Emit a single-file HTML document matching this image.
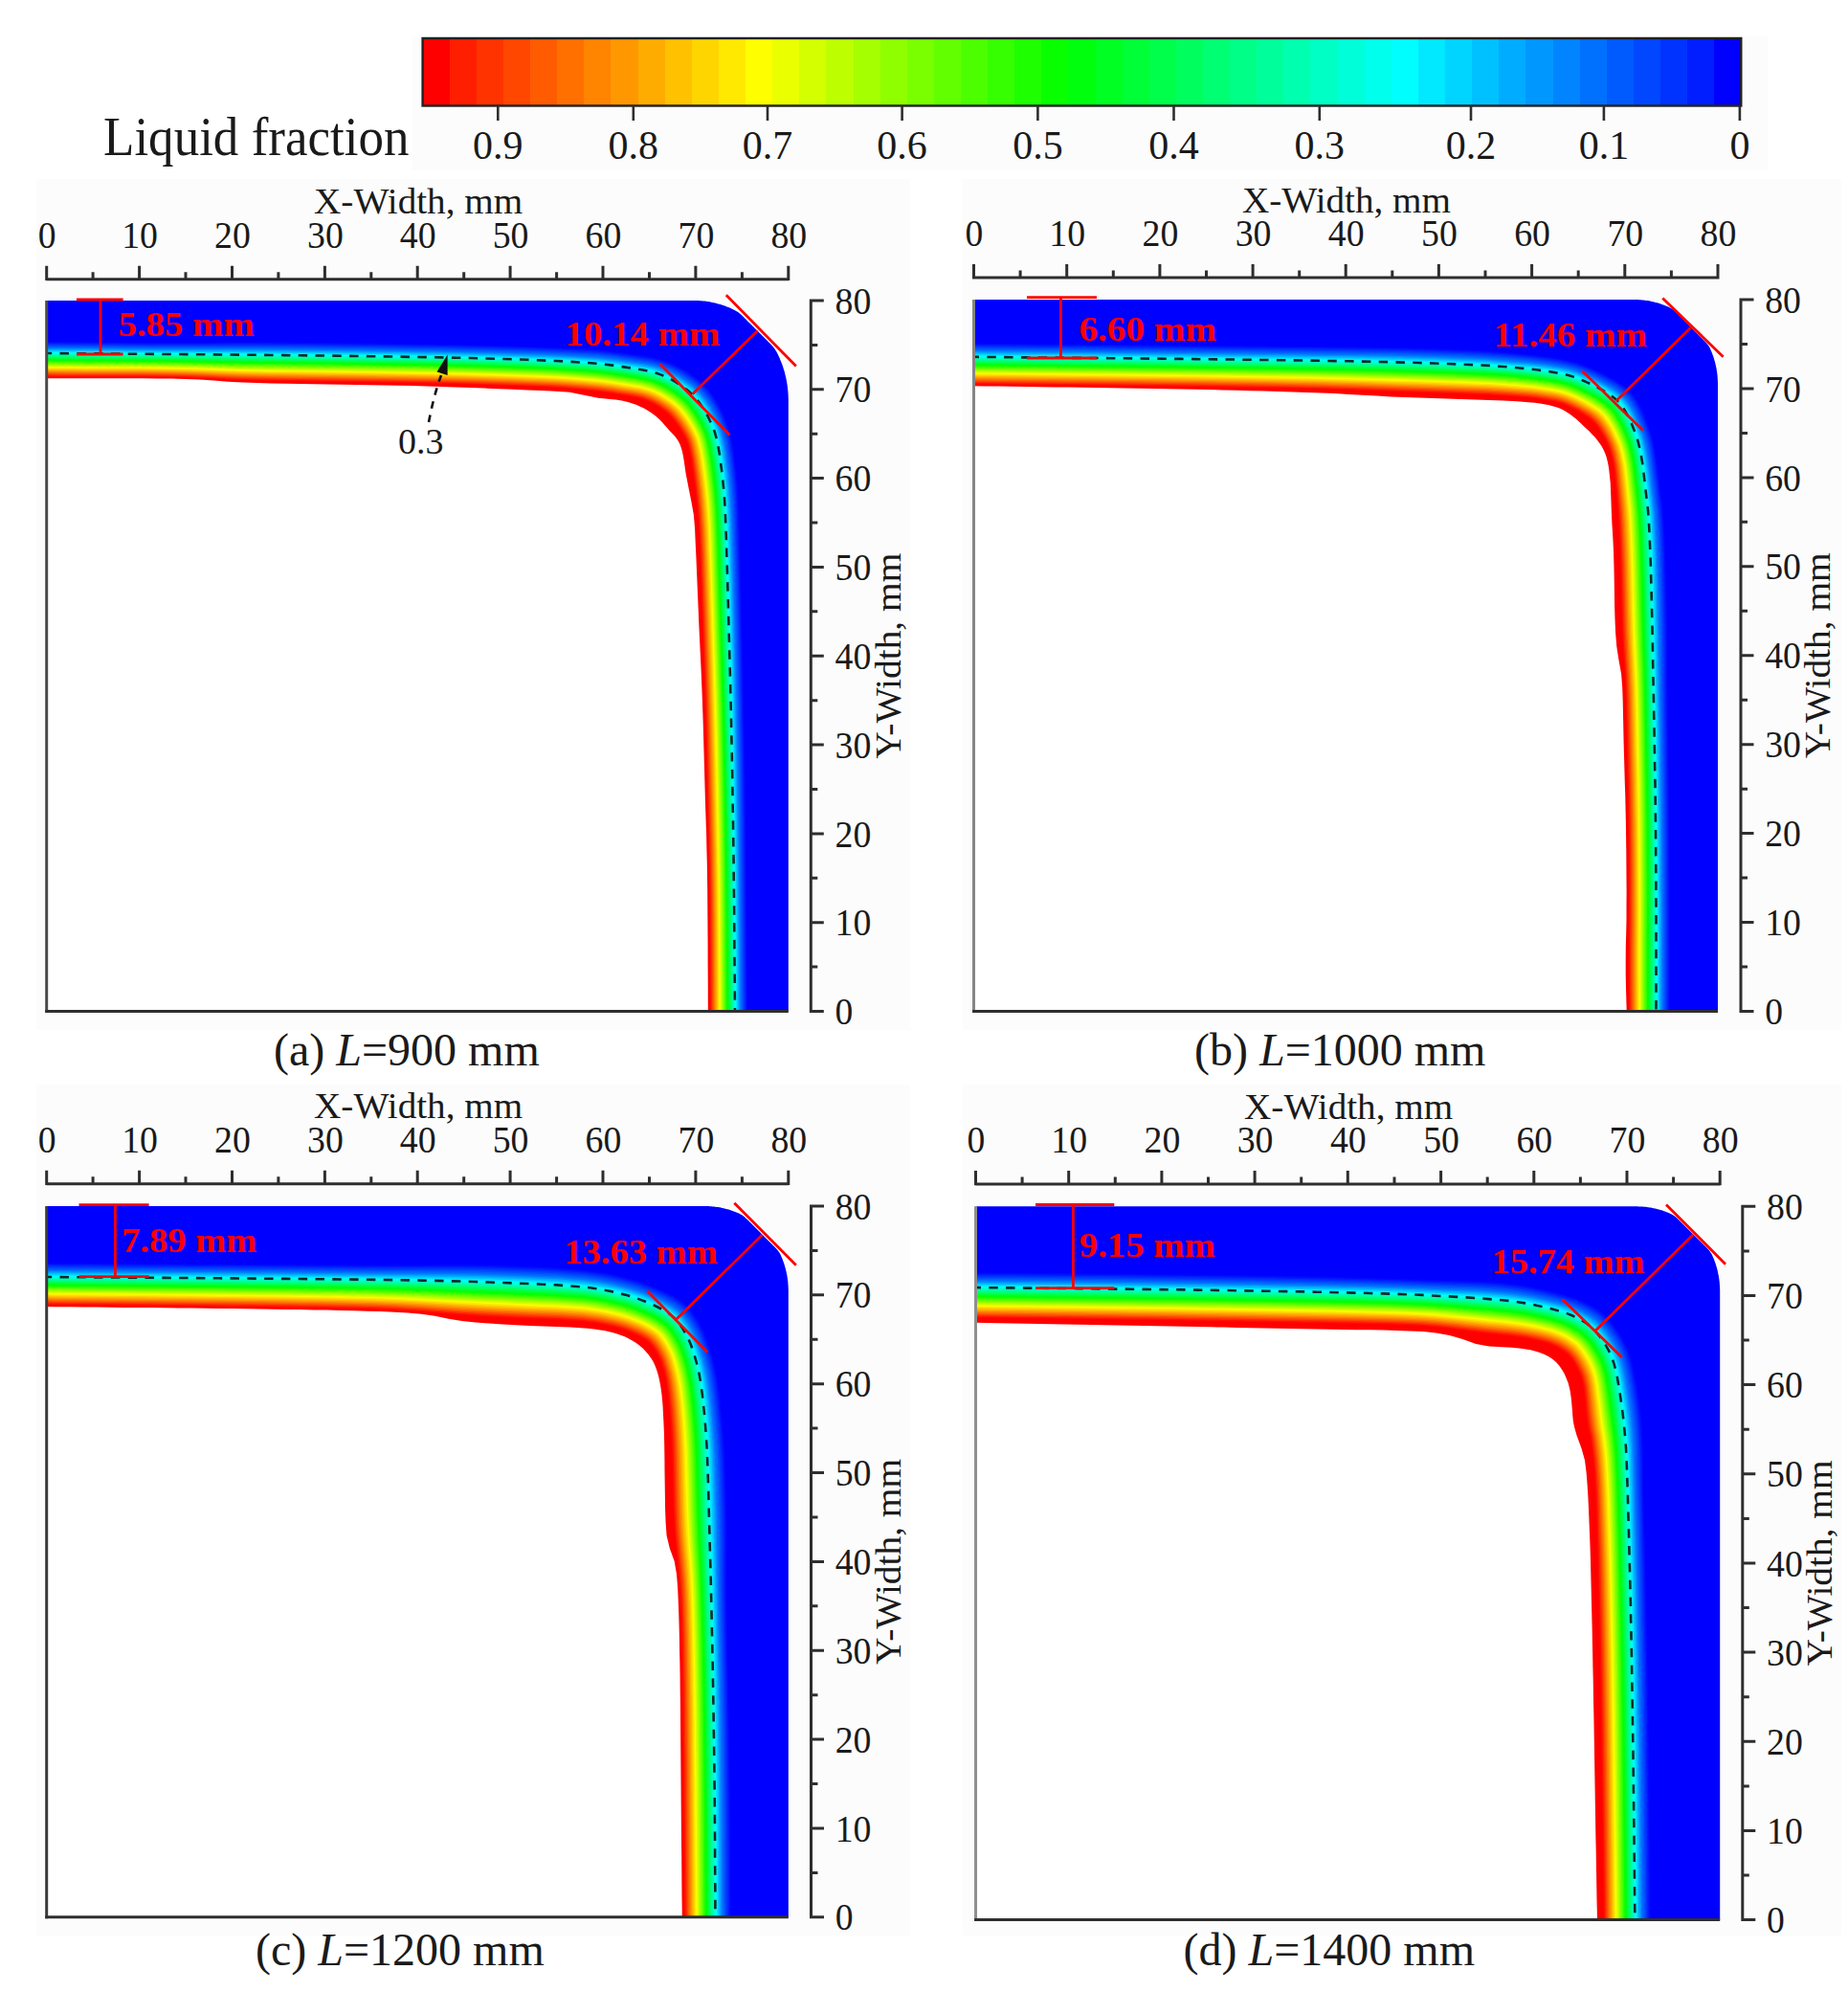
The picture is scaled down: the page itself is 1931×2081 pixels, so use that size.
<!DOCTYPE html>
<html lang="en"><head><meta charset="utf-8"><title>Liquid fraction contours</title>
<style>html,body{margin:0;padding:0;background:#fff}svg{display:block}text{font-family:"Liberation Serif", "Times New Roman", serif;fill:#1a1a1a}.t{font-size:38px}.tk{font-size:41px}.cb{font-size:42px}.cap{font-size:48px}.ttl{font-size:58px}.r{font-weight:bold;fill:#ff0000;font-size:36px}.rl{stroke:#ff0000;stroke-width:2.8;fill:none}.ax{stroke:#2e2e2e;stroke-width:3;fill:none}</style></head><body>
<svg width="1931" height="2081" viewBox="0 0 1931 2081">
<rect width="1931" height="2081" fill="#ffffff"/>
<g fill="#fcfcfc">
<rect x="430" y="38" width="1417" height="140"/>
<rect x="38" y="187" width="913" height="889"/>
<rect x="1006" y="187" width="918" height="889"/>
<rect x="38" y="1133" width="913" height="889"/>
<rect x="1006" y="1133" width="918" height="889"/>
</g>
<g shape-rendering="crispEdges">
<rect x="441.6" y="40" width="28.7" height="70.5" fill="#ff0000"/>
<rect x="469.7" y="40" width="28.7" height="70.5" fill="#ff1e00"/>
<rect x="497.8" y="40" width="28.7" height="70.5" fill="#ff3300"/>
<rect x="525.9" y="40" width="28.7" height="70.5" fill="#ff4700"/>
<rect x="554.1" y="40" width="28.7" height="70.5" fill="#ff5b00"/>
<rect x="582.2" y="40" width="28.7" height="70.5" fill="#ff7000"/>
<rect x="610.3" y="40" width="28.7" height="70.5" fill="#ff8400"/>
<rect x="638.4" y="40" width="28.7" height="70.5" fill="#ff9800"/>
<rect x="666.5" y="40" width="28.7" height="70.5" fill="#ffac00"/>
<rect x="694.6" y="40" width="28.7" height="70.5" fill="#ffc100"/>
<rect x="722.8" y="40" width="28.7" height="70.5" fill="#ffd500"/>
<rect x="750.9" y="40" width="28.7" height="70.5" fill="#ffe900"/>
<rect x="779" y="40" width="28.7" height="70.5" fill="#fffe00"/>
<rect x="807.1" y="40" width="28.7" height="70.5" fill="#eaff00"/>
<rect x="835.2" y="40" width="28.7" height="70.5" fill="#d3ff00"/>
<rect x="863.3" y="40" width="28.7" height="70.5" fill="#bdff00"/>
<rect x="891.5" y="40" width="28.7" height="70.5" fill="#a6ff00"/>
<rect x="919.6" y="40" width="28.7" height="70.5" fill="#8fff00"/>
<rect x="947.7" y="40" width="28.7" height="70.5" fill="#79ff00"/>
<rect x="975.8" y="40" width="28.7" height="70.5" fill="#62ff00"/>
<rect x="1003.9" y="40" width="28.7" height="70.5" fill="#4cff00"/>
<rect x="1032" y="40" width="28.7" height="70.5" fill="#35ff00"/>
<rect x="1060.2" y="40" width="28.7" height="70.5" fill="#1eff00"/>
<rect x="1088.3" y="40" width="28.7" height="70.5" fill="#08ff00"/>
<rect x="1116.4" y="40" width="28.7" height="70.5" fill="#00ff0d"/>
<rect x="1144.5" y="40" width="28.7" height="70.5" fill="#00ff22"/>
<rect x="1172.6" y="40" width="28.7" height="70.5" fill="#00ff36"/>
<rect x="1200.7" y="40" width="28.7" height="70.5" fill="#00ff4a"/>
<rect x="1228.9" y="40" width="28.7" height="70.5" fill="#00ff5e"/>
<rect x="1257" y="40" width="28.7" height="70.5" fill="#00ff73"/>
<rect x="1285.1" y="40" width="28.7" height="70.5" fill="#00ff87"/>
<rect x="1313.2" y="40" width="28.7" height="70.5" fill="#00ff9b"/>
<rect x="1341.3" y="40" width="28.7" height="70.5" fill="#00ffaf"/>
<rect x="1369.4" y="40" width="28.7" height="70.5" fill="#00ffc4"/>
<rect x="1397.6" y="40" width="28.7" height="70.5" fill="#00ffd8"/>
<rect x="1425.7" y="40" width="28.7" height="70.5" fill="#00ffec"/>
<rect x="1453.8" y="40" width="28.7" height="70.5" fill="#00feff"/>
<rect x="1481.9" y="40" width="28.7" height="70.5" fill="#00e9ff"/>
<rect x="1510" y="40" width="28.7" height="70.5" fill="#00d5ff"/>
<rect x="1538.1" y="40" width="28.7" height="70.5" fill="#00c1ff"/>
<rect x="1566.3" y="40" width="28.7" height="70.5" fill="#00acff"/>
<rect x="1594.4" y="40" width="28.7" height="70.5" fill="#0098ff"/>
<rect x="1622.5" y="40" width="28.7" height="70.5" fill="#0084ff"/>
<rect x="1650.6" y="40" width="28.7" height="70.5" fill="#0070ff"/>
<rect x="1678.7" y="40" width="28.7" height="70.5" fill="#005bff"/>
<rect x="1706.8" y="40" width="28.7" height="70.5" fill="#0047ff"/>
<rect x="1735" y="40" width="28.7" height="70.5" fill="#0033ff"/>
<rect x="1763.1" y="40" width="28.7" height="70.5" fill="#001eff"/>
<rect x="1791.2" y="40" width="28.7" height="70.5" fill="#0000ff"/>
</g>
<rect x="441.6" y="40" width="1377.7" height="70.5" fill="none" stroke="#222" stroke-width="2.4"/>
<path class="ax" style="stroke-width:2.6" d="M520.3 110.5V126M661.8 110.5V126M802 110.5V126M942.6 110.5V126M1084.4 110.5V126M1226.5 110.5V126M1378.8 110.5V126M1537 110.5V126M1675.9 110.5V126M1817.9 110.5V126"/>
<text class="cb" x="520.3" y="165.5" text-anchor="middle">0.9</text>
<text class="cb" x="661.8" y="165.5" text-anchor="middle">0.8</text>
<text class="cb" x="802" y="165.5" text-anchor="middle">0.7</text>
<text class="cb" x="942.6" y="165.5" text-anchor="middle">0.6</text>
<text class="cb" x="1084.4" y="165.5" text-anchor="middle">0.5</text>
<text class="cb" x="1226.5" y="165.5" text-anchor="middle">0.4</text>
<text class="cb" x="1378.8" y="165.5" text-anchor="middle">0.3</text>
<text class="cb" x="1537" y="165.5" text-anchor="middle">0.2</text>
<text class="cb" x="1675.9" y="165.5" text-anchor="middle">0.1</text>
<text class="cb" x="1817.9" y="165.5" text-anchor="middle">0</text>
<text class="ttl" x="108" y="161.5" textLength="319.5" lengthAdjust="spacingAndGlyphs">Liquid fraction</text>
<g id="panel-a">
<clipPath id="clip-a"><path d="M48.7 314L725.8 314 726.2 314 727 314 728.2 314.1 729.8 314.1 731.4 314.2 733 314.3 734.6 314.5 736.2 314.6 737.8 314.8 739.4 315.1 741 315.3 742.5 315.6 744.1 315.9 745.7 316.2 747.3 316.6 748.8 317 750.4 317.4 751.9 317.8 753.5 318.3 755 318.8 756.5 319.3 758 319.8 759.6 320.4 761.1 321 762.5 321.6 764 322.3 765.5 323 767 323.7 768.4 324.4 769.7 325.3 771.1 326.1 772.3 327.1 773.6 328 774.8 329.1 776 330.2 777.1 331.3 778.2 332.4 779.4 333.6 780.5 334.7 781.7 335.9 782.8 337 784 338.2 785.1 339.3 786.3 340.5 787.4 341.6 788.6 342.8 789.8 344 790.9 345.1 792.1 346.3 793.3 347.5 794.4 348.6 795.6 349.8 796.8 351 797.9 352.1 799.1 353.3 800.3 354.5 801.4 355.6 802.6 356.8 803.8 358 804.9 359.1 806 360.3 807.1 361.5 808.2 362.8 809.2 364.1 810.1 365.4 811 366.8 811.8 368.3 812.6 369.8 813.3 371.3 814 372.8 814.7 374.3 815.3 375.9 816 377.4 816.6 379 817.2 380.6 817.8 382.2 818.3 383.8 818.8 385.4 819.3 387 819.8 388.6 820.2 390.3 820.6 391.9 821 393.6 821.4 395.2 821.7 396.9 822 398.6 822.3 400.2 822.6 401.9 822.8 403.6 823 405.3 823.2 407 823.4 408.7 823.5 410.4 823.6 412.1 823.7 413.7 823.7 415.4 823.8 416.7 823.8 417.6 823.8 418 V1056.5H48.7Z"/></clipPath>
<path d="M48.7 314L725.8 314 726.2 314 727 314 728.2 314.1 729.8 314.1 731.4 314.2 733 314.3 734.6 314.5 736.2 314.6 737.8 314.8 739.4 315.1 741 315.3 742.5 315.6 744.1 315.9 745.7 316.2 747.3 316.6 748.8 317 750.4 317.4 751.9 317.8 753.5 318.3 755 318.8 756.5 319.3 758 319.8 759.6 320.4 761.1 321 762.5 321.6 764 322.3 765.5 323 767 323.7 768.4 324.4 769.7 325.3 771.1 326.1 772.3 327.1 773.6 328 774.8 329.1 776 330.2 777.1 331.3 778.2 332.4 779.4 333.6 780.5 334.7 781.7 335.9 782.8 337 784 338.2 785.1 339.3 786.3 340.5 787.4 341.6 788.6 342.8 789.8 344 790.9 345.1 792.1 346.3 793.3 347.5 794.4 348.6 795.6 349.8 796.8 351 797.9 352.1 799.1 353.3 800.3 354.5 801.4 355.6 802.6 356.8 803.8 358 804.9 359.1 806 360.3 807.1 361.5 808.2 362.8 809.2 364.1 810.1 365.4 811 366.8 811.8 368.3 812.6 369.8 813.3 371.3 814 372.8 814.7 374.3 815.3 375.9 816 377.4 816.6 379 817.2 380.6 817.8 382.2 818.3 383.8 818.8 385.4 819.3 387 819.8 388.6 820.2 390.3 820.6 391.9 821 393.6 821.4 395.2 821.7 396.9 822 398.6 822.3 400.2 822.6 401.9 822.8 403.6 823 405.3 823.2 407 823.4 408.7 823.5 410.4 823.6 412.1 823.7 413.7 823.7 415.4 823.8 416.7 823.8 417.6 823.8 418 V1056.5H48.7Z" fill="#0000ff"/>
<g clip-path="url(#clip-a)">
<polygon points="42.7,356.8 44.7,356.8 59.6,357 74.5,357.1 89.3,357.3 104.2,357.5 119.1,357.6 134,357.8 148.9,357.9 163.8,358 178.6,358 193.5,358 208.4,357.9 223.3,357.7 238.2,357.5 253.1,357.4 267.9,357.4 282.8,357.5 297.7,357.6 312.6,357.8 327.5,357.9 342.3,358.1 357.2,358.3 372.1,358.4 387,358.6 401.9,358.8 416.8,359 431.6,359.3 446.5,359.5 461.4,359.7 476.3,360 491.2,360.3 506.1,360.6 520.9,361 535.8,361.5 550.7,361.9 565.6,362.5 580.5,363.1 595.4,363.7 610.2,364.3 625.1,365.2 640,366.9 645.9,367.7 651.7,368.5 657.5,369.4 663.3,370.2 669.2,371.1 675.1,372 681,373.1 687,374.4 692.9,376.1 698.8,378.2 704.5,380.7 710.1,383.5 715.7,386.6 721,390 726.3,393.7 731.5,397.6 736.2,402.1 740.6,406.9 744.6,412.1 748.2,417.5 751.5,423.2 754.4,429 757.1,435 759.6,441.1 761.8,447.4 763.5,453.8 764.8,460.2 766,466.8 767,473.3 767.8,480 769.6,494.5 770.9,509 771.7,523.5 772.3,538 772.7,552.6 773,567.1 773.4,581.6 773.8,596.1 774.2,610.6 774.6,625.1 774.9,639.6 775.3,654.1 775.6,668.7 776,683.2 776.3,697.7 776.6,712.2 776.9,726.7 777.2,741.2 777.5,755.7 777.8,770.2 778.1,784.8 778.3,799.3 778.6,813.8 778.8,828.3 779,842.8 779.1,857.3 779.3,871.8 779.4,886.4 779.5,900.9 779.7,915.4 779.8,929.9 780,944.4 780.1,958.9 780.3,973.4 780.4,987.9 780.5,1002.5 780.7,1017 780.8,1031.5 780.9,1046 781.1,1060.5 781.1,1062.5 42.7,1062.5" fill="#0009ff"/>
<polygon points="42.7,357.8 44.7,357.8 59.6,358 74.5,358.2 89.3,358.3 104.2,358.5 119.1,358.6 134,358.8 148.9,358.9 163.8,359 178.6,359 193.5,359 208.4,358.9 223.3,358.8 238.2,358.6 253.1,358.5 267.9,358.6 282.8,358.6 297.7,358.8 312.6,358.9 327.5,359.1 342.3,359.2 357.2,359.4 372.1,359.6 387,359.8 401.9,360 416.8,360.2 431.6,360.4 446.5,360.6 461.4,360.9 476.3,361.1 491.2,361.4 506.1,361.8 520.9,362.2 535.8,362.6 550.7,363.1 565.6,363.6 580.5,364.2 595.4,364.9 610.2,365.5 625.1,366.5 640,368.2 645.8,368.9 651.6,369.8 657.3,370.6 663.1,371.4 668.9,372.3 674.7,373.2 680.6,374.3 686.5,375.5 692.4,377.3 698.1,379.3 703.8,381.7 709.4,384.5 714.8,387.6 720.2,391 725.4,394.6 730.5,398.5 735.2,402.9 739.5,407.7 743.5,412.8 747.1,418.2 750.3,423.8 753.2,429.6 755.9,435.5 758.4,441.5 760.5,447.7 762.2,454 763.6,460.4 764.7,466.9 765.7,473.4 766.6,480 768.3,494.5 769.7,509 770.5,523.5 771.1,538 771.5,552.6 771.9,567.1 772.3,581.6 772.7,596.1 773,610.6 773.4,625.1 773.8,639.6 774.1,654.1 774.5,668.7 774.8,683.2 775.2,697.7 775.5,712.2 775.8,726.7 776.1,741.2 776.4,755.7 776.7,770.2 777,784.8 777.2,799.3 777.5,813.8 777.7,828.3 777.9,842.8 778,857.3 778.2,871.8 778.3,886.4 778.4,900.9 778.6,915.4 778.7,929.9 778.9,944.4 779,958.9 779.2,973.4 779.3,987.9 779.4,1002.5 779.6,1017 779.7,1031.5 779.8,1046 780,1060.5 780,1062.5 42.7,1062.5" fill="#001bff"/>
<polygon points="42.7,358.9 44.7,358.9 59.6,359 74.5,359.2 89.3,359.3 104.2,359.5 119.1,359.6 134,359.7 148.9,359.9 163.8,360 178.6,360 193.5,360 208.4,360 223.3,359.8 238.2,359.7 253.1,359.6 267.9,359.7 282.8,359.8 297.7,359.9 312.6,360 327.5,360.2 342.3,360.4 357.2,360.5 372.1,360.7 387,360.9 401.9,361.1 416.8,361.3 431.6,361.5 446.5,361.8 461.4,362 476.3,362.3 491.2,362.6 506.1,362.9 520.9,363.3 535.8,363.8 550.7,364.3 565.6,364.8 580.5,365.4 595.4,366 610.2,366.7 625.1,367.7 640,369.4 645.8,370.2 651.5,371 657.1,371.8 662.8,372.6 668.5,373.5 674.3,374.4 680.1,375.4 686,376.7 691.8,378.4 697.5,380.4 703.1,382.8 708.6,385.6 714,388.6 719.3,392 724.4,395.6 729.5,399.4 734.1,403.8 738.4,408.5 742.4,413.5 745.9,418.9 749.1,424.4 752,430.1 754.7,436 757.1,441.9 759.3,448 761,454.3 762.3,460.6 763.4,467 764.4,473.5 765.3,480 767.1,494.5 768.4,509 769.3,523.5 769.9,538 770.3,552.6 770.7,567.1 771.1,581.6 771.5,596.1 771.9,610.6 772.3,625.1 772.6,639.6 773,654.1 773.3,668.7 773.7,683.2 774,697.7 774.4,712.2 774.7,726.7 775,741.2 775.3,755.7 775.6,770.2 775.9,784.8 776.1,799.3 776.4,813.8 776.6,828.3 776.8,842.8 777,857.3 777.1,871.8 777.2,886.4 777.4,900.9 777.5,915.4 777.7,929.9 777.8,944.4 778,958.9 778.1,973.4 778.2,987.9 778.4,1002.5 778.5,1017 778.6,1031.5 778.7,1046 778.9,1060.5 778.9,1062.5 42.7,1062.5" fill="#002dff"/>
<polygon points="42.7,359.9 44.7,359.9 59.6,360 74.5,360.2 89.3,360.3 104.2,360.5 119.1,360.6 134,360.7 148.9,360.9 163.8,360.9 178.6,361 193.5,361 208.4,361 223.3,360.9 238.2,360.8 253.1,360.7 267.9,360.8 282.8,360.9 297.7,361 312.6,361.2 327.5,361.3 342.3,361.5 357.2,361.7 372.1,361.8 387,362 401.9,362.2 416.8,362.4 431.6,362.7 446.5,362.9 461.4,363.1 476.3,363.4 491.2,363.7 506.1,364.1 520.9,364.5 535.8,364.9 550.7,365.4 565.6,365.9 580.5,366.5 595.4,367.2 610.2,367.9 625.1,368.9 640,370.6 645.7,371.4 651.3,372.2 656.9,373 662.6,373.8 668.2,374.7 673.9,375.6 679.7,376.6 685.5,377.9 691.2,379.5 696.8,381.6 702.4,383.9 707.8,386.6 713.2,389.7 718.4,393 723.5,396.5 728.5,400.3 733.1,404.6 737.3,409.3 741.2,414.3 744.7,419.5 747.9,425 750.8,430.7 753.5,436.4 755.9,442.3 758,448.4 759.7,454.6 761,460.8 762.2,467.2 763.2,473.5 764,480 765.8,494.5 767.2,509 768.1,523.5 768.7,538 769.1,552.6 769.5,567.1 769.9,581.6 770.3,596.1 770.7,610.6 771.1,625.1 771.5,639.6 771.8,654.1 772.2,668.7 772.6,683.2 772.9,697.7 773.2,712.2 773.5,726.7 773.9,741.2 774.2,755.7 774.5,770.2 774.7,784.8 775,799.3 775.3,813.8 775.5,828.3 775.7,842.8 775.9,857.3 776,871.8 776.1,886.4 776.3,900.9 776.4,915.4 776.6,929.9 776.7,944.4 776.9,958.9 777,973.4 777.2,987.9 777.3,1002.5 777.4,1017 777.5,1031.5 777.7,1046 777.8,1060.5 777.8,1062.5 42.7,1062.5" fill="#003eff"/>
<polygon points="42.7,360.9 44.7,360.9 59.6,361 74.5,361.2 89.3,361.3 104.2,361.5 119.1,361.6 134,361.7 148.9,361.8 163.8,361.9 178.6,362 193.5,362.1 208.4,362 223.3,361.9 238.2,361.9 253.1,361.8 267.9,361.9 282.8,362 297.7,362.1 312.6,362.3 327.5,362.4 342.3,362.6 357.2,362.8 372.1,363 387,363.1 401.9,363.4 416.8,363.6 431.6,363.8 446.5,364 461.4,364.3 476.3,364.6 491.2,364.9 506.1,365.2 520.9,365.7 535.8,366.1 550.7,366.6 565.6,367.1 580.5,367.7 595.4,368.4 610.2,369.1 625.1,370.1 640,371.8 645.6,372.6 651.2,373.4 656.8,374.2 662.3,375 667.9,375.9 673.5,376.8 679.2,377.8 685,379 690.6,380.7 696.2,382.7 701.7,385 707.1,387.7 712.3,390.7 717.5,393.9 722.5,397.5 727.5,401.2 732,405.5 736.2,410.1 740.1,415 743.6,420.2 746.7,425.6 749.6,431.2 752.2,436.9 754.7,442.7 756.8,448.7 758.5,454.8 759.8,461 760.9,467.3 761.9,473.6 762.8,480 764.6,494.5 766,509 766.9,523.5 767.5,538 768,552.6 768.4,567.1 768.8,581.6 769.2,596.1 769.6,610.6 769.9,625.1 770.3,639.6 770.7,654.1 771.1,668.7 771.4,683.2 771.8,697.7 772.1,712.2 772.4,726.7 772.7,741.2 773,755.7 773.4,770.2 773.6,784.8 773.9,799.3 774.2,813.8 774.4,828.3 774.6,842.8 774.8,857.3 774.9,871.8 775.1,886.4 775.2,900.9 775.4,915.4 775.5,929.9 775.7,944.4 775.8,958.9 775.9,973.4 776.1,987.9 776.2,1002.5 776.3,1017 776.4,1031.5 776.6,1046 776.7,1060.5 776.7,1062.5 42.7,1062.5" fill="#0050ff"/>
<polygon points="42.7,361.9 44.7,361.9 59.6,362 74.5,362.2 89.3,362.3 104.2,362.5 119.1,362.6 134,362.7 148.9,362.8 163.8,362.9 178.6,363 193.5,363.1 208.4,363.1 223.3,363 238.2,362.9 253.1,362.9 267.9,363 282.8,363.1 297.7,363.3 312.6,363.4 327.5,363.6 342.3,363.7 357.2,363.9 372.1,364.1 387,364.3 401.9,364.5 416.8,364.7 431.6,364.9 446.5,365.2 461.4,365.4 476.3,365.7 491.2,366 506.1,366.4 520.9,366.8 535.8,367.3 550.7,367.7 565.6,368.3 580.5,368.9 595.4,369.6 610.2,370.3 625.1,371.3 640,373 645.6,373.8 651.1,374.6 656.6,375.4 662.1,376.2 667.6,377.1 673.2,378 678.8,379 684.4,380.2 690,381.8 695.5,383.8 701,386.1 706.3,388.8 711.5,391.7 716.6,394.9 721.6,398.4 726.5,402.1 731,406.3 735.1,410.9 738.9,415.7 742.4,420.9 745.5,426.2 748.4,431.7 751,437.4 753.4,443.1 755.6,449 757.2,455.1 758.5,461.2 759.6,467.4 760.6,473.7 761.5,480 763.3,494.5 764.7,509 765.7,523.5 766.3,538 766.8,552.6 767.2,567.1 767.6,581.6 768,596.1 768.4,610.6 768.8,625.1 769.2,639.6 769.5,654.1 769.9,668.7 770.3,683.2 770.6,697.7 771,712.2 771.3,726.7 771.6,741.2 771.9,755.7 772.2,770.2 772.5,784.8 772.8,799.3 773,813.8 773.3,828.3 773.5,842.8 773.7,857.3 773.8,871.8 774,886.4 774.1,900.9 774.3,915.4 774.4,929.9 774.6,944.4 774.7,958.9 774.9,973.4 775,987.9 775.1,1002.5 775.2,1017 775.4,1031.5 775.5,1046 775.6,1060.5 775.6,1062.5 42.7,1062.5" fill="#0062ff"/>
<polygon points="42.7,362.9 44.7,362.9 59.6,363.1 74.5,363.2 89.3,363.3 104.2,363.5 119.1,363.6 134,363.7 148.9,363.8 163.8,363.9 178.6,364 193.5,364.1 208.4,364.1 223.3,364 238.2,364 253.1,364 267.9,364.1 282.8,364.2 297.7,364.4 312.6,364.5 327.5,364.7 342.3,364.9 357.2,365 372.1,365.2 387,365.4 401.9,365.6 416.8,365.8 431.6,366.1 446.5,366.3 461.4,366.6 476.3,366.9 491.2,367.2 506.1,367.5 520.9,368 535.8,368.4 550.7,368.9 565.6,369.4 580.5,370 595.4,370.7 610.2,371.5 625.1,372.5 640,374.3 645.5,375 650.9,375.8 656.4,376.6 661.8,377.4 667.3,378.3 672.8,379.1 678.3,380.1 683.9,381.3 689.4,383 694.9,384.9 700.3,387.2 705.5,389.8 710.7,392.7 715.7,395.9 720.6,399.4 725.5,403 729.9,407.2 734,411.7 737.8,416.5 741.2,421.6 744.3,426.8 747.2,432.3 749.8,437.9 752.2,443.5 754.3,449.4 756,455.4 757.3,461.4 758.4,467.6 759.4,473.7 760.2,480 762,494.5 763.5,509 764.4,523.5 765.1,538 765.6,552.6 766,567.1 766.4,581.6 766.8,596.1 767.2,610.6 767.6,625.1 768,639.6 768.4,654.1 768.8,668.7 769.1,683.2 769.5,697.7 769.8,712.2 770.2,726.7 770.5,741.2 770.8,755.7 771.1,770.2 771.4,784.8 771.7,799.3 771.9,813.8 772.2,828.3 772.4,842.8 772.6,857.3 772.7,871.8 772.9,886.4 773,900.9 773.2,915.4 773.4,929.9 773.5,944.4 773.7,958.9 773.8,973.4 773.9,987.9 774,1002.5 774.2,1017 774.3,1031.5 774.4,1046 774.5,1060.5 774.5,1062.5 42.7,1062.5" fill="#0074ff"/>
<polygon points="42.7,363.9 44.7,363.9 59.6,364.1 74.5,364.2 89.3,364.3 104.2,364.4 119.1,364.6 134,364.7 148.9,364.8 163.8,364.9 178.6,365 193.5,365.1 208.4,365.1 223.3,365.1 238.2,365.1 253.1,365.1 267.9,365.2 282.8,365.4 297.7,365.5 312.6,365.7 327.5,365.8 342.3,366 357.2,366.2 372.1,366.3 387,366.5 401.9,366.7 416.8,367 431.6,367.2 446.5,367.4 461.4,367.7 476.3,368 491.2,368.3 506.1,368.7 520.9,369.1 535.8,369.6 550.7,370 565.6,370.6 580.5,371.2 595.4,371.9 610.2,372.7 625.1,373.7 640,375.5 645.4,376.3 650.8,377 656.2,377.8 661.5,378.6 666.9,379.4 672.4,380.3 677.9,381.3 683.4,382.5 688.9,384.1 694.2,386 699.5,388.3 704.7,390.9 709.8,393.8 714.8,396.9 719.7,400.3 724.5,403.9 728.9,408 732.9,412.5 736.7,417.2 740.1,422.2 743.2,427.4 746,432.8 748.6,438.3 751,443.9 753.1,449.7 754.7,455.6 756,461.6 757.1,467.7 758.1,473.8 759,480 760.8,494.5 762.2,509 763.2,523.5 763.9,538 764.4,552.6 764.9,567.1 765.3,581.6 765.7,596.1 766.1,610.6 766.5,625.1 766.9,639.6 767.3,654.1 767.6,668.7 768,683.2 768.4,697.7 768.7,712.2 769.1,726.7 769.4,741.2 769.7,755.7 770,770.2 770.3,784.8 770.6,799.3 770.8,813.8 771,828.3 771.3,842.8 771.5,857.3 771.6,871.8 771.8,886.4 772,900.9 772.1,915.4 772.3,929.9 772.4,944.4 772.6,958.9 772.7,973.4 772.8,987.9 773,1002.5 773.1,1017 773.2,1031.5 773.3,1046 773.4,1060.5 773.4,1062.5 42.7,1062.5" fill="#008fff"/>
<polygon points="42.7,364.9 44.7,364.9 59.6,365.1 74.5,365.2 89.3,365.3 104.2,365.4 119.1,365.6 134,365.7 148.9,365.8 163.8,365.9 178.6,366 193.5,366.1 208.4,366.1 223.3,366.2 238.2,366.2 253.1,366.3 267.9,366.3 282.8,366.5 297.7,366.6 312.6,366.8 327.5,366.9 342.3,367.1 357.2,367.3 372.1,367.5 387,367.7 401.9,367.9 416.8,368.1 431.6,368.3 446.5,368.6 461.4,368.8 476.3,369.1 491.2,369.5 506.1,369.8 520.9,370.3 535.8,370.7 550.7,371.2 565.6,371.7 580.5,372.4 595.4,373.1 610.2,373.9 625.1,375 640,376.7 645.4,377.5 650.7,378.3 656,379 661.3,379.8 666.6,380.6 672,381.5 677.4,382.5 682.9,383.7 688.3,385.3 693.6,387.2 698.8,389.4 704,392 709,394.8 713.9,397.9 718.8,401.2 723.5,404.8 727.8,408.9 731.8,413.3 735.5,418 738.9,422.9 742,428 744.7,433.4 747.3,438.8 749.7,444.4 751.8,450 753.5,455.9 754.7,461.8 755.9,467.8 756.8,473.9 757.7,480 759.5,494.5 761,509 762,523.5 762.7,538 763.3,552.6 763.7,567.1 764.1,581.6 764.5,596.1 764.9,610.6 765.3,625.1 765.7,639.6 766.1,654.1 766.5,668.7 766.9,683.2 767.2,697.7 767.6,712.2 767.9,726.7 768.3,741.2 768.6,755.7 768.9,770.2 769.2,784.8 769.4,799.3 769.7,813.8 769.9,828.3 770.2,842.8 770.4,857.3 770.5,871.8 770.7,886.4 770.9,900.9 771.1,915.4 771.2,929.9 771.4,944.4 771.5,958.9 771.6,973.4 771.8,987.9 771.9,1002.5 772,1017 772.1,1031.5 772.2,1046 772.3,1060.5 772.3,1062.5 42.7,1062.5" fill="#00adff"/>
<polygon points="42.7,366 44.7,366 59.6,366.1 74.5,366.2 89.3,366.3 104.2,366.4 119.1,366.6 134,366.7 148.9,366.8 163.8,366.9 178.6,367 193.5,367.1 208.4,367.2 223.3,367.2 238.2,367.3 253.1,367.4 267.9,367.5 282.8,367.6 297.7,367.7 312.6,367.9 327.5,368.1 342.3,368.2 357.2,368.4 372.1,368.6 387,368.8 401.9,369 416.8,369.2 431.6,369.5 446.5,369.7 461.4,370 476.3,370.3 491.2,370.6 506.1,371 520.9,371.4 535.8,371.9 550.7,372.4 565.6,372.9 580.5,373.5 595.4,374.3 610.2,375.1 625.1,376.2 640,377.9 645.3,378.7 650.6,379.5 655.8,380.2 661,381 666.3,381.8 671.6,382.7 677,383.7 682.4,384.8 687.7,386.4 692.9,388.3 698.1,390.5 703.2,393 708.2,395.8 713,398.9 717.8,402.2 722.5,405.8 726.8,409.7 730.8,414.1 734.4,418.7 737.7,423.6 740.8,428.7 743.5,433.9 746.1,439.3 748.5,444.8 750.6,450.4 752.2,456.2 753.5,462 754.6,468 755.6,473.9 756.4,480 758.3,494.5 759.8,509 760.8,523.5 761.5,538 762.1,552.6 762.5,567.1 762.9,581.6 763.4,596.1 763.8,610.6 764.2,625.1 764.6,639.6 765,654.1 765.3,668.7 765.7,683.2 766.1,697.7 766.5,712.2 766.8,726.7 767.1,741.2 767.5,755.7 767.8,770.2 768.1,784.8 768.3,799.3 768.6,813.8 768.8,828.3 769.1,842.8 769.3,857.3 769.5,871.8 769.6,886.4 769.8,900.9 770,915.4 770.1,929.9 770.3,944.4 770.4,958.9 770.6,973.4 770.7,987.9 770.8,1002.5 770.9,1017 771,1031.5 771.1,1046 771.3,1060.5 771.3,1062.5 42.7,1062.5" fill="#00caff"/>
<polygon points="42.7,367 44.7,367 59.6,367.1 74.5,367.2 89.3,367.3 104.2,367.4 119.1,367.6 134,367.7 148.9,367.8 163.8,367.9 178.6,368 193.5,368.1 208.4,368.2 223.3,368.3 238.2,368.3 253.1,368.5 267.9,368.6 282.8,368.7 297.7,368.9 312.6,369 327.5,369.2 342.3,369.4 357.2,369.5 372.1,369.7 387,369.9 401.9,370.1 416.8,370.4 431.6,370.6 446.5,370.9 461.4,371.1 476.3,371.4 491.2,371.7 506.1,372.1 520.9,372.6 535.8,373 550.7,373.5 565.6,374.1 580.5,374.7 595.4,375.5 610.2,376.3 625.1,377.4 640,379.2 645.2,379.9 650.4,380.7 655.6,381.5 660.8,382.2 666,383 671.2,383.9 676.5,384.8 681.9,386 687.1,387.5 692.3,389.4 697.4,391.6 702.4,394.1 707.3,396.8 712.1,399.9 716.9,403.1 721.5,406.7 725.7,410.6 729.7,414.9 733.3,419.4 736.6,424.3 739.6,429.3 742.3,434.4 744.9,439.7 747.2,445.2 749.3,450.7 751,456.4 752.2,462.2 753.3,468.1 754.3,474 755.2,480 757,494.5 758.5,509 759.6,523.5 760.3,538 760.9,552.6 761.3,567.1 761.8,581.6 762.2,596.1 762.6,610.6 763,625.1 763.4,639.6 763.8,654.1 764.2,668.7 764.6,683.2 765,697.7 765.3,712.2 765.7,726.7 766,741.2 766.3,755.7 766.6,770.2 766.9,784.8 767.2,799.3 767.5,813.8 767.7,828.3 768,842.8 768.2,857.3 768.4,871.8 768.6,886.4 768.7,900.9 768.9,915.4 769.1,929.9 769.2,944.4 769.4,958.9 769.5,973.4 769.6,987.9 769.7,1002.5 769.8,1017 769.9,1031.5 770.1,1046 770.2,1060.5 770.2,1062.5 42.7,1062.5" fill="#00e8ff"/>
<polygon points="42.7,368 44.7,368 59.6,368.1 74.5,368.2 89.3,368.3 104.2,368.4 119.1,368.6 134,368.7 148.9,368.8 163.8,368.9 178.6,369 193.5,369.1 208.4,369.2 223.3,369.3 238.2,369.4 253.1,369.6 267.9,369.7 282.8,369.8 297.7,370 312.6,370.2 327.5,370.3 342.3,370.5 357.2,370.7 372.1,370.9 387,371.1 401.9,371.3 416.8,371.5 431.6,371.7 446.5,372 461.4,372.2 476.3,372.6 491.2,372.9 506.1,373.3 520.9,373.7 535.8,374.2 550.7,374.7 565.6,375.2 580.5,375.9 595.4,376.6 610.2,377.5 625.1,378.6 640,380.4 645.2,381.1 650.3,381.9 655.4,382.7 660.5,383.4 665.7,384.2 670.8,385.1 676.1,386 681.3,387.1 686.5,388.7 691.7,390.5 696.7,392.7 701.7,395.1 706.5,397.9 711.2,400.9 715.9,404.1 720.5,407.6 724.7,411.4 728.6,415.7 732.1,420.2 735.4,424.9 738.4,429.9 741.1,435 743.7,440.2 746,445.6 748.1,451 749.7,456.7 751,462.4 752.1,468.2 753,474.1 753.9,480 755.8,494.5 757.3,509 758.4,523.5 759.1,538 759.7,552.6 760.2,567.1 760.6,581.6 761,596.1 761.4,610.6 761.9,625.1 762.3,639.6 762.7,654.1 763.1,668.7 763.4,683.2 763.8,697.7 764.2,712.2 764.6,726.7 764.9,741.2 765.2,755.7 765.5,770.2 765.8,784.8 766.1,799.3 766.4,813.8 766.6,828.3 766.9,842.8 767.1,857.3 767.3,871.8 767.5,886.4 767.6,900.9 767.8,915.4 768,929.9 768.1,944.4 768.3,958.9 768.4,973.4 768.5,987.9 768.6,1002.5 768.7,1017 768.9,1031.5 769,1046 769.1,1060.5 769.1,1062.5 42.7,1062.5" fill="#00fff8"/>
<polygon points="42.7,369 44.7,369 59.6,369.1 74.5,369.2 89.3,369.3 104.2,369.4 119.1,369.5 134,369.7 148.9,369.8 163.8,369.9 178.6,370 193.5,370.1 208.4,370.2 223.3,370.4 238.2,370.5 253.1,370.7 267.9,370.8 282.8,371 297.7,371.1 312.6,371.3 327.5,371.4 342.3,371.6 357.2,371.8 372.1,372 387,372.2 401.9,372.4 416.8,372.6 431.6,372.9 446.5,373.1 461.4,373.4 476.3,373.7 491.2,374 506.1,374.4 520.9,374.9 535.8,375.3 550.7,375.8 565.6,376.4 580.5,377 595.4,377.8 610.2,378.7 625.1,379.8 640,381.6 645.1,382.4 650.2,383.1 655.2,383.9 660.3,384.6 665.3,385.4 670.5,386.3 675.6,387.2 680.8,388.3 685.9,389.8 691,391.6 696,393.8 700.9,396.2 705.7,398.9 710.4,401.9 715,405 719.5,408.5 723.6,412.3 727.5,416.5 731,420.9 734.2,425.6 737.2,430.5 739.9,435.5 742.4,440.7 744.8,446 746.8,451.4 748.4,456.9 749.7,462.6 750.8,468.4 751.8,474.1 752.6,480 754.5,494.5 756,509 757.2,523.5 757.9,538 758.5,552.6 759,567.1 759.4,581.6 759.9,596.1 760.3,610.6 760.7,625.1 761.1,639.6 761.5,654.1 761.9,668.7 762.3,683.2 762.7,697.7 763.1,712.2 763.4,726.7 763.8,741.2 764.1,755.7 764.4,770.2 764.7,784.8 765,799.3 765.3,813.8 765.5,828.3 765.7,842.8 766,857.3 766.2,871.8 766.4,886.4 766.6,900.9 766.7,915.4 766.9,929.9 767.1,944.4 767.2,958.9 767.3,973.4 767.4,987.9 767.5,1002.5 767.7,1017 767.8,1031.5 767.9,1046 768,1060.5 768,1062.5 42.7,1062.5" fill="#00ffd8"/>
<polygon points="42.7,370 44.7,370 59.6,370.1 74.5,370.2 89.3,370.3 104.2,370.4 119.1,370.5 134,370.6 148.9,370.8 163.8,370.9 178.6,371 193.5,371.1 208.4,371.3 223.3,371.4 238.2,371.6 253.1,371.8 267.9,371.9 282.8,372.1 297.7,372.2 312.6,372.4 327.5,372.6 342.3,372.7 357.2,372.9 372.1,373.1 387,373.3 401.9,373.5 416.8,373.7 431.6,374 446.5,374.3 461.4,374.5 476.3,374.9 491.2,375.2 506.1,375.6 520.9,376 535.8,376.5 550.7,377 565.6,377.5 580.5,378.2 595.4,379 610.2,379.9 625.1,381 640,382.8 645.1,383.6 650.1,384.3 655,385.1 660,385.8 665,386.6 670.1,387.4 675.2,388.3 680.3,389.5 685.4,391 690.4,392.8 695.3,394.9 700.1,397.3 704.8,399.9 709.5,402.8 714,406 718.5,409.4 722.6,413.1 726.4,417.3 729.8,421.7 733,426.3 736,431.1 738.7,436.1 741.2,441.2 743.5,446.4 745.6,451.7 747.2,457.2 748.5,462.8 749.5,468.5 750.5,474.2 751.4,480 753.3,494.5 754.8,509 755.9,523.5 756.7,538 757.4,552.6 757.8,567.1 758.3,581.6 758.7,596.1 759.1,610.6 759.5,625.1 760,639.6 760.4,654.1 760.8,668.7 761.2,683.2 761.6,697.7 761.9,712.2 762.3,726.7 762.7,741.2 763,755.7 763.3,770.2 763.6,784.8 763.9,799.3 764.2,813.8 764.4,828.3 764.6,842.8 764.9,857.3 765.1,871.8 765.3,886.4 765.5,900.9 765.7,915.4 765.8,929.9 766,944.4 766.1,958.9 766.2,973.4 766.4,987.9 766.5,1002.5 766.6,1017 766.7,1031.5 766.8,1046 766.9,1060.5 766.9,1062.5 42.7,1062.5" fill="#00ffb8"/>
<polygon points="42.7,371 44.7,371 59.6,371.1 74.5,371.2 89.3,371.3 104.2,371.4 119.1,371.5 134,371.6 148.9,371.7 163.8,371.9 178.6,372 193.5,372.1 208.4,372.3 223.3,372.5 238.2,372.7 253.1,372.9 267.9,373 282.8,373.2 297.7,373.4 312.6,373.5 327.5,373.7 342.3,373.9 357.2,374.1 372.1,374.2 387,374.4 401.9,374.7 416.8,374.9 431.6,375.1 446.5,375.4 461.4,375.7 476.3,376 491.2,376.3 506.1,376.7 520.9,377.2 535.8,377.6 550.7,378.1 565.6,378.7 580.5,379.4 595.4,380.2 610.2,381.1 625.1,382.3 640,384.1 645,384.8 649.9,385.6 654.8,386.3 659.8,387 664.7,387.8 669.7,388.6 674.7,389.5 679.8,390.6 684.8,392.1 689.7,393.9 694.6,396 699.3,398.3 704,401 708.6,403.8 713.1,406.9 717.5,410.3 721.5,414 725.3,418.1 728.7,422.4 731.9,427 734.8,431.7 737.5,436.6 740,441.6 742.3,446.8 744.4,452 745.9,457.5 747.2,463 748.3,468.6 749.2,474.3 750.1,480 752,494.5 753.6,509 754.7,523.5 755.6,538 756.2,552.6 756.7,567.1 757.1,581.6 757.5,596.1 758,610.6 758.4,625.1 758.8,639.6 759.2,654.1 759.6,668.7 760,683.2 760.4,697.7 760.8,712.2 761.2,726.7 761.5,741.2 761.9,755.7 762.2,770.2 762.5,784.8 762.8,799.3 763,813.8 763.3,828.3 763.5,842.8 763.8,857.3 764,871.8 764.2,886.4 764.4,900.9 764.6,915.4 764.8,929.9 764.9,944.4 765,958.9 765.2,973.4 765.3,987.9 765.4,1002.5 765.5,1017 765.6,1031.5 765.7,1046 765.8,1060.5 765.8,1062.5 42.7,1062.5" fill="#00ff97"/>
<polygon points="42.7,372.1 44.7,372.1 59.6,372.1 74.5,372.2 89.3,372.3 104.2,372.4 119.1,372.5 134,372.6 148.9,372.7 163.8,372.8 178.6,373 193.5,373.1 208.4,373.3 223.3,373.5 238.2,373.8 253.1,374 267.9,374.1 282.8,374.3 297.7,374.5 312.6,374.6 327.5,374.8 342.3,375 357.2,375.2 372.1,375.4 387,375.6 401.9,375.8 416.8,376 431.6,376.3 446.5,376.5 461.4,376.8 476.3,377.1 491.2,377.5 506.1,377.9 520.9,378.3 535.8,378.8 550.7,379.3 565.6,379.8 580.5,380.5 595.4,381.3 610.2,382.3 625.1,383.5 640,385.3 644.9,386 649.8,386.8 654.7,387.5 659.5,388.2 664.4,389 669.3,389.8 674.3,390.7 679.3,391.8 684.2,393.3 689.1,395 693.9,397.1 698.6,399.4 703.2,402 707.7,404.8 712.1,407.9 716.5,411.2 720.5,414.8 724.2,418.8 727.6,423.1 730.7,427.6 733.6,432.3 736.3,437.1 738.8,442.1 741.1,447.2 743.1,452.4 744.7,457.7 745.9,463.2 747,468.8 747.9,474.3 748.8,480 750.7,494.5 752.3,509 753.5,523.5 754.4,538 755,552.6 755.5,567.1 755.9,581.6 756.4,596.1 756.8,610.6 757.2,625.1 757.6,639.6 758.1,654.1 758.5,668.7 758.9,683.2 759.3,697.7 759.7,712.2 760.1,726.7 760.4,741.2 760.7,755.7 761.1,770.2 761.4,784.8 761.6,799.3 761.9,813.8 762.2,828.3 762.4,842.8 762.7,857.3 762.9,871.8 763.1,886.4 763.3,900.9 763.5,915.4 763.7,929.9 763.8,944.4 764,958.9 764.1,973.4 764.2,987.9 764.3,1002.5 764.4,1017 764.5,1031.5 764.6,1046 764.7,1060.5 764.7,1062.5 42.7,1062.5" fill="#00ff77"/>
<polygon points="42.7,373.1 44.7,373.1 59.6,373.2 74.5,373.3 89.3,373.3 104.2,373.4 119.1,373.5 134,373.6 148.9,373.7 163.8,373.8 178.6,374 193.5,374.1 208.4,374.3 223.3,374.6 238.2,374.8 253.1,375.1 267.9,375.3 282.8,375.4 297.7,375.6 312.6,375.8 327.5,375.9 342.3,376.1 357.2,376.3 372.1,376.5 387,376.7 401.9,376.9 416.8,377.1 431.6,377.4 446.5,377.7 461.4,377.9 476.3,378.3 491.2,378.6 506.1,379 520.9,379.5 535.8,380 550.7,380.5 565.6,381 580.5,381.7 595.4,382.5 610.2,383.5 625.1,384.7 640,386.5 644.9,387.3 649.7,388 654.5,388.7 659.3,389.4 664.1,390.2 668.9,391 673.8,391.9 678.8,393 683.6,394.4 688.4,396.1 693.2,398.1 697.8,400.5 702.3,403 706.8,405.8 711.2,408.8 715.5,412.1 719.4,415.7 723.1,419.6 726.4,423.9 729.5,428.3 732.4,432.9 735,437.7 737.5,442.6 739.8,447.6 741.9,452.7 743.4,458 744.7,463.4 745.7,468.9 746.7,474.4 747.6,480 749.5,494.5 751.1,509 752.3,523.5 753.2,538 753.8,552.6 754.3,567.1 754.8,581.6 755.2,596.1 755.6,610.6 756.1,625.1 756.5,639.6 756.9,654.1 757.3,668.7 757.8,683.2 758.2,697.7 758.6,712.2 758.9,726.7 759.3,741.2 759.6,755.7 759.9,770.2 760.2,784.8 760.5,799.3 760.8,813.8 761.1,828.3 761.3,842.8 761.6,857.3 761.8,871.8 762.1,886.4 762.2,900.9 762.4,915.4 762.6,929.9 762.7,944.4 762.9,958.9 763,973.4 763.1,987.9 763.2,1002.5 763.3,1017 763.4,1031.5 763.5,1046 763.6,1060.5 763.6,1062.5 42.7,1062.5" fill="#00ff57"/>
<polygon points="42.7,374.1 44.7,374.1 59.6,374.2 74.5,374.3 89.3,374.3 104.2,374.4 119.1,374.5 134,374.6 148.9,374.7 163.8,374.8 178.6,375 193.5,375.2 208.4,375.4 223.3,375.6 238.2,375.9 253.1,376.2 267.9,376.4 282.8,376.5 297.7,376.7 312.6,376.9 327.5,377.1 342.3,377.3 357.2,377.4 372.1,377.6 387,377.8 401.9,378.1 416.8,378.3 431.6,378.5 446.5,378.8 461.4,379.1 476.3,379.4 491.2,379.8 506.1,380.2 520.9,380.6 535.8,381.1 550.7,381.6 565.6,382.2 580.5,382.8 595.4,383.7 610.2,384.7 625.1,385.9 640,387.7 644.8,388.5 649.5,389.2 654.3,389.9 659,390.6 663.7,391.4 668.5,392.2 673.4,393 678.2,394.1 683,395.5 687.8,397.3 692.4,399.2 697,401.5 701.5,404 705.9,406.8 710.2,409.8 714.5,413 718.4,416.5 722,420.4 725.3,424.6 728.4,429 731.2,433.5 733.8,438.2 736.3,443 738.6,448 740.6,453 742.2,458.3 743.4,463.6 744.5,469 745.4,474.5 746.3,480 748.2,494.5 749.9,509 751.1,523.5 752,538 752.7,552.6 753.2,567.1 753.6,581.6 754.1,596.1 754.5,610.6 754.9,625.1 755.3,639.6 755.8,654.1 756.2,668.7 756.6,683.2 757,697.7 757.4,712.2 757.8,726.7 758.2,741.2 758.5,755.7 758.8,770.2 759.1,784.8 759.4,799.3 759.7,813.8 760,828.3 760.2,842.8 760.5,857.3 760.7,871.8 761,886.4 761.2,900.9 761.4,915.4 761.5,929.9 761.7,944.4 761.8,958.9 761.9,973.4 762,987.9 762.1,1002.5 762.2,1017 762.3,1031.5 762.4,1046 762.5,1060.5 762.5,1062.5 42.7,1062.5" fill="#00ff37"/>
<polygon points="42.7,375.1 44.7,375.1 59.6,375.2 74.5,375.3 89.3,375.3 104.2,375.4 119.1,375.5 134,375.6 148.9,375.7 163.8,375.8 178.6,376 193.5,376.2 208.4,376.4 223.3,376.7 238.2,377 253.1,377.3 267.9,377.5 282.8,377.7 297.7,377.8 312.6,378 327.5,378.2 342.3,378.4 357.2,378.6 372.1,378.8 387,379 401.9,379.2 416.8,379.4 431.6,379.7 446.5,379.9 461.4,380.2 476.3,380.6 491.2,380.9 506.1,381.3 520.9,381.8 535.8,382.3 550.7,382.8 565.6,383.3 580.5,384 595.4,384.9 610.2,385.9 625.1,387.1 640,388.9 644.7,389.7 649.4,390.4 654.1,391.1 658.7,391.8 663.4,392.6 668.2,393.4 672.9,394.2 677.7,395.3 682.5,396.7 687.1,398.4 691.7,400.3 696.2,402.6 700.7,405.1 705,407.8 709.3,410.7 713.5,413.9 717.3,417.4 720.9,421.2 724.2,425.3 727.2,429.7 730,434.1 732.6,438.8 735.1,443.5 737.4,448.4 739.4,453.4 740.9,458.5 742.2,463.8 743.2,469.2 744.1,474.5 745,480 747,494.5 748.6,509 749.9,523.5 750.8,538 751.5,552.6 752,567.1 752.4,581.6 752.9,596.1 753.3,610.6 753.8,625.1 754.2,639.6 754.6,654.1 755.1,668.7 755.5,683.2 755.9,697.7 756.3,712.2 756.7,726.7 757,741.2 757.4,755.7 757.7,770.2 758,784.8 758.3,799.3 758.6,813.8 758.9,828.3 759.1,842.8 759.4,857.3 759.6,871.8 759.9,886.4 760.1,900.9 760.3,915.4 760.5,929.9 760.6,944.4 760.7,958.9 760.9,973.4 761,987.9 761.1,1002.5 761.2,1017 761.3,1031.5 761.4,1046 761.5,1060.5 761.5,1062.5 42.7,1062.5" fill="#00ff17"/>
<polygon points="42.7,376.1 44.7,376.1 59.6,376.2 74.5,376.3 89.3,376.3 104.2,376.4 119.1,376.5 134,376.6 148.9,376.7 163.8,376.8 178.6,377 193.5,377.2 208.4,377.4 223.3,377.7 238.2,378.1 253.1,378.4 267.9,378.6 282.8,378.8 297.7,379 312.6,379.1 327.5,379.3 342.3,379.5 357.2,379.7 372.1,379.9 387,380.1 401.9,380.3 416.8,380.5 431.6,380.8 446.5,381.1 461.4,381.4 476.3,381.7 491.2,382.1 506.1,382.5 520.9,382.9 535.8,383.4 550.7,383.9 565.6,384.5 580.5,385.2 595.4,386.1 610.2,387.1 625.1,388.3 640,390.2 644.7,390.9 649.3,391.6 653.9,392.3 658.5,393 663.1,393.8 667.8,394.5 672.5,395.4 677.2,396.4 681.9,397.8 686.5,399.5 691,401.4 695.5,403.6 699.8,406.1 704.1,408.8 708.3,411.7 712.4,414.8 716.3,418.3 719.8,422 723,426.1 726,430.3 728.8,434.7 731.4,439.3 733.9,444 736.1,448.8 738.1,453.7 739.7,458.8 740.9,464 742,469.3 742.9,474.6 743.8,480 745.7,494.5 747.4,509 748.6,523.5 749.6,538 750.3,552.6 750.8,567.1 751.3,581.6 751.7,596.1 752.2,610.6 752.6,625.1 753,639.6 753.5,654.1 753.9,668.7 754.3,683.2 754.8,697.7 755.2,712.2 755.6,726.7 755.9,741.2 756.3,755.7 756.6,770.2 756.9,784.8 757.2,799.3 757.5,813.8 757.8,828.3 758,842.8 758.3,857.3 758.5,871.8 758.8,886.4 759,900.9 759.2,915.4 759.4,929.9 759.5,944.4 759.7,958.9 759.8,973.4 759.9,987.9 760,1002.5 760.1,1017 760.2,1031.5 760.3,1046 760.4,1060.5 760.4,1062.5 42.7,1062.5" fill="#0aff00"/>
<polygon points="42.7,377.1 44.7,377.1 59.6,377.2 74.5,377.3 89.3,377.4 104.2,377.4 119.1,377.5 134,377.6 148.9,377.7 163.8,377.8 178.6,378 193.5,378.2 208.4,378.5 223.3,378.8 238.2,379.2 253.1,379.5 267.9,379.7 282.8,379.9 297.7,380.1 312.6,380.3 327.5,380.4 342.3,380.6 357.2,380.8 372.1,381 387,381.2 401.9,381.4 416.8,381.7 431.6,381.9 446.5,382.2 461.4,382.5 476.3,382.8 491.2,383.2 506.1,383.6 520.9,384.1 535.8,384.6 550.7,385.1 565.6,385.6 580.5,386.3 595.4,387.2 610.2,388.3 625.1,389.5 640,391.4 644.6,392.1 649.2,392.8 653.7,393.5 658.2,394.2 662.8,394.9 667.4,395.7 672,396.6 676.7,397.6 681.3,399 685.8,400.6 690.3,402.5 694.7,404.7 699,407.1 703.2,409.8 707.4,412.6 711.4,415.7 715.2,419.1 718.7,422.8 721.9,426.8 724.9,431 727.6,435.4 730.2,439.8 732.6,444.4 734.9,449.2 736.9,454 738.4,459.1 739.6,464.2 740.7,469.4 741.6,474.7 742.5,480 744.5,494.5 746.1,509 747.4,523.5 748.4,538 749.1,552.6 749.6,567.1 750.1,581.6 750.6,596.1 751,610.6 751.5,625.1 751.9,639.6 752.3,654.1 752.8,668.7 753.2,683.2 753.6,697.7 754,712.2 754.4,726.7 754.8,741.2 755.1,755.7 755.5,770.2 755.8,784.8 756.1,799.3 756.4,813.8 756.6,828.3 756.9,842.8 757.2,857.3 757.5,871.8 757.7,886.4 757.9,900.9 758.1,915.4 758.3,929.9 758.4,944.4 758.6,958.9 758.7,973.4 758.8,987.9 758.9,1002.5 759,1017 759.1,1031.5 759.2,1046 759.3,1060.5 759.3,1062.5 42.7,1062.5" fill="#2dff00"/>
<polygon points="42.7,378.1 44.7,378.1 59.6,378.2 74.5,378.3 89.3,378.4 104.2,378.4 119.1,378.5 134,378.6 148.9,378.7 163.8,378.8 178.6,379 193.5,379.2 208.4,379.5 223.3,379.8 238.2,380.2 253.1,380.6 267.9,380.8 282.8,381 297.7,381.2 312.6,381.4 327.5,381.6 342.3,381.8 357.2,381.9 372.1,382.1 387,382.3 401.9,382.6 416.8,382.8 431.6,383.1 446.5,383.3 461.4,383.6 476.3,384 491.2,384.4 506.1,384.8 520.9,385.2 535.8,385.7 550.7,386.2 565.6,386.8 580.5,387.5 595.4,388.4 610.2,389.5 625.1,390.8 640,392.6 644.5,393.4 649,394.1 653.5,394.7 658,395.4 662.5,396.1 667,396.9 671.6,397.7 676.2,398.8 680.7,400.1 685.2,401.7 689.6,403.6 693.9,405.8 698.2,408.2 702.3,410.8 706.4,413.6 710.4,416.6 714.1,420 717.6,423.6 720.7,427.6 723.7,431.7 726.4,436 729,440.4 731.4,444.9 733.6,449.6 735.6,454.4 737.2,459.3 738.4,464.4 739.4,469.6 740.3,474.7 741.2,480 743.2,494.5 744.9,509 746.2,523.5 747.2,538 747.9,552.6 748.5,567.1 748.9,581.6 749.4,596.1 749.9,610.6 750.3,625.1 750.7,639.6 751.2,654.1 751.6,668.7 752.1,683.2 752.5,697.7 752.9,712.2 753.3,726.7 753.7,741.2 754,755.7 754.4,770.2 754.7,784.8 755,799.3 755.3,813.8 755.5,828.3 755.8,842.8 756.1,857.3 756.4,871.8 756.6,886.4 756.8,900.9 757,915.4 757.2,929.9 757.4,944.4 757.5,958.9 757.6,973.4 757.7,987.9 757.8,1002.5 757.9,1017 758,1031.5 758.1,1046 758.2,1060.5 758.2,1062.5 42.7,1062.5" fill="#4fff00"/>
<polygon points="42.7,379.2 44.7,379.2 59.6,379.2 74.5,379.3 89.3,379.4 104.2,379.4 119.1,379.5 134,379.6 148.9,379.7 163.8,379.8 178.6,380 193.5,380.2 208.4,380.5 223.3,380.9 238.2,381.3 253.1,381.7 267.9,381.9 282.8,382.1 297.7,382.3 312.6,382.5 327.5,382.7 342.3,382.9 357.2,383.1 372.1,383.3 387,383.5 401.9,383.7 416.8,383.9 431.6,384.2 446.5,384.5 461.4,384.8 476.3,385.1 491.2,385.5 506.1,385.9 520.9,386.4 535.8,386.9 550.7,387.4 565.6,388 580.5,388.7 595.4,389.6 610.2,390.7 625.1,392 640,393.8 644.5,394.6 648.9,395.3 653.3,395.9 657.7,396.6 662.2,397.3 666.6,398.1 671.1,398.9 675.7,399.9 680.1,401.2 684.5,402.9 688.9,404.7 693.2,406.8 697.4,409.2 701.5,411.7 705.5,414.5 709.4,417.5 713.1,420.8 716.5,424.4 719.6,428.3 722.5,432.4 725.2,436.6 727.8,440.9 730.2,445.4 732.4,450 734.4,454.7 735.9,459.6 737.1,464.6 738.2,469.7 739.1,474.8 740,480 741.9,494.5 743.7,509 745,523.5 746,538 746.8,552.6 747.3,567.1 747.8,581.6 748.2,596.1 748.7,610.6 749.1,625.1 749.6,639.6 750,654.1 750.5,668.7 750.9,683.2 751.4,697.7 751.8,712.2 752.2,726.7 752.6,741.2 752.9,755.7 753.2,770.2 753.6,784.8 753.9,799.3 754.2,813.8 754.4,828.3 754.7,842.8 755,857.3 755.3,871.8 755.5,886.4 755.8,900.9 756,915.4 756.1,929.9 756.3,944.4 756.4,958.9 756.5,973.4 756.6,987.9 756.7,1002.5 756.8,1017 756.9,1031.5 757,1046 757.1,1060.5 757.1,1062.5 42.7,1062.5" fill="#71ff00"/>
<polygon points="42.7,380.2 44.7,380.2 59.6,380.2 74.5,380.3 89.3,380.4 104.2,380.4 119.1,380.5 134,380.6 148.9,380.7 163.8,380.8 178.6,381 193.5,381.2 208.4,381.5 223.3,382 238.2,382.4 253.1,382.8 267.9,383 282.8,383.3 297.7,383.5 312.6,383.6 327.5,383.8 342.3,384 357.2,384.2 372.1,384.4 387,384.6 401.9,384.8 416.8,385.1 431.6,385.3 446.5,385.6 461.4,385.9 476.3,386.3 491.2,386.6 506.1,387.1 520.9,387.6 535.8,388 550.7,388.6 565.6,389.1 580.5,389.8 595.4,390.8 610.2,391.9 625.1,393.2 640,395.1 644.4,395.8 648.8,396.5 653.1,397.2 657.5,397.8 661.8,398.5 666.2,399.3 670.7,400.1 675.1,401.1 679.5,402.4 683.9,404 688.2,405.8 692.4,407.9 696.5,410.2 700.6,412.7 704.5,415.5 708.4,418.4 712,421.7 715.4,425.2 718.5,429 721.3,433 724,437.2 726.6,441.5 728.9,445.9 731.2,450.4 733.2,455 734.7,459.9 735.9,464.8 736.9,469.8 737.8,474.9 738.7,480 740.7,494.5 742.4,509 743.8,523.5 744.8,538 745.6,552.6 746.1,567.1 746.6,581.6 747.1,596.1 747.5,610.6 748,625.1 748.4,639.6 748.9,654.1 749.3,668.7 749.8,683.2 750.2,697.7 750.7,712.2 751.1,726.7 751.4,741.2 751.8,755.7 752.1,770.2 752.4,784.8 752.7,799.3 753,813.8 753.3,828.3 753.6,842.8 753.9,857.3 754.2,871.8 754.5,886.4 754.7,900.9 754.9,915.4 755.1,929.9 755.2,944.4 755.4,958.9 755.5,973.4 755.6,987.9 755.6,1002.5 755.7,1017 755.8,1031.5 755.9,1046 756,1060.5 756,1062.5 42.7,1062.5" fill="#93ff00"/>
<polygon points="42.7,381.2 44.7,381.2 59.6,381.2 74.5,381.3 89.3,381.4 104.2,381.4 119.1,381.5 134,381.6 148.9,381.6 163.8,381.8 178.6,381.9 193.5,382.2 208.4,382.6 223.3,383 238.2,383.5 253.1,383.9 267.9,384.2 282.8,384.4 297.7,384.6 312.6,384.8 327.5,384.9 342.3,385.1 357.2,385.3 372.1,385.5 387,385.7 401.9,386 416.8,386.2 431.6,386.5 446.5,386.7 461.4,387 476.3,387.4 491.2,387.8 506.1,388.2 520.9,388.7 535.8,389.2 550.7,389.7 565.6,390.3 580.5,391 595.4,391.9 610.2,393.1 625.1,394.4 640,396.3 644.3,397 648.7,397.7 652.9,398.4 657.2,399 661.5,399.7 665.8,400.5 670.2,401.3 674.6,402.2 679,403.5 683.2,405.1 687.5,406.9 691.6,409 695.7,411.2 699.7,413.7 703.6,416.4 707.4,419.3 711,422.5 714.3,426 717.3,429.8 720.2,433.7 722.8,437.8 725.3,442 727.7,446.3 729.9,450.8 731.9,455.4 733.4,460.1 734.6,465 735.6,469.9 736.5,474.9 737.4,480 739.4,494.5 741.2,509 742.6,523.5 743.6,538 744.4,552.6 745,567.1 745.4,581.6 745.9,596.1 746.4,610.6 746.8,625.1 747.3,639.6 747.7,654.1 748.2,668.7 748.7,683.2 749.1,697.7 749.5,712.2 749.9,726.7 750.3,741.2 750.7,755.7 751,770.2 751.3,784.8 751.6,799.3 751.9,813.8 752.2,828.3 752.5,842.8 752.8,857.3 753.1,871.8 753.4,886.4 753.6,900.9 753.8,915.4 754,929.9 754.1,944.4 754.3,958.9 754.4,973.4 754.5,987.9 754.6,1002.5 754.7,1017 754.7,1031.5 754.8,1046 754.9,1060.5 754.9,1062.5 42.7,1062.5" fill="#b6ff00"/>
<polygon points="42.7,382.2 44.7,382.2 59.6,382.3 74.5,382.3 89.3,382.4 104.2,382.4 119.1,382.5 134,382.5 148.9,382.6 163.8,382.8 178.6,382.9 193.5,383.2 208.4,383.6 223.3,384.1 238.2,384.6 253.1,385 267.9,385.3 282.8,385.5 297.7,385.7 312.6,385.9 327.5,386.1 342.3,386.3 357.2,386.5 372.1,386.7 387,386.9 401.9,387.1 416.8,387.3 431.6,387.6 446.5,387.9 461.4,388.2 476.3,388.6 491.2,388.9 506.1,389.4 520.9,389.9 535.8,390.4 550.7,390.9 565.6,391.4 580.5,392.2 595.4,393.1 610.2,394.3 625.1,395.6 640,397.5 644.3,398.2 648.5,398.9 652.7,399.6 657,400.2 661.2,400.9 665.5,401.6 669.8,402.4 674.1,403.4 678.4,404.7 682.6,406.2 686.8,408 690.8,410 694.9,412.3 698.8,414.7 702.7,417.3 706.4,420.2 709.9,423.4 713.2,426.8 716.2,430.5 719,434.4 721.7,438.4 724.1,442.5 726.5,446.8 728.7,451.2 730.7,455.7 732.2,460.4 733.3,465.2 734.4,470.1 735.3,475 736.2,480 738.2,494.5 739.9,509 741.4,523.5 742.4,538 743.2,552.6 743.8,567.1 744.3,581.6 744.8,596.1 745.2,610.6 745.7,625.1 746.1,639.6 746.6,654.1 747.1,668.7 747.5,683.2 748,697.7 748.4,712.2 748.8,726.7 749.2,741.2 749.5,755.7 749.9,770.2 750.2,784.8 750.5,799.3 750.8,813.8 751.1,828.3 751.4,842.8 751.7,857.3 752,871.8 752.3,886.4 752.5,900.9 752.7,915.4 752.9,929.9 753.1,944.4 753.2,958.9 753.3,973.4 753.4,987.9 753.5,1002.5 753.6,1017 753.7,1031.5 753.8,1046 753.8,1060.5 753.8,1062.5 42.7,1062.5" fill="#d8ff00"/>
<polygon points="42.7,383.2 44.7,383.2 59.6,383.3 74.5,383.3 89.3,383.4 104.2,383.4 119.1,383.5 134,383.5 148.9,383.6 163.8,383.8 178.6,383.9 193.5,384.2 208.4,384.6 223.3,385.1 238.2,385.6 253.1,386.1 267.9,386.4 282.8,386.6 297.7,386.8 312.6,387 327.5,387.2 342.3,387.4 357.2,387.6 372.1,387.8 387,388 401.9,388.2 416.8,388.5 431.6,388.7 446.5,389 461.4,389.3 476.3,389.7 491.2,390.1 506.1,390.5 520.9,391 535.8,391.5 550.7,392 565.6,392.6 580.5,393.3 595.4,394.3 610.2,395.5 625.1,396.8 640,398.7 644.2,399.5 648.4,400.1 652.5,400.8 656.7,401.4 660.9,402.1 665.1,402.8 669.3,403.6 673.6,404.6 677.8,405.8 682,407.3 686.1,409.1 690.1,411.1 694,413.3 697.9,415.7 701.7,418.3 705.4,421.1 708.9,424.2 712.1,427.6 715.1,431.3 717.8,435.1 720.5,439 722.9,443.1 725.3,447.3 727.5,451.6 729.4,456 730.9,460.7 732.1,465.4 733.1,470.2 734,475.1 734.9,480 736.9,494.5 738.7,509 740.1,523.5 741.2,538 742,552.6 742.6,567.1 743.1,581.6 743.6,596.1 744.1,610.6 744.5,625.1 745,639.6 745.4,654.1 745.9,668.7 746.4,683.2 746.8,697.7 747.3,712.2 747.7,726.7 748.1,741.2 748.4,755.7 748.8,770.2 749.1,784.8 749.4,799.3 749.7,813.8 750,828.3 750.3,842.8 750.6,857.3 750.9,871.8 751.2,886.4 751.5,900.9 751.7,915.4 751.8,929.9 752,944.4 752.1,958.9 752.2,973.4 752.3,987.9 752.4,1002.5 752.5,1017 752.6,1031.5 752.7,1046 752.7,1060.5 752.7,1062.5 42.7,1062.5" fill="#faff00"/>
<polygon points="42.7,384.2 44.7,384.2 59.6,384.3 74.5,384.3 89.3,384.4 104.2,384.4 119.1,384.5 134,384.5 148.9,384.6 163.8,384.7 178.6,384.9 193.5,385.2 208.4,385.6 223.3,386.2 238.2,386.7 253.1,387.2 267.9,387.5 282.8,387.7 297.7,387.9 312.6,388.1 327.5,388.3 342.3,388.5 357.2,388.7 372.1,388.9 387,389.1 401.9,389.4 416.8,389.6 431.6,389.9 446.5,390.2 461.4,390.5 476.3,390.8 491.2,391.2 506.1,391.7 520.9,392.2 535.8,392.7 550.7,393.2 565.6,393.8 580.5,394.5 595.4,395.5 610.2,396.7 625.1,398 640,400 644.2,400.7 648.3,401.3 652.4,402 656.4,402.6 660.6,403.3 664.7,404 668.9,404.8 673.1,405.7 677.2,407 681.3,408.5 685.3,410.2 689.3,412.1 693.2,414.3 697,416.7 700.8,419.2 704.4,422 707.8,425.1 711,428.4 713.9,432 716.7,435.7 719.3,439.6 721.7,443.6 724,447.7 726.2,452 728.2,456.4 729.7,460.9 730.8,465.6 731.8,470.3 732.7,475.1 733.6,480 735.7,494.5 737.5,509 738.9,523.5 740,538 740.9,552.6 741.4,567.1 742,581.6 742.4,596.1 742.9,610.6 743.4,625.1 743.8,639.6 744.3,654.1 744.8,668.7 745.2,683.2 745.7,697.7 746.1,712.2 746.6,726.7 746.9,741.2 747.3,755.7 747.7,770.2 748,784.8 748.3,799.3 748.6,813.8 748.9,828.3 749.2,842.8 749.5,857.3 749.8,871.8 750.1,886.4 750.4,900.9 750.6,915.4 750.8,929.9 750.9,944.4 751,958.9 751.1,973.4 751.2,987.9 751.3,1002.5 751.4,1017 751.5,1031.5 751.6,1046 751.7,1060.5 751.7,1062.5 42.7,1062.5" fill="#ffe800"/>
<polygon points="42.7,385.2 44.7,385.2 59.6,385.3 74.5,385.3 89.3,385.4 104.2,385.4 119.1,385.5 134,385.5 148.9,385.6 163.8,385.7 178.6,385.9 193.5,386.2 208.4,386.7 223.3,387.2 238.2,387.8 253.1,388.3 267.9,388.6 282.8,388.9 297.7,389.1 312.6,389.3 327.5,389.4 342.3,389.6 357.2,389.8 372.1,390 387,390.3 401.9,390.5 416.8,390.7 431.6,391 446.5,391.3 461.4,391.6 476.3,392 491.2,392.4 506.1,392.8 520.9,393.3 535.8,393.8 550.7,394.3 565.6,394.9 580.5,395.7 595.4,396.6 610.2,397.9 625.1,399.3 640,401.2 644.1,401.9 648.1,402.6 652.2,403.2 656.2,403.8 660.2,404.5 664.3,405.2 668.4,406 672.6,406.9 676.6,408.1 680.7,409.6 684.6,411.3 688.5,413.2 692.4,415.3 696.1,417.7 699.8,420.2 703.4,422.9 706.8,425.9 709.9,429.2 712.8,432.7 715.5,436.4 718.1,440.2 720.5,444.2 722.8,448.2 725,452.4 726.9,456.7 728.4,461.2 729.6,465.8 730.6,470.5 731.5,475.2 732.4,480 734.4,494.5 736.2,509 737.7,523.5 738.9,538 739.7,552.6 740.3,567.1 740.8,581.6 741.3,596.1 741.7,610.6 742.2,625.1 742.7,639.6 743.1,654.1 743.6,668.7 744.1,683.2 744.6,697.7 745,712.2 745.4,726.7 745.8,741.2 746.2,755.7 746.5,770.2 746.9,784.8 747.2,799.3 747.5,813.8 747.8,828.3 748.1,842.8 748.4,857.3 748.7,871.8 749,886.4 749.3,900.9 749.5,915.4 749.7,929.9 749.8,944.4 750,958.9 750.1,973.4 750.2,987.9 750.2,1002.5 750.3,1017 750.4,1031.5 750.5,1046 750.6,1060.5 750.6,1062.5 42.7,1062.5" fill="#ffce00"/>
<polygon points="42.7,386.3 44.7,386.3 59.6,386.3 74.5,386.3 89.3,386.4 104.2,386.4 119.1,386.5 134,386.5 148.9,386.6 163.8,386.7 178.6,386.9 193.5,387.2 208.4,387.7 223.3,388.3 238.2,388.9 253.1,389.4 267.9,389.7 282.8,390 297.7,390.2 312.6,390.4 327.5,390.6 342.3,390.8 357.2,391 372.1,391.2 387,391.4 401.9,391.6 416.8,391.9 431.6,392.1 446.5,392.4 461.4,392.7 476.3,393.1 491.2,393.5 506.1,394 520.9,394.5 535.8,395 550.7,395.5 565.6,396.1 580.5,396.8 595.4,397.8 610.2,399.1 625.1,400.5 640,402.4 644,403.1 648,403.8 652,404.4 655.9,405 659.9,405.7 663.9,406.4 668,407.1 672,408 676,409.2 680,410.7 683.9,412.4 687.8,414.3 691.5,416.4 695.2,418.7 698.9,421.1 702.4,423.8 705.7,426.8 708.8,430 711.7,433.5 714.3,437.1 716.9,440.8 719.3,444.7 721.6,448.7 723.8,452.8 725.7,457 727.2,461.5 728.3,466 729.3,470.6 730.2,475.3 731.1,480 733.1,494.5 735,509 736.5,523.5 737.7,538 738.5,552.6 739.1,567.1 739.6,581.6 740.1,596.1 740.6,610.6 741.1,625.1 741.5,639.6 742,654.1 742.5,668.7 743,683.2 743.4,697.7 743.9,712.2 744.3,726.7 744.7,741.2 745.1,755.7 745.4,770.2 745.8,784.8 746.1,799.3 746.4,813.8 746.7,828.3 747,842.8 747.3,857.3 747.6,871.8 748,886.4 748.2,900.9 748.4,915.4 748.6,929.9 748.8,944.4 748.9,958.9 749,973.4 749.1,987.9 749.2,1002.5 749.2,1017 749.3,1031.5 749.4,1046 749.5,1060.5 749.5,1062.5 42.7,1062.5" fill="#ffb300"/>
<polygon points="42.7,387.3 44.7,387.3 59.6,387.3 74.5,387.3 89.3,387.4 104.2,387.4 119.1,387.4 134,387.5 148.9,387.6 163.8,387.7 178.6,387.9 193.5,388.3 208.4,388.7 223.3,389.3 238.2,390 253.1,390.5 267.9,390.8 282.8,391.1 297.7,391.3 312.6,391.5 327.5,391.7 342.3,391.9 357.2,392.1 372.1,392.3 387,392.5 401.9,392.7 416.8,393 431.6,393.3 446.5,393.6 461.4,393.9 476.3,394.3 491.2,394.7 506.1,395.1 520.9,395.6 535.8,396.1 550.7,396.7 565.6,397.2 580.5,398 595.4,399 610.2,400.3 625.1,401.7 640,403.6 644,404.4 647.9,405 651.8,405.6 655.7,406.2 659.6,406.9 663.5,407.6 667.5,408.3 671.5,409.2 675.5,410.4 679.4,411.8 683.2,413.5 687,415.3 690.7,417.4 694.3,419.7 697.9,422.1 701.4,424.7 704.7,427.6 707.7,430.8 710.5,434.2 713.2,437.8 715.7,441.4 718.1,445.2 720.4,449.1 722.5,453.2 724.4,457.4 725.9,461.7 727.1,466.2 728,470.7 728.9,475.3 729.8,480 731.9,494.5 733.8,509 735.3,523.5 736.5,538 737.3,552.6 737.9,567.1 738.5,581.6 738.9,596.1 739.4,610.6 739.9,625.1 740.4,639.6 740.9,654.1 741.3,668.7 741.8,683.2 742.3,697.7 742.7,712.2 743.2,726.7 743.6,741.2 744,755.7 744.3,770.2 744.6,784.8 745,799.3 745.3,813.8 745.6,828.3 745.9,842.8 746.2,857.3 746.5,871.8 746.9,886.4 747.1,900.9 747.4,915.4 747.5,929.9 747.7,944.4 747.8,958.9 747.9,973.4 748,987.9 748.1,1002.5 748.2,1017 748.2,1031.5 748.3,1046 748.4,1060.5 748.4,1062.5 42.7,1062.5" fill="#ff9900"/>
<polygon points="42.7,388.3 44.7,388.3 59.6,388.3 74.5,388.3 89.3,388.4 104.2,388.4 119.1,388.4 134,388.5 148.9,388.6 163.8,388.7 178.6,388.9 193.5,389.3 208.4,389.8 223.3,390.4 238.2,391 253.1,391.6 267.9,391.9 282.8,392.2 297.7,392.4 312.6,392.6 327.5,392.8 342.3,393 357.2,393.2 372.1,393.4 387,393.6 401.9,393.9 416.8,394.1 431.6,394.4 446.5,394.7 461.4,395 476.3,395.4 491.2,395.8 506.1,396.3 520.9,396.8 535.8,397.3 550.7,397.8 565.6,398.4 580.5,399.1 595.4,400.2 610.2,401.5 625.1,402.9 640,404.8 643.9,405.6 647.8,406.2 651.6,406.8 655.4,407.4 659.3,408.1 663.2,408.8 667.1,409.5 671,410.4 674.9,411.5 678.7,412.9 682.5,414.6 686.2,416.4 689.9,418.4 693.4,420.6 697,423 700.4,425.6 703.6,428.5 706.6,431.6 709.4,434.9 712,438.4 714.5,442 716.9,445.8 719.1,449.6 721.3,453.6 723.2,457.7 724.7,462 725.8,466.4 726.8,470.9 727.7,475.4 728.6,480 730.6,494.5 732.5,509 734.1,523.5 735.3,538 736.2,552.6 736.8,567.1 737.3,581.6 737.8,596.1 738.3,610.6 738.7,625.1 739.2,639.6 739.7,654.1 740.2,668.7 740.7,683.2 741.2,697.7 741.6,712.2 742.1,726.7 742.5,741.2 742.8,755.7 743.2,770.2 743.5,784.8 743.8,799.3 744.2,813.8 744.5,828.3 744.8,842.8 745.1,857.3 745.5,871.8 745.8,886.4 746.1,900.9 746.3,915.4 746.5,929.9 746.6,944.4 746.7,958.9 746.8,973.4 746.9,987.9 747,1002.5 747.1,1017 747.2,1031.5 747.2,1046 747.3,1060.5 747.3,1062.5 42.7,1062.5" fill="#ff7e00"/>
<polygon points="42.7,389.3 44.7,389.3 59.6,389.3 74.5,389.4 89.3,389.4 104.2,389.4 119.1,389.4 134,389.5 148.9,389.6 163.8,389.7 178.6,389.9 193.5,390.3 208.4,390.8 223.3,391.4 238.2,392.1 253.1,392.7 267.9,393.1 282.8,393.3 297.7,393.6 312.6,393.8 327.5,393.9 342.3,394.1 357.2,394.4 372.1,394.6 387,394.8 401.9,395 416.8,395.2 431.6,395.5 446.5,395.8 461.4,396.2 476.3,396.6 491.2,397 506.1,397.4 520.9,397.9 535.8,398.4 550.7,399 565.6,399.5 580.5,400.3 595.4,401.4 610.2,402.6 625.1,404.1 640,406.1 643.8,406.8 647.6,407.4 651.4,408 655.2,408.6 659,409.3 662.8,409.9 666.6,410.7 670.5,411.5 674.3,412.7 678.1,414.1 681.8,415.6 685.4,417.5 689,419.5 692.5,421.6 696,424 699.4,426.5 702.6,429.3 705.5,432.4 708.2,435.7 710.8,439.1 713.3,442.7 715.6,446.3 717.9,450.1 720.1,454 722,458 723.4,462.3 724.5,466.6 725.5,471 726.4,475.5 727.3,480 729.4,494.5 731.3,509 732.9,523.5 734.1,538 735,552.6 735.6,567.1 736.1,581.6 736.6,596.1 737.1,610.6 737.6,625.1 738.1,639.6 738.6,654.1 739,668.7 739.5,683.2 740,697.7 740.5,712.2 740.9,726.7 741.3,741.2 741.7,755.7 742.1,770.2 742.4,784.8 742.7,799.3 743.1,813.8 743.4,828.3 743.7,842.8 744,857.3 744.4,871.8 744.7,886.4 745,900.9 745.2,915.4 745.4,929.9 745.5,944.4 745.7,958.9 745.8,973.4 745.8,987.9 745.9,1002.5 746,1017 746.1,1031.5 746.1,1046 746.2,1060.5 746.2,1062.5 42.7,1062.5" fill="#ff6200"/>
<polygon points="42.7,390.3 44.7,390.3 59.6,390.3 74.5,390.4 89.3,390.4 104.2,390.4 119.1,390.4 134,390.5 148.9,390.6 163.8,390.7 178.6,390.9 193.5,391.3 208.4,391.8 223.3,392.5 238.2,393.2 253.1,393.8 267.9,394.2 282.8,394.5 297.7,394.7 312.6,394.9 327.5,395.1 342.3,395.3 357.2,395.5 372.1,395.7 387,395.9 401.9,396.1 416.8,396.4 431.6,396.7 446.5,397 461.4,397.3 476.3,397.7 491.2,398.1 506.1,398.6 520.9,399.1 535.8,399.6 550.7,400.1 565.6,400.7 580.5,401.5 595.4,402.5 610.2,403.8 625.1,405.3 640,407.3 643.8,408 647.5,408.6 651.2,409.2 654.9,409.8 658.6,410.4 662.4,411.1 666.2,411.8 670,412.7 673.7,413.8 677.4,415.2 681.1,416.7 684.7,418.5 688.2,420.5 691.7,422.6 695.1,424.9 698.4,427.4 701.5,430.2 704.4,433.2 707.1,436.4 709.6,439.8 712.1,443.3 714.4,446.9 716.7,450.6 718.8,454.4 720.7,458.4 722.2,462.5 723.3,466.8 724.3,471.1 725.1,475.5 726,480 728.1,494.5 730,509 731.6,523.5 732.9,538 733.8,552.6 734.4,567.1 735,581.6 735.5,596.1 735.9,610.6 736.4,625.1 736.9,639.6 737.4,654.1 737.9,668.7 738.4,683.2 738.9,697.7 739.4,712.2 739.8,726.7 740.2,741.2 740.6,755.7 741,770.2 741.3,784.8 741.6,799.3 741.9,813.8 742.2,828.3 742.6,842.8 742.9,857.3 743.3,871.8 743.6,886.4 743.9,900.9 744.1,915.4 744.3,929.9 744.5,944.4 744.6,958.9 744.7,973.4 744.8,987.9 744.8,1002.5 744.9,1017 745,1031.5 745.1,1046 745.1,1060.5 745.1,1062.5 42.7,1062.5" fill="#ff4600"/>
<polygon points="42.7,391.3 44.7,391.3 59.6,391.4 74.5,391.4 89.3,391.4 104.2,391.4 119.1,391.4 134,391.5 148.9,391.5 163.8,391.7 178.6,391.9 193.5,392.3 208.4,392.8 223.3,393.5 238.2,394.3 253.1,394.9 267.9,395.3 282.8,395.6 297.7,395.8 312.6,396 327.5,396.2 342.3,396.4 357.2,396.6 372.1,396.8 387,397 401.9,397.3 416.8,397.5 431.6,397.8 446.5,398.1 461.4,398.4 476.3,398.8 491.2,399.3 506.1,399.7 520.9,400.2 535.8,400.7 550.7,401.3 565.6,401.9 580.5,402.6 595.4,403.7 610.2,405 625.1,406.6 640,408.5 643.7,409.2 647.4,409.9 651,410.4 654.7,411 658.3,411.6 662,412.3 665.7,413 669.5,413.8 673.1,415 676.8,416.3 680.4,417.8 683.9,419.6 687.4,421.5 690.8,423.6 694.1,425.9 697.4,428.3 700.5,431 703.3,434 706,437.2 708.5,440.5 710.9,443.9 713.2,447.4 715.5,451 717.6,454.8 719.5,458.7 720.9,462.8 722,467 723,471.3 723.9,475.6 724.8,480 726.9,494.5 728.8,509 730.4,523.5 731.7,538 732.6,552.6 733.3,567.1 733.8,581.6 734.3,596.1 734.8,610.6 735.3,625.1 735.8,639.6 736.3,654.1 736.8,668.7 737.3,683.2 737.8,697.7 738.2,712.2 738.7,726.7 739.1,741.2 739.5,755.7 739.8,770.2 740.2,784.8 740.5,799.3 740.8,813.8 741.1,828.3 741.5,842.8 741.8,857.3 742.2,871.8 742.5,886.4 742.8,900.9 743,915.4 743.2,929.9 743.4,944.4 743.5,958.9 743.6,973.4 743.7,987.9 743.8,1002.5 743.8,1017 743.9,1031.5 744,1046 744,1060.5 744,1062.5 42.7,1062.5" fill="#ff2a00"/>
<polygon points="42.7,392.4 44.7,392.4 59.6,392.4 74.5,392.4 89.3,392.4 104.2,392.4 119.1,392.4 134,392.5 148.9,392.5 163.8,392.7 178.6,392.9 193.5,393.3 208.4,393.9 223.3,394.6 238.2,395.4 253.1,396 267.9,396.4 282.8,396.7 297.7,396.9 312.6,397.1 327.5,397.3 342.3,397.5 357.2,397.7 372.1,397.9 387,398.2 401.9,398.4 416.8,398.6 431.6,398.9 446.5,399.2 461.4,399.6 476.3,400 491.2,400.4 506.1,400.9 520.9,401.4 535.8,401.9 550.7,402.4 565.6,403 580.5,403.8 595.4,404.9 610.2,406.2 625.1,407.8 640,409.7 643.6,410.5 647.2,411.1 650.8,411.6 654.4,412.2 658,412.8 661.6,413.5 665.3,414.2 668.9,415 672.6,416.1 676.1,417.4 679.7,418.9 683.1,420.6 686.5,422.5 689.9,424.6 693.2,426.8 696.4,429.2 699.4,431.9 702.2,434.8 704.8,437.9 707.3,441.1 709.7,444.5 712,447.9 714.2,451.5 716.3,455.2 718.2,459 719.6,463.1 720.8,467.2 721.7,471.4 722.6,475.7 723.5,480 725.6,494.5 727.6,509 729.2,523.5 730.5,538 731.4,552.6 732.1,567.1 732.6,581.6 733.1,596.1 733.6,610.6 734.1,625.1 734.6,639.6 735.1,654.1 735.6,668.7 736.1,683.2 736.6,697.7 737.1,712.2 737.6,726.7 738,741.2 738.4,755.7 738.7,770.2 739.1,784.8 739.4,799.3 739.7,813.8 740,828.3 740.4,842.8 740.7,857.3 741.1,871.8 741.4,886.4 741.7,900.9 742,915.4 742.2,929.9 742.3,944.4 742.4,958.9 742.5,973.4 742.6,987.9 742.7,1002.5 742.7,1017 742.8,1031.5 742.9,1046 743,1060.5 743,1062.5 42.7,1062.5" fill="#ff0e00"/>
<polygon points="42.7,393.4 44.7,393.4 59.6,393.4 74.5,393.4 89.3,393.4 104.2,393.4 119.1,393.4 134,393.5 148.9,393.5 163.8,393.7 178.6,393.9 193.5,394.3 208.4,394.9 223.3,395.6 238.2,396.4 253.1,397.1 267.9,397.5 282.8,397.8 297.7,398 312.6,398.3 327.5,398.4 342.3,398.7 357.2,398.9 372.1,399.1 387,399.3 401.9,399.5 416.8,399.8 431.6,400.1 446.5,400.4 461.4,400.7 476.3,401.1 491.2,401.5 506.1,402 520.9,402.5 535.8,403.1 550.7,403.6 565.6,404.2 580.5,405 595.4,406.1 610.2,407.4 625.1,409 640,411 643.6,411.7 647.1,412.3 650.6,412.9 654.2,413.4 657.7,414 661.2,414.7 664.8,415.3 668.4,416.2 672,417.2 675.5,418.5 679,420 682.4,421.7 685.7,423.6 689,425.6 692.2,427.8 695.4,430.1 698.4,432.7 701.1,435.6 703.7,438.6 706.1,441.8 708.5,445.1 710.8,448.5 713,452 715.1,455.6 717,459.4 718.4,463.3 719.5,467.4 720.5,471.5 721.3,475.7 722.2,480 724.3,494.5 726.3,509 728,523.5 729.3,538 730.3,552.6 730.9,567.1 731.5,581.6 732,596.1 732.5,610.6 733,625.1 733.5,639.6 734,654.1 734.5,668.7 735,683.2 735.5,697.7 736,712.2 736.4,726.7 736.9,741.2 737.2,755.7 737.6,770.2 737.9,784.8 738.3,799.3 738.6,813.8 738.9,828.3 739.3,842.8 739.6,857.3 740,871.8 740.4,886.4 740.7,900.9 740.9,915.4 741.1,929.9 741.2,944.4 741.4,958.9 741.4,973.4 741.5,987.9 741.6,1002.5 741.7,1017 741.7,1031.5 741.8,1046 741.9,1060.5 741.9,1062.5 42.7,1062.5" fill="#ff0000"/>
<polygon points="42.7,395.2 44.7,395.2 59.6,395.2 74.5,395.2 89.3,395.2 104.2,395.2 119.1,395.2 134,395.2 148.9,395.3 163.8,395.4 178.6,395.6 193.5,396 208.4,396.5 223.3,397.5 238.2,398.7 253.1,399.5 267.9,400.1 282.8,400.5 297.7,400.7 312.6,401 327.5,401.2 342.3,401.5 357.2,401.7 372.1,402 387,402.2 401.9,402.5 416.8,402.7 431.6,403.1 446.5,403.4 461.4,403.9 476.3,404.5 491.2,405.1 506.1,405.6 520.9,406.2 535.8,406.8 550.7,407.4 565.6,408.1 580.5,408.7 595.4,409.7 610.2,412.7 625.1,415.8 640,417.2 643.3,417.6 646.5,418.1 649.7,418.6 652.9,419.3 656.1,420.1 659.2,421 662.3,422 665.3,423.1 668.3,424.4 671.3,425.8 674.2,427.3 677,429 679.8,430.8 682.6,432.7 685.3,434.7 687.8,436.9 690.2,439.3 692.5,441.8 694.8,444.4 697.1,447 699.5,449.7 702.1,452.4 704.7,455.2 707.1,458.2 709.2,461.5 710.8,465 712,468.6 713,472.3 713.8,476.1 714.5,480 716.6,494.5 719.4,509 722.3,523.5 724.9,538 726.1,552.6 726.7,567.1 727.4,581.6 728,596.1 728.6,610.6 729.2,625.1 729.8,639.6 730.4,654.1 731.1,668.7 731.8,683.2 732.5,697.7 733.1,712.2 733.7,726.7 734.2,741.2 734.7,755.7 735.1,770.2 735.5,784.8 735.9,799.3 736.3,813.8 736.7,828.3 737.1,842.8 737.6,857.3 738.1,871.8 738.4,886.4 738.8,900.9 739,915.4 739.2,929.9 739.3,944.4 739.4,958.9 739.5,973.4 739.6,987.9 739.6,1002.5 739.7,1017 739.8,1031.5 739.8,1046 739.9,1060.5 739.9,1062.5 42.7,1062.5" fill="#ffffff"/>
</g>
<polyline points="44.7,369 59.6,369.1 74.5,369.2 89.3,369.3 104.2,369.4 119.1,369.5 134,369.7 148.9,369.8 163.8,369.9 178.6,370 193.5,370.1 208.4,370.2 223.3,370.4 238.2,370.5 253.1,370.7 267.9,370.8 282.8,371 297.7,371.1 312.6,371.3 327.5,371.4 342.3,371.6 357.2,371.8 372.1,372 387,372.2 401.9,372.4 416.8,372.6 431.6,372.9 446.5,373.1 461.4,373.4 476.3,373.7 491.2,374 506.1,374.4 520.9,374.9 535.8,375.3 550.7,375.8 565.6,376.4 580.5,377 595.4,377.8 610.2,378.7 625.1,379.8 640,381.6 645.1,382.4 650.2,383.1 655.2,383.9 660.3,384.6 665.3,385.4 670.5,386.3 675.6,387.2 680.8,388.3 685.9,389.8 691,391.6 696,393.8 700.9,396.2 705.7,398.9 710.4,401.9 715,405 719.5,408.5 723.6,412.3 727.5,416.5 731,420.9 734.2,425.6 737.2,430.5 739.9,435.5 742.4,440.7 744.8,446 746.8,451.4 748.4,456.9 749.7,462.6 750.8,468.4 751.8,474.1 752.6,480 754.5,494.5 756,509 757.2,523.5 757.9,538 758.5,552.6 759,567.1 759.4,581.6 759.9,596.1 760.3,610.6 760.7,625.1 761.1,639.6 761.5,654.1 761.9,668.7 762.3,683.2 762.7,697.7 763.1,712.2 763.4,726.7 763.8,741.2 764.1,755.7 764.4,770.2 764.7,784.8 765,799.3 765.3,813.8 765.5,828.3 765.7,842.8 766,857.3 766.2,871.8 766.4,886.4 766.6,900.9 766.7,915.4 766.9,929.9 767.1,944.4 767.2,958.9 767.3,973.4 767.4,987.9 767.5,1002.5 767.7,1017 767.8,1031.5 767.9,1046 768,1060.5" fill="none" stroke="#0c2a26" stroke-width="2.6" stroke-dasharray="9.5 8.3" clip-path="url(#clip-a)"/>
<path class="ax" d="M48.7 291.7H823.8M48.7 293.1V277.7M97.1 293.1V284.2M145.6 293.1V277.7M194 293.1V284.2M242.5 293.1V277.7M290.9 293.1V284.2M339.4 293.1V277.7M387.8 293.1V284.2M436.2 293.1V277.7M484.7 293.1V284.2M533.1 293.1V277.7M581.6 293.1V284.2M630 293.1V277.7M678.5 293.1V284.2M726.9 293.1V277.7M775.4 293.1V284.2M823.8 293.1V277.7"/>
<path class="ax" style="stroke:#4a4a4a" d="M48.7 314V1057.9"/>
<path class="ax" d="M47.3 1056.5H823.8M847.3 312.6V1057.9M845.9 1056.5H860.8M845.9 1010.1H854.3M845.9 963.7H860.8M845.9 917.3H854.3M845.9 870.9H860.8M845.9 824.5H854.3M845.9 778.1H860.8M845.9 731.7H854.3M845.9 685.2H860.8M845.9 638.8H854.3M845.9 592.4H860.8M845.9 546H854.3M845.9 499.6H860.8M845.9 453.2H854.3M845.9 406.8H860.8M845.9 360.4H854.3M845.9 314H860.8"/>
<text class="tk" x="39.8" y="258.9" textLength="18.8" lengthAdjust="spacingAndGlyphs">0</text>
<text class="tk" x="872.5" y="1070.1" textLength="18.8" lengthAdjust="spacingAndGlyphs">0</text>
<text class="tk" x="127.2" y="258.9" textLength="37.8" lengthAdjust="spacingAndGlyphs">10</text>
<text class="tk" x="872.5" y="977.3" textLength="37.8" lengthAdjust="spacingAndGlyphs">10</text>
<text class="tk" x="224.1" y="258.9" textLength="37.8" lengthAdjust="spacingAndGlyphs">20</text>
<text class="tk" x="872.5" y="884.5" textLength="37.8" lengthAdjust="spacingAndGlyphs">20</text>
<text class="tk" x="321" y="258.9" textLength="37.8" lengthAdjust="spacingAndGlyphs">30</text>
<text class="tk" x="872.5" y="791.7" textLength="37.8" lengthAdjust="spacingAndGlyphs">30</text>
<text class="tk" x="417.8" y="258.9" textLength="37.8" lengthAdjust="spacingAndGlyphs">40</text>
<text class="tk" x="872.5" y="698.9" textLength="37.8" lengthAdjust="spacingAndGlyphs">40</text>
<text class="tk" x="514.7" y="258.9" textLength="37.8" lengthAdjust="spacingAndGlyphs">50</text>
<text class="tk" x="872.5" y="606" textLength="37.8" lengthAdjust="spacingAndGlyphs">50</text>
<text class="tk" x="611.6" y="258.9" textLength="37.8" lengthAdjust="spacingAndGlyphs">60</text>
<text class="tk" x="872.5" y="513.2" textLength="37.8" lengthAdjust="spacingAndGlyphs">60</text>
<text class="tk" x="708.5" y="258.9" textLength="37.8" lengthAdjust="spacingAndGlyphs">70</text>
<text class="tk" x="872.5" y="420.4" textLength="37.8" lengthAdjust="spacingAndGlyphs">70</text>
<text class="tk" x="805.4" y="258.9" textLength="37.8" lengthAdjust="spacingAndGlyphs">80</text>
<text class="tk" x="872.5" y="327.6" textLength="37.8" lengthAdjust="spacingAndGlyphs">80</text>
<text class="t" x="437.1" y="223.4" text-anchor="middle" textLength="218" lengthAdjust="spacingAndGlyphs">X-Width, mm</text>
<text class="t" transform="translate(940.6 685.2) rotate(-90)" text-anchor="middle" textLength="215" lengthAdjust="spacingAndGlyphs">Y-Width, mm</text>
<text class="cap" x="286" y="1112.5">(a) <tspan font-style="italic">L</tspan>=900 mm</text>
<path class="rl" d="M80 313H128.6M80 370H128.6M105 313V370"/>
<path class="rl" d="M758.8 308.3L831.8 382.5M791.7 345.5L723.5 411.7M689.4 380L762.4 454.4"/>
<text class="r" x="123.5" y="351" textLength="142.2" lengthAdjust="spacingAndGlyphs">5.85 mm</text>
<text class="r" x="590.5" y="360.6" textLength="161.8" lengthAdjust="spacingAndGlyphs">10.14 mm</text>
<path d="M448 441C452 420 456.5 404 461 392" fill="none" stroke="#111" stroke-width="2.6" stroke-dasharray="7.5 7"/>
<path d="M467.6 370.5L467.6 392L456.5 388.5Z" fill="#111"/>
<text class="t" x="416" y="473.8">0.3</text>
</g>
<g id="panel-b">
<clipPath id="clip-b"><path d="M1017.5 313L1708 313 1708.4 313 1709.1 313 1710.1 313.1 1711.6 313.1 1713 313.2 1714.4 313.3 1715.8 313.4 1717.2 313.5 1718.6 313.7 1720.1 313.9 1721.5 314.1 1722.9 314.3 1724.3 314.6 1725.7 314.9 1727.1 315.2 1728.4 315.5 1729.8 315.9 1731.2 316.2 1732.6 316.6 1733.9 317 1735.3 317.5 1736.6 317.9 1738 318.4 1739.3 318.9 1740.6 319.5 1741.9 320 1743.2 320.6 1744.5 321.2 1745.8 321.9 1746.9 322.6 1748 323.4 1749.1 324.3 1750.1 325.2 1751.1 326.2 1752.1 327.1 1753.1 328.1 1754.1 329.1 1755.1 330.1 1756.1 331.1 1757.1 332.1 1758.1 333.1 1759.1 334.1 1760.1 335.1 1761.1 336.1 1762.1 337.1 1763.1 338.1 1764.1 339.1 1765.1 340.1 1766.1 341.1 1767.2 342.2 1768.2 343.2 1769.2 344.2 1770.2 345.2 1771.2 346.2 1772.2 347.2 1773.2 348.2 1774.2 349.2 1775.2 350.2 1776.2 351.2 1777.2 352.2 1778.2 353.2 1779.2 354.2 1780.2 355.2 1781.2 356.2 1782.1 357.2 1783.1 358.3 1783.9 359.3 1784.8 360.4 1785.5 361.6 1786.3 362.8 1786.9 364 1787.5 365.4 1788.1 366.7 1788.6 368 1789.1 369.3 1789.6 370.7 1790.1 372 1790.6 373.4 1791 374.8 1791.4 376.2 1791.8 377.5 1792.2 378.9 1792.5 380.3 1792.8 381.7 1793.1 383.1 1793.4 384.5 1793.7 386 1793.9 387.4 1794.1 388.8 1794.3 390.2 1794.5 391.7 1794.6 393.1 1794.7 394.5 1794.8 396 1794.9 397.4 1794.9 398.8 1795 399.9 1795 400.6 1795 401 V1056.5H1017.5Z"/></clipPath>
<path d="M1017.5 313L1708 313 1708.4 313 1709.1 313 1710.1 313.1 1711.6 313.1 1713 313.2 1714.4 313.3 1715.8 313.4 1717.2 313.5 1718.6 313.7 1720.1 313.9 1721.5 314.1 1722.9 314.3 1724.3 314.6 1725.7 314.9 1727.1 315.2 1728.4 315.5 1729.8 315.9 1731.2 316.2 1732.6 316.6 1733.9 317 1735.3 317.5 1736.6 317.9 1738 318.4 1739.3 318.9 1740.6 319.5 1741.9 320 1743.2 320.6 1744.5 321.2 1745.8 321.9 1746.9 322.6 1748 323.4 1749.1 324.3 1750.1 325.2 1751.1 326.2 1752.1 327.1 1753.1 328.1 1754.1 329.1 1755.1 330.1 1756.1 331.1 1757.1 332.1 1758.1 333.1 1759.1 334.1 1760.1 335.1 1761.1 336.1 1762.1 337.1 1763.1 338.1 1764.1 339.1 1765.1 340.1 1766.1 341.1 1767.2 342.2 1768.2 343.2 1769.2 344.2 1770.2 345.2 1771.2 346.2 1772.2 347.2 1773.2 348.2 1774.2 349.2 1775.2 350.2 1776.2 351.2 1777.2 352.2 1778.2 353.2 1779.2 354.2 1780.2 355.2 1781.2 356.2 1782.1 357.2 1783.1 358.3 1783.9 359.3 1784.8 360.4 1785.5 361.6 1786.3 362.8 1786.9 364 1787.5 365.4 1788.1 366.7 1788.6 368 1789.1 369.3 1789.6 370.7 1790.1 372 1790.6 373.4 1791 374.8 1791.4 376.2 1791.8 377.5 1792.2 378.9 1792.5 380.3 1792.8 381.7 1793.1 383.1 1793.4 384.5 1793.7 386 1793.9 387.4 1794.1 388.8 1794.3 390.2 1794.5 391.7 1794.6 393.1 1794.7 394.5 1794.8 396 1794.9 397.4 1794.9 398.8 1795 399.9 1795 400.6 1795 401 V1056.5H1017.5Z" fill="#0000ff"/>
<g clip-path="url(#clip-b)">
<polygon points="1011.5,358.7 1013.5,358.7 1028.2,358.8 1042.8,358.9 1057.5,359 1072.2,359.2 1086.8,359.3 1101.5,359.4 1116.1,359.5 1130.8,359.6 1145.5,359.8 1160.1,359.9 1174.8,360 1189.5,360.2 1204.1,360.3 1218.8,360.4 1233.4,360.6 1248.1,360.7 1262.8,360.8 1277.4,361 1292.1,361.1 1306.8,361.3 1321.4,361.4 1336.1,361.6 1350.7,361.7 1365.4,361.9 1380.1,362 1394.7,362.2 1409.4,362.3 1424,362.5 1438.7,362.7 1453.4,362.9 1468,363.2 1482.7,363.6 1497.4,364.1 1512,364.6 1526.7,365.2 1541.3,365.8 1556,366.6 1570.7,367.8 1585.3,369.1 1600,370.5 1606.2,371.3 1612.4,372 1618.5,372.9 1624.7,373.9 1630.8,374.9 1637,376.1 1643.2,377.5 1649.3,379.3 1655.3,381.4 1661.3,383.8 1667.3,386.4 1673.2,389.2 1679.2,392.2 1685.2,395.4 1691.1,398.9 1696.9,402.8 1702.2,407.2 1706.9,412.3 1710.8,418 1714.2,424 1717.2,430.3 1719.8,436.7 1722.2,443.1 1724.4,449.6 1726.3,456.2 1727.9,462.8 1729.3,469.5 1730.4,476.3 1731.4,483.1 1732.3,490 1734.1,504.3 1735.9,518.5 1737.7,532.8 1738.8,547 1739.6,561.3 1740.1,575.6 1740.6,589.8 1741.1,604.1 1741.5,618.4 1741.8,632.6 1742.1,646.9 1742.3,661.1 1742.4,675.4 1742.3,689.7 1742.3,703.9 1742.4,718.2 1742.5,732.5 1742.7,746.7 1743,761 1743.2,775.2 1743.4,789.5 1743.6,803.8 1743.8,818 1744,832.3 1744.1,846.6 1744.3,860.8 1744.4,875.1 1744.5,889.4 1744.6,903.6 1744.6,917.9 1744.7,932.1 1744.7,946.4 1744.8,960.7 1744.8,974.9 1744.9,989.2 1744.9,1003.5 1744.9,1017.7 1744.8,1032 1744.8,1046.2 1744.7,1060.5 1744.7,1062.5 1011.5,1062.5" fill="#0009ff"/>
<polygon points="1011.5,359.9 1013.5,359.9 1028.2,360 1042.8,360.1 1057.5,360.2 1072.2,360.3 1086.8,360.5 1101.5,360.6 1116.1,360.7 1130.8,360.8 1145.5,361 1160.1,361.1 1174.8,361.2 1189.5,361.3 1204.1,361.5 1218.8,361.6 1233.4,361.8 1248.1,361.9 1262.8,362 1277.4,362.2 1292.1,362.3 1306.8,362.5 1321.4,362.6 1336.1,362.8 1350.7,362.9 1365.4,363.1 1380.1,363.2 1394.7,363.4 1409.4,363.6 1424,363.7 1438.7,364 1453.4,364.2 1468,364.5 1482.7,364.9 1497.4,365.4 1512,365.9 1526.7,366.5 1541.3,367.1 1556,367.9 1570.7,369 1585.3,370.3 1600,371.8 1606.2,372.5 1612.3,373.3 1618.4,374.1 1624.4,375.1 1630.5,376.1 1636.6,377.3 1642.7,378.7 1648.8,380.4 1654.7,382.6 1660.7,384.9 1666.5,387.5 1672.5,390.3 1678.4,393.2 1684.3,396.4 1690.1,399.9 1695.9,403.7 1701.1,408.1 1705.8,413.1 1709.7,418.8 1713,424.7 1715.9,430.9 1718.5,437.2 1720.9,443.6 1723.1,450 1725.1,456.5 1726.7,463.1 1728,469.7 1729.2,476.4 1730.1,483.2 1731,490 1732.8,504.3 1734.6,518.5 1736.3,532.8 1737.5,547 1738.2,561.3 1738.8,575.6 1739.3,589.8 1739.7,604.1 1740.1,618.4 1740.5,632.6 1740.8,646.9 1741,661.1 1741.1,675.4 1741.1,689.7 1741.1,703.9 1741.1,718.2 1741.3,732.5 1741.5,746.7 1741.8,761 1742,775.2 1742.2,789.5 1742.4,803.8 1742.6,818 1742.8,832.3 1742.9,846.6 1743.1,860.8 1743.2,875.1 1743.3,889.4 1743.4,903.6 1743.4,917.9 1743.5,932.1 1743.6,946.4 1743.6,960.7 1743.6,974.9 1743.7,989.2 1743.7,1003.5 1743.7,1017.7 1743.7,1032 1743.6,1046.2 1743.5,1060.5 1743.5,1062.5 1011.5,1062.5" fill="#001bff"/>
<polygon points="1011.5,361 1013.5,361 1028.2,361.2 1042.8,361.3 1057.5,361.4 1072.2,361.5 1086.8,361.7 1101.5,361.8 1116.1,361.9 1130.8,362 1145.5,362.1 1160.1,362.3 1174.8,362.4 1189.5,362.5 1204.1,362.7 1218.8,362.8 1233.4,363 1248.1,363.1 1262.8,363.2 1277.4,363.4 1292.1,363.5 1306.8,363.7 1321.4,363.8 1336.1,364 1350.7,364.2 1365.4,364.3 1380.1,364.5 1394.7,364.7 1409.4,364.8 1424,365 1438.7,365.2 1453.4,365.5 1468,365.8 1482.7,366.2 1497.4,366.6 1512,367.2 1526.7,367.8 1541.3,368.4 1556,369.2 1570.7,370.3 1585.3,371.6 1600,373.1 1606.1,373.8 1612.1,374.5 1618.2,375.4 1624.2,376.3 1630.2,377.3 1636.2,378.5 1642.3,379.9 1648.3,381.6 1654.2,383.7 1660,386.1 1665.8,388.6 1671.7,391.3 1677.5,394.2 1683.4,397.4 1689.2,400.8 1694.8,404.6 1700,409 1704.7,414 1708.5,419.6 1711.8,425.4 1714.7,431.5 1717.3,437.8 1719.7,444.1 1721.9,450.4 1723.8,456.8 1725.4,463.3 1726.8,469.9 1727.9,476.6 1728.9,483.2 1729.7,490 1731.5,504.3 1733.3,518.5 1735,532.8 1736.2,547 1736.9,561.3 1737.5,575.6 1738,589.8 1738.4,604.1 1738.8,618.4 1739.2,632.6 1739.5,646.9 1739.7,661.1 1739.8,675.4 1739.8,689.7 1739.8,703.9 1739.9,718.2 1740.1,732.5 1740.3,746.7 1740.6,761 1740.8,775.2 1741,789.5 1741.2,803.8 1741.4,818 1741.6,832.3 1741.7,846.6 1741.9,860.8 1742,875.1 1742.1,889.4 1742.2,903.6 1742.3,917.9 1742.3,932.1 1742.4,946.4 1742.4,960.7 1742.4,974.9 1742.5,989.2 1742.5,1003.5 1742.5,1017.7 1742.5,1032 1742.4,1046.2 1742.3,1060.5 1742.3,1062.5 1011.5,1062.5" fill="#002dff"/>
<polygon points="1011.5,362.2 1013.5,362.2 1028.2,362.3 1042.8,362.5 1057.5,362.6 1072.2,362.7 1086.8,362.8 1101.5,363 1116.1,363.1 1130.8,363.2 1145.5,363.3 1160.1,363.5 1174.8,363.6 1189.5,363.7 1204.1,363.9 1218.8,364 1233.4,364.2 1248.1,364.3 1262.8,364.4 1277.4,364.6 1292.1,364.8 1306.8,364.9 1321.4,365.1 1336.1,365.2 1350.7,365.4 1365.4,365.5 1380.1,365.7 1394.7,365.9 1409.4,366.1 1424,366.3 1438.7,366.5 1453.4,366.7 1468,367.1 1482.7,367.5 1497.4,367.9 1512,368.5 1526.7,369 1541.3,369.7 1556,370.4 1570.7,371.6 1585.3,372.8 1600,374.3 1606,375 1612,375.8 1618,376.6 1623.9,377.5 1629.9,378.5 1635.8,379.7 1641.8,381.1 1647.7,382.8 1653.6,384.8 1659.4,387.2 1665.1,389.7 1670.9,392.4 1676.7,395.3 1682.5,398.4 1688.2,401.8 1693.8,405.6 1699,409.9 1703.5,414.8 1707.3,420.3 1710.6,426.1 1713.5,432.2 1716.1,438.3 1718.5,444.5 1720.6,450.8 1722.6,457.2 1724.2,463.6 1725.5,470.1 1726.6,476.7 1727.6,483.3 1728.5,490 1730.2,504.3 1732,518.5 1733.7,532.8 1734.8,547 1735.6,561.3 1736.2,575.6 1736.7,589.8 1737.1,604.1 1737.5,618.4 1737.8,632.6 1738.1,646.9 1738.4,661.1 1738.5,675.4 1738.5,689.7 1738.6,703.9 1738.7,718.2 1738.9,732.5 1739.1,746.7 1739.4,761 1739.6,775.2 1739.8,789.5 1740,803.8 1740.2,818 1740.4,832.3 1740.6,846.6 1740.7,860.8 1740.8,875.1 1740.9,889.4 1741,903.6 1741.1,917.9 1741.1,932.1 1741.2,946.4 1741.2,960.7 1741.2,974.9 1741.3,989.2 1741.3,1003.5 1741.3,1017.7 1741.3,1032 1741.2,1046.2 1741.2,1060.5 1741.2,1062.5 1011.5,1062.5" fill="#003eff"/>
<polygon points="1011.5,363.4 1013.5,363.4 1028.2,363.5 1042.8,363.6 1057.5,363.8 1072.2,363.9 1086.8,364 1101.5,364.1 1116.1,364.3 1130.8,364.4 1145.5,364.5 1160.1,364.6 1174.8,364.8 1189.5,364.9 1204.1,365.1 1218.8,365.2 1233.4,365.4 1248.1,365.5 1262.8,365.6 1277.4,365.8 1292.1,366 1306.8,366.1 1321.4,366.3 1336.1,366.4 1350.7,366.6 1365.4,366.8 1380.1,366.9 1394.7,367.1 1409.4,367.3 1424,367.5 1438.7,367.8 1453.4,368 1468,368.4 1482.7,368.7 1497.4,369.2 1512,369.8 1526.7,370.3 1541.3,371 1556,371.7 1570.7,372.9 1585.3,374.1 1600,375.6 1606,376.3 1611.9,377 1617.8,377.8 1623.6,378.8 1629.5,379.8 1635.4,380.9 1641.4,382.3 1647.2,383.9 1653,386 1658.7,388.3 1664.4,390.8 1670.1,393.5 1675.9,396.3 1681.6,399.4 1687.2,402.8 1692.8,406.5 1697.9,410.8 1702.4,415.6 1706.1,421.1 1709.4,426.8 1712.3,432.8 1714.9,438.9 1717.2,445 1719.4,451.2 1721.3,457.5 1722.9,463.9 1724.2,470.3 1725.4,476.8 1726.3,483.4 1727.2,490 1728.9,504.3 1730.7,518.5 1732.4,532.8 1733.5,547 1734.3,561.3 1734.9,575.6 1735.3,589.8 1735.8,604.1 1736.2,618.4 1736.5,632.6 1736.8,646.9 1737.1,661.1 1737.2,675.4 1737.3,689.7 1737.4,703.9 1737.5,718.2 1737.7,732.5 1737.9,746.7 1738.2,761 1738.4,775.2 1738.6,789.5 1738.8,803.8 1739,818 1739.2,832.3 1739.4,846.6 1739.5,860.8 1739.6,875.1 1739.7,889.4 1739.8,903.6 1739.9,917.9 1739.9,932.1 1740,946.4 1740,960.7 1740.1,974.9 1740.1,989.2 1740.1,1003.5 1740.1,1017.7 1740.1,1032 1740,1046.2 1740,1060.5 1740,1062.5 1011.5,1062.5" fill="#0050ff"/>
<polygon points="1011.5,364.6 1013.5,364.6 1028.2,364.7 1042.8,364.8 1057.5,364.9 1072.2,365.1 1086.8,365.2 1101.5,365.3 1116.1,365.5 1130.8,365.6 1145.5,365.7 1160.1,365.8 1174.8,366 1189.5,366.1 1204.1,366.3 1218.8,366.4 1233.4,366.5 1248.1,366.7 1262.8,366.9 1277.4,367 1292.1,367.2 1306.8,367.3 1321.4,367.5 1336.1,367.7 1350.7,367.8 1365.4,368 1380.1,368.2 1394.7,368.4 1409.4,368.6 1424,368.8 1438.7,369 1453.4,369.3 1468,369.6 1482.7,370 1497.4,370.5 1512,371 1526.7,371.6 1541.3,372.2 1556,373 1570.7,374.1 1585.3,375.4 1600,376.8 1605.9,377.5 1611.7,378.3 1617.6,379.1 1623.4,380 1629.2,381 1635.1,382.1 1640.9,383.5 1646.7,385.1 1652.4,387.1 1658.1,389.4 1663.7,391.9 1669.4,394.5 1675,397.4 1680.6,400.4 1686.2,403.8 1691.7,407.4 1696.8,411.6 1701.3,416.4 1705,421.8 1708.3,427.5 1711.1,433.4 1713.6,439.4 1716,445.5 1718.1,451.6 1720.1,457.8 1721.6,464.1 1723,470.5 1724.1,477 1725.1,483.4 1725.9,490 1727.7,504.3 1729.4,518.5 1731.1,532.8 1732.2,547 1733,561.3 1733.5,575.6 1734,589.8 1734.5,604.1 1734.8,618.4 1735.2,632.6 1735.5,646.9 1735.7,661.1 1735.9,675.4 1736,689.7 1736.1,703.9 1736.3,718.2 1736.5,732.5 1736.7,746.7 1736.9,761 1737.2,775.2 1737.4,789.5 1737.6,803.8 1737.8,818 1738,832.3 1738.2,846.6 1738.3,860.8 1738.4,875.1 1738.5,889.4 1738.6,903.6 1738.7,917.9 1738.7,932.1 1738.8,946.4 1738.8,960.7 1738.9,974.9 1738.9,989.2 1738.9,1003.5 1738.9,1017.7 1738.9,1032 1738.8,1046.2 1738.8,1060.5 1738.8,1062.5 1011.5,1062.5" fill="#0062ff"/>
<polygon points="1011.5,365.7 1013.5,365.7 1028.2,365.9 1042.8,366 1057.5,366.1 1072.2,366.3 1086.8,366.4 1101.5,366.5 1116.1,366.6 1130.8,366.8 1145.5,366.9 1160.1,367 1174.8,367.2 1189.5,367.3 1204.1,367.5 1218.8,367.6 1233.4,367.7 1248.1,367.9 1262.8,368.1 1277.4,368.2 1292.1,368.4 1306.8,368.5 1321.4,368.7 1336.1,368.9 1350.7,369.1 1365.4,369.2 1380.1,369.4 1394.7,369.6 1409.4,369.8 1424,370 1438.7,370.3 1453.4,370.6 1468,370.9 1482.7,371.3 1497.4,371.8 1512,372.3 1526.7,372.9 1541.3,373.5 1556,374.3 1570.7,375.4 1585.3,376.6 1600,378.1 1605.8,378.8 1611.6,379.5 1617.4,380.3 1623.1,381.2 1628.9,382.2 1634.7,383.3 1640.4,384.6 1646.2,386.3 1651.8,388.3 1657.4,390.6 1663,393 1668.6,395.6 1674.2,398.4 1679.7,401.4 1685.3,404.7 1690.7,408.4 1695.7,412.5 1700.1,417.3 1703.8,422.6 1707.1,428.2 1709.9,434 1712.4,440 1714.7,446 1716.9,452 1718.8,458.2 1720.4,464.4 1721.7,470.7 1722.8,477.1 1723.8,483.5 1724.6,490 1726.4,504.3 1728.1,518.5 1729.8,532.8 1730.9,547 1731.6,561.3 1732.2,575.6 1732.7,589.8 1733.1,604.1 1733.5,618.4 1733.9,632.6 1734.2,646.9 1734.4,661.1 1734.6,675.4 1734.7,689.7 1734.9,703.9 1735,718.2 1735.2,732.5 1735.5,746.7 1735.7,761 1736,775.2 1736.2,789.5 1736.4,803.8 1736.6,818 1736.8,832.3 1737,846.6 1737.1,860.8 1737.2,875.1 1737.3,889.4 1737.4,903.6 1737.5,917.9 1737.6,932.1 1737.6,946.4 1737.6,960.7 1737.7,974.9 1737.7,989.2 1737.7,1003.5 1737.7,1017.7 1737.7,1032 1737.6,1046.2 1737.6,1060.5 1737.6,1062.5 1011.5,1062.5" fill="#0074ff"/>
<polygon points="1011.5,366.9 1013.5,366.9 1028.2,367 1042.8,367.2 1057.5,367.3 1072.2,367.4 1086.8,367.6 1101.5,367.7 1116.1,367.8 1130.8,368 1145.5,368.1 1160.1,368.2 1174.8,368.4 1189.5,368.5 1204.1,368.6 1218.8,368.8 1233.4,368.9 1248.1,369.1 1262.8,369.3 1277.4,369.4 1292.1,369.6 1306.8,369.8 1321.4,369.9 1336.1,370.1 1350.7,370.3 1365.4,370.5 1380.1,370.7 1394.7,370.9 1409.4,371.1 1424,371.3 1438.7,371.6 1453.4,371.8 1468,372.2 1482.7,372.6 1497.4,373.1 1512,373.6 1526.7,374.2 1541.3,374.8 1556,375.5 1570.7,376.7 1585.3,377.9 1600,379.3 1605.8,380 1611.5,380.8 1617.2,381.5 1622.9,382.4 1628.6,383.4 1634.3,384.5 1640,385.8 1645.7,387.4 1651.2,389.4 1656.8,391.7 1662.3,394.1 1667.8,396.7 1673.3,399.5 1678.8,402.5 1684.3,405.7 1689.6,409.3 1694.6,413.4 1699,418.1 1702.6,423.4 1705.9,428.9 1708.7,434.6 1711.2,440.5 1713.5,446.4 1715.7,452.4 1717.6,458.5 1719.1,464.7 1720.5,470.9 1721.6,477.2 1722.5,483.6 1723.4,490 1725.1,504.3 1726.8,518.5 1728.5,532.8 1729.6,547 1730.3,561.3 1730.9,575.6 1731.4,589.8 1731.8,604.1 1732.2,618.4 1732.5,632.6 1732.9,646.9 1733.1,661.1 1733.3,675.4 1733.5,689.7 1733.6,703.9 1733.8,718.2 1734,732.5 1734.3,746.7 1734.5,761 1734.8,775.2 1735,789.5 1735.2,803.8 1735.4,818 1735.6,832.3 1735.8,846.6 1735.9,860.8 1736.1,875.1 1736.2,889.4 1736.3,903.6 1736.3,917.9 1736.4,932.1 1736.4,946.4 1736.5,960.7 1736.5,974.9 1736.5,989.2 1736.5,1003.5 1736.5,1017.7 1736.5,1032 1736.5,1046.2 1736.4,1060.5 1736.4,1062.5 1011.5,1062.5" fill="#008fff"/>
<polygon points="1011.5,368.1 1013.5,368.1 1028.2,368.2 1042.8,368.4 1057.5,368.5 1072.2,368.6 1086.8,368.8 1101.5,368.9 1116.1,369 1130.8,369.1 1145.5,369.3 1160.1,369.4 1174.8,369.6 1189.5,369.7 1204.1,369.8 1218.8,370 1233.4,370.1 1248.1,370.3 1262.8,370.5 1277.4,370.6 1292.1,370.8 1306.8,371 1321.4,371.1 1336.1,371.3 1350.7,371.5 1365.4,371.7 1380.1,371.9 1394.7,372.1 1409.4,372.3 1424,372.6 1438.7,372.8 1453.4,373.1 1468,373.5 1482.7,373.9 1497.4,374.4 1512,374.9 1526.7,375.5 1541.3,376.1 1556,376.8 1570.7,377.9 1585.3,379.2 1600,380.6 1605.7,381.3 1611.4,382 1617,382.8 1622.6,383.7 1628.2,384.6 1633.9,385.7 1639.5,387 1645.2,388.6 1650.7,390.6 1656.1,392.8 1661.6,395.2 1667,397.8 1672.5,400.5 1677.9,403.5 1683.3,406.7 1688.6,410.2 1693.5,414.3 1697.9,418.9 1701.5,424.1 1704.7,429.6 1707.4,435.3 1710,441 1712.3,446.9 1714.4,452.8 1716.3,458.8 1717.9,464.9 1719.2,471.1 1720.3,477.4 1721.2,483.6 1722.1,490 1723.8,504.3 1725.5,518.5 1727.2,532.8 1728.3,547 1729,561.3 1729.6,575.6 1730.1,589.8 1730.5,604.1 1730.9,618.4 1731.2,632.6 1731.5,646.9 1731.8,661.1 1732,675.4 1732.2,689.7 1732.4,703.9 1732.6,718.2 1732.8,732.5 1733.1,746.7 1733.3,761 1733.6,775.2 1733.8,789.5 1734,803.8 1734.2,818 1734.4,832.3 1734.6,846.6 1734.8,860.8 1734.9,875.1 1735,889.4 1735.1,903.6 1735.1,917.9 1735.2,932.1 1735.2,946.4 1735.3,960.7 1735.3,974.9 1735.3,989.2 1735.3,1003.5 1735.3,1017.7 1735.3,1032 1735.3,1046.2 1735.2,1060.5 1735.2,1062.5 1011.5,1062.5" fill="#00adff"/>
<polygon points="1011.5,369.3 1013.5,369.3 1028.2,369.4 1042.8,369.5 1057.5,369.7 1072.2,369.8 1086.8,369.9 1101.5,370.1 1116.1,370.2 1130.8,370.3 1145.5,370.5 1160.1,370.6 1174.8,370.7 1189.5,370.9 1204.1,371 1218.8,371.2 1233.4,371.3 1248.1,371.5 1262.8,371.7 1277.4,371.8 1292.1,372 1306.8,372.2 1321.4,372.4 1336.1,372.5 1350.7,372.7 1365.4,372.9 1380.1,373.1 1394.7,373.4 1409.4,373.6 1424,373.8 1438.7,374.1 1453.4,374.4 1468,374.8 1482.7,375.2 1497.4,375.6 1512,376.2 1526.7,376.7 1541.3,377.4 1556,378.1 1570.7,379.2 1585.3,380.4 1600,381.8 1605.6,382.5 1611.2,383.2 1616.8,384 1622.3,384.9 1627.9,385.8 1633.5,386.9 1639.1,388.2 1644.6,389.8 1650.1,391.7 1655.5,393.9 1660.9,396.3 1666.2,398.8 1671.6,401.5 1677,404.5 1682.3,407.7 1687.6,411.2 1692.4,415.2 1696.7,419.7 1700.3,424.9 1703.5,430.3 1706.2,435.9 1708.7,441.6 1711,447.4 1713.2,453.2 1715,459.2 1716.6,465.2 1717.9,471.3 1719,477.5 1720,483.7 1720.8,490 1722.5,504.3 1724.2,518.5 1725.9,532.8 1726.9,547 1727.7,561.3 1728.3,575.6 1728.7,589.8 1729.2,604.1 1729.6,618.4 1729.9,632.6 1730.2,646.9 1730.5,661.1 1730.7,675.4 1730.9,689.7 1731.1,703.9 1731.4,718.2 1731.6,732.5 1731.9,746.7 1732.1,761 1732.4,775.2 1732.6,789.5 1732.8,803.8 1733,818 1733.2,832.3 1733.4,846.6 1733.6,860.8 1733.7,875.1 1733.8,889.4 1733.9,903.6 1733.9,917.9 1734,932.1 1734.1,946.4 1734.1,960.7 1734.1,974.9 1734.1,989.2 1734.1,1003.5 1734.1,1017.7 1734.1,1032 1734.1,1046.2 1734.1,1060.5 1734.1,1062.5 1011.5,1062.5" fill="#00caff"/>
<polygon points="1011.5,370.5 1013.5,370.5 1028.2,370.6 1042.8,370.7 1057.5,370.9 1072.2,371 1086.8,371.1 1101.5,371.3 1116.1,371.4 1130.8,371.5 1145.5,371.7 1160.1,371.8 1174.8,371.9 1189.5,372.1 1204.1,372.2 1218.8,372.4 1233.4,372.5 1248.1,372.7 1262.8,372.9 1277.4,373 1292.1,373.2 1306.8,373.4 1321.4,373.6 1336.1,373.8 1350.7,374 1365.4,374.2 1380.1,374.4 1394.7,374.6 1409.4,374.8 1424,375.1 1438.7,375.4 1453.4,375.7 1468,376.1 1482.7,376.4 1497.4,376.9 1512,377.5 1526.7,378 1541.3,378.6 1556,379.4 1570.7,380.5 1585.3,381.7 1600,383.1 1605.6,383.8 1611.1,384.5 1616.6,385.3 1622.1,386.1 1627.6,387 1633.1,388.1 1638.6,389.4 1644.1,390.9 1649.5,392.8 1654.8,395 1660.1,397.4 1665.5,399.9 1670.8,402.6 1676.1,405.5 1681.4,408.6 1686.5,412.1 1691.3,416.1 1695.6,420.6 1699.1,425.6 1702.3,431 1705,436.5 1707.5,442.1 1709.8,447.9 1711.9,453.6 1713.8,459.5 1715.4,465.5 1716.7,471.5 1717.8,477.6 1718.7,483.8 1719.5,490 1721.2,504.3 1722.9,518.5 1724.6,532.8 1725.6,547 1726.4,561.3 1727,575.6 1727.4,589.8 1727.9,604.1 1728.2,618.4 1728.6,632.6 1728.9,646.9 1729.2,661.1 1729.4,675.4 1729.7,689.7 1729.9,703.9 1730.1,718.2 1730.4,732.5 1730.6,746.7 1730.9,761 1731.1,775.2 1731.4,789.5 1731.6,803.8 1731.8,818 1732,832.3 1732.2,846.6 1732.4,860.8 1732.5,875.1 1732.6,889.4 1732.7,903.6 1732.8,917.9 1732.8,932.1 1732.9,946.4 1732.9,960.7 1732.9,974.9 1732.9,989.2 1732.9,1003.5 1732.9,1017.7 1732.9,1032 1732.9,1046.2 1732.9,1060.5 1732.9,1062.5 1011.5,1062.5" fill="#00e8ff"/>
<polygon points="1011.5,371.6 1013.5,371.6 1028.2,371.8 1042.8,371.9 1057.5,372 1072.2,372.2 1086.8,372.3 1101.5,372.4 1116.1,372.6 1130.8,372.7 1145.5,372.8 1160.1,373 1174.8,373.1 1189.5,373.3 1204.1,373.4 1218.8,373.6 1233.4,373.7 1248.1,373.9 1262.8,374.1 1277.4,374.2 1292.1,374.4 1306.8,374.6 1321.4,374.8 1336.1,375 1350.7,375.2 1365.4,375.4 1380.1,375.6 1394.7,375.8 1409.4,376.1 1424,376.3 1438.7,376.7 1453.4,377 1468,377.3 1482.7,377.7 1497.4,378.2 1512,378.7 1526.7,379.3 1541.3,379.9 1556,380.6 1570.7,381.7 1585.3,382.9 1600,384.4 1605.5,385 1611,385.7 1616.4,386.5 1621.8,387.3 1627.3,388.3 1632.7,389.3 1638.2,390.6 1643.6,392.1 1648.9,394 1654.2,396.2 1659.4,398.5 1664.7,401 1669.9,403.6 1675.2,406.5 1680.4,409.6 1685.5,413 1690.2,416.9 1694.4,421.4 1697.9,426.4 1701.1,431.6 1703.8,437.1 1706.3,442.7 1708.6,448.3 1710.7,454 1712.5,459.8 1714.1,465.7 1715.4,471.7 1716.5,477.8 1717.4,483.8 1718.3,490 1720,504.3 1721.6,518.5 1723.3,532.8 1724.3,547 1725.1,561.3 1725.6,575.6 1726.1,589.8 1726.5,604.1 1726.9,618.4 1727.3,632.6 1727.6,646.9 1727.9,661.1 1728.2,675.4 1728.4,689.7 1728.7,703.9 1728.9,718.2 1729.2,732.5 1729.4,746.7 1729.7,761 1729.9,775.2 1730.2,789.5 1730.4,803.8 1730.6,818 1730.8,832.3 1731,846.6 1731.2,860.8 1731.3,875.1 1731.4,889.4 1731.5,903.6 1731.6,917.9 1731.6,932.1 1731.7,946.4 1731.7,960.7 1731.7,974.9 1731.7,989.2 1731.7,1003.5 1731.7,1017.7 1731.7,1032 1731.7,1046.2 1731.7,1060.5 1731.7,1062.5 1011.5,1062.5" fill="#00fff8"/>
<polygon points="1011.5,372.8 1013.5,372.8 1028.2,372.9 1042.8,373.1 1057.5,373.2 1072.2,373.4 1086.8,373.5 1101.5,373.6 1116.1,373.8 1130.8,373.9 1145.5,374 1160.1,374.2 1174.8,374.3 1189.5,374.5 1204.1,374.6 1218.8,374.8 1233.4,374.9 1248.1,375.1 1262.8,375.3 1277.4,375.4 1292.1,375.6 1306.8,375.8 1321.4,376 1336.1,376.2 1350.7,376.4 1365.4,376.6 1380.1,376.8 1394.7,377.1 1409.4,377.3 1424,377.6 1438.7,377.9 1453.4,378.2 1468,378.6 1482.7,379 1497.4,379.5 1512,380 1526.7,380.6 1541.3,381.2 1556,381.9 1570.7,383 1585.3,384.2 1600,385.6 1605.4,386.3 1610.8,387 1616.2,387.7 1621.6,388.6 1626.9,389.5 1632.3,390.5 1637.7,391.8 1643.1,393.2 1648.3,395.1 1653.5,397.3 1658.7,399.6 1663.9,402 1669.1,404.7 1674.3,407.5 1679.4,410.6 1684.5,414 1689.1,417.8 1693.3,422.2 1696.8,427.2 1699.9,432.3 1702.6,437.7 1705.1,443.2 1707.3,448.8 1709.4,454.4 1711.3,460.2 1712.8,466 1714.1,471.9 1715.2,477.9 1716.2,483.9 1717,490 1718.7,504.3 1720.3,518.5 1722,532.8 1723,547 1723.7,561.3 1724.3,575.6 1724.8,589.8 1725.2,604.1 1725.6,618.4 1725.9,632.6 1726.3,646.9 1726.6,661.1 1726.9,675.4 1727.1,689.7 1727.4,703.9 1727.7,718.2 1728,732.5 1728.2,746.7 1728.5,761 1728.7,775.2 1729,789.5 1729.2,803.8 1729.5,818 1729.7,832.3 1729.8,846.6 1730,860.8 1730.1,875.1 1730.2,889.4 1730.3,903.6 1730.4,917.9 1730.4,932.1 1730.5,946.4 1730.5,960.7 1730.5,974.9 1730.5,989.2 1730.5,1003.5 1730.5,1017.7 1730.5,1032 1730.5,1046.2 1730.5,1060.5 1730.5,1062.5 1011.5,1062.5" fill="#00ffd8"/>
<polygon points="1011.5,374 1013.5,374 1028.2,374.1 1042.8,374.3 1057.5,374.4 1072.2,374.5 1086.8,374.7 1101.5,374.8 1116.1,374.9 1130.8,375.1 1145.5,375.2 1160.1,375.4 1174.8,375.5 1189.5,375.7 1204.1,375.8 1218.8,376 1233.4,376.1 1248.1,376.3 1262.8,376.5 1277.4,376.7 1292.1,376.8 1306.8,377 1321.4,377.2 1336.1,377.4 1350.7,377.6 1365.4,377.8 1380.1,378.1 1394.7,378.3 1409.4,378.6 1424,378.9 1438.7,379.2 1453.4,379.5 1468,379.9 1482.7,380.3 1497.4,380.8 1512,381.3 1526.7,381.9 1541.3,382.5 1556,383.2 1570.7,384.3 1585.3,385.5 1600,386.9 1605.4,387.5 1610.7,388.2 1616,389 1621.3,389.8 1626.6,390.7 1631.9,391.7 1637.3,392.9 1642.6,394.4 1647.8,396.3 1652.9,398.4 1658,400.7 1663.1,403.1 1668.3,405.7 1673.4,408.5 1678.4,411.6 1683.4,414.9 1688,418.7 1692.2,423 1695.6,427.9 1698.7,433 1701.4,438.3 1703.8,443.8 1706.1,449.3 1708.2,454.8 1710,460.5 1711.6,466.3 1712.9,472.1 1714,478 1714.9,484 1715.7,490 1717.4,504.3 1719,518.5 1720.7,532.8 1721.7,547 1722.4,561.3 1723,575.6 1723.5,589.8 1723.9,604.1 1724.3,618.4 1724.6,632.6 1724.9,646.9 1725.3,661.1 1725.6,675.4 1725.9,689.7 1726.2,703.9 1726.5,718.2 1726.7,732.5 1727,746.7 1727.3,761 1727.5,775.2 1727.8,789.5 1728,803.8 1728.3,818 1728.5,832.3 1728.6,846.6 1728.8,860.8 1728.9,875.1 1729,889.4 1729.1,903.6 1729.2,917.9 1729.3,932.1 1729.3,946.4 1729.3,960.7 1729.3,974.9 1729.3,989.2 1729.3,1003.5 1729.3,1017.7 1729.3,1032 1729.3,1046.2 1729.3,1060.5 1729.3,1062.5 1011.5,1062.5" fill="#00ffb8"/>
<polygon points="1011.5,375.2 1013.5,375.2 1028.2,375.3 1042.8,375.4 1057.5,375.6 1072.2,375.7 1086.8,375.9 1101.5,376 1116.1,376.1 1130.8,376.3 1145.5,376.4 1160.1,376.5 1174.8,376.7 1189.5,376.9 1204.1,377 1218.8,377.2 1233.4,377.3 1248.1,377.5 1262.8,377.7 1277.4,377.9 1292.1,378.1 1306.8,378.2 1321.4,378.4 1336.1,378.6 1350.7,378.9 1365.4,379.1 1380.1,379.3 1394.7,379.6 1409.4,379.8 1424,380.1 1438.7,380.5 1453.4,380.8 1468,381.2 1482.7,381.6 1497.4,382.1 1512,382.6 1526.7,383.2 1541.3,383.8 1556,384.5 1570.7,385.5 1585.3,386.7 1600,388.1 1605.3,388.8 1610.6,389.5 1615.8,390.2 1621,391 1626.3,391.9 1631.5,392.9 1636.8,394.1 1642,395.6 1647.2,397.4 1652.2,399.5 1657.3,401.8 1662.4,404.2 1667.4,406.7 1672.5,409.5 1677.5,412.5 1682.4,415.8 1687,419.6 1691,423.9 1694.4,428.7 1697.5,433.7 1700.2,439 1702.6,444.3 1704.9,449.7 1706.9,455.3 1708.8,460.9 1710.3,466.5 1711.6,472.3 1712.7,478.2 1713.6,484 1714.4,490 1716.1,504.3 1717.7,518.5 1719.4,532.8 1720.4,547 1721.1,561.3 1721.7,575.6 1722.2,589.8 1722.6,604.1 1722.9,618.4 1723.3,632.6 1723.6,646.9 1723.9,661.1 1724.3,675.4 1724.6,689.7 1724.9,703.9 1725.3,718.2 1725.5,732.5 1725.8,746.7 1726.1,761 1726.3,775.2 1726.6,789.5 1726.8,803.8 1727.1,818 1727.3,832.3 1727.4,846.6 1727.6,860.8 1727.7,875.1 1727.8,889.4 1728,903.6 1728,917.9 1728.1,932.1 1728.1,946.4 1728.1,960.7 1728.1,974.9 1728.1,989.2 1728.1,1003.5 1728.1,1017.7 1728.1,1032 1728.1,1046.2 1728.1,1060.5 1728.1,1062.5 1011.5,1062.5" fill="#00ff97"/>
<polygon points="1011.5,376.3 1013.5,376.3 1028.2,376.5 1042.8,376.6 1057.5,376.8 1072.2,376.9 1086.8,377 1101.5,377.2 1116.1,377.3 1130.8,377.5 1145.5,377.6 1160.1,377.7 1174.8,377.9 1189.5,378 1204.1,378.2 1218.8,378.4 1233.4,378.5 1248.1,378.7 1262.8,378.9 1277.4,379.1 1292.1,379.3 1306.8,379.5 1321.4,379.7 1336.1,379.9 1350.7,380.1 1365.4,380.3 1380.1,380.5 1394.7,380.8 1409.4,381.1 1424,381.4 1438.7,381.7 1453.4,382.1 1468,382.5 1482.7,382.9 1497.4,383.4 1512,383.9 1526.7,384.4 1541.3,385 1556,385.7 1570.7,386.8 1585.3,388 1600,389.4 1605.2,390 1610.4,390.7 1615.6,391.4 1620.8,392.2 1626,393.1 1631.2,394.1 1636.4,395.3 1641.5,396.7 1646.6,398.6 1651.6,400.6 1656.6,402.9 1661.6,405.2 1666.6,407.8 1671.5,410.5 1676.5,413.5 1681.4,416.8 1685.9,420.5 1689.9,424.7 1693.3,429.4 1696.3,434.4 1699,439.6 1701.4,444.9 1703.6,450.2 1705.7,455.7 1707.5,461.2 1709.1,466.8 1710.4,472.5 1711.4,478.3 1712.3,484.1 1713.2,490 1714.8,504.3 1716.5,518.5 1718,532.8 1719.1,547 1719.8,561.3 1720.4,575.6 1720.8,589.8 1721.3,604.1 1721.6,618.4 1722,632.6 1722.3,646.9 1722.6,661.1 1723,675.4 1723.3,689.7 1723.7,703.9 1724,718.2 1724.3,732.5 1724.6,746.7 1724.9,761 1725.1,775.2 1725.4,789.5 1725.6,803.8 1725.9,818 1726.1,832.3 1726.2,846.6 1726.4,860.8 1726.5,875.1 1726.7,889.4 1726.8,903.6 1726.8,917.9 1726.9,932.1 1726.9,946.4 1726.9,960.7 1726.9,974.9 1726.9,989.2 1726.9,1003.5 1726.9,1017.7 1726.9,1032 1726.9,1046.2 1726.9,1060.5 1726.9,1062.5 1011.5,1062.5" fill="#00ff77"/>
<polygon points="1011.5,377.5 1013.5,377.5 1028.2,377.7 1042.8,377.8 1057.5,377.9 1072.2,378.1 1086.8,378.2 1101.5,378.4 1116.1,378.5 1130.8,378.6 1145.5,378.8 1160.1,378.9 1174.8,379.1 1189.5,379.2 1204.1,379.4 1218.8,379.6 1233.4,379.7 1248.1,379.9 1262.8,380.1 1277.4,380.3 1292.1,380.5 1306.8,380.7 1321.4,380.9 1336.1,381.1 1350.7,381.3 1365.4,381.5 1380.1,381.8 1394.7,382.1 1409.4,382.3 1424,382.7 1438.7,383 1453.4,383.3 1468,383.7 1482.7,384.1 1497.4,384.6 1512,385.2 1526.7,385.7 1541.3,386.3 1556,387 1570.7,388.1 1585.3,389.3 1600,390.6 1605.2,391.3 1610.3,392 1615.4,392.7 1620.5,393.5 1625.6,394.3 1630.8,395.3 1635.9,396.5 1641,397.9 1646,399.7 1650.9,401.8 1655.9,404 1660.8,406.3 1665.7,408.8 1670.6,411.6 1675.5,414.5 1680.3,417.7 1684.8,421.4 1688.8,425.5 1692.1,430.2 1695.1,435.1 1697.7,440.2 1700.1,445.4 1702.4,450.7 1704.4,456.1 1706.3,461.5 1707.8,467.1 1709.1,472.7 1710.2,478.4 1711.1,484.2 1711.9,490 1713.6,504.3 1715.2,518.5 1716.7,532.8 1717.7,547 1718.5,561.3 1719.1,575.6 1719.5,589.8 1719.9,604.1 1720.3,618.4 1720.6,632.6 1721,646.9 1721.3,661.1 1721.7,675.4 1722.1,689.7 1722.5,703.9 1722.8,718.2 1723.1,732.5 1723.4,746.7 1723.6,761 1723.9,775.2 1724.2,789.5 1724.4,803.8 1724.7,818 1724.9,832.3 1725.1,846.6 1725.2,860.8 1725.4,875.1 1725.5,889.4 1725.6,903.6 1725.6,917.9 1725.7,932.1 1725.7,946.4 1725.7,960.7 1725.7,974.9 1725.7,989.2 1725.7,1003.5 1725.7,1017.7 1725.7,1032 1725.7,1046.2 1725.8,1060.5 1725.8,1062.5 1011.5,1062.5" fill="#00ff57"/>
<polygon points="1011.5,378.7 1013.5,378.7 1028.2,378.8 1042.8,379 1057.5,379.1 1072.2,379.3 1086.8,379.4 1101.5,379.5 1116.1,379.7 1130.8,379.8 1145.5,380 1160.1,380.1 1174.8,380.3 1189.5,380.4 1204.1,380.6 1218.8,380.8 1233.4,380.9 1248.1,381.1 1262.8,381.3 1277.4,381.5 1292.1,381.7 1306.8,381.9 1321.4,382.1 1336.1,382.3 1350.7,382.5 1365.4,382.8 1380.1,383 1394.7,383.3 1409.4,383.6 1424,383.9 1438.7,384.3 1453.4,384.6 1468,385 1482.7,385.4 1497.4,385.9 1512,386.5 1526.7,387 1541.3,387.6 1556,388.3 1570.7,389.3 1585.3,390.5 1600,391.9 1605.1,392.5 1610.2,393.2 1615.2,393.9 1620.3,394.7 1625.3,395.5 1630.4,396.5 1635.4,397.7 1640.5,399.1 1645.4,400.9 1650.3,402.9 1655.2,405.1 1660,407.4 1664.9,409.9 1669.7,412.6 1674.5,415.5 1679.3,418.6 1683.7,422.2 1687.6,426.3 1690.9,431 1693.9,435.8 1696.5,440.8 1698.9,446 1701.1,451.2 1703.2,456.5 1705,461.9 1706.6,467.4 1707.8,472.9 1708.9,478.6 1709.8,484.2 1710.6,490 1712.3,504.3 1713.9,518.5 1715.4,532.8 1716.4,547 1717.2,561.3 1717.7,575.6 1718.2,589.8 1718.6,604.1 1719,618.4 1719.3,632.6 1719.7,646.9 1720,661.1 1720.4,675.4 1720.8,689.7 1721.2,703.9 1721.6,718.2 1721.9,732.5 1722.2,746.7 1722.4,761 1722.7,775.2 1723,789.5 1723.2,803.8 1723.5,818 1723.7,832.3 1723.9,846.6 1724,860.8 1724.2,875.1 1724.3,889.4 1724.4,903.6 1724.5,917.9 1724.5,932.1 1724.6,946.4 1724.5,960.7 1724.5,974.9 1724.5,989.2 1724.5,1003.5 1724.5,1017.7 1724.5,1032 1724.5,1046.2 1724.6,1060.5 1724.6,1062.5 1011.5,1062.5" fill="#00ff37"/>
<polygon points="1011.5,379.9 1013.5,379.9 1028.2,380 1042.8,380.2 1057.5,380.3 1072.2,380.4 1086.8,380.6 1101.5,380.7 1116.1,380.9 1130.8,381 1145.5,381.2 1160.1,381.3 1174.8,381.5 1189.5,381.6 1204.1,381.8 1218.8,382 1233.4,382.1 1248.1,382.3 1262.8,382.5 1277.4,382.7 1292.1,382.9 1306.8,383.1 1321.4,383.3 1336.1,383.5 1350.7,383.8 1365.4,384 1380.1,384.3 1394.7,384.5 1409.4,384.8 1424,385.2 1438.7,385.5 1453.4,385.9 1468,386.3 1482.7,386.7 1497.4,387.2 1512,387.7 1526.7,388.3 1541.3,388.9 1556,389.6 1570.7,390.6 1585.3,391.8 1600,393.2 1605,393.8 1610,394.4 1615,395.1 1620,395.9 1625,396.8 1630,397.7 1635,398.9 1640,400.2 1644.8,402 1649.7,404 1654.4,406.2 1659.2,408.5 1664,410.9 1668.8,413.6 1673.6,416.4 1678.2,419.6 1682.6,423.1 1686.5,427.2 1689.8,431.7 1692.7,436.5 1695.3,441.4 1697.7,446.5 1699.9,451.6 1702,456.9 1703.8,462.2 1705.3,467.6 1706.6,473.1 1707.6,478.7 1708.5,484.3 1709.3,490 1711,504.3 1712.6,518.5 1714.1,532.8 1715.1,547 1715.8,561.3 1716.4,575.6 1716.9,589.8 1717.3,604.1 1717.7,618.4 1718,632.6 1718.3,646.9 1718.7,661.1 1719.1,675.4 1719.5,689.7 1720,703.9 1720.4,718.2 1720.7,732.5 1721,746.7 1721.2,761 1721.5,775.2 1721.7,789.5 1722,803.8 1722.3,818 1722.5,832.3 1722.7,846.6 1722.8,860.8 1723,875.1 1723.1,889.4 1723.2,903.6 1723.3,917.9 1723.3,932.1 1723.4,946.4 1723.4,960.7 1723.3,974.9 1723.3,989.2 1723.3,1003.5 1723.3,1017.7 1723.3,1032 1723.4,1046.2 1723.4,1060.5 1723.4,1062.5 1011.5,1062.5" fill="#00ff17"/>
<polygon points="1011.5,381.1 1013.5,381.1 1028.2,381.2 1042.8,381.3 1057.5,381.5 1072.2,381.6 1086.8,381.8 1101.5,381.9 1116.1,382.1 1130.8,382.2 1145.5,382.4 1160.1,382.5 1174.8,382.7 1189.5,382.8 1204.1,383 1218.8,383.1 1233.4,383.3 1248.1,383.5 1262.8,383.7 1277.4,383.9 1292.1,384.1 1306.8,384.3 1321.4,384.5 1336.1,384.7 1350.7,385 1365.4,385.2 1380.1,385.5 1394.7,385.8 1409.4,386.1 1424,386.4 1438.7,386.8 1453.4,387.2 1468,387.6 1482.7,388 1497.4,388.5 1512,389 1526.7,389.6 1541.3,390.2 1556,390.8 1570.7,391.9 1585.3,393 1600,394.4 1605,395 1609.9,395.7 1614.8,396.4 1619.7,397.1 1624.7,398 1629.6,398.9 1634.5,400 1639.4,401.4 1644.3,403.1 1649,405.1 1653.7,407.3 1658.5,409.5 1663.2,412 1667.9,414.6 1672.6,417.4 1677.2,420.5 1681.5,424 1685.4,428 1688.6,432.5 1691.5,437.2 1694.1,442.1 1696.5,447 1698.7,452.1 1700.7,457.3 1702.5,462.5 1704,467.9 1705.3,473.3 1706.4,478.8 1707.3,484.4 1708.1,490 1709.7,504.3 1711.3,518.5 1712.8,532.8 1713.8,547 1714.5,561.3 1715.1,575.6 1715.6,589.8 1716,604.1 1716.3,618.4 1716.7,632.6 1717,646.9 1717.4,661.1 1717.8,675.4 1718.3,689.7 1718.7,703.9 1719.1,718.2 1719.5,732.5 1719.8,746.7 1720,761 1720.3,775.2 1720.5,789.5 1720.8,803.8 1721.1,818 1721.3,832.3 1721.5,846.6 1721.7,860.8 1721.8,875.1 1721.9,889.4 1722,903.6 1722.1,917.9 1722.1,932.1 1722.2,946.4 1722.2,960.7 1722.1,974.9 1722.1,989.2 1722.1,1003.5 1722.1,1017.7 1722.1,1032 1722.2,1046.2 1722.2,1060.5 1722.2,1062.5 1011.5,1062.5" fill="#0aff00"/>
<polygon points="1011.5,382.2 1013.5,382.2 1028.2,382.4 1042.8,382.5 1057.5,382.7 1072.2,382.8 1086.8,383 1101.5,383.1 1116.1,383.2 1130.8,383.4 1145.5,383.5 1160.1,383.7 1174.8,383.8 1189.5,384 1204.1,384.2 1218.8,384.3 1233.4,384.5 1248.1,384.7 1262.8,384.9 1277.4,385.1 1292.1,385.3 1306.8,385.5 1321.4,385.7 1336.1,386 1350.7,386.2 1365.4,386.5 1380.1,386.7 1394.7,387 1409.4,387.3 1424,387.7 1438.7,388.1 1453.4,388.4 1468,388.9 1482.7,389.3 1497.4,389.8 1512,390.3 1526.7,390.9 1541.3,391.4 1556,392.1 1570.7,393.1 1585.3,394.3 1600,395.7 1604.9,396.3 1609.8,396.9 1614.6,397.6 1619.5,398.4 1624.3,399.2 1629.2,400.1 1634.1,401.2 1638.9,402.6 1643.7,404.3 1648.4,406.2 1653,408.4 1657.7,410.6 1662.4,413 1667,415.6 1671.6,418.4 1676.2,421.4 1680.4,424.9 1684.2,428.8 1687.4,433.2 1690.3,437.9 1692.9,442.7 1695.2,447.6 1697.4,452.6 1699.5,457.7 1701.3,462.9 1702.8,468.2 1704,473.5 1705.1,479 1706,484.4 1706.8,490 1708.4,504.3 1710,518.5 1711.5,532.8 1712.5,547 1713.2,561.3 1713.8,575.6 1714.2,589.8 1714.7,604.1 1715,618.4 1715.3,632.6 1715.7,646.9 1716.1,661.1 1716.5,675.4 1717,689.7 1717.5,703.9 1717.9,718.2 1718.3,732.5 1718.5,746.7 1718.8,761 1719.1,775.2 1719.3,789.5 1719.6,803.8 1719.9,818 1720.1,832.3 1720.3,846.6 1720.5,860.8 1720.6,875.1 1720.7,889.4 1720.8,903.6 1720.9,917.9 1720.9,932.1 1721,946.4 1721,960.7 1720.9,974.9 1720.9,989.2 1720.9,1003.5 1720.9,1017.7 1720.9,1032 1721,1046.2 1721,1060.5 1721,1062.5 1011.5,1062.5" fill="#2dff00"/>
<polygon points="1011.5,383.4 1013.5,383.4 1028.2,383.6 1042.8,383.7 1057.5,383.8 1072.2,384 1086.8,384.1 1101.5,384.3 1116.1,384.4 1130.8,384.6 1145.5,384.7 1160.1,384.9 1174.8,385 1189.5,385.2 1204.1,385.4 1218.8,385.5 1233.4,385.7 1248.1,385.9 1262.8,386.1 1277.4,386.3 1292.1,386.5 1306.8,386.7 1321.4,386.9 1336.1,387.2 1350.7,387.4 1365.4,387.7 1380.1,388 1394.7,388.3 1409.4,388.6 1424,389 1438.7,389.3 1453.4,389.7 1468,390.1 1482.7,390.6 1497.4,391.1 1512,391.6 1526.7,392.1 1541.3,392.7 1556,393.4 1570.7,394.4 1585.3,395.6 1600,396.9 1604.8,397.5 1609.7,398.2 1614.4,398.9 1619.2,399.6 1624,400.4 1628.8,401.3 1633.6,402.4 1638.4,403.7 1643.1,405.4 1647.7,407.4 1652.3,409.4 1656.9,411.7 1661.5,414 1666.1,416.6 1670.6,419.4 1675.1,422.4 1679.3,425.8 1683.1,429.6 1686.2,434 1689.1,438.5 1691.7,443.3 1694,448.1 1696.2,453.1 1698.2,458.1 1700,463.2 1701.5,468.4 1702.8,473.7 1703.8,479.1 1704.7,484.5 1705.5,490 1707.1,504.3 1708.7,518.5 1710.2,532.8 1711.2,547 1711.9,561.3 1712.5,575.6 1712.9,589.8 1713.3,604.1 1713.7,618.4 1714,632.6 1714.4,646.9 1714.8,661.1 1715.2,675.4 1715.7,689.7 1716.3,703.9 1716.7,718.2 1717,732.5 1717.3,746.7 1717.6,761 1717.9,775.2 1718.1,789.5 1718.4,803.8 1718.7,818 1718.9,832.3 1719.1,846.6 1719.3,860.8 1719.4,875.1 1719.5,889.4 1719.6,903.6 1719.7,917.9 1719.8,932.1 1719.8,946.4 1719.8,960.7 1719.8,974.9 1719.7,989.2 1719.7,1003.5 1719.7,1017.7 1719.7,1032 1719.8,1046.2 1719.8,1060.5 1719.8,1062.5 1011.5,1062.5" fill="#4fff00"/>
<polygon points="1011.5,384.6 1013.5,384.6 1028.2,384.7 1042.8,384.9 1057.5,385 1072.2,385.2 1086.8,385.3 1101.5,385.5 1116.1,385.6 1130.8,385.8 1145.5,385.9 1160.1,386.1 1174.8,386.2 1189.5,386.4 1204.1,386.6 1218.8,386.7 1233.4,386.9 1248.1,387.1 1262.8,387.3 1277.4,387.5 1292.1,387.7 1306.8,387.9 1321.4,388.2 1336.1,388.4 1350.7,388.7 1365.4,388.9 1380.1,389.2 1394.7,389.5 1409.4,389.9 1424,390.2 1438.7,390.6 1453.4,391 1468,391.4 1482.7,391.9 1497.4,392.4 1512,392.9 1526.7,393.4 1541.3,394 1556,394.7 1570.7,395.7 1585.3,396.8 1600,398.2 1604.8,398.8 1609.5,399.4 1614.2,400.1 1619,400.8 1623.7,401.6 1628.4,402.5 1633.2,403.6 1637.9,404.9 1642.5,406.6 1647.1,408.5 1651.6,410.5 1656.1,412.7 1660.7,415.1 1665.2,417.6 1669.7,420.3 1674.1,423.3 1678.2,426.7 1681.9,430.5 1685.1,434.8 1687.9,439.2 1690.5,443.9 1692.8,448.7 1695,453.5 1697,458.5 1698.8,463.5 1700.3,468.7 1701.5,473.9 1702.6,479.2 1703.4,484.6 1704.2,490 1705.9,504.3 1707.4,518.5 1708.9,532.8 1709.8,547 1710.6,561.3 1711.1,575.6 1711.6,589.8 1712,604.1 1712.4,618.4 1712.7,632.6 1713.1,646.9 1713.5,661.1 1713.9,675.4 1714.5,689.7 1715,703.9 1715.5,718.2 1715.8,732.5 1716.1,746.7 1716.4,761 1716.7,775.2 1716.9,789.5 1717.2,803.8 1717.5,818 1717.7,832.3 1717.9,846.6 1718.1,860.8 1718.2,875.1 1718.3,889.4 1718.5,903.6 1718.5,917.9 1718.6,932.1 1718.6,946.4 1718.6,960.7 1718.6,974.9 1718.5,989.2 1718.5,1003.5 1718.5,1017.7 1718.5,1032 1718.6,1046.2 1718.7,1060.5 1718.7,1062.5 1011.5,1062.5" fill="#71ff00"/>
<polygon points="1011.5,385.8 1013.5,385.8 1028.2,385.9 1042.8,386.1 1057.5,386.2 1072.2,386.4 1086.8,386.5 1101.5,386.7 1116.1,386.8 1130.8,387 1145.5,387.1 1160.1,387.3 1174.8,387.4 1189.5,387.6 1204.1,387.8 1218.8,387.9 1233.4,388.1 1248.1,388.3 1262.8,388.5 1277.4,388.7 1292.1,388.9 1306.8,389.2 1321.4,389.4 1336.1,389.6 1350.7,389.9 1365.4,390.1 1380.1,390.4 1394.7,390.8 1409.4,391.1 1424,391.5 1438.7,391.9 1453.4,392.3 1468,392.7 1482.7,393.1 1497.4,393.6 1512,394.2 1526.7,394.7 1541.3,395.3 1556,395.9 1570.7,397 1585.3,398.1 1600,399.4 1604.7,400 1609.4,400.7 1614,401.3 1618.7,402 1623.4,402.8 1628,403.7 1632.7,404.8 1637.4,406.1 1641.9,407.7 1646.4,409.6 1650.9,411.6 1655.4,413.8 1659.8,416.1 1664.3,418.6 1668.7,421.3 1673.1,424.2 1677.1,427.5 1680.8,431.3 1683.9,435.5 1686.7,439.9 1689.2,444.5 1691.6,449.2 1693.7,454 1695.7,458.9 1697.5,463.9 1699,469 1700.3,474.1 1701.3,479.4 1702.2,484.6 1703,490 1704.6,504.3 1706.1,518.5 1707.6,532.8 1708.5,547 1709.2,561.3 1709.8,575.6 1710.3,589.8 1710.7,604.1 1711.1,618.4 1711.4,632.6 1711.7,646.9 1712.1,661.1 1712.6,675.4 1713.2,689.7 1713.8,703.9 1714.3,718.2 1714.6,732.5 1714.9,746.7 1715.2,761 1715.4,775.2 1715.7,789.5 1716,803.8 1716.3,818 1716.5,832.3 1716.7,846.6 1716.9,860.8 1717,875.1 1717.2,889.4 1717.3,903.6 1717.3,917.9 1717.4,932.1 1717.4,946.4 1717.4,960.7 1717.4,974.9 1717.3,989.2 1717.3,1003.5 1717.3,1017.7 1717.3,1032 1717.4,1046.2 1717.5,1060.5 1717.5,1062.5 1011.5,1062.5" fill="#93ff00"/>
<polygon points="1011.5,386.9 1013.5,386.9 1028.2,387.1 1042.8,387.2 1057.5,387.4 1072.2,387.5 1086.8,387.7 1101.5,387.8 1116.1,388 1130.8,388.1 1145.5,388.3 1160.1,388.4 1174.8,388.6 1189.5,388.8 1204.1,389 1218.8,389.1 1233.4,389.3 1248.1,389.5 1262.8,389.7 1277.4,389.9 1292.1,390.1 1306.8,390.4 1321.4,390.6 1336.1,390.8 1350.7,391.1 1365.4,391.4 1380.1,391.7 1394.7,392 1409.4,392.4 1424,392.7 1438.7,393.2 1453.4,393.5 1468,394 1482.7,394.4 1497.4,394.9 1512,395.5 1526.7,396 1541.3,396.6 1556,397.2 1570.7,398.2 1585.3,399.3 1600,400.7 1604.6,401.3 1609.3,401.9 1613.8,402.6 1618.4,403.3 1623,404 1627.6,404.9 1632.3,406 1636.8,407.2 1641.3,408.9 1645.8,410.7 1650.2,412.7 1654.6,414.9 1659,417.2 1663.4,419.6 1667.7,422.3 1672,425.2 1676,428.4 1679.7,432.1 1682.7,436.3 1685.5,440.6 1688,445.1 1690.3,449.8 1692.5,454.5 1694.5,459.3 1696.3,464.2 1697.7,469.2 1699,474.3 1700,479.5 1700.9,484.7 1701.7,490 1703.3,504.3 1704.8,518.5 1706.3,532.8 1707.2,547 1707.9,561.3 1708.5,575.6 1709,589.8 1709.4,604.1 1709.7,618.4 1710.1,632.6 1710.4,646.9 1710.8,661.1 1711.3,675.4 1711.9,689.7 1712.5,703.9 1713,718.2 1713.4,732.5 1713.7,746.7 1714,761 1714.2,775.2 1714.5,789.5 1714.8,803.8 1715.1,818 1715.3,832.3 1715.5,846.6 1715.7,860.8 1715.9,875.1 1716,889.4 1716.1,903.6 1716.2,917.9 1716.2,932.1 1716.2,946.4 1716.2,960.7 1716.2,974.9 1716.1,989.2 1716.1,1003.5 1716.1,1017.7 1716.2,1032 1716.2,1046.2 1716.3,1060.5 1716.3,1062.5 1011.5,1062.5" fill="#b6ff00"/>
<polygon points="1011.5,388.1 1013.5,388.1 1028.2,388.3 1042.8,388.4 1057.5,388.6 1072.2,388.7 1086.8,388.9 1101.5,389 1116.1,389.2 1130.8,389.3 1145.5,389.5 1160.1,389.6 1174.8,389.8 1189.5,390 1204.1,390.2 1218.8,390.3 1233.4,390.5 1248.1,390.7 1262.8,390.9 1277.4,391.1 1292.1,391.4 1306.8,391.6 1321.4,391.8 1336.1,392.1 1350.7,392.3 1365.4,392.6 1380.1,392.9 1394.7,393.2 1409.4,393.6 1424,394 1438.7,394.4 1453.4,394.8 1468,395.3 1482.7,395.7 1497.4,396.2 1512,396.7 1526.7,397.3 1541.3,397.8 1556,398.5 1570.7,399.5 1585.3,400.6 1600,401.9 1604.6,402.5 1609.1,403.2 1613.7,403.8 1618.2,404.5 1622.7,405.3 1627.3,406.1 1631.8,407.1 1636.3,408.4 1640.8,410 1645.1,411.8 1649.5,413.8 1653.8,415.9 1658.1,418.2 1662.4,420.6 1666.7,423.3 1671,426.1 1675,429.3 1678.5,432.9 1681.6,437 1684.3,441.3 1686.8,445.8 1689.1,450.3 1691.3,455 1693.2,459.7 1695,464.5 1696.5,469.5 1697.7,474.5 1698.8,479.6 1699.6,484.8 1700.4,490 1702,504.3 1703.5,518.5 1705,532.8 1705.9,547 1706.6,561.3 1707.2,575.6 1707.7,589.8 1708.1,604.1 1708.4,618.4 1708.7,632.6 1709.1,646.9 1709.5,661.1 1710.1,675.4 1710.7,689.7 1711.3,703.9 1711.8,718.2 1712.2,732.5 1712.5,746.7 1712.8,761 1713,775.2 1713.3,789.5 1713.6,803.8 1713.9,818 1714.1,832.3 1714.3,846.6 1714.5,860.8 1714.7,875.1 1714.8,889.4 1714.9,903.6 1715,917.9 1715,932.1 1715,946.4 1715,960.7 1715,974.9 1714.9,989.2 1714.9,1003.5 1714.9,1017.7 1715,1032 1715,1046.2 1715.1,1060.5 1715.1,1062.5 1011.5,1062.5" fill="#d8ff00"/>
<polygon points="1011.5,389.3 1013.5,389.3 1028.2,389.5 1042.8,389.6 1057.5,389.8 1072.2,389.9 1086.8,390.1 1101.5,390.2 1116.1,390.4 1130.8,390.5 1145.5,390.7 1160.1,390.8 1174.8,391 1189.5,391.2 1204.1,391.3 1218.8,391.5 1233.4,391.7 1248.1,391.9 1262.8,392.1 1277.4,392.3 1292.1,392.6 1306.8,392.8 1321.4,393 1336.1,393.3 1350.7,393.6 1365.4,393.8 1380.1,394.1 1394.7,394.5 1409.4,394.9 1424,395.3 1438.7,395.7 1453.4,396.1 1468,396.6 1482.7,397 1497.4,397.5 1512,398 1526.7,398.6 1541.3,399.1 1556,399.8 1570.7,400.8 1585.3,401.9 1600,403.2 1604.5,403.8 1609,404.4 1613.5,405 1617.9,405.7 1622.4,406.5 1626.9,407.3 1631.3,408.3 1635.8,409.6 1640.2,411.2 1644.5,413 1648.8,414.9 1653,417 1657.3,419.3 1661.5,421.7 1665.8,424.2 1670,427 1673.9,430.2 1677.4,433.8 1680.4,437.8 1683.1,442 1685.6,446.4 1687.9,450.9 1690,455.4 1692,460.1 1693.8,464.9 1695.2,469.8 1696.5,474.7 1697.5,479.8 1698.4,484.8 1699.1,490 1700.7,504.3 1702.2,518.5 1703.7,532.8 1704.6,547 1705.3,561.3 1705.9,575.6 1706.3,589.8 1706.7,604.1 1707.1,618.4 1707.4,632.6 1707.8,646.9 1708.2,661.1 1708.8,675.4 1709.4,689.7 1710.1,703.9 1710.6,718.2 1711,732.5 1711.3,746.7 1711.6,761 1711.8,775.2 1712.1,789.5 1712.4,803.8 1712.7,818 1712.9,832.3 1713.1,846.6 1713.3,860.8 1713.5,875.1 1713.6,889.4 1713.7,903.6 1713.8,917.9 1713.8,932.1 1713.9,946.4 1713.8,960.7 1713.8,974.9 1713.7,989.2 1713.7,1003.5 1713.7,1017.7 1713.8,1032 1713.8,1046.2 1713.9,1060.5 1713.9,1062.5 1011.5,1062.5" fill="#faff00"/>
<polygon points="1011.5,390.5 1013.5,390.5 1028.2,390.6 1042.8,390.8 1057.5,390.9 1072.2,391.1 1086.8,391.2 1101.5,391.4 1116.1,391.6 1130.8,391.7 1145.5,391.9 1160.1,392 1174.8,392.2 1189.5,392.4 1204.1,392.5 1218.8,392.7 1233.4,392.9 1248.1,393.1 1262.8,393.3 1277.4,393.5 1292.1,393.8 1306.8,394 1321.4,394.2 1336.1,394.5 1350.7,394.8 1365.4,395.1 1380.1,395.4 1394.7,395.7 1409.4,396.1 1424,396.5 1438.7,397 1453.4,397.4 1468,397.8 1482.7,398.3 1497.4,398.8 1512,399.3 1526.7,399.8 1541.3,400.4 1556,401 1570.7,402 1585.3,403.1 1600,404.5 1604.5,405 1608.9,405.6 1613.3,406.3 1617.7,407 1622.1,407.7 1626.5,408.5 1630.9,409.5 1635.3,410.7 1639.6,412.3 1643.8,414.1 1648,416 1652.2,418.1 1656.4,420.3 1660.6,422.7 1664.8,425.2 1668.9,427.9 1672.8,431.1 1676.3,434.6 1679.2,438.6 1682,442.7 1684.4,447 1686.7,451.4 1688.8,455.9 1690.8,460.5 1692.5,465.2 1694,470 1695.2,474.9 1696.2,479.9 1697.1,484.9 1697.9,490 1699.4,504.3 1700.9,518.5 1702.4,532.8 1703.3,547 1704,561.3 1704.6,575.6 1705,589.8 1705.4,604.1 1705.8,618.4 1706.1,632.6 1706.5,646.9 1706.9,661.1 1707.5,675.4 1708.1,689.7 1708.8,703.9 1709.4,718.2 1709.8,732.5 1710.1,746.7 1710.3,761 1710.6,775.2 1710.9,789.5 1711.2,803.8 1711.5,818 1711.7,832.3 1711.9,846.6 1712.1,860.8 1712.3,875.1 1712.4,889.4 1712.5,903.6 1712.6,917.9 1712.6,932.1 1712.7,946.4 1712.6,960.7 1712.6,974.9 1712.5,989.2 1712.5,1003.5 1712.5,1017.7 1712.6,1032 1712.6,1046.2 1712.7,1060.5 1712.7,1062.5 1011.5,1062.5" fill="#ffe800"/>
<polygon points="1011.5,391.7 1013.5,391.7 1028.2,391.8 1042.8,392 1057.5,392.1 1072.2,392.3 1086.8,392.4 1101.5,392.6 1116.1,392.7 1130.8,392.9 1145.5,393 1160.1,393.2 1174.8,393.4 1189.5,393.6 1204.1,393.7 1218.8,393.9 1233.4,394.1 1248.1,394.3 1262.8,394.5 1277.4,394.7 1292.1,395 1306.8,395.2 1321.4,395.5 1336.1,395.7 1350.7,396 1365.4,396.3 1380.1,396.6 1394.7,397 1409.4,397.4 1424,397.8 1438.7,398.2 1453.4,398.7 1468,399.1 1482.7,399.6 1497.4,400.1 1512,400.6 1526.7,401.1 1541.3,401.7 1556,402.3 1570.7,403.3 1585.3,404.4 1600,405.7 1604.4,406.3 1608.7,406.9 1613.1,407.5 1617.4,408.2 1621.7,408.9 1626.1,409.7 1630.4,410.7 1634.8,411.9 1639,413.4 1643.2,415.2 1647.3,417.1 1651.5,419.2 1655.6,421.3 1659.7,423.7 1663.8,426.2 1667.9,428.9 1671.7,432 1675.1,435.4 1678,439.3 1680.8,443.4 1683.2,447.6 1685.4,452 1687.5,456.4 1689.5,460.9 1691.3,465.5 1692.7,470.3 1693.9,475.1 1695,480 1695.8,485 1696.6,490 1698.2,504.3 1699.6,518.5 1701.1,532.8 1702,547 1702.7,561.3 1703.2,575.6 1703.7,589.8 1704.1,604.1 1704.4,618.4 1704.8,632.6 1705.1,646.9 1705.6,661.1 1706.2,675.4 1706.9,689.7 1707.6,703.9 1708.1,718.2 1708.5,732.5 1708.9,746.7 1709.1,761 1709.4,775.2 1709.7,789.5 1710,803.8 1710.3,818 1710.5,832.3 1710.7,846.6 1710.9,860.8 1711.1,875.1 1711.2,889.4 1711.3,903.6 1711.4,917.9 1711.5,932.1 1711.5,946.4 1711.5,960.7 1711.4,974.9 1711.3,989.2 1711.3,1003.5 1711.3,1017.7 1711.4,1032 1711.5,1046.2 1711.6,1060.5 1711.6,1062.5 1011.5,1062.5" fill="#ffce00"/>
<polygon points="1011.5,392.8 1013.5,392.8 1028.2,393 1042.8,393.1 1057.5,393.3 1072.2,393.5 1086.8,393.6 1101.5,393.8 1116.1,393.9 1130.8,394.1 1145.5,394.2 1160.1,394.4 1174.8,394.6 1189.5,394.7 1204.1,394.9 1218.8,395.1 1233.4,395.3 1248.1,395.5 1262.8,395.7 1277.4,396 1292.1,396.2 1306.8,396.4 1321.4,396.7 1336.1,396.9 1350.7,397.2 1365.4,397.5 1380.1,397.8 1394.7,398.2 1409.4,398.6 1424,399 1438.7,399.5 1453.4,399.9 1468,400.4 1482.7,400.8 1497.4,401.4 1512,401.9 1526.7,402.4 1541.3,403 1556,403.6 1570.7,404.6 1585.3,405.7 1600,407 1604.3,407.5 1608.6,408.1 1612.9,408.7 1617.1,409.4 1621.4,410.1 1625.7,410.9 1630,411.9 1634.3,413.1 1638.4,414.6 1642.5,416.3 1646.6,418.2 1650.7,420.2 1654.8,422.4 1658.8,424.7 1662.8,427.2 1666.8,429.8 1670.6,432.8 1674,436.2 1676.9,440.1 1679.6,444.1 1682,448.2 1684.2,452.5 1686.3,456.9 1688.3,461.3 1690,465.9 1691.5,470.6 1692.7,475.3 1693.7,480.2 1694.6,485 1695.3,490 1696.9,504.3 1698.3,518.5 1699.7,532.8 1700.6,547 1701.3,561.3 1701.9,575.6 1702.4,589.8 1702.8,604.1 1703.1,618.4 1703.4,632.6 1703.8,646.9 1704.3,661.1 1704.9,675.4 1705.6,689.7 1706.3,703.9 1706.9,718.2 1707.3,732.5 1707.7,746.7 1707.9,761 1708.2,775.2 1708.5,789.5 1708.8,803.8 1709.1,818 1709.3,832.3 1709.5,846.6 1709.8,860.8 1709.9,875.1 1710,889.4 1710.2,903.6 1710.2,917.9 1710.3,932.1 1710.3,946.4 1710.3,960.7 1710.2,974.9 1710.1,989.2 1710.1,1003.5 1710.1,1017.7 1710.2,1032 1710.3,1046.2 1710.4,1060.5 1710.4,1062.5 1011.5,1062.5" fill="#ffb300"/>
<polygon points="1011.5,394 1013.5,394 1028.2,394.2 1042.8,394.3 1057.5,394.5 1072.2,394.6 1086.8,394.8 1101.5,395 1116.1,395.1 1130.8,395.3 1145.5,395.4 1160.1,395.6 1174.8,395.8 1189.5,395.9 1204.1,396.1 1218.8,396.3 1233.4,396.5 1248.1,396.7 1262.8,396.9 1277.4,397.2 1292.1,397.4 1306.8,397.6 1321.4,397.9 1336.1,398.2 1350.7,398.5 1365.4,398.8 1380.1,399.1 1394.7,399.5 1409.4,399.9 1424,400.3 1438.7,400.8 1453.4,401.2 1468,401.7 1482.7,402.1 1497.4,402.6 1512,403.2 1526.7,403.7 1541.3,404.3 1556,404.9 1570.7,405.8 1585.3,406.9 1600,408.2 1604.3,408.8 1608.5,409.4 1612.7,410 1616.9,410.6 1621.1,411.3 1625.3,412.1 1629.5,413.1 1633.7,414.2 1637.8,415.7 1641.9,417.5 1645.9,419.3 1649.9,421.3 1653.9,423.4 1657.9,425.7 1661.9,428.1 1665.8,430.7 1669.5,433.7 1672.9,437.1 1675.7,440.8 1678.4,444.8 1680.8,448.9 1683,453.1 1685.1,457.3 1687,461.7 1688.8,466.2 1690.2,470.8 1691.4,475.5 1692.4,480.3 1693.3,485.1 1694,490 1695.6,504.3 1697,518.5 1698.4,532.8 1699.3,547 1700,561.3 1700.6,575.6 1701.1,589.8 1701.5,604.1 1701.8,618.4 1702.1,632.6 1702.5,646.9 1703,661.1 1703.6,675.4 1704.3,689.7 1705.1,703.9 1705.7,718.2 1706.1,732.5 1706.4,746.7 1706.7,761 1707,775.2 1707.3,789.5 1707.6,803.8 1707.9,818 1708.1,832.3 1708.4,846.6 1708.6,860.8 1708.7,875.1 1708.8,889.4 1709,903.6 1709,917.9 1709.1,932.1 1709.1,946.4 1709.1,960.7 1709,974.9 1708.9,989.2 1708.9,1003.5 1708.9,1017.7 1709,1032 1709.1,1046.2 1709.2,1060.5 1709.2,1062.5 1011.5,1062.5" fill="#ff9900"/>
<polygon points="1011.5,395.2 1013.5,395.2 1028.2,395.3 1042.8,395.5 1057.5,395.7 1072.2,395.8 1086.8,396 1101.5,396.1 1116.1,396.3 1130.8,396.5 1145.5,396.6 1160.1,396.8 1174.8,397 1189.5,397.1 1204.1,397.3 1218.8,397.5 1233.4,397.7 1248.1,397.9 1262.8,398.1 1277.4,398.4 1292.1,398.6 1306.8,398.9 1321.4,399.1 1336.1,399.4 1350.7,399.7 1365.4,400 1380.1,400.3 1394.7,400.7 1409.4,401.1 1424,401.6 1438.7,402 1453.4,402.5 1468,403 1482.7,403.4 1497.4,403.9 1512,404.4 1526.7,405 1541.3,405.5 1556,406.1 1570.7,407.1 1585.3,408.2 1600,409.5 1604.2,410 1608.3,410.6 1612.5,411.2 1616.6,411.9 1620.8,412.5 1624.9,413.3 1629.1,414.3 1633.2,415.4 1637.3,416.9 1641.2,418.6 1645.2,420.4 1649.1,422.4 1653.1,424.5 1657,426.7 1660.9,429.1 1664.8,431.7 1668.4,434.6 1671.7,437.9 1674.5,441.6 1677.2,445.4 1679.5,449.5 1681.8,453.6 1683.8,457.8 1685.8,462.1 1687.5,466.6 1688.9,471.1 1690.2,475.7 1691.2,480.4 1692,485.2 1692.8,490 1694.3,504.3 1695.7,518.5 1697.1,532.8 1698,547 1698.7,561.3 1699.3,575.6 1699.7,589.8 1700.1,604.1 1700.5,618.4 1700.8,632.6 1701.2,646.9 1701.7,661.1 1702.3,675.4 1703.1,689.7 1703.8,703.9 1704.5,718.2 1704.9,732.5 1705.2,746.7 1705.5,761 1705.8,775.2 1706.1,789.5 1706.4,803.8 1706.7,818 1706.9,832.3 1707.2,846.6 1707.4,860.8 1707.5,875.1 1707.7,889.4 1707.8,903.6 1707.8,917.9 1707.9,932.1 1707.9,946.4 1707.9,960.7 1707.8,974.9 1707.7,989.2 1707.7,1003.5 1707.7,1017.7 1707.8,1032 1707.9,1046.2 1708,1060.5 1708,1062.5 1011.5,1062.5" fill="#ff7e00"/>
<polygon points="1011.5,396.4 1013.5,396.4 1028.2,396.5 1042.8,396.7 1057.5,396.8 1072.2,397 1086.8,397.2 1101.5,397.3 1116.1,397.5 1130.8,397.6 1145.5,397.8 1160.1,398 1174.8,398.1 1189.5,398.3 1204.1,398.5 1218.8,398.7 1233.4,398.9 1248.1,399.1 1262.8,399.3 1277.4,399.6 1292.1,399.8 1306.8,400.1 1321.4,400.3 1336.1,400.6 1350.7,400.9 1365.4,401.2 1380.1,401.6 1394.7,401.9 1409.4,402.4 1424,402.8 1438.7,403.3 1453.4,403.8 1468,404.2 1482.7,404.7 1497.4,405.2 1512,405.7 1526.7,406.3 1541.3,406.8 1556,407.4 1570.7,408.4 1585.3,409.4 1600,410.7 1604.1,411.3 1608.2,411.9 1612.3,412.4 1616.3,413.1 1620.4,413.8 1624.5,414.5 1628.6,415.4 1632.7,416.6 1636.7,418 1640.6,419.7 1644.5,421.5 1648.4,423.4 1652.2,425.5 1656.1,427.7 1659.9,430.1 1663.7,432.6 1667.3,435.5 1670.6,438.7 1673.4,442.4 1676,446.1 1678.3,450.1 1680.5,454.1 1682.6,458.3 1684.5,462.5 1686.3,466.9 1687.7,471.4 1688.9,475.9 1689.9,480.6 1690.7,485.2 1691.5,490 1693,504.3 1694.4,518.5 1695.8,532.8 1696.7,547 1697.4,561.3 1698,575.6 1698.4,589.8 1698.8,604.1 1699.2,618.4 1699.5,632.6 1699.9,646.9 1700.3,661.1 1701,675.4 1701.8,689.7 1702.6,703.9 1703.2,718.2 1703.7,732.5 1704,746.7 1704.3,761 1704.6,775.2 1704.9,789.5 1705.2,803.8 1705.5,818 1705.7,832.3 1706,846.6 1706.2,860.8 1706.3,875.1 1706.5,889.4 1706.6,903.6 1706.7,917.9 1706.7,932.1 1706.7,946.4 1706.7,960.7 1706.6,974.9 1706.5,989.2 1706.5,1003.5 1706.5,1017.7 1706.6,1032 1706.7,1046.2 1706.8,1060.5 1706.8,1062.5 1011.5,1062.5" fill="#ff6200"/>
<polygon points="1011.5,397.5 1013.5,397.5 1028.2,397.7 1042.8,397.9 1057.5,398 1072.2,398.2 1086.8,398.3 1101.5,398.5 1116.1,398.7 1130.8,398.8 1145.5,399 1160.1,399.2 1174.8,399.3 1189.5,399.5 1204.1,399.7 1218.8,399.9 1233.4,400.1 1248.1,400.3 1262.8,400.5 1277.4,400.8 1292.1,401 1306.8,401.3 1321.4,401.5 1336.1,401.8 1350.7,402.1 1365.4,402.4 1380.1,402.8 1394.7,403.2 1409.4,403.6 1424,404.1 1438.7,404.6 1453.4,405 1468,405.5 1482.7,406 1497.4,406.5 1512,407 1526.7,407.6 1541.3,408.1 1556,408.7 1570.7,409.6 1585.3,410.7 1600,412 1604.1,412.5 1608.1,413.1 1612.1,413.7 1616.1,414.3 1620.1,415 1624.1,415.7 1628.2,416.6 1632.2,417.7 1636.1,419.2 1639.9,420.8 1643.8,422.6 1647.6,424.5 1651.4,426.5 1655.2,428.7 1658.9,431.1 1662.7,433.5 1666.2,436.4 1669.5,439.5 1672.2,443.1 1674.8,446.8 1677.1,450.7 1679.3,454.7 1681.4,458.8 1683.3,462.9 1685,467.2 1686.4,471.6 1687.6,476.1 1688.6,480.7 1689.5,485.3 1690.2,490 1691.7,504.3 1693.1,518.5 1694.5,532.8 1695.4,547 1696.1,561.3 1696.6,575.6 1697.1,589.8 1697.5,604.1 1697.8,618.4 1698.2,632.6 1698.5,646.9 1699,661.1 1699.7,675.4 1700.5,689.7 1701.4,703.9 1702,718.2 1702.5,732.5 1702.8,746.7 1703.1,761 1703.4,775.2 1703.7,789.5 1704,803.8 1704.3,818 1704.5,832.3 1704.8,846.6 1705,860.8 1705.2,875.1 1705.3,889.4 1705.4,903.6 1705.5,917.9 1705.5,932.1 1705.5,946.4 1705.5,960.7 1705.4,974.9 1705.3,989.2 1705.3,1003.5 1705.3,1017.7 1705.4,1032 1705.5,1046.2 1705.6,1060.5 1705.6,1062.5 1011.5,1062.5" fill="#ff4600"/>
<polygon points="1011.5,398.7 1013.5,398.7 1028.2,398.9 1042.8,399 1057.5,399.2 1072.2,399.4 1086.8,399.5 1101.5,399.7 1116.1,399.9 1130.8,400 1145.5,400.2 1160.1,400.3 1174.8,400.5 1189.5,400.7 1204.1,400.9 1218.8,401.1 1233.4,401.3 1248.1,401.5 1262.8,401.7 1277.4,402 1292.1,402.2 1306.8,402.5 1321.4,402.8 1336.1,403.1 1350.7,403.4 1365.4,403.7 1380.1,404 1394.7,404.4 1409.4,404.9 1424,405.3 1438.7,405.8 1453.4,406.3 1468,406.8 1482.7,407.3 1497.4,407.8 1512,408.3 1526.7,408.8 1541.3,409.4 1556,410 1570.7,410.9 1585.3,412 1600,413.3 1604,413.8 1608,414.3 1611.9,414.9 1615.8,415.5 1619.8,416.2 1623.7,416.9 1627.7,417.8 1631.7,418.9 1635.5,420.3 1639.3,421.9 1643.1,423.7 1646.8,425.6 1650.5,427.6 1654.3,429.7 1658,432 1661.7,434.5 1665.1,437.3 1668.3,440.4 1671,443.9 1673.6,447.5 1675.9,451.3 1678.1,455.2 1680.1,459.2 1682,463.3 1683.7,467.6 1685.2,471.9 1686.4,476.3 1687.4,480.8 1688.2,485.4 1688.9,490 1690.5,504.3 1691.9,518.5 1693.2,532.8 1694.1,547 1694.7,561.3 1695.3,575.6 1695.8,589.8 1696.2,604.1 1696.5,618.4 1696.8,632.6 1697.2,646.9 1697.7,661.1 1698.4,675.4 1699.3,689.7 1700.1,703.9 1700.8,718.2 1701.3,732.5 1701.6,746.7 1701.9,761 1702.2,775.2 1702.5,789.5 1702.8,803.8 1703.1,818 1703.4,832.3 1703.6,846.6 1703.8,860.8 1704,875.1 1704.1,889.4 1704.2,903.6 1704.3,917.9 1704.3,932.1 1704.4,946.4 1704.3,960.7 1704.2,974.9 1704.1,989.2 1704.1,1003.5 1704.1,1017.7 1704.2,1032 1704.3,1046.2 1704.5,1060.5 1704.5,1062.5 1011.5,1062.5" fill="#ff2a00"/>
<polygon points="1011.5,399.9 1013.5,399.9 1028.2,400.1 1042.8,400.2 1057.5,400.4 1072.2,400.6 1086.8,400.7 1101.5,400.9 1116.1,401 1130.8,401.2 1145.5,401.4 1160.1,401.5 1174.8,401.7 1189.5,401.9 1204.1,402.1 1218.8,402.3 1233.4,402.5 1248.1,402.7 1262.8,403 1277.4,403.2 1292.1,403.4 1306.8,403.7 1321.4,404 1336.1,404.3 1350.7,404.6 1365.4,404.9 1380.1,405.3 1394.7,405.7 1409.4,406.1 1424,406.6 1438.7,407.1 1453.4,407.6 1468,408.1 1482.7,408.5 1497.4,409.1 1512,409.6 1526.7,410.1 1541.3,410.7 1556,411.2 1570.7,412.2 1585.3,413.2 1600,414.5 1603.9,415 1607.8,415.6 1611.7,416.2 1615.6,416.8 1619.5,417.4 1623.4,418.1 1627.3,419 1631.1,420.1 1634.9,421.5 1638.7,423.1 1642.3,424.8 1646,426.7 1649.7,428.6 1653.3,430.8 1657,433 1660.6,435.4 1664,438.1 1667.2,441.2 1669.9,444.6 1672.4,448.2 1674.7,451.9 1676.8,455.8 1678.9,459.7 1680.8,463.7 1682.5,467.9 1683.9,472.2 1685.1,476.5 1686.1,481 1686.9,485.4 1687.7,490 1689.2,504.3 1690.6,518.5 1691.9,532.8 1692.8,547 1693.4,561.3 1694,575.6 1694.5,589.8 1694.9,604.1 1695.2,618.4 1695.5,632.6 1695.9,646.9 1696.4,661.1 1697.1,675.4 1698,689.7 1698.9,703.9 1699.6,718.2 1700.1,732.5 1700.4,746.7 1700.7,761 1701,775.2 1701.3,789.5 1701.6,803.8 1701.9,818 1702.2,832.3 1702.4,846.6 1702.6,860.8 1702.8,875.1 1702.9,889.4 1703,903.6 1703.1,917.9 1703.1,932.1 1703.2,946.4 1703.1,960.7 1703,974.9 1703,989.2 1702.9,1003.5 1702.9,1017.7 1703,1032 1703.1,1046.2 1703.3,1060.5 1703.3,1062.5 1011.5,1062.5" fill="#ff0e00"/>
<polygon points="1011.5,401.1 1013.5,401.1 1028.2,401.2 1042.8,401.4 1057.5,401.6 1072.2,401.7 1086.8,401.9 1101.5,402.1 1116.1,402.2 1130.8,402.4 1145.5,402.6 1160.1,402.7 1174.8,402.9 1189.5,403.1 1204.1,403.3 1218.8,403.5 1233.4,403.7 1248.1,403.9 1262.8,404.2 1277.4,404.4 1292.1,404.7 1306.8,404.9 1321.4,405.2 1336.1,405.5 1350.7,405.8 1365.4,406.1 1380.1,406.5 1394.7,406.9 1409.4,407.4 1424,407.9 1438.7,408.4 1453.4,408.9 1468,409.4 1482.7,409.8 1497.4,410.4 1512,410.9 1526.7,411.4 1541.3,411.9 1556,412.5 1570.7,413.4 1585.3,414.5 1600,415.8 1603.9,416.3 1607.7,416.8 1611.5,417.4 1615.3,418 1619.1,418.6 1623,419.3 1626.8,420.2 1630.6,421.2 1634.3,422.6 1638,424.2 1641.6,425.9 1645.2,427.7 1648.9,429.7 1652.4,431.8 1656,434 1659.6,436.3 1662.9,439 1666,442 1668.7,445.4 1671.2,448.9 1673.5,452.6 1675.6,456.3 1677.7,460.2 1679.5,464.2 1681.2,468.2 1682.7,472.4 1683.8,476.7 1684.8,481.1 1685.7,485.5 1686.4,490 1687.9,504.3 1689.3,518.5 1690.6,532.8 1691.4,547 1692.1,561.3 1692.7,575.6 1693.2,589.8 1693.5,604.1 1693.9,618.4 1694.2,632.6 1694.6,646.9 1695.1,661.1 1695.8,675.4 1696.7,689.7 1697.6,703.9 1698.4,718.2 1698.8,732.5 1699.2,746.7 1699.5,761 1699.8,775.2 1700.1,789.5 1700.4,803.8 1700.7,818 1701,832.3 1701.2,846.6 1701.4,860.8 1701.6,875.1 1701.7,889.4 1701.8,903.6 1701.9,917.9 1702,932.1 1702,946.4 1701.9,960.7 1701.8,974.9 1701.8,989.2 1701.7,1003.5 1701.7,1017.7 1701.8,1032 1701.9,1046.2 1702.1,1060.5 1702.1,1062.5 1011.5,1062.5" fill="#ff0000"/>
<polygon points="1011.5,403.2 1013.5,403.2 1028.2,403.4 1042.8,403.6 1057.5,403.8 1072.2,404 1086.8,404.2 1101.5,404.4 1116.1,404.6 1130.8,404.8 1145.5,405 1160.1,405.3 1174.8,405.5 1189.5,405.7 1204.1,406 1218.8,406.2 1233.4,406.5 1248.1,406.8 1262.8,407.1 1277.4,407.5 1292.1,407.8 1306.8,408.2 1321.4,408.6 1336.1,409 1350.7,409.5 1365.4,410 1380.1,410.5 1394.7,411.1 1409.4,411.9 1424,412.8 1438.7,413.6 1453.4,414.4 1468,415 1482.7,415.6 1497.4,416.1 1512,416.6 1526.7,417.1 1541.3,417.6 1556,418 1570.7,418.5 1585.3,419.3 1600,420.4 1603.6,420.8 1607.2,421.3 1610.8,421.8 1614.4,422.4 1617.9,423.1 1621.5,424 1625,424.9 1628.4,426.1 1631.8,427.6 1635.1,429.2 1638.2,431.2 1641.2,433.2 1644.1,435.5 1647,437.8 1649.7,440.3 1652.4,442.8 1655.1,445.4 1657.9,448 1660.6,450.6 1663.4,453.4 1666.2,456.3 1668.8,459.4 1671.2,462.7 1673.5,466.1 1675.5,469.8 1677.2,473.6 1678.6,477.6 1679.6,481.6 1680.5,485.8 1681.2,490 1682.7,504.3 1683.3,518.5 1683.8,532.8 1684.4,547 1685.3,561.3 1686,575.6 1686.4,589.8 1686.7,604.1 1686.9,618.4 1687.1,632.6 1687.5,646.9 1688.1,661.1 1689.3,675.4 1691.5,689.7 1694.1,703.9 1695.2,718.2 1695.7,732.5 1696,746.7 1696.3,761 1696.6,775.2 1697,789.5 1697.4,803.8 1697.8,818 1698.3,832.3 1698.6,846.6 1698.9,860.8 1699.1,875.1 1699.3,889.4 1699.4,903.6 1699.5,917.9 1699.6,932.1 1699.5,946.4 1699.5,960.7 1699.2,974.9 1698.8,989.2 1698.7,1003.5 1698.7,1017.7 1699,1032 1699.4,1046.2 1699.8,1060.5 1699.8,1062.5 1011.5,1062.5" fill="#ffffff"/>
</g>
<polyline points="1013.5,372.8 1028.2,372.9 1042.8,373.1 1057.5,373.2 1072.2,373.4 1086.8,373.5 1101.5,373.6 1116.1,373.8 1130.8,373.9 1145.5,374 1160.1,374.2 1174.8,374.3 1189.5,374.5 1204.1,374.6 1218.8,374.8 1233.4,374.9 1248.1,375.1 1262.8,375.3 1277.4,375.4 1292.1,375.6 1306.8,375.8 1321.4,376 1336.1,376.2 1350.7,376.4 1365.4,376.6 1380.1,376.8 1394.7,377.1 1409.4,377.3 1424,377.6 1438.7,377.9 1453.4,378.2 1468,378.6 1482.7,379 1497.4,379.5 1512,380 1526.7,380.6 1541.3,381.2 1556,381.9 1570.7,383 1585.3,384.2 1600,385.6 1605.4,386.3 1610.8,387 1616.2,387.7 1621.6,388.6 1626.9,389.5 1632.3,390.5 1637.7,391.8 1643.1,393.2 1648.3,395.1 1653.5,397.3 1658.7,399.6 1663.9,402 1669.1,404.7 1674.3,407.5 1679.4,410.6 1684.5,414 1689.1,417.8 1693.3,422.2 1696.8,427.2 1699.9,432.3 1702.6,437.7 1705.1,443.2 1707.3,448.8 1709.4,454.4 1711.3,460.2 1712.8,466 1714.1,471.9 1715.2,477.9 1716.2,483.9 1717,490 1718.7,504.3 1720.3,518.5 1722,532.8 1723,547 1723.7,561.3 1724.3,575.6 1724.8,589.8 1725.2,604.1 1725.6,618.4 1725.9,632.6 1726.3,646.9 1726.6,661.1 1726.9,675.4 1727.1,689.7 1727.4,703.9 1727.7,718.2 1728,732.5 1728.2,746.7 1728.5,761 1728.7,775.2 1729,789.5 1729.2,803.8 1729.5,818 1729.7,832.3 1729.8,846.6 1730,860.8 1730.1,875.1 1730.2,889.4 1730.3,903.6 1730.4,917.9 1730.4,932.1 1730.5,946.4 1730.5,960.7 1730.5,974.9 1730.5,989.2 1730.5,1003.5 1730.5,1017.7 1730.5,1032 1730.5,1046.2 1730.5,1060.5" fill="none" stroke="#0c2a26" stroke-width="2.6" stroke-dasharray="9.5 8.3" clip-path="url(#clip-b)"/>
<path class="ax" d="M1017.5 290H1795M1017.5 291.4V276M1066.1 291.4V282.5M1114.7 291.4V276M1163.3 291.4V282.5M1211.9 291.4V276M1260.5 291.4V282.5M1309.1 291.4V276M1357.7 291.4V282.5M1406.2 291.4V276M1454.8 291.4V282.5M1503.4 291.4V276M1552 291.4V282.5M1600.6 291.4V276M1649.2 291.4V282.5M1697.8 291.4V276M1746.4 291.4V282.5M1795 291.4V276"/>
<path class="ax" style="stroke:#858585" d="M1017.5 313V1057.9"/>
<path class="ax" d="M1016.1 1056.5H1795M1819 311.6V1057.9M1817.6 1056.5H1832.5M1817.6 1010H1826M1817.6 963.6H1832.5M1817.6 917.1H1826M1817.6 870.6H1832.5M1817.6 824.2H1826M1817.6 777.7H1832.5M1817.6 731.2H1826M1817.6 684.8H1832.5M1817.6 638.3H1826M1817.6 591.8H1832.5M1817.6 545.3H1826M1817.6 498.9H1832.5M1817.6 452.4H1826M1817.6 405.9H1832.5M1817.6 359.5H1826M1817.6 313H1832.5"/>
<text class="tk" x="1008.6" y="257.2" textLength="18.8" lengthAdjust="spacingAndGlyphs">0</text>
<text class="tk" x="1844.2" y="1070.1" textLength="18.8" lengthAdjust="spacingAndGlyphs">0</text>
<text class="tk" x="1096.3" y="257.2" textLength="37.8" lengthAdjust="spacingAndGlyphs">10</text>
<text class="tk" x="1844.2" y="977.2" textLength="37.8" lengthAdjust="spacingAndGlyphs">10</text>
<text class="tk" x="1193.5" y="257.2" textLength="37.8" lengthAdjust="spacingAndGlyphs">20</text>
<text class="tk" x="1844.2" y="884.2" textLength="37.8" lengthAdjust="spacingAndGlyphs">20</text>
<text class="tk" x="1290.7" y="257.2" textLength="37.8" lengthAdjust="spacingAndGlyphs">30</text>
<text class="tk" x="1844.2" y="791.3" textLength="37.8" lengthAdjust="spacingAndGlyphs">30</text>
<text class="tk" x="1387.8" y="257.2" textLength="37.8" lengthAdjust="spacingAndGlyphs">40</text>
<text class="tk" x="1844.2" y="698.4" textLength="37.8" lengthAdjust="spacingAndGlyphs">40</text>
<text class="tk" x="1485" y="257.2" textLength="37.8" lengthAdjust="spacingAndGlyphs">50</text>
<text class="tk" x="1844.2" y="605.4" textLength="37.8" lengthAdjust="spacingAndGlyphs">50</text>
<text class="tk" x="1582.2" y="257.2" textLength="37.8" lengthAdjust="spacingAndGlyphs">60</text>
<text class="tk" x="1844.2" y="512.5" textLength="37.8" lengthAdjust="spacingAndGlyphs">60</text>
<text class="tk" x="1679.4" y="257.2" textLength="37.8" lengthAdjust="spacingAndGlyphs">70</text>
<text class="tk" x="1844.2" y="419.5" textLength="37.8" lengthAdjust="spacingAndGlyphs">70</text>
<text class="tk" x="1776.6" y="257.2" textLength="37.8" lengthAdjust="spacingAndGlyphs">80</text>
<text class="tk" x="1844.2" y="326.6" textLength="37.8" lengthAdjust="spacingAndGlyphs">80</text>
<text class="t" x="1407" y="221.7" text-anchor="middle" textLength="218" lengthAdjust="spacingAndGlyphs">X-Width, mm</text>
<text class="t" transform="translate(1912.3 684.8) rotate(-90)" text-anchor="middle" textLength="215" lengthAdjust="spacingAndGlyphs">Y-Width, mm</text>
<text class="cap" x="1248" y="1112.5">(b) <tspan font-style="italic">L</tspan>=1000 mm</text>
<path class="rl" d="M1073 310.7H1146M1073 374H1146M1108.4 310.7V374"/>
<path class="rl" d="M1737.3 311.4L1800.6 372.8M1766.5 342.4L1688.6 419M1653.3 387.4L1716.6 449.5"/>
<text class="r" x="1127.5" y="355.7" textLength="143.5" lengthAdjust="spacingAndGlyphs">6.60 mm</text>
<text class="r" x="1560.5" y="361.8" textLength="160.5" lengthAdjust="spacingAndGlyphs">11.46 mm</text>
</g>
<g id="panel-c">
<clipPath id="clip-c"><path d="M48.7 1260L736.8 1260 737.2 1260 737.9 1260 738.9 1260.1 740.4 1260.1 741.8 1260.2 743.2 1260.3 744.6 1260.4 746 1260.5 747.4 1260.7 748.9 1260.9 750.3 1261.1 751.7 1261.3 753.1 1261.6 754.5 1261.9 755.9 1262.2 757.2 1262.5 758.6 1262.9 760 1263.2 761.4 1263.6 762.7 1264 764.1 1264.5 765.4 1264.9 766.8 1265.4 768.1 1265.9 769.4 1266.5 770.7 1267 772 1267.6 773.3 1268.2 774.6 1268.9 775.7 1269.6 776.8 1270.4 777.9 1271.3 778.9 1272.2 779.9 1273.2 780.9 1274.1 781.9 1275.1 782.9 1276.1 783.9 1277.1 784.9 1278.1 785.9 1279.1 786.9 1280.1 787.9 1281.1 788.9 1282.1 789.9 1283.1 790.9 1284.1 791.9 1285.1 792.9 1286.1 793.9 1287.1 794.9 1288.1 796 1289.2 797 1290.2 798 1291.2 799 1292.2 800 1293.2 801 1294.2 802 1295.2 803 1296.2 804 1297.2 805 1298.2 806 1299.2 807 1300.2 808 1301.2 809 1302.2 810 1303.2 810.9 1304.2 811.9 1305.3 812.7 1306.3 813.6 1307.4 814.3 1308.6 815.1 1309.8 815.7 1311 816.3 1312.4 816.9 1313.7 817.4 1315 817.9 1316.3 818.4 1317.7 818.9 1319 819.4 1320.4 819.8 1321.8 820.2 1323.2 820.6 1324.5 821 1325.9 821.3 1327.3 821.6 1328.7 821.9 1330.1 822.2 1331.5 822.5 1333 822.7 1334.4 822.9 1335.8 823.1 1337.2 823.3 1338.7 823.4 1340.1 823.5 1341.5 823.6 1343 823.7 1344.4 823.7 1345.8 823.8 1346.9 823.8 1347.6 823.8 1348 V2002.8H48.7Z"/></clipPath>
<path d="M48.7 1260L736.8 1260 737.2 1260 737.9 1260 738.9 1260.1 740.4 1260.1 741.8 1260.2 743.2 1260.3 744.6 1260.4 746 1260.5 747.4 1260.7 748.9 1260.9 750.3 1261.1 751.7 1261.3 753.1 1261.6 754.5 1261.9 755.9 1262.2 757.2 1262.5 758.6 1262.9 760 1263.2 761.4 1263.6 762.7 1264 764.1 1264.5 765.4 1264.9 766.8 1265.4 768.1 1265.9 769.4 1266.5 770.7 1267 772 1267.6 773.3 1268.2 774.6 1268.9 775.7 1269.6 776.8 1270.4 777.9 1271.3 778.9 1272.2 779.9 1273.2 780.9 1274.1 781.9 1275.1 782.9 1276.1 783.9 1277.1 784.9 1278.1 785.9 1279.1 786.9 1280.1 787.9 1281.1 788.9 1282.1 789.9 1283.1 790.9 1284.1 791.9 1285.1 792.9 1286.1 793.9 1287.1 794.9 1288.1 796 1289.2 797 1290.2 798 1291.2 799 1292.2 800 1293.2 801 1294.2 802 1295.2 803 1296.2 804 1297.2 805 1298.2 806 1299.2 807 1300.2 808 1301.2 809 1302.2 810 1303.2 810.9 1304.2 811.9 1305.3 812.7 1306.3 813.6 1307.4 814.3 1308.6 815.1 1309.8 815.7 1311 816.3 1312.4 816.9 1313.7 817.4 1315 817.9 1316.3 818.4 1317.7 818.9 1319 819.4 1320.4 819.8 1321.8 820.2 1323.2 820.6 1324.5 821 1325.9 821.3 1327.3 821.6 1328.7 821.9 1330.1 822.2 1331.5 822.5 1333 822.7 1334.4 822.9 1335.8 823.1 1337.2 823.3 1338.7 823.4 1340.1 823.5 1341.5 823.6 1343 823.7 1344.4 823.7 1345.8 823.8 1346.9 823.8 1347.6 823.8 1348 V2002.8H48.7Z" fill="#0000ff"/>
<g clip-path="url(#clip-c)">
<polygon points="42.7,1319.6 44.7,1319.6 58.8,1319.7 73,1319.7 87.1,1319.8 101.2,1319.9 115.4,1320 129.5,1320.1 143.6,1320.1 157.8,1320.2 171.9,1320.3 186,1320.4 200.2,1320.4 214.3,1320.5 228.4,1320.6 242.6,1320.7 256.7,1320.8 270.8,1320.8 285,1320.9 299.1,1321 313.2,1321.1 327.3,1321.2 341.5,1321.3 355.6,1321.4 369.7,1321.4 383.9,1321.5 398,1321.5 412.1,1321.5 426.3,1321.4 440.4,1321.3 454.5,1321.2 468.7,1321.1 482.8,1321 496.9,1321.2 511.1,1321.5 525.2,1321.9 539.3,1322.4 553.5,1323 567.6,1323.6 581.7,1324.3 595.9,1325.4 610,1326.6 617.5,1327.4 624.9,1328.5 632.2,1329.7 639.5,1331.1 646.8,1332.8 654,1334.6 661.2,1336.5 668.5,1338.7 675.6,1341.2 682.8,1344 689.9,1347 697,1350.2 704,1353.9 710.8,1358.1 717,1363 722.4,1368.8 727,1375.3 731,1382.1 734.6,1389.1 737.7,1396.2 740.3,1403.6 742.7,1410.9 744.8,1418.2 746.7,1425.6 748.2,1433 749.5,1440.3 750.7,1447.7 751.6,1455.1 752.5,1462.5 753.3,1470 754.7,1483.4 755.8,1496.8 756.8,1510.3 757.5,1523.7 758,1537.1 758.5,1550.5 758.9,1563.9 759.3,1577.4 759.6,1590.8 759.6,1604.2 759.5,1617.6 759.3,1631 759.2,1644.5 759.2,1657.9 759.3,1671.3 759.5,1684.7 759.8,1698.1 760.1,1711.6 760.4,1725 760.6,1738.4 760.9,1751.8 761.2,1765.2 761.5,1778.7 761.7,1792.1 762,1805.5 762.2,1818.9 762.4,1832.3 762.6,1845.8 762.8,1859.2 763,1872.6 763.1,1886 763.2,1899.4 763.3,1912.9 763.4,1926.3 763.4,1939.7 763.5,1953.1 763.5,1966.5 763.5,1980 763.6,1993.4 763.6,2006.8 763.6,2008.8 42.7,2008.8" fill="#0009ff"/>
<polygon points="42.7,1320.8 44.7,1320.8 58.8,1320.9 73,1320.9 87.1,1321 101.2,1321.1 115.4,1321.2 129.5,1321.3 143.6,1321.3 157.8,1321.4 171.9,1321.5 186,1321.6 200.2,1321.7 214.3,1321.7 228.4,1321.8 242.6,1321.9 256.7,1322 270.8,1322.1 285,1322.2 299.1,1322.3 313.2,1322.4 327.3,1322.5 341.5,1322.5 355.6,1322.6 369.7,1322.7 383.9,1322.8 398,1322.8 412.1,1322.8 426.3,1322.8 440.4,1322.7 454.5,1322.6 468.7,1322.5 482.8,1322.5 496.9,1322.7 511.1,1323 525.2,1323.4 539.3,1323.9 553.5,1324.5 567.6,1325.1 581.7,1325.8 595.9,1326.9 610,1328.1 617.4,1328.9 624.7,1329.9 632,1331.1 639.2,1332.6 646.4,1334.2 653.5,1336 660.7,1337.9 667.9,1340.1 675,1342.5 682,1345.3 689.1,1348.2 696.1,1351.5 703,1355.1 709.7,1359.2 716,1364 721.3,1369.8 725.8,1376.2 729.8,1383 733.3,1389.9 736.4,1397 739,1404.3 741.3,1411.5 743.5,1418.8 745.3,1426 746.8,1433.3 748.1,1440.6 749.2,1448 750.2,1455.3 751,1462.6 751.8,1470 753.2,1483.4 754.3,1496.8 755.3,1510.3 756,1523.7 756.5,1537.1 756.9,1550.5 757.4,1563.9 757.7,1577.4 758,1590.8 758.1,1604.2 758,1617.6 757.9,1631 757.8,1644.5 757.8,1657.9 758,1671.3 758.2,1684.7 758.5,1698.1 758.7,1711.6 759,1725 759.3,1738.4 759.6,1751.8 759.9,1765.2 760.1,1778.7 760.4,1792.1 760.6,1805.5 760.9,1818.9 761.1,1832.3 761.3,1845.8 761.4,1859.2 761.6,1872.6 761.7,1886 761.8,1899.4 761.9,1912.9 762,1926.3 762.1,1939.7 762.1,1953.1 762.1,1966.5 762.2,1980 762.2,1993.4 762.3,2006.8 762.3,2008.8 42.7,2008.8" fill="#001bff"/>
<polygon points="42.7,1322 44.7,1322 58.8,1322.1 73,1322.2 87.1,1322.2 101.2,1322.3 115.4,1322.4 129.5,1322.5 143.6,1322.6 157.8,1322.6 171.9,1322.7 186,1322.8 200.2,1322.9 214.3,1323 228.4,1323 242.6,1323.1 256.7,1323.2 270.8,1323.3 285,1323.4 299.1,1323.5 313.2,1323.6 327.3,1323.7 341.5,1323.8 355.6,1323.9 369.7,1324 383.9,1324 398,1324.1 412.1,1324.1 426.3,1324.1 440.4,1324 454.5,1324 468.7,1323.9 482.8,1324 496.9,1324.2 511.1,1324.5 525.2,1324.9 539.3,1325.5 553.5,1326 567.6,1326.6 581.7,1327.3 595.9,1328.4 610,1329.6 617.3,1330.4 624.6,1331.4 631.8,1332.6 638.9,1334 646,1335.6 653.1,1337.4 660.2,1339.3 667.3,1341.4 674.3,1343.8 681.3,1346.6 688.2,1349.5 695.2,1352.7 702.1,1356.3 708.7,1360.4 714.9,1365.1 720.1,1370.8 724.6,1377.2 728.5,1383.9 732.1,1390.7 735.1,1397.8 737.7,1405 740,1412.1 742.1,1419.3 743.9,1426.5 745.4,1433.7 746.6,1441 747.7,1448.2 748.7,1455.4 749.5,1462.7 750.3,1470 751.7,1483.4 752.8,1496.8 753.7,1510.3 754.4,1523.7 754.9,1537.1 755.4,1550.5 755.8,1563.9 756.2,1577.4 756.5,1590.8 756.6,1604.2 756.6,1617.6 756.4,1631 756.4,1644.5 756.4,1657.9 756.6,1671.3 756.9,1684.7 757.1,1698.1 757.4,1711.6 757.7,1725 758,1738.4 758.3,1751.8 758.5,1765.2 758.8,1778.7 759.1,1792.1 759.3,1805.5 759.5,1818.9 759.7,1832.3 759.9,1845.8 760.1,1859.2 760.3,1872.6 760.4,1886 760.5,1899.4 760.6,1912.9 760.6,1926.3 760.7,1939.7 760.7,1953.1 760.8,1966.5 760.8,1980 760.9,1993.4 760.9,2006.8 760.9,2008.8 42.7,2008.8" fill="#002dff"/>
<polygon points="42.7,1323.2 44.7,1323.2 58.8,1323.3 73,1323.4 87.1,1323.4 101.2,1323.5 115.4,1323.6 129.5,1323.7 143.6,1323.8 157.8,1323.9 171.9,1323.9 186,1324 200.2,1324.1 214.3,1324.2 228.4,1324.3 242.6,1324.4 256.7,1324.4 270.8,1324.5 285,1324.6 299.1,1324.7 313.2,1324.8 327.3,1325 341.5,1325.1 355.6,1325.1 369.7,1325.2 383.9,1325.3 398,1325.4 412.1,1325.4 426.3,1325.4 440.4,1325.4 454.5,1325.4 468.7,1325.4 482.8,1325.4 496.9,1325.7 511.1,1326 525.2,1326.4 539.3,1327 553.5,1327.5 567.6,1328.1 581.7,1328.8 595.9,1329.9 610,1331.1 617.2,1331.9 624.4,1332.9 631.5,1334.1 638.6,1335.5 645.6,1337.1 652.6,1338.8 659.6,1340.7 666.6,1342.8 673.6,1345.2 680.5,1347.9 687.4,1350.8 694.3,1353.9 701.1,1357.5 707.7,1361.5 713.8,1366.2 719,1371.9 723.4,1378.2 727.3,1384.8 730.8,1391.6 733.8,1398.5 736.3,1405.6 738.6,1412.7 740.7,1419.8 742.5,1427 743.9,1434.1 745.2,1441.3 746.2,1448.4 747.2,1455.6 748.1,1462.8 748.8,1470 750.1,1483.4 751.3,1496.8 752.2,1510.3 752.9,1523.7 753.4,1537.1 753.8,1550.5 754.3,1563.9 754.6,1577.4 754.9,1590.8 755.1,1604.2 755.1,1617.6 755,1631 755,1644.5 755.1,1657.9 755.3,1671.3 755.5,1684.7 755.8,1698.1 756.1,1711.6 756.4,1725 756.6,1738.4 756.9,1751.8 757.2,1765.2 757.5,1778.7 757.7,1792.1 758,1805.5 758.2,1818.9 758.4,1832.3 758.6,1845.8 758.7,1859.2 758.9,1872.6 759,1886 759.1,1899.4 759.2,1912.9 759.3,1926.3 759.3,1939.7 759.4,1953.1 759.4,1966.5 759.5,1980 759.5,1993.4 759.6,2006.8 759.6,2008.8 42.7,2008.8" fill="#003eff"/>
<polygon points="42.7,1324.4 44.7,1324.4 58.8,1324.5 73,1324.6 87.1,1324.6 101.2,1324.7 115.4,1324.8 129.5,1324.9 143.6,1325 157.8,1325.1 171.9,1325.2 186,1325.2 200.2,1325.3 214.3,1325.4 228.4,1325.5 242.6,1325.6 256.7,1325.7 270.8,1325.8 285,1325.9 299.1,1326 313.2,1326.1 327.3,1326.2 341.5,1326.3 355.6,1326.4 369.7,1326.5 383.9,1326.6 398,1326.7 412.1,1326.7 426.3,1326.8 440.4,1326.8 454.5,1326.8 468.7,1326.8 482.8,1326.9 496.9,1327.1 511.1,1327.5 525.2,1328 539.3,1328.5 553.5,1329 567.6,1329.6 581.7,1330.3 595.9,1331.4 610,1332.6 617.2,1333.4 624.3,1334.4 631.3,1335.5 638.3,1336.9 645.2,1338.5 652.2,1340.2 659.1,1342.1 666,1344.1 672.9,1346.5 679.8,1349.2 686.6,1352 693.4,1355.1 700.1,1358.7 706.6,1362.7 712.7,1367.3 717.8,1372.9 722.2,1379.1 726.1,1385.7 729.5,1392.4 732.5,1399.3 735,1406.3 737.2,1413.3 739.3,1420.4 741,1427.4 742.5,1434.5 743.7,1441.6 744.8,1448.7 745.7,1455.7 746.6,1462.8 747.3,1470 748.6,1483.4 749.8,1496.8 750.7,1510.3 751.4,1523.7 751.9,1537.1 752.3,1550.5 752.7,1563.9 753.1,1577.4 753.4,1590.8 753.6,1604.2 753.6,1617.6 753.6,1631 753.6,1644.5 753.7,1657.9 753.9,1671.3 754.2,1684.7 754.5,1698.1 754.8,1711.6 755,1725 755.3,1738.4 755.6,1751.8 755.9,1765.2 756.1,1778.7 756.4,1792.1 756.6,1805.5 756.8,1818.9 757,1832.3 757.2,1845.8 757.4,1859.2 757.5,1872.6 757.7,1886 757.8,1899.4 757.9,1912.9 757.9,1926.3 758,1939.7 758,1953.1 758.1,1966.5 758.1,1980 758.2,1993.4 758.3,2006.8 758.3,2008.8 42.7,2008.8" fill="#0050ff"/>
<polygon points="42.7,1325.6 44.7,1325.6 58.8,1325.7 73,1325.8 87.1,1325.9 101.2,1325.9 115.4,1326 129.5,1326.1 143.6,1326.2 157.8,1326.3 171.9,1326.4 186,1326.5 200.2,1326.5 214.3,1326.6 228.4,1326.7 242.6,1326.8 256.7,1326.9 270.8,1327 285,1327.1 299.1,1327.2 313.2,1327.3 327.3,1327.4 341.5,1327.6 355.6,1327.7 369.7,1327.8 383.9,1327.9 398,1328 412.1,1328 426.3,1328.1 440.4,1328.1 454.5,1328.2 468.7,1328.2 482.8,1328.4 496.9,1328.6 511.1,1329 525.2,1329.5 539.3,1330 553.5,1330.5 567.6,1331.1 581.7,1331.8 595.9,1332.9 610,1334.1 617.1,1334.9 624.1,1335.9 631.1,1337 638,1338.4 644.9,1339.9 651.7,1341.6 658.6,1343.4 665.4,1345.5 672.3,1347.8 679,1350.5 685.8,1353.3 692.6,1356.4 699.2,1359.9 705.6,1363.8 711.6,1368.4 716.7,1373.9 721,1380.1 724.8,1386.6 728.3,1393.2 731.2,1400 733.7,1407 735.9,1414 737.9,1420.9 739.6,1427.9 741.1,1434.9 742.3,1441.9 743.3,1448.9 744.2,1455.9 745.1,1462.9 745.8,1470 747.1,1483.4 748.3,1496.8 749.2,1510.3 749.8,1523.7 750.3,1537.1 750.8,1550.5 751.2,1563.9 751.6,1577.4 751.9,1590.8 752.1,1604.2 752.2,1617.6 752.2,1631 752.2,1644.5 752.4,1657.9 752.6,1671.3 752.9,1684.7 753.1,1698.1 753.4,1711.6 753.7,1725 754,1738.4 754.3,1751.8 754.5,1765.2 754.8,1778.7 755,1792.1 755.3,1805.5 755.5,1818.9 755.7,1832.3 755.9,1845.8 756,1859.2 756.2,1872.6 756.3,1886 756.4,1899.4 756.5,1912.9 756.6,1926.3 756.6,1939.7 756.7,1953.1 756.7,1966.5 756.8,1980 756.9,1993.4 756.9,2006.8 756.9,2008.8 42.7,2008.8" fill="#0062ff"/>
<polygon points="42.7,1326.8 44.7,1326.8 58.8,1326.9 73,1327 87.1,1327.1 101.2,1327.1 115.4,1327.2 129.5,1327.3 143.6,1327.4 157.8,1327.5 171.9,1327.6 186,1327.7 200.2,1327.8 214.3,1327.9 228.4,1328 242.6,1328 256.7,1328.1 270.8,1328.3 285,1328.4 299.1,1328.5 313.2,1328.6 327.3,1328.7 341.5,1328.8 355.6,1328.9 369.7,1329 383.9,1329.2 398,1329.2 412.1,1329.3 426.3,1329.4 440.4,1329.5 454.5,1329.6 468.7,1329.7 482.8,1329.8 496.9,1330.1 511.1,1330.5 525.2,1331 539.3,1331.5 553.5,1332.1 567.6,1332.7 581.7,1333.3 595.9,1334.4 610,1335.6 617,1336.4 623.9,1337.3 630.8,1338.5 637.7,1339.8 644.5,1341.4 651.3,1343 658.1,1344.8 664.8,1346.8 671.6,1349.1 678.3,1351.8 685,1354.6 691.7,1357.6 698.2,1361.1 704.6,1365 710.5,1369.5 715.5,1375 719.8,1381.1 723.6,1387.5 727,1394 729.9,1400.8 732.3,1407.7 734.5,1414.6 736.5,1421.4 738.2,1428.3 739.6,1435.3 740.8,1442.2 741.8,1449.1 742.8,1456 743.6,1463 744.3,1470 745.6,1483.4 746.7,1496.8 747.6,1510.3 748.3,1523.7 748.8,1537.1 749.2,1550.5 749.6,1563.9 750,1577.4 750.3,1590.8 750.6,1604.2 750.7,1617.6 750.8,1631 750.9,1644.5 751,1657.9 751.3,1671.3 751.5,1684.7 751.8,1698.1 752.1,1711.6 752.4,1725 752.7,1738.4 752.9,1751.8 753.2,1765.2 753.4,1778.7 753.7,1792.1 753.9,1805.5 754.1,1818.9 754.3,1832.3 754.5,1845.8 754.7,1859.2 754.8,1872.6 754.9,1886 755,1899.4 755.2,1912.9 755.2,1926.3 755.3,1939.7 755.3,1953.1 755.4,1966.5 755.4,1980 755.5,1993.4 755.6,2006.8 755.6,2008.8 42.7,2008.8" fill="#0074ff"/>
<polygon points="42.7,1328 44.7,1328 58.8,1328.1 73,1328.2 87.1,1328.3 101.2,1328.4 115.4,1328.4 129.5,1328.5 143.6,1328.6 157.8,1328.7 171.9,1328.8 186,1328.9 200.2,1329 214.3,1329.1 228.4,1329.2 242.6,1329.3 256.7,1329.4 270.8,1329.5 285,1329.6 299.1,1329.7 313.2,1329.8 327.3,1329.9 341.5,1330.1 355.6,1330.2 369.7,1330.3 383.9,1330.4 398,1330.5 412.1,1330.7 426.3,1330.8 440.4,1330.8 454.5,1331 468.7,1331.1 482.8,1331.3 496.9,1331.6 511.1,1332 525.2,1332.5 539.3,1333 553.5,1333.6 567.6,1334.2 581.7,1334.8 595.9,1335.9 610,1337.1 616.9,1337.9 623.8,1338.8 630.6,1340 637.4,1341.3 644.1,1342.8 650.8,1344.4 657.5,1346.2 664.2,1348.2 670.9,1350.5 677.5,1353.1 684.2,1355.8 690.8,1358.8 697.2,1362.3 703.5,1366.1 709.4,1370.6 714.4,1376 718.6,1382 722.4,1388.4 725.7,1394.9 728.6,1401.5 731,1408.4 733.1,1415.2 735.1,1422 736.8,1428.8 738.2,1435.7 739.4,1442.5 740.4,1449.4 741.3,1456.2 742.1,1463.1 742.8,1470 744.1,1483.4 745.2,1496.8 746.1,1510.3 746.8,1523.7 747.3,1537.1 747.7,1550.5 748.1,1563.9 748.5,1577.4 748.8,1590.8 749,1604.2 749.2,1617.6 749.3,1631 749.5,1644.5 749.7,1657.9 749.9,1671.3 750.2,1684.7 750.5,1698.1 750.8,1711.6 751.1,1725 751.3,1738.4 751.6,1751.8 751.9,1765.2 752.1,1778.7 752.3,1792.1 752.6,1805.5 752.8,1818.9 753,1832.3 753.1,1845.8 753.3,1859.2 753.5,1872.6 753.6,1886 753.7,1899.4 753.8,1912.9 753.9,1926.3 753.9,1939.7 754,1953.1 754,1966.5 754.1,1980 754.2,1993.4 754.2,2006.8 754.2,2008.8 42.7,2008.8" fill="#008fff"/>
<polygon points="42.7,1329.2 44.7,1329.2 58.8,1329.3 73,1329.4 87.1,1329.5 101.2,1329.6 115.4,1329.7 129.5,1329.7 143.6,1329.8 157.8,1329.9 171.9,1330 186,1330.1 200.2,1330.2 214.3,1330.3 228.4,1330.4 242.6,1330.5 256.7,1330.6 270.8,1330.7 285,1330.8 299.1,1330.9 313.2,1331.1 327.3,1331.2 341.5,1331.3 355.6,1331.4 369.7,1331.6 383.9,1331.7 398,1331.8 412.1,1332 426.3,1332.1 440.4,1332.2 454.5,1332.4 468.7,1332.5 482.8,1332.8 496.9,1333.1 511.1,1333.5 525.2,1334 539.3,1334.5 553.5,1335.1 567.6,1335.7 581.7,1336.3 595.9,1337.4 610,1338.6 616.8,1339.4 623.6,1340.3 630.4,1341.4 637.1,1342.7 643.7,1344.2 650.3,1345.8 657,1347.6 663.6,1349.5 670.2,1351.8 676.8,1354.3 683.3,1357.1 689.9,1360.1 696.3,1363.4 702.5,1367.2 708.3,1371.7 713.2,1377 717.4,1383 721.1,1389.3 724.4,1395.7 727.3,1402.3 729.6,1409 731.8,1415.8 733.7,1422.5 735.4,1429.3 736.7,1436 737.9,1442.8 738.9,1449.6 739.8,1456.4 740.6,1463.2 741.3,1470 742.6,1483.4 743.7,1496.8 744.6,1510.3 745.2,1523.7 745.7,1537.1 746.1,1550.5 746.5,1563.9 746.9,1577.4 747.3,1590.8 747.5,1604.2 747.7,1617.6 747.9,1631 748.1,1644.5 748.3,1657.9 748.6,1671.3 748.9,1684.7 749.1,1698.1 749.4,1711.6 749.7,1725 750,1738.4 750.3,1751.8 750.5,1765.2 750.8,1778.7 751,1792.1 751.2,1805.5 751.4,1818.9 751.6,1832.3 751.8,1845.8 751.9,1859.2 752.1,1872.6 752.2,1886 752.3,1899.4 752.4,1912.9 752.5,1926.3 752.6,1939.7 752.6,1953.1 752.7,1966.5 752.7,1980 752.8,1993.4 752.9,2006.8 752.9,2008.8 42.7,2008.8" fill="#00adff"/>
<polygon points="42.7,1330.4 44.7,1330.4 58.8,1330.5 73,1330.6 87.1,1330.7 101.2,1330.8 115.4,1330.9 129.5,1331 143.6,1331.1 157.8,1331.1 171.9,1331.2 186,1331.3 200.2,1331.4 214.3,1331.5 228.4,1331.6 242.6,1331.7 256.7,1331.8 270.8,1332 285,1332.1 299.1,1332.2 313.2,1332.3 327.3,1332.4 341.5,1332.6 355.6,1332.7 369.7,1332.8 383.9,1333 398,1333.1 412.1,1333.3 426.3,1333.4 440.4,1333.6 454.5,1333.8 468.7,1334 482.8,1334.2 496.9,1334.6 511.1,1335 525.2,1335.5 539.3,1336 553.5,1336.6 567.6,1337.2 581.7,1337.9 595.9,1338.9 610,1340.1 616.8,1340.9 623.5,1341.8 630.1,1342.9 636.7,1344.2 643.3,1345.6 649.9,1347.2 656.5,1349 663,1350.9 669.5,1353.1 676,1355.6 682.5,1358.3 689,1361.3 695.3,1364.6 701.5,1368.4 707.2,1372.8 712.1,1378.1 716.2,1384 719.9,1390.2 723.2,1396.5 726,1403 728.3,1409.7 730.4,1416.4 732.3,1423 733.9,1429.7 735.3,1436.4 736.4,1443.1 737.4,1449.8 738.3,1456.5 739.1,1463.2 739.8,1470 741.1,1483.4 742.2,1496.8 743.1,1510.3 743.7,1523.7 744.2,1537.1 744.6,1550.5 745,1563.9 745.4,1577.4 745.7,1590.8 746,1604.2 746.3,1617.6 746.5,1631 746.7,1644.5 747,1657.9 747.2,1671.3 747.5,1684.7 747.8,1698.1 748.1,1711.6 748.4,1725 748.7,1738.4 748.9,1751.8 749.2,1765.2 749.4,1778.7 749.7,1792.1 749.9,1805.5 750.1,1818.9 750.3,1832.3 750.4,1845.8 750.6,1859.2 750.7,1872.6 750.9,1886 751,1899.4 751.1,1912.9 751.1,1926.3 751.2,1939.7 751.3,1953.1 751.3,1966.5 751.4,1980 751.5,1993.4 751.5,2006.8 751.5,2008.8 42.7,2008.8" fill="#00caff"/>
<polygon points="42.7,1331.6 44.7,1331.6 58.8,1331.7 73,1331.8 87.1,1331.9 101.2,1332 115.4,1332.1 129.5,1332.2 143.6,1332.3 157.8,1332.4 171.9,1332.5 186,1332.5 200.2,1332.6 214.3,1332.7 228.4,1332.9 242.6,1333 256.7,1333.1 270.8,1333.2 285,1333.3 299.1,1333.4 313.2,1333.6 327.3,1333.7 341.5,1333.8 355.6,1334 369.7,1334.1 383.9,1334.3 398,1334.4 412.1,1334.6 426.3,1334.8 440.4,1334.9 454.5,1335.2 468.7,1335.4 482.8,1335.7 496.9,1336.1 511.1,1336.5 525.2,1337 539.3,1337.6 553.5,1338.1 567.6,1338.7 581.7,1339.4 595.9,1340.4 610,1341.6 616.7,1342.4 623.3,1343.3 629.9,1344.4 636.4,1345.6 642.9,1347.1 649.4,1348.6 655.9,1350.4 662.4,1352.3 668.9,1354.5 675.3,1356.9 681.7,1359.6 688.1,1362.5 694.4,1365.8 700.5,1369.5 706.1,1373.9 711,1379.1 715.1,1384.9 718.7,1391 721.9,1397.3 724.7,1403.8 727,1410.4 729,1417 730.9,1423.6 732.5,1430.2 733.9,1436.8 735,1443.4 736,1450 736.8,1456.7 737.6,1463.3 738.3,1470 739.6,1483.4 740.7,1496.8 741.6,1510.3 742.2,1523.7 742.6,1537.1 743.1,1550.5 743.5,1563.9 743.8,1577.4 744.2,1590.8 744.5,1604.2 744.8,1617.6 745.1,1631 745.3,1644.5 745.6,1657.9 745.9,1671.3 746.2,1684.7 746.5,1698.1 746.8,1711.6 747.1,1725 747.3,1738.4 747.6,1751.8 747.9,1765.2 748.1,1778.7 748.3,1792.1 748.5,1805.5 748.7,1818.9 748.9,1832.3 749.1,1845.8 749.2,1859.2 749.4,1872.6 749.5,1886 749.6,1899.4 749.7,1912.9 749.8,1926.3 749.9,1939.7 749.9,1953.1 750,1966.5 750.1,1980 750.1,1993.4 750.2,2006.8 750.2,2008.8 42.7,2008.8" fill="#00e8ff"/>
<polygon points="42.7,1332.8 44.7,1332.8 58.8,1332.9 73,1333 87.1,1333.1 101.2,1333.2 115.4,1333.3 129.5,1333.4 143.6,1333.5 157.8,1333.6 171.9,1333.7 186,1333.8 200.2,1333.9 214.3,1334 228.4,1334.1 242.6,1334.2 256.7,1334.3 270.8,1334.4 285,1334.5 299.1,1334.7 313.2,1334.8 327.3,1334.9 341.5,1335.1 355.6,1335.2 369.7,1335.4 383.9,1335.5 398,1335.7 412.1,1335.9 426.3,1336.1 440.4,1336.3 454.5,1336.6 468.7,1336.8 482.8,1337.1 496.9,1337.5 511.1,1338 525.2,1338.5 539.3,1339.1 553.5,1339.6 567.6,1340.2 581.7,1340.9 595.9,1341.9 610,1343.1 616.6,1343.9 623.2,1344.8 629.7,1345.8 636.1,1347.1 642.6,1348.5 649,1350.1 655.4,1351.7 661.8,1353.6 668.2,1355.8 674.5,1358.2 680.9,1360.9 687.2,1363.7 693.4,1367 699.4,1370.7 705,1375 709.8,1380.1 713.9,1385.9 717.4,1391.9 720.6,1398.2 723.4,1404.5 725.6,1411.1 727.7,1417.6 729.5,1424.1 731.1,1430.6 732.4,1437.2 733.5,1443.7 734.5,1450.3 735.3,1456.8 736.1,1463.4 736.8,1470 738.1,1483.4 739.2,1496.8 740,1510.3 740.6,1523.7 741.1,1537.1 741.5,1550.5 741.9,1563.9 742.3,1577.4 742.7,1590.8 743,1604.2 743.3,1617.6 743.6,1631 743.9,1644.5 744.2,1657.9 744.6,1671.3 744.9,1684.7 745.2,1698.1 745.5,1711.6 745.7,1725 746,1738.4 746.3,1751.8 746.5,1765.2 746.7,1778.7 747,1792.1 747.2,1805.5 747.4,1818.9 747.6,1832.3 747.7,1845.8 747.9,1859.2 748,1872.6 748.1,1886 748.2,1899.4 748.4,1912.9 748.4,1926.3 748.5,1939.7 748.6,1953.1 748.6,1966.5 748.7,1980 748.8,1993.4 748.8,2006.8 748.8,2008.8 42.7,2008.8" fill="#00fff8"/>
<polygon points="42.7,1334 44.7,1334 58.8,1334.1 73,1334.2 87.1,1334.3 101.2,1334.4 115.4,1334.5 129.5,1334.6 143.6,1334.7 157.8,1334.8 171.9,1334.9 186,1335 200.2,1335.1 214.3,1335.2 228.4,1335.3 242.6,1335.4 256.7,1335.5 270.8,1335.7 285,1335.8 299.1,1335.9 313.2,1336 327.3,1336.2 341.5,1336.3 355.6,1336.5 369.7,1336.6 383.9,1336.8 398,1337 412.1,1337.2 426.3,1337.4 440.4,1337.6 454.5,1337.9 468.7,1338.3 482.8,1338.6 496.9,1339 511.1,1339.5 525.2,1340 539.3,1340.6 553.5,1341.1 567.6,1341.7 581.7,1342.4 595.9,1343.4 610,1344.6 616.5,1345.3 623,1346.2 629.4,1347.3 635.8,1348.5 642.2,1349.9 648.5,1351.5 654.9,1353.1 661.2,1355 667.5,1357.1 673.8,1359.5 680.1,1362.1 686.3,1365 692.4,1368.2 698.4,1371.8 703.9,1376.1 708.7,1381.2 712.7,1386.9 716.2,1392.8 719.4,1399 722.1,1405.3 724.3,1411.8 726.3,1418.2 728.1,1424.7 729.7,1431.1 731,1437.6 732.1,1444.1 733,1450.5 733.9,1457 734.6,1463.5 735.3,1470 736.6,1483.4 737.6,1496.8 738.5,1510.3 739.1,1523.7 739.6,1537.1 740,1550.5 740.4,1563.9 740.7,1577.4 741.1,1590.8 741.5,1604.2 741.8,1617.6 742.2,1631 742.6,1644.5 742.9,1657.9 743.2,1671.3 743.5,1684.7 743.8,1698.1 744.1,1711.6 744.4,1725 744.7,1738.4 744.9,1751.8 745.2,1765.2 745.4,1778.7 745.6,1792.1 745.8,1805.5 746,1818.9 746.2,1832.3 746.4,1845.8 746.5,1859.2 746.7,1872.6 746.8,1886 746.9,1899.4 747,1912.9 747.1,1926.3 747.1,1939.7 747.2,1953.1 747.3,1966.5 747.4,1980 747.4,1993.4 747.5,2006.8 747.5,2008.8 42.7,2008.8" fill="#00ffd8"/>
<polygon points="42.7,1335.2 44.7,1335.2 58.8,1335.3 73,1335.4 87.1,1335.5 101.2,1335.6 115.4,1335.7 129.5,1335.8 143.6,1335.9 157.8,1336 171.9,1336.1 186,1336.2 200.2,1336.3 214.3,1336.4 228.4,1336.5 242.6,1336.6 256.7,1336.8 270.8,1336.9 285,1337 299.1,1337.1 313.2,1337.3 327.3,1337.4 341.5,1337.6 355.6,1337.7 369.7,1337.9 383.9,1338.1 398,1338.3 412.1,1338.5 426.3,1338.7 440.4,1339 454.5,1339.3 468.7,1339.7 482.8,1340.1 496.9,1340.5 511.1,1341 525.2,1341.5 539.3,1342.1 553.5,1342.7 567.6,1343.2 581.7,1343.9 595.9,1344.9 610,1346.1 616.5,1346.8 622.9,1347.7 629.2,1348.8 635.5,1350 641.8,1351.4 648.1,1352.9 654.3,1354.5 660.6,1356.3 666.8,1358.4 673,1360.8 679.2,1363.4 685.4,1366.2 691.5,1369.4 697.4,1373 702.8,1377.2 707.5,1382.2 711.5,1387.8 715,1393.7 718.1,1399.8 720.8,1406 723,1412.4 724.9,1418.8 726.7,1425.2 728.3,1431.6 729.6,1438 730.6,1444.4 731.6,1450.7 732.4,1457.1 733.1,1463.5 733.8,1470 735.1,1483.4 736.1,1496.8 737,1510.3 737.6,1523.7 738,1537.1 738.4,1550.5 738.8,1563.9 739.2,1577.4 739.6,1590.8 740,1604.2 740.4,1617.6 740.8,1631 741.2,1644.5 741.5,1657.9 741.9,1671.3 742.2,1684.7 742.5,1698.1 742.8,1711.6 743.1,1725 743.3,1738.4 743.6,1751.8 743.9,1765.2 744.1,1778.7 744.3,1792.1 744.5,1805.5 744.7,1818.9 744.9,1832.3 745,1845.8 745.2,1859.2 745.3,1872.6 745.4,1886 745.5,1899.4 745.6,1912.9 745.7,1926.3 745.8,1939.7 745.9,1953.1 745.9,1966.5 746,1980 746.1,1993.4 746.1,2006.8 746.1,2008.8 42.7,2008.8" fill="#00ffb8"/>
<polygon points="42.7,1336.4 44.7,1336.4 58.8,1336.5 73,1336.6 87.1,1336.7 101.2,1336.8 115.4,1336.9 129.5,1337 143.6,1337.1 157.8,1337.2 171.9,1337.3 186,1337.4 200.2,1337.5 214.3,1337.6 228.4,1337.8 242.6,1337.9 256.7,1338 270.8,1338.1 285,1338.3 299.1,1338.4 313.2,1338.5 327.3,1338.7 341.5,1338.8 355.6,1339 369.7,1339.2 383.9,1339.4 398,1339.5 412.1,1339.8 426.3,1340.1 440.4,1340.4 454.5,1340.7 468.7,1341.1 482.8,1341.5 496.9,1342 511.1,1342.5 525.2,1343 539.3,1343.6 553.5,1344.2 567.6,1344.8 581.7,1345.4 595.9,1346.4 610,1347.6 616.4,1348.3 622.7,1349.2 629,1350.2 635.2,1351.4 641.4,1352.8 647.6,1354.3 653.8,1355.9 660,1357.7 666.2,1359.8 672.3,1362.1 678.4,1364.6 684.5,1367.4 690.5,1370.6 696.3,1374.1 701.8,1378.2 706.4,1383.2 710.3,1388.8 713.7,1394.6 716.8,1400.6 719.5,1406.8 721.6,1413.1 723.6,1419.4 725.3,1425.7 726.9,1432 728.1,1438.4 729.2,1444.7 730.1,1451 730.9,1457.3 731.6,1463.6 732.3,1470 733.6,1483.4 734.6,1496.8 735.5,1510.3 736,1523.7 736.5,1537.1 736.9,1550.5 737.3,1563.9 737.7,1577.4 738,1590.8 738.5,1604.2 738.9,1617.6 739.4,1631 739.8,1644.5 740.2,1657.9 740.5,1671.3 740.9,1684.7 741.2,1698.1 741.5,1711.6 741.8,1725 742,1738.4 742.3,1751.8 742.5,1765.2 742.7,1778.7 742.9,1792.1 743.1,1805.5 743.3,1818.9 743.5,1832.3 743.7,1845.8 743.8,1859.2 743.9,1872.6 744.1,1886 744.2,1899.4 744.3,1912.9 744.4,1926.3 744.4,1939.7 744.5,1953.1 744.6,1966.5 744.7,1980 744.7,1993.4 744.8,2006.8 744.8,2008.8 42.7,2008.8" fill="#00ff97"/>
<polygon points="42.7,1337.6 44.7,1337.6 58.8,1337.7 73,1337.8 87.1,1337.9 101.2,1338 115.4,1338.1 129.5,1338.2 143.6,1338.3 157.8,1338.4 171.9,1338.5 186,1338.6 200.2,1338.7 214.3,1338.9 228.4,1339 242.6,1339.1 256.7,1339.2 270.8,1339.4 285,1339.5 299.1,1339.6 313.2,1339.8 327.3,1339.9 341.5,1340.1 355.6,1340.2 369.7,1340.4 383.9,1340.6 398,1340.8 412.1,1341.1 426.3,1341.4 440.4,1341.7 454.5,1342.1 468.7,1342.6 482.8,1343 496.9,1343.5 511.1,1344 525.2,1344.5 539.3,1345.1 553.5,1345.7 567.6,1346.3 581.7,1346.9 595.9,1347.9 610,1349.1 616.3,1349.8 622.5,1350.7 628.7,1351.7 634.9,1352.9 641,1354.2 647.1,1355.7 653.3,1357.3 659.4,1359 665.5,1361.1 671.5,1363.4 677.6,1365.9 683.6,1368.6 689.6,1371.8 695.3,1375.3 700.7,1379.3 705.2,1384.3 709.1,1389.8 712.5,1395.5 715.5,1401.5 718.2,1407.6 720.3,1413.8 722.2,1420 724,1426.3 725.4,1432.5 726.7,1438.7 727.7,1445 728.6,1451.2 729.4,1457.4 730.2,1463.7 730.8,1470 732.1,1483.4 733.1,1496.8 733.9,1510.3 734.5,1523.7 735,1537.1 735.3,1550.5 735.7,1563.9 736.1,1577.4 736.5,1590.8 736.9,1604.2 737.4,1617.6 737.9,1631 738.4,1644.5 738.8,1657.9 739.2,1671.3 739.5,1684.7 739.8,1698.1 740.1,1711.6 740.4,1725 740.7,1738.4 740.9,1751.8 741.2,1765.2 741.4,1778.7 741.6,1792.1 741.8,1805.5 742,1818.9 742.2,1832.3 742.3,1845.8 742.4,1859.2 742.6,1872.6 742.7,1886 742.8,1899.4 742.9,1912.9 743,1926.3 743.1,1939.7 743.2,1953.1 743.2,1966.5 743.3,1980 743.4,1993.4 743.5,2006.8 743.5,2008.8 42.7,2008.8" fill="#00ff77"/>
<polygon points="42.7,1338.8 44.7,1338.8 58.8,1338.9 73,1339 87.1,1339.1 101.2,1339.2 115.4,1339.3 129.5,1339.4 143.6,1339.5 157.8,1339.6 171.9,1339.8 186,1339.9 200.2,1340 214.3,1340.1 228.4,1340.2 242.6,1340.3 256.7,1340.5 270.8,1340.6 285,1340.7 299.1,1340.9 313.2,1341 327.3,1341.2 341.5,1341.3 355.6,1341.5 369.7,1341.7 383.9,1341.9 398,1342.1 412.1,1342.4 426.3,1342.7 440.4,1343.1 454.5,1343.5 468.7,1344 482.8,1344.5 496.9,1345 511.1,1345.5 525.2,1346.1 539.3,1346.6 553.5,1347.2 567.6,1347.8 581.7,1348.4 595.9,1349.4 610,1350.6 616.2,1351.3 622.4,1352.2 628.5,1353.2 634.6,1354.3 640.6,1355.7 646.7,1357.1 652.7,1358.6 658.8,1360.4 664.8,1362.4 670.8,1364.7 676.8,1367.2 682.8,1369.9 688.6,1372.9 694.3,1376.4 699.6,1380.4 704.1,1385.3 707.9,1390.7 711.3,1396.4 714.3,1402.3 716.9,1408.3 718.9,1414.5 720.8,1420.6 722.6,1426.8 724,1432.9 725.2,1439.1 726.3,1445.3 727.1,1451.4 727.9,1457.6 728.7,1463.8 729.3,1470 730.6,1483.4 731.6,1496.8 732.4,1510.3 733,1523.7 733.4,1537.1 733.8,1550.5 734.2,1563.9 734.6,1577.4 735,1590.8 735.4,1604.2 736,1617.6 736.5,1631 737,1644.5 737.5,1657.9 737.8,1671.3 738.2,1684.7 738.5,1698.1 738.8,1711.6 739.1,1725 739.4,1738.4 739.6,1751.8 739.8,1765.2 740.1,1778.7 740.3,1792.1 740.5,1805.5 740.6,1818.9 740.8,1832.3 740.9,1845.8 741.1,1859.2 741.2,1872.6 741.3,1886 741.5,1899.4 741.6,1912.9 741.6,1926.3 741.7,1939.7 741.8,1953.1 741.9,1966.5 742,1980 742,1993.4 742.1,2006.8 742.1,2008.8 42.7,2008.8" fill="#00ff57"/>
<polygon points="42.7,1340 44.7,1340 58.8,1340.1 73,1340.2 87.1,1340.3 101.2,1340.4 115.4,1340.5 129.5,1340.6 143.6,1340.8 157.8,1340.9 171.9,1341 186,1341.1 200.2,1341.2 214.3,1341.3 228.4,1341.4 242.6,1341.6 256.7,1341.7 270.8,1341.8 285,1342 299.1,1342.1 313.2,1342.3 327.3,1342.4 341.5,1342.6 355.6,1342.8 369.7,1343 383.9,1343.2 398,1343.4 412.1,1343.7 426.3,1344.1 440.4,1344.5 454.5,1344.9 468.7,1345.4 482.8,1345.9 496.9,1346.5 511.1,1347 525.2,1347.6 539.3,1348.1 553.5,1348.7 567.6,1349.3 581.7,1349.9 595.9,1350.9 610,1352.1 616.1,1352.8 622.2,1353.7 628.3,1354.6 634.3,1355.8 640.3,1357.1 646.2,1358.5 652.2,1360 658.2,1361.7 664.1,1363.7 670,1366 676,1368.4 681.9,1371.1 687.6,1374.1 693.3,1377.5 698.5,1381.5 702.9,1386.3 706.7,1391.7 710,1397.3 713,1403.1 715.5,1409.1 717.6,1415.2 719.5,1421.3 721.2,1427.3 722.6,1433.4 723.8,1439.5 724.8,1445.6 725.7,1451.7 726.5,1457.8 727.2,1463.9 727.8,1470 729,1483.4 730.1,1496.8 730.9,1510.3 731.4,1523.7 731.9,1537.1 732.3,1550.5 732.6,1563.9 733,1577.4 733.4,1590.8 733.9,1604.2 734.5,1617.6 735.1,1631 735.6,1644.5 736.1,1657.9 736.5,1671.3 736.9,1684.7 737.2,1698.1 737.5,1711.6 737.8,1725 738,1738.4 738.3,1751.8 738.5,1765.2 738.7,1778.7 738.9,1792.1 739.1,1805.5 739.3,1818.9 739.4,1832.3 739.6,1845.8 739.7,1859.2 739.9,1872.6 740,1886 740.1,1899.4 740.2,1912.9 740.3,1926.3 740.4,1939.7 740.4,1953.1 740.5,1966.5 740.6,1980 740.7,1993.4 740.8,2006.8 740.8,2008.8 42.7,2008.8" fill="#00ff37"/>
<polygon points="42.7,1341.2 44.7,1341.2 58.8,1341.3 73,1341.4 87.1,1341.5 101.2,1341.6 115.4,1341.8 129.5,1341.9 143.6,1342 157.8,1342.1 171.9,1342.2 186,1342.3 200.2,1342.4 214.3,1342.5 228.4,1342.7 242.6,1342.8 256.7,1342.9 270.8,1343.1 285,1343.2 299.1,1343.3 313.2,1343.5 327.3,1343.7 341.5,1343.8 355.6,1344 369.7,1344.2 383.9,1344.5 398,1344.7 412.1,1345 426.3,1345.4 440.4,1345.8 454.5,1346.3 468.7,1346.9 482.8,1347.4 496.9,1347.9 511.1,1348.5 525.2,1349.1 539.3,1349.7 553.5,1350.2 567.6,1350.8 581.7,1351.4 595.9,1352.4 610,1353.6 616.1,1354.3 622.1,1355.1 628,1356.1 634,1357.2 639.9,1358.5 645.8,1359.9 651.7,1361.4 657.6,1363.1 663.5,1365.1 669.3,1367.3 675.1,1369.7 681,1372.3 686.7,1375.3 692.2,1378.7 697.4,1382.6 701.8,1387.4 705.5,1392.7 708.8,1398.2 711.7,1403.9 714.2,1409.8 716.3,1415.9 718.1,1421.9 719.8,1427.9 721.2,1433.9 722.4,1439.9 723.4,1445.9 724.2,1451.9 725,1457.9 725.7,1463.9 726.3,1470 727.5,1483.4 728.5,1496.8 729.4,1510.3 729.9,1523.7 730.3,1537.1 730.7,1550.5 731.1,1563.9 731.5,1577.4 731.9,1590.8 732.4,1604.2 733,1617.6 733.7,1631 734.2,1644.5 734.7,1657.9 735.2,1671.3 735.5,1684.7 735.8,1698.1 736.2,1711.6 736.4,1725 736.7,1738.4 736.9,1751.8 737.2,1765.2 737.4,1778.7 737.6,1792.1 737.8,1805.5 737.9,1818.9 738.1,1832.3 738.2,1845.8 738.4,1859.2 738.5,1872.6 738.6,1886 738.7,1899.4 738.8,1912.9 738.9,1926.3 739,1939.7 739.1,1953.1 739.2,1966.5 739.3,1980 739.3,1993.4 739.4,2006.8 739.4,2008.8 42.7,2008.8" fill="#00ff17"/>
<polygon points="42.7,1342.4 44.7,1342.4 58.8,1342.5 73,1342.6 87.1,1342.7 101.2,1342.9 115.4,1343 129.5,1343.1 143.6,1343.2 157.8,1343.3 171.9,1343.4 186,1343.5 200.2,1343.6 214.3,1343.8 228.4,1343.9 242.6,1344 256.7,1344.1 270.8,1344.3 285,1344.4 299.1,1344.6 313.2,1344.7 327.3,1344.9 341.5,1345.1 355.6,1345.3 369.7,1345.5 383.9,1345.7 398,1346 412.1,1346.3 426.3,1346.7 440.4,1347.2 454.5,1347.7 468.7,1348.3 482.8,1348.9 496.9,1349.4 511.1,1350 525.2,1350.6 539.3,1351.2 553.5,1351.7 567.6,1352.3 581.7,1352.9 595.9,1354 610,1355.1 616,1355.8 621.9,1356.6 627.8,1357.6 633.7,1358.7 639.5,1359.9 645.3,1361.3 651.2,1362.8 657,1364.5 662.8,1366.4 668.5,1368.6 674.3,1371 680.1,1373.5 685.7,1376.5 691.2,1379.8 696.3,1383.7 700.6,1388.4 704.3,1393.6 707.6,1399.1 710.5,1404.8 712.9,1410.6 714.9,1416.5 716.7,1422.5 718.4,1428.4 719.8,1434.3 720.9,1440.3 721.9,1446.2 722.7,1452.1 723.5,1458.1 724.2,1464 724.8,1470 726,1483.4 727,1496.8 727.8,1510.3 728.4,1523.7 728.8,1537.1 729.2,1550.5 729.6,1563.9 729.9,1577.4 730.4,1590.8 730.9,1604.2 731.5,1617.6 732.2,1631 732.9,1644.5 733.4,1657.9 733.8,1671.3 734.2,1684.7 734.5,1698.1 734.8,1711.6 735.1,1725 735.4,1738.4 735.6,1751.8 735.8,1765.2 736,1778.7 736.2,1792.1 736.4,1805.5 736.6,1818.9 736.7,1832.3 736.9,1845.8 737,1859.2 737.2,1872.6 737.3,1886 737.4,1899.4 737.5,1912.9 737.6,1926.3 737.7,1939.7 737.7,1953.1 737.8,1966.5 737.9,1980 738,1993.4 738.1,2006.8 738.1,2008.8 42.7,2008.8" fill="#0aff00"/>
<polygon points="42.7,1343.6 44.7,1343.6 58.8,1343.7 73,1343.8 87.1,1344 101.2,1344.1 115.4,1344.2 129.5,1344.3 143.6,1344.4 157.8,1344.5 171.9,1344.6 186,1344.7 200.2,1344.9 214.3,1345 228.4,1345.1 242.6,1345.2 256.7,1345.4 270.8,1345.5 285,1345.7 299.1,1345.8 313.2,1346 327.3,1346.2 341.5,1346.4 355.6,1346.5 369.7,1346.8 383.9,1347 398,1347.3 412.1,1347.6 426.3,1348.1 440.4,1348.5 454.5,1349.1 468.7,1349.7 482.8,1350.3 496.9,1350.9 511.1,1351.5 525.2,1352.1 539.3,1352.7 553.5,1353.3 567.6,1353.8 581.7,1354.5 595.9,1355.5 610,1356.6 615.9,1357.3 621.8,1358.1 627.6,1359 633.4,1360.1 639.1,1361.4 644.9,1362.7 650.6,1364.2 656.4,1365.8 662.1,1367.7 667.8,1369.9 673.5,1372.2 679.2,1374.8 684.7,1377.7 690.2,1381 695.2,1384.8 699.5,1389.4 703.1,1394.6 706.3,1400 709.2,1405.6 711.6,1411.3 713.6,1417.2 715.4,1423.1 717,1428.9 718.4,1434.8 719.5,1440.7 720.4,1446.5 721.3,1452.4 722,1458.2 722.7,1464.1 723.3,1470 724.5,1483.4 725.5,1496.8 726.3,1510.3 726.9,1523.7 727.3,1537.1 727.6,1550.5 728,1563.9 728.4,1577.4 728.8,1590.8 729.4,1604.2 730.1,1617.6 730.8,1631 731.5,1644.5 732,1657.9 732.5,1671.3 732.9,1684.7 733.2,1698.1 733.5,1711.6 733.8,1725 734,1738.4 734.3,1751.8 734.5,1765.2 734.7,1778.7 734.9,1792.1 735.1,1805.5 735.2,1818.9 735.4,1832.3 735.5,1845.8 735.7,1859.2 735.8,1872.6 735.9,1886 736,1899.4 736.1,1912.9 736.2,1926.3 736.3,1939.7 736.4,1953.1 736.5,1966.5 736.6,1980 736.6,1993.4 736.7,2006.8 736.7,2008.8 42.7,2008.8" fill="#2dff00"/>
<polygon points="42.7,1344.8 44.7,1344.8 58.8,1344.9 73,1345 87.1,1345.2 101.2,1345.3 115.4,1345.4 129.5,1345.5 143.6,1345.6 157.8,1345.7 171.9,1345.8 186,1346 200.2,1346.1 214.3,1346.2 228.4,1346.3 242.6,1346.5 256.7,1346.6 270.8,1346.8 285,1346.9 299.1,1347.1 313.2,1347.2 327.3,1347.4 341.5,1347.6 355.6,1347.8 369.7,1348 383.9,1348.3 398,1348.6 412.1,1348.9 426.3,1349.4 440.4,1349.9 454.5,1350.5 468.7,1351.2 482.8,1351.8 496.9,1352.4 511.1,1353 525.2,1353.6 539.3,1354.2 553.5,1354.8 567.6,1355.4 581.7,1356 595.9,1357 610,1358.1 615.8,1358.8 621.6,1359.6 627.3,1360.5 633,1361.6 638.7,1362.8 644.4,1364.1 650.1,1365.6 655.8,1367.2 661.4,1369 667.1,1371.2 672.7,1373.5 678.3,1376 683.8,1378.9 689.1,1382.1 694.1,1385.9 698.3,1390.5 701.9,1395.6 705.1,1400.9 707.9,1406.4 710.3,1412.1 712.3,1417.9 714,1423.7 715.6,1429.5 716.9,1435.3 718.1,1441 719,1446.8 719.8,1452.6 720.5,1458.4 721.2,1464.2 721.8,1470 723,1483.4 724,1496.8 724.8,1510.3 725.3,1523.7 725.7,1537.1 726.1,1550.5 726.5,1563.9 726.8,1577.4 727.3,1590.8 727.9,1604.2 728.6,1617.6 729.4,1631 730.1,1644.5 730.7,1657.9 731.1,1671.3 731.5,1684.7 731.9,1698.1 732.2,1711.6 732.5,1725 732.7,1738.4 732.9,1751.8 733.2,1765.2 733.4,1778.7 733.6,1792.1 733.7,1805.5 733.9,1818.9 734,1832.3 734.2,1845.8 734.3,1859.2 734.4,1872.6 734.5,1886 734.7,1899.4 734.8,1912.9 734.9,1926.3 734.9,1939.7 735,1953.1 735.1,1966.5 735.2,1980 735.3,1993.4 735.4,2006.8 735.4,2008.8 42.7,2008.8" fill="#4fff00"/>
<polygon points="42.7,1346 44.7,1346 58.8,1346.1 73,1346.2 87.1,1346.4 101.2,1346.5 115.4,1346.6 129.5,1346.7 143.6,1346.8 157.8,1346.9 171.9,1347.1 186,1347.2 200.2,1347.3 214.3,1347.4 228.4,1347.6 242.6,1347.7 256.7,1347.8 270.8,1348 285,1348.1 299.1,1348.3 313.2,1348.5 327.3,1348.7 341.5,1348.9 355.6,1349.1 369.7,1349.3 383.9,1349.6 398,1349.9 412.1,1350.2 426.3,1350.7 440.4,1351.3 454.5,1351.9 468.7,1352.6 482.8,1353.3 496.9,1353.9 511.1,1354.5 525.2,1355.1 539.3,1355.7 553.5,1356.3 567.6,1356.9 581.7,1357.5 595.9,1358.5 610,1359.6 615.8,1360.3 621.5,1361.1 627.1,1362 632.7,1363 638.3,1364.2 643.9,1365.5 649.6,1366.9 655.2,1368.5 660.8,1370.4 666.3,1372.5 671.9,1374.7 677.4,1377.2 682.8,1380.1 688.1,1383.3 693,1387 697.2,1391.5 700.7,1396.5 703.8,1401.8 706.6,1407.2 709,1412.8 710.9,1418.6 712.6,1424.3 714.2,1430 715.5,1435.7 716.6,1441.4 717.5,1447.1 718.3,1452.8 719,1458.5 719.7,1464.3 720.3,1470 721.5,1483.4 722.5,1496.8 723.3,1510.3 723.8,1523.7 724.2,1537.1 724.5,1550.5 724.9,1563.9 725.3,1577.4 725.8,1590.8 726.4,1604.2 727.1,1617.6 728,1631 728.7,1644.5 729.3,1657.9 729.8,1671.3 730.2,1684.7 730.5,1698.1 730.8,1711.6 731.1,1725 731.4,1738.4 731.6,1751.8 731.8,1765.2 732,1778.7 732.2,1792.1 732.4,1805.5 732.5,1818.9 732.7,1832.3 732.8,1845.8 732.9,1859.2 733.1,1872.6 733.2,1886 733.3,1899.4 733.4,1912.9 733.5,1926.3 733.6,1939.7 733.7,1953.1 733.8,1966.5 733.9,1980 734,1993.4 734,2006.8 734,2008.8 42.7,2008.8" fill="#71ff00"/>
<polygon points="42.7,1347.2 44.7,1347.2 58.8,1347.3 73,1347.5 87.1,1347.6 101.2,1347.7 115.4,1347.8 129.5,1347.9 143.6,1348 157.8,1348.2 171.9,1348.3 186,1348.4 200.2,1348.5 214.3,1348.6 228.4,1348.8 242.6,1348.9 256.7,1349.1 270.8,1349.2 285,1349.4 299.1,1349.6 313.2,1349.7 327.3,1349.9 341.5,1350.1 355.6,1350.3 369.7,1350.6 383.9,1350.8 398,1351.1 412.1,1351.6 426.3,1352.1 440.4,1352.6 454.5,1353.3 468.7,1354 482.8,1354.7 496.9,1355.4 511.1,1356 525.2,1356.6 539.3,1357.2 553.5,1357.8 567.6,1358.4 581.7,1359 595.9,1360 610,1361.1 615.7,1361.8 621.3,1362.5 626.9,1363.4 632.4,1364.5 638,1365.7 643.5,1366.9 649,1368.3 654.6,1369.9 660.1,1371.7 665.6,1373.8 671,1376 676.5,1378.5 681.9,1381.3 687.1,1384.4 691.9,1388.1 696,1392.5 699.5,1397.5 702.6,1402.7 705.4,1408.1 707.7,1413.6 709.6,1419.3 711.3,1424.9 712.8,1430.5 714.1,1436.2 715.2,1441.8 716.1,1447.5 716.9,1453.1 717.6,1458.7 718.2,1464.3 718.8,1470 720,1483.4 721,1496.8 721.7,1510.3 722.3,1523.7 722.6,1537.1 723,1550.5 723.4,1563.9 723.8,1577.4 724.2,1590.8 724.8,1604.2 725.6,1617.6 726.5,1631 727.3,1644.5 728,1657.9 728.5,1671.3 728.9,1684.7 729.2,1698.1 729.5,1711.6 729.8,1725 730,1738.4 730.3,1751.8 730.5,1765.2 730.7,1778.7 730.9,1792.1 731,1805.5 731.2,1818.9 731.3,1832.3 731.5,1845.8 731.6,1859.2 731.7,1872.6 731.8,1886 731.9,1899.4 732.1,1912.9 732.1,1926.3 732.2,1939.7 732.3,1953.1 732.4,1966.5 732.5,1980 732.6,1993.4 732.7,2006.8 732.7,2008.8 42.7,2008.8" fill="#93ff00"/>
<polygon points="42.7,1348.4 44.7,1348.4 58.8,1348.5 73,1348.7 87.1,1348.8 101.2,1348.9 115.4,1349 129.5,1349.1 143.6,1349.2 157.8,1349.4 171.9,1349.5 186,1349.6 200.2,1349.7 214.3,1349.9 228.4,1350 242.6,1350.2 256.7,1350.3 270.8,1350.5 285,1350.6 299.1,1350.8 313.2,1351 327.3,1351.2 341.5,1351.4 355.6,1351.6 369.7,1351.8 383.9,1352.1 398,1352.4 412.1,1352.9 426.3,1353.4 440.4,1354 454.5,1354.7 468.7,1355.5 482.8,1356.2 496.9,1356.9 511.1,1357.5 525.2,1358.1 539.3,1358.7 553.5,1359.3 567.6,1359.9 581.7,1360.5 595.9,1361.5 610,1362.6 615.6,1363.3 621.1,1364 626.6,1364.9 632.1,1365.9 637.6,1367.1 643,1368.3 648.5,1369.7 654,1371.2 659.4,1373 664.8,1375.1 670.2,1377.3 675.6,1379.7 680.9,1382.4 686,1385.5 690.8,1389.2 694.9,1393.6 698.3,1398.5 701.4,1403.6 704.1,1408.9 706.4,1414.3 708.2,1419.9 709.9,1425.5 711.4,1431.1 712.7,1436.6 713.7,1442.2 714.6,1447.8 715.4,1453.3 716.1,1458.9 716.7,1464.4 717.3,1470 718.5,1483.4 719.5,1496.8 720.2,1510.3 720.7,1523.7 721.1,1537.1 721.5,1550.5 721.8,1563.9 722.2,1577.4 722.7,1590.8 723.3,1604.2 724.2,1617.6 725.1,1631 725.9,1644.5 726.6,1657.9 727.1,1671.3 727.5,1684.7 727.9,1698.1 728.2,1711.6 728.5,1725 728.7,1738.4 728.9,1751.8 729.2,1765.2 729.3,1778.7 729.5,1792.1 729.7,1805.5 729.8,1818.9 730,1832.3 730.1,1845.8 730.2,1859.2 730.4,1872.6 730.5,1886 730.6,1899.4 730.7,1912.9 730.8,1926.3 730.9,1939.7 731,1953.1 731.1,1966.5 731.2,1980 731.3,1993.4 731.4,2006.8 731.4,2008.8 42.7,2008.8" fill="#b6ff00"/>
<polygon points="42.7,1349.6 44.7,1349.6 58.8,1349.7 73,1349.9 87.1,1350 101.2,1350.1 115.4,1350.2 129.5,1350.3 143.6,1350.5 157.8,1350.6 171.9,1350.7 186,1350.8 200.2,1351 214.3,1351.1 228.4,1351.2 242.6,1351.4 256.7,1351.5 270.8,1351.7 285,1351.9 299.1,1352 313.2,1352.2 327.3,1352.4 341.5,1352.6 355.6,1352.8 369.7,1353.1 383.9,1353.4 398,1353.7 412.1,1354.2 426.3,1354.7 440.4,1355.4 454.5,1356.1 468.7,1356.9 482.8,1357.6 496.9,1358.3 511.1,1359 525.2,1359.6 539.3,1360.2 553.5,1360.8 567.6,1361.4 581.7,1362 595.9,1363 610,1364.1 615.5,1364.7 621,1365.5 626.4,1366.4 631.8,1367.4 637.2,1368.5 642.6,1369.7 648,1371.1 653.4,1372.6 658.7,1374.4 664.1,1376.4 669.4,1378.5 674.7,1380.9 679.9,1383.6 685,1386.7 689.7,1390.3 693.8,1394.6 697.1,1399.4 700.1,1404.5 702.8,1409.7 705.1,1415.1 706.9,1420.6 708.5,1426.1 710,1431.6 711.3,1437.1 712.3,1442.6 713.2,1448.1 713.9,1453.5 714.6,1459 715.2,1464.5 715.8,1470 717,1483.4 717.9,1496.8 718.7,1510.3 719.2,1523.7 719.6,1537.1 719.9,1550.5 720.3,1563.9 720.7,1577.4 721.2,1590.8 721.8,1604.2 722.7,1617.6 723.7,1631 724.6,1644.5 725.2,1657.9 725.8,1671.3 726.2,1684.7 726.5,1698.1 726.9,1711.6 727.1,1725 727.4,1738.4 727.6,1751.8 727.8,1765.2 728,1778.7 728.2,1792.1 728.3,1805.5 728.5,1818.9 728.6,1832.3 728.8,1845.8 728.9,1859.2 729,1872.6 729.1,1886 729.2,1899.4 729.3,1912.9 729.4,1926.3 729.5,1939.7 729.6,1953.1 729.7,1966.5 729.8,1980 729.9,1993.4 730,2006.8 730,2008.8 42.7,2008.8" fill="#d8ff00"/>
<polygon points="42.7,1350.8 44.7,1350.8 58.8,1350.9 73,1351.1 87.1,1351.2 101.2,1351.3 115.4,1351.4 129.5,1351.6 143.6,1351.7 157.8,1351.8 171.9,1351.9 186,1352 200.2,1352.2 214.3,1352.3 228.4,1352.5 242.6,1352.6 256.7,1352.8 270.8,1352.9 285,1353.1 299.1,1353.3 313.2,1353.5 327.3,1353.7 341.5,1353.9 355.6,1354.1 369.7,1354.4 383.9,1354.7 398,1355 412.1,1355.5 426.3,1356 440.4,1356.7 454.5,1357.5 468.7,1358.3 482.8,1359.1 496.9,1359.8 511.1,1360.5 525.2,1361.1 539.3,1361.7 553.5,1362.3 567.6,1362.9 581.7,1363.5 595.9,1364.5 610,1365.6 615.4,1366.2 620.8,1367 626.2,1367.8 631.5,1368.8 636.8,1369.9 642.1,1371.2 647.4,1372.5 652.8,1373.9 658.1,1375.7 663.3,1377.7 668.6,1379.8 673.8,1382.1 679,1384.8 684,1387.8 688.7,1391.3 692.6,1395.6 696,1400.4 698.9,1405.4 701.5,1410.5 703.8,1415.8 705.6,1421.3 707.2,1426.7 708.6,1432.1 709.9,1437.6 710.9,1443 711.7,1448.4 712.5,1453.8 713.1,1459.2 713.7,1464.6 714.3,1470 715.5,1483.4 716.4,1496.8 717.2,1510.3 717.7,1523.7 718,1537.1 718.4,1550.5 718.7,1563.9 719.1,1577.4 719.6,1590.8 720.3,1604.2 721.2,1617.6 722.3,1631 723.2,1644.5 723.9,1657.9 724.4,1671.3 724.9,1684.7 725.2,1698.1 725.5,1711.6 725.8,1725 726.1,1738.4 726.3,1751.8 726.5,1765.2 726.7,1778.7 726.8,1792.1 727,1805.5 727.1,1818.9 727.3,1832.3 727.4,1845.8 727.5,1859.2 727.6,1872.6 727.7,1886 727.9,1899.4 728,1912.9 728.1,1926.3 728.2,1939.7 728.3,1953.1 728.4,1966.5 728.5,1980 728.6,1993.4 728.7,2006.8 728.7,2008.8 42.7,2008.8" fill="#faff00"/>
<polygon points="42.7,1352 44.7,1352 58.8,1352.2 73,1352.3 87.1,1352.4 101.2,1352.5 115.4,1352.6 129.5,1352.8 143.6,1352.9 157.8,1353 171.9,1353.1 186,1353.3 200.2,1353.4 214.3,1353.5 228.4,1353.7 242.6,1353.8 256.7,1354 270.8,1354.2 285,1354.3 299.1,1354.5 313.2,1354.7 327.3,1354.9 341.5,1355.1 355.6,1355.4 369.7,1355.6 383.9,1355.9 398,1356.3 412.1,1356.8 426.3,1357.4 440.4,1358.1 454.5,1358.9 468.7,1359.8 482.8,1360.6 496.9,1361.3 511.1,1362 525.2,1362.6 539.3,1363.3 553.5,1363.9 567.6,1364.4 581.7,1365 595.9,1366 610,1367.1 615.4,1367.7 620.7,1368.5 625.9,1369.3 631.2,1370.3 636.4,1371.4 641.7,1372.6 646.9,1373.8 652.2,1375.3 657.4,1377 662.6,1379 667.8,1381.1 672.9,1383.4 678,1386 683,1389 687.6,1392.4 691.5,1396.7 694.8,1401.4 697.7,1406.3 700.3,1411.4 702.5,1416.6 704.2,1422 705.8,1427.3 707.2,1432.7 708.4,1438 709.4,1443.4 710.3,1448.7 711,1454 711.6,1459.3 712.3,1464.6 712.8,1470 714,1483.4 714.9,1496.8 715.6,1510.3 716.1,1523.7 716.5,1537.1 716.8,1550.5 717.2,1563.9 717.6,1577.4 718.1,1590.8 718.8,1604.2 719.8,1617.6 720.8,1631 721.8,1644.5 722.5,1657.9 723.1,1671.3 723.5,1684.7 723.9,1698.1 724.2,1711.6 724.5,1725 724.7,1738.4 724.9,1751.8 725.2,1765.2 725.3,1778.7 725.5,1792.1 725.7,1805.5 725.8,1818.9 725.9,1832.3 726,1845.8 726.2,1859.2 726.3,1872.6 726.4,1886 726.5,1899.4 726.6,1912.9 726.7,1926.3 726.8,1939.7 726.9,1953.1 727,1966.5 727.1,1980 727.2,1993.4 727.3,2006.8 727.3,2008.8 42.7,2008.8" fill="#ffe800"/>
<polygon points="42.7,1353.2 44.7,1353.2 58.8,1353.4 73,1353.5 87.1,1353.6 101.2,1353.7 115.4,1353.9 129.5,1354 143.6,1354.1 157.8,1354.2 171.9,1354.4 186,1354.5 200.2,1354.6 214.3,1354.8 228.4,1354.9 242.6,1355.1 256.7,1355.2 270.8,1355.4 285,1355.6 299.1,1355.8 313.2,1355.9 327.3,1356.2 341.5,1356.4 355.6,1356.6 369.7,1356.9 383.9,1357.2 398,1357.6 412.1,1358.1 426.3,1358.7 440.4,1359.4 454.5,1360.3 468.7,1361.2 482.8,1362 496.9,1362.8 511.1,1363.5 525.2,1364.1 539.3,1364.8 553.5,1365.4 567.6,1365.9 581.7,1366.5 595.9,1367.5 610,1368.6 615.3,1369.2 620.5,1370 625.7,1370.8 630.9,1371.7 636,1372.8 641.2,1374 646.4,1375.2 651.6,1376.7 656.7,1378.3 661.8,1380.2 666.9,1382.3 672.1,1384.6 677.1,1387.2 681.9,1390.1 686.5,1393.5 690.3,1397.7 693.6,1402.3 696.4,1407.2 699,1412.2 701.2,1417.4 702.9,1422.7 704.4,1427.9 705.8,1433.2 707,1438.5 708,1443.7 708.8,1449 709.5,1454.2 710.2,1459.5 710.8,1464.7 711.3,1470 712.5,1483.4 713.4,1496.8 714.1,1510.3 714.6,1523.7 715,1537.1 715.3,1550.5 715.7,1563.9 716,1577.4 716.5,1590.8 717.3,1604.2 718.3,1617.6 719.4,1631 720.4,1644.5 721.2,1657.9 721.7,1671.3 722.2,1684.7 722.6,1698.1 722.9,1711.6 723.2,1725 723.4,1738.4 723.6,1751.8 723.8,1765.2 724,1778.7 724.2,1792.1 724.3,1805.5 724.4,1818.9 724.6,1832.3 724.7,1845.8 724.8,1859.2 724.9,1872.6 725,1886 725.1,1899.4 725.3,1912.9 725.3,1926.3 725.4,1939.7 725.6,1953.1 725.7,1966.5 725.8,1980 725.9,1993.4 726,2006.8 726,2008.8 42.7,2008.8" fill="#ffce00"/>
<polygon points="42.7,1354.4 44.7,1354.4 58.8,1354.6 73,1354.7 87.1,1354.8 101.2,1354.9 115.4,1355.1 129.5,1355.2 143.6,1355.3 157.8,1355.4 171.9,1355.6 186,1355.7 200.2,1355.8 214.3,1356 228.4,1356.1 242.6,1356.3 256.7,1356.5 270.8,1356.6 285,1356.8 299.1,1357 313.2,1357.2 327.3,1357.4 341.5,1357.6 355.6,1357.9 369.7,1358.2 383.9,1358.5 398,1358.9 412.1,1359.4 426.3,1360 440.4,1360.8 454.5,1361.7 468.7,1362.6 482.8,1363.5 496.9,1364.3 511.1,1365 525.2,1365.7 539.3,1366.3 553.5,1366.9 567.6,1367.5 581.7,1368 595.9,1369 610,1370.1 615.2,1370.7 620.4,1371.4 625.5,1372.2 630.6,1373.2 635.7,1374.2 640.7,1375.4 645.8,1376.6 651,1378 656,1379.7 661.1,1381.5 666.1,1383.6 671.2,1385.8 676.1,1388.4 680.9,1391.3 685.4,1394.6 689.2,1398.7 692.4,1403.3 695.2,1408.1 697.7,1413 699.9,1418.1 701.6,1423.3 703.1,1428.6 704.4,1433.7 705.6,1438.9 706.6,1444.1 707.4,1449.3 708,1454.5 708.7,1459.6 709.3,1464.8 709.8,1470 711,1483.4 711.9,1496.8 712.6,1510.3 713.1,1523.7 713.4,1537.1 713.8,1550.5 714.1,1563.9 714.5,1577.4 715,1590.8 715.8,1604.2 716.8,1617.6 718,1631 719,1644.5 719.8,1657.9 720.4,1671.3 720.9,1684.7 721.2,1698.1 721.5,1711.6 721.8,1725 722.1,1738.4 722.3,1751.8 722.5,1765.2 722.7,1778.7 722.8,1792.1 723,1805.5 723.1,1818.9 723.2,1832.3 723.3,1845.8 723.4,1859.2 723.6,1872.6 723.7,1886 723.8,1899.4 723.9,1912.9 724,1926.3 724.1,1939.7 724.2,1953.1 724.3,1966.5 724.4,1980 724.5,1993.4 724.6,2006.8 724.6,2008.8 42.7,2008.8" fill="#ffb300"/>
<polygon points="42.7,1355.6 44.7,1355.6 58.8,1355.8 73,1355.9 87.1,1356 101.2,1356.1 115.4,1356.3 129.5,1356.4 143.6,1356.5 157.8,1356.7 171.9,1356.8 186,1356.9 200.2,1357.1 214.3,1357.2 228.4,1357.4 242.6,1357.5 256.7,1357.7 270.8,1357.9 285,1358 299.1,1358.2 313.2,1358.4 327.3,1358.6 341.5,1358.9 355.6,1359.1 369.7,1359.4 383.9,1359.8 398,1360.2 412.1,1360.7 426.3,1361.4 440.4,1362.2 454.5,1363.1 468.7,1364.1 482.8,1365 496.9,1365.8 511.1,1366.5 525.2,1367.2 539.3,1367.8 553.5,1368.4 567.6,1369 581.7,1369.6 595.9,1370.5 610,1371.6 615.1,1372.2 620.2,1372.9 625.3,1373.7 630.3,1374.6 635.3,1375.7 640.3,1376.8 645.3,1378 650.4,1379.4 655.4,1381 660.3,1382.8 665.3,1384.8 670.3,1387 675.1,1389.6 679.9,1392.4 684.3,1395.7 688,1399.7 691.2,1404.3 694,1409 696.5,1413.9 698.6,1418.9 700.2,1424 701.7,1429.2 703.1,1434.3 704.2,1439.4 705.1,1444.5 705.9,1449.6 706.6,1454.7 707.2,1459.8 707.8,1464.9 708.3,1470 709.4,1483.4 710.4,1496.8 711.1,1510.3 711.5,1523.7 711.9,1537.1 712.2,1550.5 712.6,1563.9 712.9,1577.4 713.5,1590.8 714.3,1604.2 715.3,1617.6 716.6,1631 717.6,1644.5 718.5,1657.9 719.1,1671.3 719.5,1684.7 719.9,1698.1 720.2,1711.6 720.5,1725 720.7,1738.4 720.9,1751.8 721.2,1765.2 721.3,1778.7 721.5,1792.1 721.6,1805.5 721.7,1818.9 721.9,1832.3 722,1845.8 722.1,1859.2 722.2,1872.6 722.3,1886 722.4,1899.4 722.5,1912.9 722.6,1926.3 722.7,1939.7 722.8,1953.1 723,1966.5 723.1,1980 723.2,1993.4 723.3,2006.8 723.3,2008.8 42.7,2008.8" fill="#ff9900"/>
<polygon points="42.7,1356.8 44.7,1356.8 58.8,1357 73,1357.1 87.1,1357.2 101.2,1357.4 115.4,1357.5 129.5,1357.6 143.6,1357.7 157.8,1357.9 171.9,1358 186,1358.1 200.2,1358.3 214.3,1358.4 228.4,1358.6 242.6,1358.8 256.7,1358.9 270.8,1359.1 285,1359.3 299.1,1359.5 313.2,1359.7 327.3,1359.9 341.5,1360.1 355.6,1360.4 369.7,1360.7 383.9,1361 398,1361.4 412.1,1362 426.3,1362.7 440.4,1363.5 454.5,1364.5 468.7,1365.5 482.8,1366.4 496.9,1367.3 511.1,1368 525.2,1368.7 539.3,1369.3 553.5,1369.9 567.6,1370.5 581.7,1371.1 595.9,1372 610,1373.1 615,1373.7 620,1374.4 625,1375.2 630,1376.1 634.9,1377.1 639.8,1378.2 644.8,1379.4 649.7,1380.7 654.7,1382.3 659.6,1384.1 664.5,1386.1 669.4,1388.3 674.2,1390.8 678.8,1393.5 683.2,1396.8 686.9,1400.8 690,1405.2 692.7,1409.9 695.2,1414.7 697.3,1419.6 698.9,1424.7 700.3,1429.8 701.7,1434.8 702.8,1439.9 703.7,1444.9 704.4,1449.9 705.1,1454.9 705.7,1459.9 706.3,1465 706.8,1470 707.9,1483.4 708.8,1496.8 709.5,1510.3 710,1523.7 710.3,1537.1 710.7,1550.5 711,1563.9 711.4,1577.4 711.9,1590.8 712.7,1604.2 713.9,1617.6 715.1,1631 716.3,1644.5 717.1,1657.9 717.7,1671.3 718.2,1684.7 718.6,1698.1 718.9,1711.6 719.2,1725 719.4,1738.4 719.6,1751.8 719.8,1765.2 720,1778.7 720.1,1792.1 720.3,1805.5 720.4,1818.9 720.5,1832.3 720.6,1845.8 720.7,1859.2 720.8,1872.6 720.9,1886 721.1,1899.4 721.2,1912.9 721.3,1926.3 721.4,1939.7 721.5,1953.1 721.6,1966.5 721.7,1980 721.8,1993.4 721.9,2006.8 721.9,2008.8 42.7,2008.8" fill="#ff7e00"/>
<polygon points="42.7,1358 44.7,1358 58.8,1358.2 73,1358.3 87.1,1358.4 101.2,1358.6 115.4,1358.7 129.5,1358.8 143.6,1359 157.8,1359.1 171.9,1359.2 186,1359.4 200.2,1359.5 214.3,1359.7 228.4,1359.8 242.6,1360 256.7,1360.1 270.8,1360.3 285,1360.5 299.1,1360.7 313.2,1360.9 327.3,1361.1 341.5,1361.4 355.6,1361.6 369.7,1362 383.9,1362.3 398,1362.7 412.1,1363.3 426.3,1364 440.4,1364.9 454.5,1365.9 468.7,1366.9 482.8,1367.9 496.9,1368.8 511.1,1369.5 525.2,1370.2 539.3,1370.8 553.5,1371.4 567.6,1372 581.7,1372.6 595.9,1373.5 610,1374.6 615,1375.2 619.9,1375.9 624.8,1376.6 629.7,1377.5 634.5,1378.5 639.4,1379.6 644.3,1380.8 649.1,1382.1 654,1383.6 658.8,1385.4 663.7,1387.4 668.5,1389.5 673.2,1391.9 677.8,1394.7 682.1,1397.9 685.7,1401.8 688.8,1406.2 691.5,1410.8 693.9,1415.5 696,1420.4 697.5,1425.4 699,1430.4 700.3,1435.3 701.4,1440.3 702.2,1445.3 703,1450.2 703.6,1455.2 704.2,1460.1 704.8,1465 705.3,1470 706.4,1483.4 707.3,1496.8 708,1510.3 708.5,1523.7 708.8,1537.1 709.1,1550.5 709.5,1563.9 709.9,1577.4 710.4,1590.8 711.2,1604.2 712.4,1617.6 713.7,1631 714.9,1644.5 715.7,1657.9 716.4,1671.3 716.9,1684.7 717.2,1698.1 717.6,1711.6 717.8,1725 718.1,1738.4 718.3,1751.8 718.5,1765.2 718.6,1778.7 718.8,1792.1 718.9,1805.5 719,1818.9 719.2,1832.3 719.3,1845.8 719.4,1859.2 719.5,1872.6 719.6,1886 719.7,1899.4 719.8,1912.9 719.9,1926.3 720,1939.7 720.1,1953.1 720.3,1966.5 720.4,1980 720.5,1993.4 720.6,2006.8 720.6,2008.8 42.7,2008.8" fill="#ff6200"/>
<polygon points="42.7,1359.2 44.7,1359.2 58.8,1359.4 73,1359.5 87.1,1359.6 101.2,1359.8 115.4,1359.9 129.5,1360 143.6,1360.2 157.8,1360.3 171.9,1360.4 186,1360.6 200.2,1360.7 214.3,1360.9 228.4,1361 242.6,1361.2 256.7,1361.4 270.8,1361.6 285,1361.8 299.1,1362 313.2,1362.2 327.3,1362.4 341.5,1362.6 355.6,1362.9 369.7,1363.2 383.9,1363.6 398,1364 412.1,1364.6 426.3,1365.4 440.4,1366.2 454.5,1367.3 468.7,1368.4 482.8,1369.4 496.9,1370.2 511.1,1371 525.2,1371.7 539.3,1372.3 553.5,1372.9 567.6,1373.5 581.7,1374.1 595.9,1375 610,1376.1 614.9,1376.7 619.7,1377.4 624.6,1378.1 629.4,1379 634.1,1379.9 638.9,1381 643.7,1382.1 648.5,1383.4 653.3,1385 658.1,1386.7 662.8,1388.6 667.6,1390.7 672.2,1393.1 676.8,1395.8 681,1399 684.6,1402.8 687.6,1407.2 690.3,1411.7 692.6,1416.3 694.7,1421.1 696.2,1426.1 697.6,1431 698.9,1435.9 699.9,1440.8 700.8,1445.7 701.5,1450.5 702.2,1455.4 702.7,1460.3 703.3,1465.1 703.8,1470 704.9,1483.4 705.8,1496.8 706.5,1510.3 706.9,1523.7 707.3,1537.1 707.6,1550.5 707.9,1563.9 708.3,1577.4 708.9,1590.8 709.7,1604.2 710.9,1617.6 712.3,1631 713.5,1644.5 714.4,1657.9 715,1671.3 715.5,1684.7 715.9,1698.1 716.2,1711.6 716.5,1725 716.7,1738.4 717,1751.8 717.1,1765.2 717.3,1778.7 717.5,1792.1 717.6,1805.5 717.7,1818.9 717.8,1832.3 717.9,1845.8 718,1859.2 718.1,1872.6 718.2,1886 718.3,1899.4 718.5,1912.9 718.6,1926.3 718.7,1939.7 718.8,1953.1 718.9,1966.5 719,1980 719.1,1993.4 719.3,2006.8 719.3,2008.8 42.7,2008.8" fill="#ff4600"/>
<polygon points="42.7,1360.4 44.7,1360.4 58.8,1360.6 73,1360.7 87.1,1360.8 101.2,1361 115.4,1361.1 129.5,1361.2 143.6,1361.4 157.8,1361.5 171.9,1361.7 186,1361.8 200.2,1361.9 214.3,1362.1 228.4,1362.3 242.6,1362.4 256.7,1362.6 270.8,1362.8 285,1363 299.1,1363.2 313.2,1363.4 327.3,1363.6 341.5,1363.9 355.6,1364.2 369.7,1364.5 383.9,1364.9 398,1365.3 412.1,1365.9 426.3,1366.7 440.4,1367.6 454.5,1368.7 468.7,1369.8 482.8,1370.8 496.9,1371.7 511.1,1372.5 525.2,1373.2 539.3,1373.8 553.5,1374.5 567.6,1375 581.7,1375.6 595.9,1376.5 610,1377.6 614.8,1378.2 619.6,1378.8 624.3,1379.6 629,1380.4 633.7,1381.4 638.5,1382.4 643.2,1383.5 647.9,1384.8 652.7,1386.3 657.3,1388 662,1389.9 666.7,1391.9 671.3,1394.3 675.8,1397 679.9,1400.1 683.4,1403.9 686.4,1408.1 689,1412.6 691.4,1417.2 693.3,1421.9 694.9,1426.8 696.3,1431.6 697.5,1436.4 698.5,1441.2 699.4,1446.1 700.1,1450.9 700.7,1455.6 701.3,1460.4 701.8,1465.2 702.3,1470 703.4,1483.4 704.3,1496.8 705,1510.3 705.4,1523.7 705.7,1537.1 706,1550.5 706.4,1563.9 706.8,1577.4 707.3,1590.8 708.2,1604.2 709.4,1617.6 710.9,1631 712.1,1644.5 713,1657.9 713.7,1671.3 714.2,1684.7 714.6,1698.1 714.9,1711.6 715.2,1725 715.4,1738.4 715.6,1751.8 715.8,1765.2 716,1778.7 716.1,1792.1 716.2,1805.5 716.3,1818.9 716.5,1832.3 716.6,1845.8 716.7,1859.2 716.8,1872.6 716.9,1886 717,1899.4 717.1,1912.9 717.2,1926.3 717.3,1939.7 717.4,1953.1 717.6,1966.5 717.7,1980 717.8,1993.4 717.9,2006.8 717.9,2008.8 42.7,2008.8" fill="#ff2a00"/>
<polygon points="42.7,1361.6 44.7,1361.6 58.8,1361.8 73,1361.9 87.1,1362 101.2,1362.2 115.4,1362.3 129.5,1362.5 143.6,1362.6 157.8,1362.7 171.9,1362.9 186,1363 200.2,1363.2 214.3,1363.3 228.4,1363.5 242.6,1363.7 256.7,1363.8 270.8,1364 285,1364.2 299.1,1364.4 313.2,1364.7 327.3,1364.9 341.5,1365.1 355.6,1365.4 369.7,1365.8 383.9,1366.1 398,1366.6 412.1,1367.2 426.3,1368 440.4,1369 454.5,1370.1 468.7,1371.2 482.8,1372.3 496.9,1373.2 511.1,1374 525.2,1374.7 539.3,1375.4 553.5,1376 567.6,1376.5 581.7,1377.1 595.9,1378 610,1379.1 614.7,1379.7 619.4,1380.3 624.1,1381 628.7,1381.9 633.4,1382.8 638,1383.8 642.7,1384.9 647.3,1386.1 652,1387.6 656.6,1389.3 661.2,1391.2 665.8,1393.2 670.3,1395.5 674.7,1398.1 678.8,1401.2 682.3,1404.9 685.2,1409.1 687.8,1413.5 690.1,1418 692,1422.6 693.5,1427.4 694.9,1432.2 696.1,1437 697.1,1441.7 697.9,1446.4 698.6,1451.2 699.2,1455.9 699.8,1460.6 700.3,1465.3 700.8,1470 701.9,1483.4 702.8,1496.8 703.4,1510.3 703.9,1523.7 704.2,1537.1 704.5,1550.5 704.8,1563.9 705.2,1577.4 705.8,1590.8 706.7,1604.2 708,1617.6 709.4,1631 710.7,1644.5 711.7,1657.9 712.4,1671.3 712.9,1684.7 713.2,1698.1 713.6,1711.6 713.9,1725 714.1,1738.4 714.3,1751.8 714.5,1765.2 714.6,1778.7 714.8,1792.1 714.9,1805.5 715,1818.9 715.1,1832.3 715.2,1845.8 715.3,1859.2 715.4,1872.6 715.5,1886 715.6,1899.4 715.7,1912.9 715.8,1926.3 716,1939.7 716.1,1953.1 716.2,1966.5 716.3,1980 716.4,1993.4 716.6,2006.8 716.6,2008.8 42.7,2008.8" fill="#ff0e00"/>
<polygon points="42.7,1362.8 44.7,1362.8 58.8,1363 73,1363.1 87.1,1363.3 101.2,1363.4 115.4,1363.5 129.5,1363.7 143.6,1363.8 157.8,1363.9 171.9,1364.1 186,1364.2 200.2,1364.4 214.3,1364.6 228.4,1364.7 242.6,1364.9 256.7,1365.1 270.8,1365.3 285,1365.5 299.1,1365.7 313.2,1365.9 327.3,1366.1 341.5,1366.4 355.6,1366.7 369.7,1367 383.9,1367.4 398,1367.9 412.1,1368.5 426.3,1369.4 440.4,1370.3 454.5,1371.5 468.7,1372.7 482.8,1373.8 496.9,1374.7 511.1,1375.5 525.2,1376.2 539.3,1376.9 553.5,1377.5 567.6,1378 581.7,1378.6 595.9,1379.5 610,1380.6 614.7,1381.2 619.3,1381.8 623.9,1382.5 628.4,1383.3 633,1384.2 637.5,1385.2 642.1,1386.3 646.7,1387.5 651.3,1388.9 655.8,1390.6 660.4,1392.4 664.9,1394.4 669.4,1396.7 673.7,1399.3 677.7,1402.3 681.1,1405.9 684,1410.1 686.6,1414.4 688.8,1418.8 690.7,1423.4 692.2,1428.1 693.5,1432.8 694.7,1437.5 695.7,1442.2 696.5,1446.8 697.2,1451.5 697.8,1456.1 698.3,1460.7 698.8,1465.3 699.3,1470 700.4,1483.4 701.3,1496.8 701.9,1510.3 702.3,1523.7 702.7,1537.1 703,1550.5 703.3,1563.9 703.7,1577.4 704.3,1590.8 705.2,1604.2 706.5,1617.6 708,1631 709.3,1644.5 710.3,1657.9 711,1671.3 711.5,1684.7 711.9,1698.1 712.2,1711.6 712.5,1725 712.7,1738.4 713,1751.8 713.1,1765.2 713.3,1778.7 713.4,1792.1 713.5,1805.5 713.6,1818.9 713.7,1832.3 713.8,1845.8 713.9,1859.2 714.1,1872.6 714.2,1886 714.3,1899.4 714.4,1912.9 714.5,1926.3 714.6,1939.7 714.7,1953.1 714.8,1966.5 715,1980 715.1,1993.4 715.2,2006.8 715.2,2008.8 42.7,2008.8" fill="#ff0000"/>
<polygon points="42.7,1365 44.7,1365 58.8,1365.2 73,1365.3 87.1,1365.4 101.2,1365.6 115.4,1365.7 129.5,1365.9 143.6,1366 157.8,1366.1 171.9,1366.3 186,1366.4 200.2,1366.6 214.3,1366.8 228.4,1366.9 242.6,1367.1 256.7,1367.3 270.8,1367.5 285,1367.7 299.1,1367.9 313.2,1368.1 327.3,1368.4 341.5,1368.6 355.6,1368.9 369.7,1369.3 383.9,1369.7 398,1370.1 412.1,1370.7 426.3,1371.6 440.4,1372.8 454.5,1374.7 468.7,1377.7 482.8,1379.9 496.9,1381.5 511.1,1382.5 525.2,1383.4 539.3,1384.2 553.5,1384.9 567.6,1385.4 581.7,1385.9 595.9,1386.5 610,1387.4 614.3,1387.8 618.6,1388.3 622.9,1388.8 627.1,1389.4 631.4,1390.1 635.7,1391 639.9,1392 644.2,1393.2 648.4,1394.7 652.6,1396.3 656.6,1398.2 660.6,1400.4 664.4,1402.8 668.1,1405.5 671.6,1408.4 674.7,1411.7 677.7,1415.2 680.4,1418.9 682.7,1422.8 684.6,1426.9 686.2,1431.2 687.5,1435.5 688.6,1439.8 689.5,1444.2 690.3,1448.5 690.9,1452.8 691.5,1457.1 691.9,1461.4 692.3,1465.7 692.6,1470 693.3,1483.4 693.9,1496.8 694.2,1510.3 694.4,1523.7 694.5,1537.1 694.7,1550.5 694.9,1563.9 695.1,1577.4 695.6,1590.8 696.6,1604.2 699.8,1617.6 704.7,1631 707,1644.5 708.1,1657.9 708.7,1671.3 709.2,1684.7 709.6,1698.1 709.9,1711.6 710.1,1725 710.4,1738.4 710.6,1751.8 710.7,1765.2 710.9,1778.7 711,1792.1 711.1,1805.5 711.2,1818.9 711.3,1832.3 711.4,1845.8 711.5,1859.2 711.6,1872.6 711.7,1886 711.8,1899.4 711.9,1912.9 712,1926.3 712.2,1939.7 712.3,1953.1 712.4,1966.5 712.5,1980 712.7,1993.4 712.8,2006.8 712.8,2008.8 42.7,2008.8" fill="#ffffff"/>
</g>
<polyline points="44.7,1334 58.8,1334.1 73,1334.2 87.1,1334.3 101.2,1334.4 115.4,1334.5 129.5,1334.6 143.6,1334.7 157.8,1334.8 171.9,1334.9 186,1335 200.2,1335.1 214.3,1335.2 228.4,1335.3 242.6,1335.4 256.7,1335.5 270.8,1335.7 285,1335.8 299.1,1335.9 313.2,1336 327.3,1336.2 341.5,1336.3 355.6,1336.5 369.7,1336.6 383.9,1336.8 398,1337 412.1,1337.2 426.3,1337.4 440.4,1337.6 454.5,1337.9 468.7,1338.3 482.8,1338.6 496.9,1339 511.1,1339.5 525.2,1340 539.3,1340.6 553.5,1341.1 567.6,1341.7 581.7,1342.4 595.9,1343.4 610,1344.6 616.5,1345.3 623,1346.2 629.4,1347.3 635.8,1348.5 642.2,1349.9 648.5,1351.5 654.9,1353.1 661.2,1355 667.5,1357.1 673.8,1359.5 680.1,1362.1 686.3,1365 692.4,1368.2 698.4,1371.8 703.9,1376.1 708.7,1381.2 712.7,1386.9 716.2,1392.8 719.4,1399 722.1,1405.3 724.3,1411.8 726.3,1418.2 728.1,1424.7 729.7,1431.1 731,1437.6 732.1,1444.1 733,1450.5 733.9,1457 734.6,1463.5 735.3,1470 736.6,1483.4 737.6,1496.8 738.5,1510.3 739.1,1523.7 739.6,1537.1 740,1550.5 740.4,1563.9 740.7,1577.4 741.1,1590.8 741.5,1604.2 741.8,1617.6 742.2,1631 742.6,1644.5 742.9,1657.9 743.2,1671.3 743.5,1684.7 743.8,1698.1 744.1,1711.6 744.4,1725 744.7,1738.4 744.9,1751.8 745.2,1765.2 745.4,1778.7 745.6,1792.1 745.8,1805.5 746,1818.9 746.2,1832.3 746.4,1845.8 746.5,1859.2 746.7,1872.6 746.8,1886 746.9,1899.4 747,1912.9 747.1,1926.3 747.1,1939.7 747.2,1953.1 747.3,1966.5 747.4,1980 747.4,1993.4 747.5,2006.8" fill="none" stroke="#0c2a26" stroke-width="2.6" stroke-dasharray="9.5 8.3" clip-path="url(#clip-c)"/>
<path class="ax" d="M48.7 1236.7H823.8M48.7 1238.1V1222.7M97.1 1238.1V1229.2M145.6 1238.1V1222.7M194 1238.1V1229.2M242.5 1238.1V1222.7M290.9 1238.1V1229.2M339.4 1238.1V1222.7M387.8 1238.1V1229.2M436.2 1238.1V1222.7M484.7 1238.1V1229.2M533.1 1238.1V1222.7M581.6 1238.1V1229.2M630 1238.1V1222.7M678.5 1238.1V1229.2M726.9 1238.1V1222.7M775.4 1238.1V1229.2M823.8 1238.1V1222.7"/>
<path class="ax" style="stroke:#3a3a3a" d="M48.7 1260V2004.2"/>
<path class="ax" d="M47.3 2002.8H823.8M847.5 1258.6V2004.2M846.1 2002.8H861M846.1 1956.4H854.5M846.1 1910H861M846.1 1863.5H854.5M846.1 1817.1H861M846.1 1770.7H854.5M846.1 1724.2H861M846.1 1677.8H854.5M846.1 1631.4H861M846.1 1585H854.5M846.1 1538.5H861M846.1 1492.1H854.5M846.1 1445.7H861M846.1 1399.3H854.5M846.1 1352.8H861M846.1 1306.4H854.5M846.1 1260H861"/>
<text class="tk" x="39.8" y="1203.9" textLength="18.8" lengthAdjust="spacingAndGlyphs">0</text>
<text class="tk" x="872.7" y="2016.4" textLength="18.8" lengthAdjust="spacingAndGlyphs">0</text>
<text class="tk" x="127.2" y="1203.9" textLength="37.8" lengthAdjust="spacingAndGlyphs">10</text>
<text class="tk" x="872.7" y="1923.5" textLength="37.8" lengthAdjust="spacingAndGlyphs">10</text>
<text class="tk" x="224.1" y="1203.9" textLength="37.8" lengthAdjust="spacingAndGlyphs">20</text>
<text class="tk" x="872.7" y="1830.7" textLength="37.8" lengthAdjust="spacingAndGlyphs">20</text>
<text class="tk" x="321" y="1203.9" textLength="37.8" lengthAdjust="spacingAndGlyphs">30</text>
<text class="tk" x="872.7" y="1737.8" textLength="37.8" lengthAdjust="spacingAndGlyphs">30</text>
<text class="tk" x="417.8" y="1203.9" textLength="37.8" lengthAdjust="spacingAndGlyphs">40</text>
<text class="tk" x="872.7" y="1645" textLength="37.8" lengthAdjust="spacingAndGlyphs">40</text>
<text class="tk" x="514.7" y="1203.9" textLength="37.8" lengthAdjust="spacingAndGlyphs">50</text>
<text class="tk" x="872.7" y="1552.1" textLength="37.8" lengthAdjust="spacingAndGlyphs">50</text>
<text class="tk" x="611.6" y="1203.9" textLength="37.8" lengthAdjust="spacingAndGlyphs">60</text>
<text class="tk" x="872.7" y="1459.3" textLength="37.8" lengthAdjust="spacingAndGlyphs">60</text>
<text class="tk" x="708.5" y="1203.9" textLength="37.8" lengthAdjust="spacingAndGlyphs">70</text>
<text class="tk" x="872.7" y="1366.4" textLength="37.8" lengthAdjust="spacingAndGlyphs">70</text>
<text class="tk" x="805.4" y="1203.9" textLength="37.8" lengthAdjust="spacingAndGlyphs">80</text>
<text class="tk" x="872.7" y="1273.6" textLength="37.8" lengthAdjust="spacingAndGlyphs">80</text>
<text class="t" x="437.1" y="1168.4" text-anchor="middle" textLength="218" lengthAdjust="spacingAndGlyphs">X-Width, mm</text>
<text class="t" transform="translate(940.8 1631.4) rotate(-90)" text-anchor="middle" textLength="215" lengthAdjust="spacingAndGlyphs">Y-Width, mm</text>
<text class="cap" x="267" y="2053">(c) <tspan font-style="italic">L</tspan>=1200 mm</text>
<path class="rl" d="M82.5 1258.6H155.6M82.5 1333.6H155.6M120.4 1258.6V1333.6"/>
<path class="rl" d="M767.3 1256.7L831.8 1321.7M796.5 1290L706.4 1378.4M676 1348.5L739.3 1412.5"/>
<text class="r" x="127" y="1307.9" textLength="141.5" lengthAdjust="spacingAndGlyphs">7.89 mm</text>
<text class="r" x="589.3" y="1320" textLength="160.5" lengthAdjust="spacingAndGlyphs">13.63 mm</text>
</g>
<g id="panel-d">
<clipPath id="clip-d"><path d="M1019.5 1260.3L1710.2 1260.3 1710.6 1260.3 1711.3 1260.3 1712.3 1260.4 1713.8 1260.4 1715.2 1260.5 1716.6 1260.6 1718 1260.7 1719.4 1260.8 1720.8 1261 1722.3 1261.2 1723.7 1261.4 1725.1 1261.6 1726.5 1261.9 1727.9 1262.2 1729.3 1262.5 1730.6 1262.8 1732 1263.2 1733.4 1263.5 1734.8 1263.9 1736.1 1264.3 1737.5 1264.8 1738.8 1265.2 1740.2 1265.7 1741.5 1266.2 1742.8 1266.8 1744.1 1267.3 1745.4 1267.9 1746.7 1268.5 1748 1269.2 1749.1 1269.9 1750.2 1270.7 1751.3 1271.6 1752.3 1272.5 1753.3 1273.5 1754.3 1274.4 1755.3 1275.4 1756.3 1276.4 1757.3 1277.4 1758.3 1278.4 1759.3 1279.4 1760.3 1280.4 1761.3 1281.4 1762.3 1282.4 1763.3 1283.4 1764.3 1284.4 1765.3 1285.4 1766.3 1286.4 1767.3 1287.4 1768.3 1288.4 1769.4 1289.5 1770.4 1290.5 1771.4 1291.5 1772.4 1292.5 1773.4 1293.5 1774.4 1294.5 1775.4 1295.5 1776.4 1296.5 1777.4 1297.5 1778.4 1298.5 1779.4 1299.5 1780.4 1300.5 1781.4 1301.5 1782.4 1302.5 1783.4 1303.5 1784.3 1304.5 1785.3 1305.6 1786.1 1306.6 1787 1307.7 1787.7 1308.9 1788.5 1310.1 1789.1 1311.3 1789.7 1312.7 1790.3 1314 1790.8 1315.3 1791.3 1316.6 1791.8 1318 1792.3 1319.3 1792.8 1320.7 1793.2 1322.1 1793.6 1323.5 1794 1324.8 1794.4 1326.2 1794.7 1327.6 1795 1329 1795.3 1330.4 1795.6 1331.8 1795.9 1333.3 1796.1 1334.7 1796.3 1336.1 1796.5 1337.5 1796.7 1339 1796.8 1340.4 1796.9 1341.8 1797 1343.3 1797.1 1344.7 1797.1 1346.1 1797.2 1347.2 1797.2 1347.9 1797.2 1348.3 V2005.6H1019.5Z"/></clipPath>
<path d="M1019.5 1260.3L1710.2 1260.3 1710.6 1260.3 1711.3 1260.3 1712.3 1260.4 1713.8 1260.4 1715.2 1260.5 1716.6 1260.6 1718 1260.7 1719.4 1260.8 1720.8 1261 1722.3 1261.2 1723.7 1261.4 1725.1 1261.6 1726.5 1261.9 1727.9 1262.2 1729.3 1262.5 1730.6 1262.8 1732 1263.2 1733.4 1263.5 1734.8 1263.9 1736.1 1264.3 1737.5 1264.8 1738.8 1265.2 1740.2 1265.7 1741.5 1266.2 1742.8 1266.8 1744.1 1267.3 1745.4 1267.9 1746.7 1268.5 1748 1269.2 1749.1 1269.9 1750.2 1270.7 1751.3 1271.6 1752.3 1272.5 1753.3 1273.5 1754.3 1274.4 1755.3 1275.4 1756.3 1276.4 1757.3 1277.4 1758.3 1278.4 1759.3 1279.4 1760.3 1280.4 1761.3 1281.4 1762.3 1282.4 1763.3 1283.4 1764.3 1284.4 1765.3 1285.4 1766.3 1286.4 1767.3 1287.4 1768.3 1288.4 1769.4 1289.5 1770.4 1290.5 1771.4 1291.5 1772.4 1292.5 1773.4 1293.5 1774.4 1294.5 1775.4 1295.5 1776.4 1296.5 1777.4 1297.5 1778.4 1298.5 1779.4 1299.5 1780.4 1300.5 1781.4 1301.5 1782.4 1302.5 1783.4 1303.5 1784.3 1304.5 1785.3 1305.6 1786.1 1306.6 1787 1307.7 1787.7 1308.9 1788.5 1310.1 1789.1 1311.3 1789.7 1312.7 1790.3 1314 1790.8 1315.3 1791.3 1316.6 1791.8 1318 1792.3 1319.3 1792.8 1320.7 1793.2 1322.1 1793.6 1323.5 1794 1324.8 1794.4 1326.2 1794.7 1327.6 1795 1329 1795.3 1330.4 1795.6 1331.8 1795.9 1333.3 1796.1 1334.7 1796.3 1336.1 1796.5 1337.5 1796.7 1339 1796.8 1340.4 1796.9 1341.8 1797 1343.3 1797.1 1344.7 1797.1 1346.1 1797.2 1347.2 1797.2 1347.9 1797.2 1348.3 V2005.6H1019.5Z" fill="#0000ff"/>
<g clip-path="url(#clip-d)">
<polygon points="1013.5,1329.3 1015.5,1329.3 1029.4,1329.4 1043.2,1329.5 1057.1,1329.7 1071,1329.8 1084.8,1329.9 1098.7,1330 1112.5,1330.1 1126.4,1330.2 1140.3,1330.4 1154.1,1330.5 1168,1330.6 1181.8,1330.8 1195.7,1330.9 1209.6,1331.1 1223.4,1331.2 1237.3,1331.4 1251.2,1331.6 1265,1331.7 1278.9,1331.9 1292.8,1332.1 1306.6,1332.3 1320.5,1332.5 1334.3,1332.8 1348.2,1333 1362.1,1333.3 1375.9,1333.5 1389.8,1333.8 1403.7,1334.2 1417.5,1334.5 1431.4,1334.9 1445.2,1335.4 1459.1,1335.8 1473,1336.3 1486.8,1336.8 1500.7,1337.3 1514.5,1337.7 1528.4,1337.9 1542.3,1338.2 1556.1,1338.9 1570,1340.1 1578.3,1340.9 1586.6,1342 1594.8,1343.3 1603,1344.9 1611.1,1346.6 1619.2,1348.5 1627.4,1350.5 1635.6,1352.7 1643.8,1355.2 1651.8,1358.2 1659.7,1361.9 1667.2,1366.2 1674.4,1371.1 1680.6,1377.1 1686.2,1383.8 1691.2,1390.9 1695.8,1398.2 1699.7,1405.8 1702.7,1413.8 1705.1,1422 1707,1430.2 1708.7,1438.3 1710.2,1446.2 1711.5,1454 1712.7,1461.8 1713.7,1469.4 1714.7,1477.1 1715.4,1484.7 1716,1492.3 1716.3,1500 1716.8,1512.7 1717,1525.5 1717.1,1538.2 1717.3,1551 1717.6,1563.7 1717.9,1576.4 1718.2,1589.2 1718.6,1601.9 1718.9,1614.7 1719.2,1627.4 1719.5,1640.1 1719.8,1652.9 1720.1,1665.6 1720.4,1678.4 1720.7,1691.1 1721,1703.8 1721.2,1716.6 1721.4,1729.3 1721.7,1742.1 1721.9,1754.8 1722.1,1767.5 1722.3,1780.3 1722.5,1793 1722.6,1805.8 1722.8,1818.5 1723,1831.2 1723.1,1844 1723.3,1856.7 1723.4,1869.5 1723.5,1882.2 1723.7,1894.9 1723.8,1907.7 1723.9,1920.4 1724,1933.2 1724.1,1945.9 1724.2,1958.6 1724.3,1971.4 1724.4,1984.1 1724.6,1996.9 1724.7,2009.6 1724.7,2011.6 1013.5,2011.6" fill="#0009ff"/>
<polygon points="1013.5,1330.6 1015.5,1330.6 1029.4,1330.7 1043.2,1330.9 1057.1,1331 1071,1331.1 1084.8,1331.2 1098.7,1331.3 1112.5,1331.5 1126.4,1331.6 1140.3,1331.7 1154.1,1331.8 1168,1331.9 1181.8,1332.1 1195.7,1332.2 1209.6,1332.4 1223.4,1332.5 1237.3,1332.7 1251.2,1332.9 1265,1333.1 1278.9,1333.3 1292.8,1333.5 1306.6,1333.7 1320.5,1333.9 1334.3,1334.1 1348.2,1334.4 1362.1,1334.6 1375.9,1334.9 1389.8,1335.2 1403.7,1335.5 1417.5,1335.9 1431.4,1336.3 1445.2,1336.7 1459.1,1337.1 1473,1337.7 1486.8,1338.2 1500.7,1338.7 1514.5,1339.1 1528.4,1339.4 1542.3,1339.7 1556.1,1340.4 1570,1341.6 1578.3,1342.4 1586.5,1343.5 1594.6,1344.8 1602.7,1346.3 1610.7,1348 1618.8,1349.9 1626.9,1351.9 1635,1354.1 1643.1,1356.6 1651.1,1359.6 1658.8,1363.2 1666.3,1367.5 1673.4,1372.3 1679.6,1378.3 1685.1,1384.9 1690,1391.9 1694.5,1399.2 1698.4,1406.7 1701.3,1414.7 1703.8,1422.8 1705.6,1430.9 1707.2,1438.9 1708.7,1446.8 1710,1454.5 1711.2,1462.2 1712.2,1469.8 1713.1,1477.3 1713.9,1484.9 1714.5,1492.4 1714.8,1500 1715.4,1512.7 1715.5,1525.5 1715.7,1538.2 1715.9,1551 1716.2,1563.7 1716.5,1576.4 1716.9,1589.2 1717.2,1601.9 1717.5,1614.7 1717.8,1627.4 1718.1,1640.1 1718.4,1652.9 1718.7,1665.6 1719,1678.4 1719.3,1691.1 1719.6,1703.8 1719.8,1716.6 1720.1,1729.3 1720.3,1742.1 1720.5,1754.8 1720.7,1767.5 1720.9,1780.3 1721.1,1793 1721.3,1805.8 1721.4,1818.5 1721.6,1831.2 1721.7,1844 1721.9,1856.7 1722,1869.5 1722.2,1882.2 1722.3,1894.9 1722.4,1907.7 1722.5,1920.4 1722.6,1933.2 1722.8,1945.9 1722.9,1958.6 1723,1971.4 1723.1,1984.1 1723.2,1996.9 1723.3,2009.6 1723.3,2011.6 1013.5,2011.6" fill="#001bff"/>
<polygon points="1013.5,1331.9 1015.5,1331.9 1029.4,1332 1043.2,1332.2 1057.1,1332.3 1071,1332.4 1084.8,1332.5 1098.7,1332.7 1112.5,1332.8 1126.4,1332.9 1140.3,1333 1154.1,1333.1 1168,1333.3 1181.8,1333.4 1195.7,1333.6 1209.6,1333.7 1223.4,1333.9 1237.3,1334.1 1251.2,1334.2 1265,1334.4 1278.9,1334.6 1292.8,1334.8 1306.6,1335 1320.5,1335.2 1334.3,1335.5 1348.2,1335.7 1362.1,1336 1375.9,1336.2 1389.8,1336.5 1403.7,1336.9 1417.5,1337.2 1431.4,1337.6 1445.2,1338 1459.1,1338.5 1473,1339 1486.8,1339.5 1500.7,1340.1 1514.5,1340.5 1528.4,1340.8 1542.3,1341.2 1556.1,1341.9 1570,1343.1 1578.2,1343.9 1586.3,1345 1594.3,1346.3 1602.4,1347.8 1610.3,1349.5 1618.3,1351.3 1626.3,1353.3 1634.4,1355.4 1642.4,1357.9 1650.3,1360.9 1658,1364.5 1665.4,1368.7 1672.4,1373.6 1678.5,1379.5 1683.9,1386.1 1688.8,1393 1693.3,1400.2 1697.1,1407.7 1700,1415.6 1702.4,1423.6 1704.2,1431.6 1705.7,1439.6 1707.2,1447.3 1708.5,1455 1709.6,1462.6 1710.6,1470.1 1711.5,1477.6 1712.3,1485 1712.9,1492.5 1713.3,1500 1713.9,1512.7 1714.1,1525.5 1714.3,1538.2 1714.5,1551 1714.8,1563.7 1715.1,1576.4 1715.5,1589.2 1715.8,1601.9 1716.1,1614.7 1716.4,1627.4 1716.8,1640.1 1717.1,1652.9 1717.4,1665.6 1717.6,1678.4 1717.9,1691.1 1718.2,1703.8 1718.4,1716.6 1718.7,1729.3 1718.9,1742.1 1719.1,1754.8 1719.3,1767.5 1719.5,1780.3 1719.7,1793 1719.9,1805.8 1720.1,1818.5 1720.2,1831.2 1720.4,1844 1720.5,1856.7 1720.7,1869.5 1720.8,1882.2 1720.9,1894.9 1721.1,1907.7 1721.2,1920.4 1721.3,1933.2 1721.4,1945.9 1721.5,1958.6 1721.6,1971.4 1721.7,1984.1 1721.8,1996.9 1722,2009.6 1722,2011.6 1013.5,2011.6" fill="#002dff"/>
<polygon points="1013.5,1333.2 1015.5,1333.2 1029.4,1333.4 1043.2,1333.5 1057.1,1333.6 1071,1333.7 1084.8,1333.8 1098.7,1334 1112.5,1334.1 1126.4,1334.2 1140.3,1334.3 1154.1,1334.5 1168,1334.6 1181.8,1334.8 1195.7,1334.9 1209.6,1335.1 1223.4,1335.2 1237.3,1335.4 1251.2,1335.6 1265,1335.8 1278.9,1335.9 1292.8,1336.2 1306.6,1336.4 1320.5,1336.6 1334.3,1336.8 1348.2,1337.1 1362.1,1337.3 1375.9,1337.6 1389.8,1337.9 1403.7,1338.2 1417.5,1338.5 1431.4,1338.9 1445.2,1339.4 1459.1,1339.8 1473,1340.3 1486.8,1340.9 1500.7,1341.4 1514.5,1341.9 1528.4,1342.2 1542.3,1342.7 1556.1,1343.5 1570,1344.6 1578.1,1345.4 1586.1,1346.5 1594.1,1347.7 1602,1349.2 1609.9,1350.9 1617.9,1352.7 1625.8,1354.7 1633.8,1356.8 1641.7,1359.3 1649.5,1362.2 1657.2,1365.8 1664.4,1370 1671.4,1374.8 1677.4,1380.7 1682.8,1387.2 1687.6,1394.1 1692,1401.2 1695.8,1408.6 1698.6,1416.5 1701,1424.4 1702.7,1432.4 1704.3,1440.2 1705.7,1447.9 1707,1455.5 1708.1,1463 1709.1,1470.4 1710,1477.8 1710.8,1485.2 1711.4,1492.6 1711.8,1500 1712.4,1512.7 1712.6,1525.5 1712.9,1538.2 1713.1,1551 1713.4,1563.7 1713.8,1576.4 1714.1,1589.2 1714.4,1601.9 1714.7,1614.7 1715.1,1627.4 1715.4,1640.1 1715.7,1652.9 1716,1665.6 1716.3,1678.4 1716.5,1691.1 1716.8,1703.8 1717.1,1716.6 1717.3,1729.3 1717.5,1742.1 1717.7,1754.8 1717.9,1767.5 1718.1,1780.3 1718.3,1793 1718.5,1805.8 1718.7,1818.5 1718.8,1831.2 1719,1844 1719.2,1856.7 1719.3,1869.5 1719.4,1882.2 1719.6,1894.9 1719.7,1907.7 1719.8,1920.4 1719.9,1933.2 1720,1945.9 1720.1,1958.6 1720.3,1971.4 1720.4,1984.1 1720.5,1996.9 1720.6,2009.6 1720.6,2011.6 1013.5,2011.6" fill="#003eff"/>
<polygon points="1013.5,1334.5 1015.5,1334.5 1029.4,1334.7 1043.2,1334.8 1057.1,1334.9 1071,1335 1084.8,1335.2 1098.7,1335.3 1112.5,1335.4 1126.4,1335.5 1140.3,1335.7 1154.1,1335.8 1168,1335.9 1181.8,1336.1 1195.7,1336.2 1209.6,1336.4 1223.4,1336.6 1237.3,1336.7 1251.2,1336.9 1265,1337.1 1278.9,1337.3 1292.8,1337.5 1306.6,1337.7 1320.5,1337.9 1334.3,1338.2 1348.2,1338.4 1362.1,1338.7 1375.9,1338.9 1389.8,1339.2 1403.7,1339.5 1417.5,1339.9 1431.4,1340.3 1445.2,1340.7 1459.1,1341.2 1473,1341.7 1486.8,1342.2 1500.7,1342.8 1514.5,1343.3 1528.4,1343.7 1542.3,1344.2 1556.1,1345 1570,1346.1 1578,1346.9 1586,1348 1593.9,1349.2 1601.7,1350.7 1609.6,1352.4 1617.4,1354.1 1625.3,1356.1 1633.1,1358.2 1641,1360.6 1648.8,1363.6 1656.3,1367.1 1663.5,1371.3 1670.4,1376 1676.4,1381.9 1681.6,1388.4 1686.4,1395.2 1690.7,1402.2 1694.4,1409.6 1697.3,1417.4 1699.6,1425.2 1701.3,1433.1 1702.8,1440.9 1704.2,1448.5 1705.4,1456 1706.6,1463.4 1707.6,1470.8 1708.4,1478.1 1709.2,1485.4 1709.8,1492.7 1710.2,1500 1710.9,1512.7 1711.2,1525.5 1711.4,1538.2 1711.7,1551 1712,1563.7 1712.4,1576.4 1712.7,1589.2 1713,1601.9 1713.4,1614.7 1713.7,1627.4 1714,1640.1 1714.3,1652.9 1714.6,1665.6 1714.9,1678.4 1715.2,1691.1 1715.4,1703.8 1715.7,1716.6 1715.9,1729.3 1716.1,1742.1 1716.4,1754.8 1716.6,1767.5 1716.8,1780.3 1716.9,1793 1717.1,1805.8 1717.3,1818.5 1717.5,1831.2 1717.6,1844 1717.8,1856.7 1717.9,1869.5 1718.1,1882.2 1718.2,1894.9 1718.3,1907.7 1718.4,1920.4 1718.5,1933.2 1718.7,1945.9 1718.8,1958.6 1718.9,1971.4 1719,1984.1 1719.1,1996.9 1719.2,2009.6 1719.2,2011.6 1013.5,2011.6" fill="#0050ff"/>
<polygon points="1013.5,1335.8 1015.5,1335.8 1029.4,1336 1043.2,1336.1 1057.1,1336.2 1071,1336.4 1084.8,1336.5 1098.7,1336.6 1112.5,1336.7 1126.4,1336.9 1140.3,1337 1154.1,1337.1 1168,1337.3 1181.8,1337.4 1195.7,1337.6 1209.6,1337.7 1223.4,1337.9 1237.3,1338.1 1251.2,1338.3 1265,1338.4 1278.9,1338.6 1292.8,1338.8 1306.6,1339.1 1320.5,1339.3 1334.3,1339.5 1348.2,1339.7 1362.1,1340 1375.9,1340.3 1389.8,1340.6 1403.7,1340.9 1417.5,1341.2 1431.4,1341.6 1445.2,1342 1459.1,1342.5 1473,1343 1486.8,1343.5 1500.7,1344.1 1514.5,1344.7 1528.4,1345.1 1542.3,1345.6 1556.1,1346.5 1570,1347.7 1577.9,1348.4 1585.8,1349.5 1593.6,1350.7 1601.4,1352.2 1609.2,1353.8 1616.9,1355.6 1624.7,1357.5 1632.5,1359.6 1640.3,1362 1648,1364.9 1655.5,1368.4 1662.6,1372.5 1669.4,1377.3 1675.3,1383.1 1680.5,1389.5 1685.2,1396.2 1689.5,1403.2 1693.1,1410.5 1695.9,1418.2 1698.2,1426 1699.9,1433.8 1701.4,1441.5 1702.7,1449.1 1703.9,1456.5 1705,1463.8 1706,1471.1 1706.9,1478.3 1707.6,1485.5 1708.3,1492.8 1708.7,1500 1709.4,1512.7 1709.7,1525.5 1710,1538.2 1710.3,1551 1710.6,1563.7 1711,1576.4 1711.3,1589.2 1711.6,1601.9 1712,1614.7 1712.3,1627.4 1712.6,1640.1 1712.9,1652.9 1713.2,1665.6 1713.5,1678.4 1713.8,1691.1 1714.1,1703.8 1714.3,1716.6 1714.5,1729.3 1714.8,1742.1 1715,1754.8 1715.2,1767.5 1715.4,1780.3 1715.6,1793 1715.8,1805.8 1715.9,1818.5 1716.1,1831.2 1716.2,1844 1716.4,1856.7 1716.5,1869.5 1716.7,1882.2 1716.8,1894.9 1716.9,1907.7 1717.1,1920.4 1717.2,1933.2 1717.3,1945.9 1717.4,1958.6 1717.5,1971.4 1717.7,1984.1 1717.8,1996.9 1717.9,2009.6 1717.9,2011.6 1013.5,2011.6" fill="#0062ff"/>
<polygon points="1013.5,1337.2 1015.5,1337.2 1029.4,1337.3 1043.2,1337.4 1057.1,1337.5 1071,1337.7 1084.8,1337.8 1098.7,1337.9 1112.5,1338.1 1126.4,1338.2 1140.3,1338.3 1154.1,1338.5 1168,1338.6 1181.8,1338.8 1195.7,1338.9 1209.6,1339.1 1223.4,1339.2 1237.3,1339.4 1251.2,1339.6 1265,1339.8 1278.9,1340 1292.8,1340.2 1306.6,1340.4 1320.5,1340.6 1334.3,1340.8 1348.2,1341.1 1362.1,1341.3 1375.9,1341.6 1389.8,1341.9 1403.7,1342.2 1417.5,1342.6 1431.4,1343 1445.2,1343.4 1459.1,1343.8 1473,1344.3 1486.8,1344.9 1500.7,1345.5 1514.5,1346.1 1528.4,1346.6 1542.3,1347.1 1556.1,1348 1570,1349.2 1577.9,1349.9 1585.7,1351 1593.4,1352.2 1601.1,1353.6 1608.8,1355.2 1616.5,1357 1624.2,1358.9 1631.9,1360.9 1639.6,1363.3 1647.2,1366.2 1654.6,1369.7 1661.7,1373.8 1668.4,1378.5 1674.2,1384.2 1679.4,1390.6 1684,1397.3 1688.2,1404.3 1691.8,1411.5 1694.6,1419.1 1696.8,1426.8 1698.4,1434.6 1699.9,1442.2 1701.2,1449.6 1702.4,1457 1703.5,1464.2 1704.5,1471.4 1705.3,1478.6 1706.1,1485.7 1706.7,1492.8 1707.2,1500 1707.9,1512.7 1708.3,1525.5 1708.6,1538.2 1708.9,1551 1709.2,1563.7 1709.6,1576.4 1709.9,1589.2 1710.3,1601.9 1710.6,1614.7 1710.9,1627.4 1711.2,1640.1 1711.5,1652.9 1711.8,1665.6 1712.1,1678.4 1712.4,1691.1 1712.7,1703.8 1712.9,1716.6 1713.2,1729.3 1713.4,1742.1 1713.6,1754.8 1713.8,1767.5 1714,1780.3 1714.2,1793 1714.4,1805.8 1714.6,1818.5 1714.7,1831.2 1714.9,1844 1715,1856.7 1715.2,1869.5 1715.3,1882.2 1715.5,1894.9 1715.6,1907.7 1715.7,1920.4 1715.8,1933.2 1715.9,1945.9 1716.1,1958.6 1716.2,1971.4 1716.3,1984.1 1716.4,1996.9 1716.5,2009.6 1716.5,2011.6 1013.5,2011.6" fill="#0074ff"/>
<polygon points="1013.5,1338.5 1015.5,1338.5 1029.4,1338.6 1043.2,1338.7 1057.1,1338.9 1071,1339 1084.8,1339.1 1098.7,1339.3 1112.5,1339.4 1126.4,1339.5 1140.3,1339.7 1154.1,1339.8 1168,1339.9 1181.8,1340.1 1195.7,1340.2 1209.6,1340.4 1223.4,1340.6 1237.3,1340.7 1251.2,1340.9 1265,1341.1 1278.9,1341.3 1292.8,1341.5 1306.6,1341.7 1320.5,1342 1334.3,1342.2 1348.2,1342.4 1362.1,1342.7 1375.9,1342.9 1389.8,1343.3 1403.7,1343.6 1417.5,1343.9 1431.4,1344.3 1445.2,1344.7 1459.1,1345.2 1473,1345.7 1486.8,1346.2 1500.7,1346.9 1514.5,1347.4 1528.4,1348 1542.3,1348.6 1556.1,1349.5 1570,1350.7 1577.8,1351.5 1585.5,1352.5 1593.2,1353.7 1600.8,1355.1 1608.4,1356.7 1616,1358.4 1623.6,1360.3 1631.3,1362.3 1638.9,1364.7 1646.5,1367.5 1653.8,1371 1660.8,1375.1 1667.4,1379.7 1673.2,1385.4 1678.2,1391.8 1682.8,1398.4 1687,1405.3 1690.5,1412.4 1693.2,1420 1695.4,1427.6 1697,1435.3 1698.4,1442.8 1699.7,1450.2 1700.9,1457.5 1702,1464.6 1702.9,1471.8 1703.8,1478.8 1704.5,1485.9 1705.2,1492.9 1705.7,1500 1706.4,1512.7 1706.9,1525.5 1707.2,1538.2 1707.5,1551 1707.9,1563.7 1708.2,1576.4 1708.5,1589.2 1708.9,1601.9 1709.2,1614.7 1709.5,1627.4 1709.9,1640.1 1710.2,1652.9 1710.5,1665.6 1710.7,1678.4 1711,1691.1 1711.3,1703.8 1711.5,1716.6 1711.8,1729.3 1712,1742.1 1712.2,1754.8 1712.4,1767.5 1712.6,1780.3 1712.8,1793 1713,1805.8 1713.2,1818.5 1713.3,1831.2 1713.5,1844 1713.7,1856.7 1713.8,1869.5 1713.9,1882.2 1714.1,1894.9 1714.2,1907.7 1714.3,1920.4 1714.5,1933.2 1714.6,1945.9 1714.7,1958.6 1714.8,1971.4 1714.9,1984.1 1715.1,1996.9 1715.2,2009.6 1715.2,2011.6 1013.5,2011.6" fill="#008fff"/>
<polygon points="1013.5,1339.8 1015.5,1339.8 1029.4,1339.9 1043.2,1340 1057.1,1340.2 1071,1340.3 1084.8,1340.4 1098.7,1340.6 1112.5,1340.7 1126.4,1340.8 1140.3,1341 1154.1,1341.1 1168,1341.3 1181.8,1341.4 1195.7,1341.6 1209.6,1341.7 1223.4,1341.9 1237.3,1342.1 1251.2,1342.3 1265,1342.5 1278.9,1342.7 1292.8,1342.9 1306.6,1343.1 1320.5,1343.3 1334.3,1343.5 1348.2,1343.8 1362.1,1344 1375.9,1344.3 1389.8,1344.6 1403.7,1344.9 1417.5,1345.2 1431.4,1345.6 1445.2,1346 1459.1,1346.5 1473,1347 1486.8,1347.6 1500.7,1348.2 1514.5,1348.8 1528.4,1349.4 1542.3,1350.1 1556.1,1351 1570,1352.2 1577.7,1353 1585.3,1354 1592.9,1355.2 1600.5,1356.6 1608,1358.1 1615.5,1359.8 1623.1,1361.7 1630.7,1363.7 1638.3,1366 1645.7,1368.9 1652.9,1372.3 1659.8,1376.3 1666.4,1380.9 1672.1,1386.6 1677.1,1392.9 1681.6,1399.5 1685.7,1406.3 1689.2,1413.4 1691.8,1420.9 1694,1428.4 1695.6,1436 1697,1443.5 1698.2,1450.8 1699.4,1458 1700.4,1465.1 1701.4,1472.1 1702.2,1479.1 1703,1486 1703.6,1493 1704.1,1500 1705,1512.7 1705.4,1525.5 1705.8,1538.2 1706.1,1551 1706.5,1563.7 1706.8,1576.4 1707.2,1589.2 1707.5,1601.9 1707.8,1614.7 1708.2,1627.4 1708.5,1640.1 1708.8,1652.9 1709.1,1665.6 1709.4,1678.4 1709.6,1691.1 1709.9,1703.8 1710.2,1716.6 1710.4,1729.3 1710.6,1742.1 1710.8,1754.8 1711.1,1767.5 1711.3,1780.3 1711.4,1793 1711.6,1805.8 1711.8,1818.5 1712,1831.2 1712.1,1844 1712.3,1856.7 1712.4,1869.5 1712.6,1882.2 1712.7,1894.9 1712.8,1907.7 1713,1920.4 1713.1,1933.2 1713.2,1945.9 1713.3,1958.6 1713.5,1971.4 1713.6,1984.1 1713.7,1996.9 1713.8,2009.6 1713.8,2011.6 1013.5,2011.6" fill="#00adff"/>
<polygon points="1013.5,1341.1 1015.5,1341.1 1029.4,1341.2 1043.2,1341.4 1057.1,1341.5 1071,1341.6 1084.8,1341.8 1098.7,1341.9 1112.5,1342 1126.4,1342.2 1140.3,1342.3 1154.1,1342.4 1168,1342.6 1181.8,1342.7 1195.7,1342.9 1209.6,1343.1 1223.4,1343.2 1237.3,1343.4 1251.2,1343.6 1265,1343.8 1278.9,1344 1292.8,1344.2 1306.6,1344.4 1320.5,1344.6 1334.3,1344.9 1348.2,1345.1 1362.1,1345.4 1375.9,1345.6 1389.8,1345.9 1403.7,1346.3 1417.5,1346.6 1431.4,1347 1445.2,1347.4 1459.1,1347.8 1473,1348.3 1486.8,1348.9 1500.7,1349.6 1514.5,1350.2 1528.4,1350.9 1542.3,1351.6 1556.1,1352.5 1570,1353.7 1577.6,1354.5 1585.2,1355.5 1592.7,1356.7 1600.2,1358 1607.6,1359.6 1615.1,1361.2 1622.6,1363 1630.1,1365.1 1637.6,1367.4 1644.9,1370.2 1652.1,1373.6 1658.9,1377.6 1665.4,1382.2 1671,1387.8 1676,1394 1680.4,1400.6 1684.5,1407.3 1687.9,1414.3 1690.5,1421.8 1692.6,1429.2 1694.2,1436.7 1695.5,1444.1 1696.7,1451.3 1697.9,1458.4 1698.9,1465.5 1699.8,1472.4 1700.6,1479.3 1701.4,1486.2 1702.1,1493.1 1702.6,1500 1703.5,1512.7 1704,1525.5 1704.3,1538.2 1704.7,1551 1705.1,1563.7 1705.4,1576.4 1705.8,1589.2 1706.1,1601.9 1706.4,1614.7 1706.8,1627.4 1707.1,1640.1 1707.4,1652.9 1707.7,1665.6 1708,1678.4 1708.3,1691.1 1708.5,1703.8 1708.8,1716.6 1709,1729.3 1709.3,1742.1 1709.5,1754.8 1709.7,1767.5 1709.9,1780.3 1710.1,1793 1710.2,1805.8 1710.4,1818.5 1710.6,1831.2 1710.8,1844 1710.9,1856.7 1711.1,1869.5 1711.2,1882.2 1711.3,1894.9 1711.5,1907.7 1711.6,1920.4 1711.7,1933.2 1711.8,1945.9 1712,1958.6 1712.1,1971.4 1712.2,1984.1 1712.3,1996.9 1712.5,2009.6 1712.5,2011.6 1013.5,2011.6" fill="#00caff"/>
<polygon points="1013.5,1342.4 1015.5,1342.4 1029.4,1342.5 1043.2,1342.7 1057.1,1342.8 1071,1342.9 1084.8,1343.1 1098.7,1343.2 1112.5,1343.4 1126.4,1343.5 1140.3,1343.6 1154.1,1343.8 1168,1343.9 1181.8,1344.1 1195.7,1344.2 1209.6,1344.4 1223.4,1344.6 1237.3,1344.8 1251.2,1344.9 1265,1345.1 1278.9,1345.3 1292.8,1345.6 1306.6,1345.8 1320.5,1346 1334.3,1346.2 1348.2,1346.5 1362.1,1346.7 1375.9,1347 1389.8,1347.3 1403.7,1347.6 1417.5,1347.9 1431.4,1348.3 1445.2,1348.7 1459.1,1349.2 1473,1349.7 1486.8,1350.2 1500.7,1350.9 1514.5,1351.6 1528.4,1352.3 1542.3,1353.1 1556.1,1354 1570,1355.3 1577.5,1356 1585,1357 1592.5,1358.1 1599.9,1359.5 1607.2,1361 1614.6,1362.7 1622,1364.4 1629.5,1366.4 1636.9,1368.7 1644.2,1371.5 1651.2,1374.9 1658,1378.9 1664.4,1383.4 1670,1389 1674.8,1395.2 1679.2,1401.6 1683.2,1408.3 1686.6,1415.3 1689.1,1422.6 1691.2,1430 1692.7,1437.5 1694,1444.8 1695.3,1451.9 1696.4,1458.9 1697.4,1465.9 1698.3,1472.7 1699.1,1479.6 1699.8,1486.4 1700.5,1493.2 1701.1,1500 1702,1512.7 1702.5,1525.5 1702.9,1538.2 1703.3,1551 1703.7,1563.7 1704,1576.4 1704.4,1589.2 1704.7,1601.9 1705.1,1614.7 1705.4,1627.4 1705.7,1640.1 1706,1652.9 1706.3,1665.6 1706.6,1678.4 1706.9,1691.1 1707.2,1703.8 1707.4,1716.6 1707.6,1729.3 1707.9,1742.1 1708.1,1754.8 1708.3,1767.5 1708.5,1780.3 1708.7,1793 1708.9,1805.8 1709.1,1818.5 1709.2,1831.2 1709.4,1844 1709.5,1856.7 1709.7,1869.5 1709.8,1882.2 1710,1894.9 1710.1,1907.7 1710.2,1920.4 1710.4,1933.2 1710.5,1945.9 1710.6,1958.6 1710.7,1971.4 1710.9,1984.1 1711,1996.9 1711.1,2009.6 1711.1,2011.6 1013.5,2011.6" fill="#00e8ff"/>
<polygon points="1013.5,1343.7 1015.5,1343.7 1029.4,1343.8 1043.2,1344 1057.1,1344.1 1071,1344.3 1084.8,1344.4 1098.7,1344.5 1112.5,1344.7 1126.4,1344.8 1140.3,1345 1154.1,1345.1 1168,1345.2 1181.8,1345.4 1195.7,1345.6 1209.6,1345.7 1223.4,1345.9 1237.3,1346.1 1251.2,1346.3 1265,1346.5 1278.9,1346.7 1292.8,1346.9 1306.6,1347.1 1320.5,1347.3 1334.3,1347.6 1348.2,1347.8 1362.1,1348.1 1375.9,1348.3 1389.8,1348.6 1403.7,1348.9 1417.5,1349.3 1431.4,1349.7 1445.2,1350 1459.1,1350.5 1473,1351 1486.8,1351.6 1500.7,1352.3 1514.5,1353 1528.4,1353.7 1542.3,1354.5 1556.1,1355.5 1570,1356.8 1577.5,1357.5 1584.9,1358.5 1592.2,1359.6 1599.6,1361 1606.9,1362.5 1614.2,1364.1 1621.5,1365.8 1628.9,1367.8 1636.2,1370.1 1643.4,1372.8 1650.4,1376.2 1657.1,1380.2 1663.4,1384.6 1668.9,1390.2 1673.7,1396.3 1678,1402.7 1682,1409.3 1685.3,1416.2 1687.8,1423.5 1689.8,1430.8 1691.3,1438.2 1692.6,1445.4 1693.8,1452.5 1694.9,1459.4 1695.8,1466.3 1696.7,1473.1 1697.5,1479.8 1698.3,1486.5 1699,1493.2 1699.6,1500 1700.5,1512.7 1701.1,1525.5 1701.5,1538.2 1701.9,1551 1702.3,1563.7 1702.6,1576.4 1703,1589.2 1703.3,1601.9 1703.7,1614.7 1704,1627.4 1704.3,1640.1 1704.6,1652.9 1705,1665.6 1705.2,1678.4 1705.5,1691.1 1705.8,1703.8 1706,1716.6 1706.3,1729.3 1706.5,1742.1 1706.7,1754.8 1706.9,1767.5 1707.1,1780.3 1707.3,1793 1707.5,1805.8 1707.7,1818.5 1707.8,1831.2 1708,1844 1708.2,1856.7 1708.3,1869.5 1708.5,1882.2 1708.6,1894.9 1708.7,1907.7 1708.9,1920.4 1709,1933.2 1709.1,1945.9 1709.2,1958.6 1709.4,1971.4 1709.5,1984.1 1709.6,1996.9 1709.7,2009.6 1709.7,2011.6 1013.5,2011.6" fill="#00fff8"/>
<polygon points="1013.5,1345 1015.5,1345 1029.4,1345.2 1043.2,1345.3 1057.1,1345.4 1071,1345.6 1084.8,1345.7 1098.7,1345.9 1112.5,1346 1126.4,1346.1 1140.3,1346.3 1154.1,1346.4 1168,1346.6 1181.8,1346.7 1195.7,1346.9 1209.6,1347.1 1223.4,1347.2 1237.3,1347.4 1251.2,1347.6 1265,1347.8 1278.9,1348 1292.8,1348.2 1306.6,1348.5 1320.5,1348.7 1334.3,1348.9 1348.2,1349.2 1362.1,1349.4 1375.9,1349.7 1389.8,1350 1403.7,1350.3 1417.5,1350.6 1431.4,1351 1445.2,1351.4 1459.1,1351.8 1473,1352.3 1486.8,1352.9 1500.7,1353.7 1514.5,1354.4 1528.4,1355.2 1542.3,1356 1556.1,1357.1 1570,1358.3 1577.4,1359 1584.7,1360 1592,1361.1 1599.2,1362.4 1606.5,1363.9 1613.7,1365.5 1621,1367.2 1628.2,1369.2 1635.5,1371.4 1642.6,1374.2 1649.6,1377.5 1656.2,1381.4 1662.4,1385.9 1667.8,1391.4 1672.6,1397.4 1676.9,1403.8 1680.7,1410.4 1684,1417.2 1686.4,1424.4 1688.4,1431.6 1689.9,1438.9 1691.1,1446.1 1692.3,1453.1 1693.3,1459.9 1694.3,1466.7 1695.2,1473.4 1696,1480 1696.7,1486.7 1697.4,1493.3 1698,1500 1699,1512.7 1699.6,1525.5 1700.1,1538.2 1700.5,1551 1700.9,1563.7 1701.2,1576.4 1701.6,1589.2 1702,1601.9 1702.3,1614.7 1702.6,1627.4 1703,1640.1 1703.3,1652.9 1703.6,1665.6 1703.9,1678.4 1704.1,1691.1 1704.4,1703.8 1704.6,1716.6 1704.9,1729.3 1705.1,1742.1 1705.3,1754.8 1705.5,1767.5 1705.7,1780.3 1705.9,1793 1706.1,1805.8 1706.3,1818.5 1706.5,1831.2 1706.6,1844 1706.8,1856.7 1706.9,1869.5 1707.1,1882.2 1707.2,1894.9 1707.4,1907.7 1707.5,1920.4 1707.6,1933.2 1707.8,1945.9 1707.9,1958.6 1708,1971.4 1708.1,1984.1 1708.3,1996.9 1708.4,2009.6 1708.4,2011.6 1013.5,2011.6" fill="#00ffd8"/>
<polygon points="1013.5,1346.3 1015.5,1346.3 1029.4,1346.5 1043.2,1346.6 1057.1,1346.7 1071,1346.9 1084.8,1347 1098.7,1347.2 1112.5,1347.3 1126.4,1347.5 1140.3,1347.6 1154.1,1347.8 1168,1347.9 1181.8,1348.1 1195.7,1348.2 1209.6,1348.4 1223.4,1348.6 1237.3,1348.8 1251.2,1349 1265,1349.2 1278.9,1349.4 1292.8,1349.6 1306.6,1349.8 1320.5,1350 1334.3,1350.3 1348.2,1350.5 1362.1,1350.8 1375.9,1351 1389.8,1351.3 1403.7,1351.6 1417.5,1351.9 1431.4,1352.3 1445.2,1352.7 1459.1,1353.2 1473,1353.7 1486.8,1354.3 1500.7,1355 1514.5,1355.8 1528.4,1356.6 1542.3,1357.5 1556.1,1358.6 1570,1359.8 1577.3,1360.5 1584.6,1361.5 1591.8,1362.6 1598.9,1363.9 1606.1,1365.3 1613.2,1366.9 1620.4,1368.6 1627.6,1370.6 1634.8,1372.8 1641.9,1375.5 1648.7,1378.8 1655.2,1382.7 1661.4,1387.1 1666.8,1392.5 1671.4,1398.6 1675.7,1404.9 1679.4,1411.4 1682.7,1418.1 1685.1,1425.3 1687,1432.5 1688.4,1439.7 1689.7,1446.7 1690.8,1453.6 1691.8,1460.4 1692.8,1467.1 1693.6,1473.7 1694.4,1480.3 1695.2,1486.8 1695.9,1493.4 1696.5,1500 1697.5,1512.7 1698.2,1525.5 1698.7,1538.2 1699.1,1551 1699.5,1563.7 1699.9,1576.4 1700.2,1589.2 1700.6,1601.9 1700.9,1614.7 1701.3,1627.4 1701.6,1640.1 1701.9,1652.9 1702.2,1665.6 1702.5,1678.4 1702.8,1691.1 1703,1703.8 1703.3,1716.6 1703.5,1729.3 1703.7,1742.1 1704,1754.8 1704.2,1767.5 1704.4,1780.3 1704.6,1793 1704.7,1805.8 1704.9,1818.5 1705.1,1831.2 1705.3,1844 1705.4,1856.7 1705.6,1869.5 1705.7,1882.2 1705.9,1894.9 1706,1907.7 1706.1,1920.4 1706.3,1933.2 1706.4,1945.9 1706.5,1958.6 1706.6,1971.4 1706.8,1984.1 1706.9,1996.9 1707,2009.6 1707,2011.6 1013.5,2011.6" fill="#00ffb8"/>
<polygon points="1013.5,1347.6 1015.5,1347.6 1029.4,1347.8 1043.2,1347.9 1057.1,1348.1 1071,1348.2 1084.8,1348.4 1098.7,1348.5 1112.5,1348.6 1126.4,1348.8 1140.3,1348.9 1154.1,1349.1 1168,1349.2 1181.8,1349.4 1195.7,1349.6 1209.6,1349.7 1223.4,1349.9 1237.3,1350.1 1251.2,1350.3 1265,1350.5 1278.9,1350.7 1292.8,1350.9 1306.6,1351.1 1320.5,1351.4 1334.3,1351.6 1348.2,1351.9 1362.1,1352.1 1375.9,1352.4 1389.8,1352.7 1403.7,1353 1417.5,1353.3 1431.4,1353.7 1445.2,1354.1 1459.1,1354.5 1473,1355 1486.8,1355.6 1500.7,1356.4 1514.5,1357.2 1528.4,1358.1 1542.3,1359 1556.1,1360.1 1570,1361.3 1577.2,1362.1 1584.4,1363 1591.5,1364.1 1598.6,1365.3 1605.7,1366.8 1612.8,1368.3 1619.9,1370 1627,1371.9 1634.1,1374.1 1641.1,1376.8 1647.9,1380.1 1654.3,1384 1660.4,1388.3 1665.7,1393.7 1670.3,1399.7 1674.5,1405.9 1678.2,1412.4 1681.4,1419.1 1683.7,1426.2 1685.6,1433.3 1687,1440.4 1688.2,1447.4 1689.3,1454.2 1690.3,1460.9 1691.2,1467.5 1692.1,1474.1 1692.9,1480.5 1693.6,1487 1694.3,1493.5 1695,1500 1696,1512.7 1696.7,1525.5 1697.2,1538.2 1697.7,1551 1698.1,1563.7 1698.5,1576.4 1698.8,1589.2 1699.2,1601.9 1699.5,1614.7 1699.9,1627.4 1700.2,1640.1 1700.5,1652.9 1700.8,1665.6 1701.1,1678.4 1701.4,1691.1 1701.6,1703.8 1701.9,1716.6 1702.1,1729.3 1702.4,1742.1 1702.6,1754.8 1702.8,1767.5 1703,1780.3 1703.2,1793 1703.4,1805.8 1703.5,1818.5 1703.7,1831.2 1703.9,1844 1704,1856.7 1704.2,1869.5 1704.3,1882.2 1704.5,1894.9 1704.6,1907.7 1704.8,1920.4 1704.9,1933.2 1705,1945.9 1705.2,1958.6 1705.3,1971.4 1705.4,1984.1 1705.5,1996.9 1705.7,2009.6 1705.7,2011.6 1013.5,2011.6" fill="#00ff97"/>
<polygon points="1013.5,1348.9 1015.5,1348.9 1029.4,1349.1 1043.2,1349.2 1057.1,1349.4 1071,1349.5 1084.8,1349.7 1098.7,1349.8 1112.5,1350 1126.4,1350.1 1140.3,1350.3 1154.1,1350.4 1168,1350.6 1181.8,1350.7 1195.7,1350.9 1209.6,1351.1 1223.4,1351.3 1237.3,1351.4 1251.2,1351.6 1265,1351.8 1278.9,1352 1292.8,1352.3 1306.6,1352.5 1320.5,1352.7 1334.3,1353 1348.2,1353.2 1362.1,1353.5 1375.9,1353.7 1389.8,1354 1403.7,1354.3 1417.5,1354.6 1431.4,1355 1445.2,1355.4 1459.1,1355.8 1473,1356.3 1486.8,1357 1500.7,1357.7 1514.5,1358.6 1528.4,1359.5 1542.3,1360.5 1556.1,1361.6 1570,1362.9 1577.2,1363.6 1584.2,1364.5 1591.3,1365.6 1598.3,1366.8 1605.3,1368.2 1612.3,1369.8 1619.3,1371.4 1626.4,1373.3 1633.4,1375.5 1640.3,1378.2 1647,1381.4 1653.4,1385.2 1659.4,1389.6 1664.6,1394.9 1669.2,1400.8 1673.3,1407 1676.9,1413.4 1680,1420 1682.4,1427 1684.2,1434.1 1685.6,1441.1 1686.7,1448 1687.8,1454.8 1688.8,1461.4 1689.7,1467.9 1690.5,1474.4 1691.3,1480.8 1692.1,1487.2 1692.8,1493.6 1693.5,1500 1694.6,1512.7 1695.3,1525.5 1695.8,1538.2 1696.3,1551 1696.7,1563.7 1697.1,1576.4 1697.5,1589.2 1697.8,1601.9 1698.2,1614.7 1698.5,1627.4 1698.8,1640.1 1699.1,1652.9 1699.4,1665.6 1699.7,1678.4 1700,1691.1 1700.3,1703.8 1700.5,1716.6 1700.8,1729.3 1701,1742.1 1701.2,1754.8 1701.4,1767.5 1701.6,1780.3 1701.8,1793 1702,1805.8 1702.2,1818.5 1702.3,1831.2 1702.5,1844 1702.7,1856.7 1702.8,1869.5 1703,1882.2 1703.1,1894.9 1703.3,1907.7 1703.4,1920.4 1703.5,1933.2 1703.7,1945.9 1703.8,1958.6 1703.9,1971.4 1704.1,1984.1 1704.2,1996.9 1704.3,2009.6 1704.3,2011.6 1013.5,2011.6" fill="#00ff77"/>
<polygon points="1013.5,1350.2 1015.5,1350.2 1029.4,1350.4 1043.2,1350.5 1057.1,1350.7 1071,1350.8 1084.8,1351 1098.7,1351.1 1112.5,1351.3 1126.4,1351.4 1140.3,1351.6 1154.1,1351.7 1168,1351.9 1181.8,1352.1 1195.7,1352.2 1209.6,1352.4 1223.4,1352.6 1237.3,1352.8 1251.2,1353 1265,1353.2 1278.9,1353.4 1292.8,1353.6 1306.6,1353.8 1320.5,1354.1 1334.3,1354.3 1348.2,1354.6 1362.1,1354.8 1375.9,1355.1 1389.8,1355.4 1403.7,1355.7 1417.5,1356 1431.4,1356.3 1445.2,1356.7 1459.1,1357.2 1473,1357.7 1486.8,1358.3 1500.7,1359.1 1514.5,1360 1528.4,1360.9 1542.3,1361.9 1556.1,1363.1 1570,1364.4 1577.1,1365.1 1584.1,1366 1591.1,1367 1598,1368.3 1604.9,1369.7 1611.9,1371.2 1618.8,1372.8 1625.8,1374.7 1632.7,1376.9 1639.6,1379.5 1646.2,1382.7 1652.5,1386.5 1658.4,1390.8 1663.6,1396.1 1668,1402 1672.1,1408.1 1675.7,1414.4 1678.7,1421 1681,1427.9 1682.8,1434.9 1684.1,1441.8 1685.3,1448.7 1686.3,1455.4 1687.3,1461.9 1688.2,1468.3 1689,1474.7 1689.7,1481 1690.5,1487.3 1691.2,1493.6 1691.9,1500 1693.1,1512.7 1693.8,1525.5 1694.4,1538.2 1694.9,1551 1695.3,1563.7 1695.7,1576.4 1696.1,1589.2 1696.4,1601.9 1696.8,1614.7 1697.1,1627.4 1697.4,1640.1 1697.8,1652.9 1698.1,1665.6 1698.3,1678.4 1698.6,1691.1 1698.9,1703.8 1699.1,1716.6 1699.4,1729.3 1699.6,1742.1 1699.8,1754.8 1700,1767.5 1700.2,1780.3 1700.4,1793 1700.6,1805.8 1700.8,1818.5 1701,1831.2 1701.1,1844 1701.3,1856.7 1701.5,1869.5 1701.6,1882.2 1701.8,1894.9 1701.9,1907.7 1702,1920.4 1702.2,1933.2 1702.3,1945.9 1702.4,1958.6 1702.6,1971.4 1702.7,1984.1 1702.8,1996.9 1703,2009.6 1703,2011.6 1013.5,2011.6" fill="#00ff57"/>
<polygon points="1013.5,1351.6 1015.5,1351.6 1029.4,1351.7 1043.2,1351.9 1057.1,1352 1071,1352.2 1084.8,1352.3 1098.7,1352.5 1112.5,1352.6 1126.4,1352.8 1140.3,1352.9 1154.1,1353.1 1168,1353.2 1181.8,1353.4 1195.7,1353.6 1209.6,1353.7 1223.4,1353.9 1237.3,1354.1 1251.2,1354.3 1265,1354.5 1278.9,1354.7 1292.8,1355 1306.6,1355.2 1320.5,1355.4 1334.3,1355.6 1348.2,1355.9 1362.1,1356.1 1375.9,1356.4 1389.8,1356.7 1403.7,1357 1417.5,1357.3 1431.4,1357.7 1445.2,1358.1 1459.1,1358.5 1473,1359 1486.8,1359.6 1500.7,1360.5 1514.5,1361.4 1528.4,1362.4 1542.3,1363.4 1556.1,1364.6 1570,1365.9 1577,1366.6 1583.9,1367.5 1590.8,1368.5 1597.7,1369.7 1604.5,1371.1 1611.4,1372.6 1618.3,1374.2 1625.2,1376.1 1632.1,1378.2 1638.8,1380.8 1645.3,1384 1651.6,1387.8 1657.4,1392 1662.5,1397.3 1666.9,1403.1 1670.9,1409.2 1674.4,1415.4 1677.4,1421.9 1679.6,1428.8 1681.4,1435.7 1682.7,1442.6 1683.8,1449.3 1684.8,1455.9 1685.8,1462.4 1686.6,1468.8 1687.4,1475 1688.2,1481.3 1688.9,1487.5 1689.7,1493.7 1690.4,1500 1691.6,1512.7 1692.4,1525.5 1693,1538.2 1693.5,1551 1693.9,1563.7 1694.3,1576.4 1694.7,1589.2 1695,1601.9 1695.4,1614.7 1695.7,1627.4 1696.1,1640.1 1696.4,1652.9 1696.7,1665.6 1697,1678.4 1697.2,1691.1 1697.5,1703.8 1697.7,1716.6 1698,1729.3 1698.2,1742.1 1698.4,1754.8 1698.7,1767.5 1698.9,1780.3 1699,1793 1699.2,1805.8 1699.4,1818.5 1699.6,1831.2 1699.8,1844 1699.9,1856.7 1700.1,1869.5 1700.2,1882.2 1700.4,1894.9 1700.5,1907.7 1700.7,1920.4 1700.8,1933.2 1700.9,1945.9 1701.1,1958.6 1701.2,1971.4 1701.3,1984.1 1701.5,1996.9 1701.6,2009.6 1701.6,2011.6 1013.5,2011.6" fill="#00ff37"/>
<polygon points="1013.5,1352.9 1015.5,1352.9 1029.4,1353 1043.2,1353.2 1057.1,1353.3 1071,1353.5 1084.8,1353.6 1098.7,1353.8 1112.5,1353.9 1126.4,1354.1 1140.3,1354.2 1154.1,1354.4 1168,1354.6 1181.8,1354.7 1195.7,1354.9 1209.6,1355.1 1223.4,1355.3 1237.3,1355.5 1251.2,1355.7 1265,1355.9 1278.9,1356.1 1292.8,1356.3 1306.6,1356.5 1320.5,1356.7 1334.3,1357 1348.2,1357.2 1362.1,1357.5 1375.9,1357.7 1389.8,1358 1403.7,1358.3 1417.5,1358.6 1431.4,1359 1445.2,1359.4 1459.1,1359.8 1473,1360.4 1486.8,1361 1500.7,1361.8 1514.5,1362.8 1528.4,1363.8 1542.3,1364.9 1556.1,1366.1 1570,1367.4 1576.9,1368.1 1583.8,1369 1590.6,1370 1597.4,1371.2 1604.1,1372.6 1610.9,1374 1617.7,1375.6 1624.6,1377.4 1631.4,1379.6 1638,1382.1 1644.5,1385.3 1650.6,1389 1656.5,1393.2 1661.4,1398.5 1665.8,1404.2 1669.7,1410.3 1673.2,1416.5 1676.1,1422.9 1678.3,1429.7 1680,1436.5 1681.3,1443.3 1682.3,1450 1683.3,1456.5 1684.3,1462.9 1685.1,1469.2 1685.9,1475.4 1686.6,1481.5 1687.4,1487.7 1688.1,1493.8 1688.9,1500 1690.1,1512.7 1690.9,1525.5 1691.6,1538.2 1692.1,1551 1692.5,1563.7 1692.9,1576.4 1693.3,1589.2 1693.7,1601.9 1694,1614.7 1694.4,1627.4 1694.7,1640.1 1695,1652.9 1695.3,1665.6 1695.6,1678.4 1695.9,1691.1 1696.1,1703.8 1696.4,1716.6 1696.6,1729.3 1696.8,1742.1 1697.1,1754.8 1697.3,1767.5 1697.5,1780.3 1697.7,1793 1697.9,1805.8 1698,1818.5 1698.2,1831.2 1698.4,1844 1698.6,1856.7 1698.7,1869.5 1698.9,1882.2 1699,1894.9 1699.2,1907.7 1699.3,1920.4 1699.4,1933.2 1699.6,1945.9 1699.7,1958.6 1699.8,1971.4 1700,1984.1 1700.1,1996.9 1700.3,2009.6 1700.3,2011.6 1013.5,2011.6" fill="#00ff17"/>
<polygon points="1013.5,1354.2 1015.5,1354.2 1029.4,1354.3 1043.2,1354.5 1057.1,1354.6 1071,1354.8 1084.8,1354.9 1098.7,1355.1 1112.5,1355.3 1126.4,1355.4 1140.3,1355.6 1154.1,1355.7 1168,1355.9 1181.8,1356.1 1195.7,1356.2 1209.6,1356.4 1223.4,1356.6 1237.3,1356.8 1251.2,1357 1265,1357.2 1278.9,1357.4 1292.8,1357.6 1306.6,1357.9 1320.5,1358.1 1334.3,1358.3 1348.2,1358.6 1362.1,1358.8 1375.9,1359.1 1389.8,1359.4 1403.7,1359.7 1417.5,1360 1431.4,1360.4 1445.2,1360.7 1459.1,1361.2 1473,1361.7 1486.8,1362.3 1500.7,1363.2 1514.5,1364.2 1528.4,1365.3 1542.3,1366.4 1556.1,1367.6 1570,1368.9 1576.8,1369.6 1583.6,1370.5 1590.4,1371.5 1597.1,1372.7 1603.8,1374 1610.5,1375.4 1617.2,1377 1624,1378.8 1630.7,1380.9 1637.3,1383.5 1643.7,1386.6 1649.7,1390.3 1655.5,1394.5 1660.4,1399.7 1664.6,1405.4 1668.5,1411.3 1671.9,1417.5 1674.8,1423.9 1676.9,1430.6 1678.6,1437.3 1679.8,1444 1680.9,1450.6 1681.8,1457.1 1682.7,1463.4 1683.6,1469.6 1684.3,1475.7 1685.1,1481.8 1685.8,1487.8 1686.6,1493.9 1687.4,1500 1688.6,1512.7 1689.5,1525.5 1690.1,1538.2 1690.7,1551 1691.1,1563.7 1691.5,1576.4 1691.9,1589.2 1692.3,1601.9 1692.6,1614.7 1693,1627.4 1693.3,1640.1 1693.6,1652.9 1693.9,1665.6 1694.2,1678.4 1694.5,1691.1 1694.7,1703.8 1695,1716.6 1695.2,1729.3 1695.5,1742.1 1695.7,1754.8 1695.9,1767.5 1696.1,1780.3 1696.3,1793 1696.5,1805.8 1696.7,1818.5 1696.8,1831.2 1697,1844 1697.2,1856.7 1697.3,1869.5 1697.5,1882.2 1697.6,1894.9 1697.8,1907.7 1697.9,1920.4 1698.1,1933.2 1698.2,1945.9 1698.3,1958.6 1698.5,1971.4 1698.6,1984.1 1698.8,1996.9 1698.9,2009.6 1698.9,2011.6 1013.5,2011.6" fill="#0aff00"/>
<polygon points="1013.5,1355.5 1015.5,1355.5 1029.4,1355.6 1043.2,1355.8 1057.1,1356 1071,1356.1 1084.8,1356.3 1098.7,1356.4 1112.5,1356.6 1126.4,1356.7 1140.3,1356.9 1154.1,1357 1168,1357.2 1181.8,1357.4 1195.7,1357.6 1209.6,1357.7 1223.4,1357.9 1237.3,1358.1 1251.2,1358.3 1265,1358.5 1278.9,1358.8 1292.8,1359 1306.6,1359.2 1320.5,1359.4 1334.3,1359.7 1348.2,1359.9 1362.1,1360.2 1375.9,1360.4 1389.8,1360.7 1403.7,1361 1417.5,1361.3 1431.4,1361.7 1445.2,1362.1 1459.1,1362.5 1473,1363 1486.8,1363.7 1500.7,1364.5 1514.5,1365.5 1528.4,1366.7 1542.3,1367.9 1556.1,1369.1 1570,1370.5 1576.8,1371.1 1583.5,1372 1590.1,1373 1596.8,1374.1 1603.4,1375.4 1610,1376.9 1616.7,1378.4 1623.3,1380.2 1630,1382.3 1636.5,1384.8 1642.8,1387.9 1648.8,1391.6 1654.5,1395.7 1659.3,1400.8 1663.5,1406.5 1667.3,1412.4 1670.7,1418.5 1673.5,1424.8 1675.6,1431.4 1677.2,1438.1 1678.4,1444.8 1679.4,1451.3 1680.4,1457.6 1681.2,1463.9 1682,1470 1682.8,1476 1683.5,1482 1684.3,1488 1685,1494 1685.8,1500 1687.1,1512.7 1688,1525.5 1688.7,1538.2 1689.3,1551 1689.7,1563.7 1690.1,1576.4 1690.5,1589.2 1690.9,1601.9 1691.3,1614.7 1691.6,1627.4 1691.9,1640.1 1692.2,1652.9 1692.5,1665.6 1692.8,1678.4 1693.1,1691.1 1693.4,1703.8 1693.6,1716.6 1693.9,1729.3 1694.1,1742.1 1694.3,1754.8 1694.5,1767.5 1694.7,1780.3 1694.9,1793 1695.1,1805.8 1695.3,1818.5 1695.5,1831.2 1695.6,1844 1695.8,1856.7 1696,1869.5 1696.1,1882.2 1696.3,1894.9 1696.4,1907.7 1696.6,1920.4 1696.7,1933.2 1696.8,1945.9 1697,1958.6 1697.1,1971.4 1697.3,1984.1 1697.4,1996.9 1697.5,2009.6 1697.5,2011.6 1013.5,2011.6" fill="#2dff00"/>
<polygon points="1013.5,1356.8 1015.5,1356.8 1029.4,1357 1043.2,1357.1 1057.1,1357.3 1071,1357.4 1084.8,1357.6 1098.7,1357.7 1112.5,1357.9 1126.4,1358.1 1140.3,1358.2 1154.1,1358.4 1168,1358.5 1181.8,1358.7 1195.7,1358.9 1209.6,1359.1 1223.4,1359.3 1237.3,1359.5 1251.2,1359.7 1265,1359.9 1278.9,1360.1 1292.8,1360.3 1306.6,1360.6 1320.5,1360.8 1334.3,1361 1348.2,1361.3 1362.1,1361.5 1375.9,1361.8 1389.8,1362.1 1403.7,1362.4 1417.5,1362.7 1431.4,1363 1445.2,1363.4 1459.1,1363.8 1473,1364.4 1486.8,1365 1500.7,1365.9 1514.5,1366.9 1528.4,1368.1 1542.3,1369.4 1556.1,1370.6 1570,1372 1576.7,1372.7 1583.3,1373.5 1589.9,1374.5 1596.4,1375.6 1603,1376.9 1609.5,1378.3 1616.1,1379.8 1622.7,1381.6 1629.3,1383.6 1635.7,1386.1 1642,1389.2 1647.9,1392.8 1653.5,1396.9 1658.2,1402 1662.4,1407.6 1666.1,1413.5 1669.4,1419.5 1672.2,1425.8 1674.2,1432.3 1675.8,1438.9 1677,1445.5 1678,1451.9 1678.9,1458.2 1679.7,1464.4 1680.5,1470.4 1681.2,1476.4 1682,1482.3 1682.7,1488.2 1683.5,1494.1 1684.3,1500 1685.6,1512.7 1686.6,1525.5 1687.3,1538.2 1687.9,1551 1688.3,1563.7 1688.7,1576.4 1689.1,1589.2 1689.5,1601.9 1689.9,1614.7 1690.2,1627.4 1690.5,1640.1 1690.9,1652.9 1691.2,1665.6 1691.4,1678.4 1691.7,1691.1 1692,1703.8 1692.2,1716.6 1692.5,1729.3 1692.7,1742.1 1692.9,1754.8 1693.1,1767.5 1693.3,1780.3 1693.5,1793 1693.7,1805.8 1693.9,1818.5 1694.1,1831.2 1694.3,1844 1694.4,1856.7 1694.6,1869.5 1694.7,1882.2 1694.9,1894.9 1695,1907.7 1695.2,1920.4 1695.3,1933.2 1695.5,1945.9 1695.6,1958.6 1695.8,1971.4 1695.9,1984.1 1696,1996.9 1696.2,2009.6 1696.2,2011.6 1013.5,2011.6" fill="#4fff00"/>
<polygon points="1013.5,1358.1 1015.5,1358.1 1029.4,1358.3 1043.2,1358.4 1057.1,1358.6 1071,1358.7 1084.8,1358.9 1098.7,1359.1 1112.5,1359.2 1126.4,1359.4 1140.3,1359.5 1154.1,1359.7 1168,1359.9 1181.8,1360.1 1195.7,1360.2 1209.6,1360.4 1223.4,1360.6 1237.3,1360.8 1251.2,1361 1265,1361.2 1278.9,1361.4 1292.8,1361.7 1306.6,1361.9 1320.5,1362.1 1334.3,1362.4 1348.2,1362.6 1362.1,1362.9 1375.9,1363.1 1389.8,1363.4 1403.7,1363.7 1417.5,1364 1431.4,1364.4 1445.2,1364.7 1459.1,1365.2 1473,1365.7 1486.8,1366.4 1500.7,1367.3 1514.5,1368.3 1528.4,1369.6 1542.3,1370.8 1556.1,1372.2 1570,1373.5 1576.6,1374.2 1583.1,1375 1589.6,1375.9 1596.1,1377.1 1602.6,1378.3 1609.1,1379.7 1615.6,1381.2 1622.1,1383 1628.6,1385 1635,1387.4 1641.1,1390.5 1646.9,1394.1 1652.5,1398.2 1657.2,1403.2 1661.2,1408.8 1664.9,1414.6 1668.1,1420.5 1670.9,1426.7 1672.9,1433.2 1674.4,1439.7 1675.5,1446.2 1676.5,1452.6 1677.4,1458.8 1678.2,1464.8 1679,1470.8 1679.7,1476.7 1680.4,1482.5 1681.1,1488.3 1681.9,1494.1 1682.8,1500 1684.2,1512.7 1685.1,1525.5 1685.9,1538.2 1686.5,1551 1686.9,1563.7 1687.3,1576.4 1687.8,1589.2 1688.1,1601.9 1688.5,1614.7 1688.8,1627.4 1689.2,1640.1 1689.5,1652.9 1689.8,1665.6 1690.1,1678.4 1690.3,1691.1 1690.6,1703.8 1690.8,1716.6 1691.1,1729.3 1691.3,1742.1 1691.5,1754.8 1691.8,1767.5 1692,1780.3 1692.2,1793 1692.4,1805.8 1692.5,1818.5 1692.7,1831.2 1692.9,1844 1693.1,1856.7 1693.2,1869.5 1693.4,1882.2 1693.5,1894.9 1693.7,1907.7 1693.8,1920.4 1694,1933.2 1694.1,1945.9 1694.3,1958.6 1694.4,1971.4 1694.5,1984.1 1694.7,1996.9 1694.8,2009.6 1694.8,2011.6 1013.5,2011.6" fill="#71ff00"/>
<polygon points="1013.5,1359.4 1015.5,1359.4 1029.4,1359.6 1043.2,1359.7 1057.1,1359.9 1071,1360.1 1084.8,1360.2 1098.7,1360.4 1112.5,1360.5 1126.4,1360.7 1140.3,1360.9 1154.1,1361 1168,1361.2 1181.8,1361.4 1195.7,1361.6 1209.6,1361.8 1223.4,1361.9 1237.3,1362.2 1251.2,1362.4 1265,1362.6 1278.9,1362.8 1292.8,1363 1306.6,1363.2 1320.5,1363.5 1334.3,1363.7 1348.2,1364 1362.1,1364.2 1375.9,1364.5 1389.8,1364.8 1403.7,1365.1 1417.5,1365.3 1431.4,1365.7 1445.2,1366.1 1459.1,1366.5 1473,1367 1486.8,1367.7 1500.7,1368.6 1514.5,1369.7 1528.4,1371 1542.3,1372.3 1556.1,1373.7 1570,1375 1576.5,1375.7 1583,1376.5 1589.4,1377.4 1595.8,1378.5 1602.2,1379.8 1608.6,1381.1 1615.1,1382.6 1621.5,1384.3 1627.9,1386.3 1634.2,1388.8 1640.3,1391.8 1646,1395.4 1651.5,1399.4 1656.1,1404.4 1660.1,1409.9 1663.7,1415.6 1666.9,1421.5 1669.6,1427.7 1671.5,1434.1 1673,1440.5 1674.1,1447 1675,1453.2 1675.9,1459.4 1676.7,1465.3 1677.4,1471.2 1678.1,1477 1678.8,1482.8 1679.6,1488.5 1680.4,1494.2 1681.3,1500 1682.7,1512.7 1683.7,1525.5 1684.5,1538.2 1685,1551 1685.5,1563.7 1686,1576.4 1686.4,1589.2 1686.7,1601.9 1687.1,1614.7 1687.5,1627.4 1687.8,1640.1 1688.1,1652.9 1688.4,1665.6 1688.7,1678.4 1689,1691.1 1689.2,1703.8 1689.5,1716.6 1689.7,1729.3 1690,1742.1 1690.2,1754.8 1690.4,1767.5 1690.6,1780.3 1690.8,1793 1691,1805.8 1691.2,1818.5 1691.3,1831.2 1691.5,1844 1691.7,1856.7 1691.8,1869.5 1692,1882.2 1692.2,1894.9 1692.3,1907.7 1692.5,1920.4 1692.6,1933.2 1692.7,1945.9 1692.9,1958.6 1693,1971.4 1693.2,1984.1 1693.3,1996.9 1693.5,2009.6 1693.5,2011.6 1013.5,2011.6" fill="#93ff00"/>
<polygon points="1013.5,1360.7 1015.5,1360.7 1029.4,1360.9 1043.2,1361 1057.1,1361.2 1071,1361.4 1084.8,1361.5 1098.7,1361.7 1112.5,1361.9 1126.4,1362 1140.3,1362.2 1154.1,1362.4 1168,1362.5 1181.8,1362.7 1195.7,1362.9 1209.6,1363.1 1223.4,1363.3 1237.3,1363.5 1251.2,1363.7 1265,1363.9 1278.9,1364.1 1292.8,1364.4 1306.6,1364.6 1320.5,1364.8 1334.3,1365.1 1348.2,1365.3 1362.1,1365.6 1375.9,1365.8 1389.8,1366.1 1403.7,1366.4 1417.5,1366.7 1431.4,1367 1445.2,1367.4 1459.1,1367.8 1473,1368.4 1486.8,1369 1500.7,1370 1514.5,1371.1 1528.4,1372.4 1542.3,1373.8 1556.1,1375.2 1570,1376.5 1576.4,1377.2 1582.8,1378 1589.2,1378.9 1595.5,1380 1601.8,1381.2 1608.2,1382.5 1614.5,1384 1620.9,1385.7 1627.2,1387.7 1633.4,1390.1 1639.4,1393.1 1645.1,1396.6 1650.5,1400.6 1655,1405.6 1659,1411 1662.5,1416.7 1665.6,1422.6 1668.3,1428.6 1670.1,1435 1671.6,1441.3 1672.7,1447.7 1673.6,1453.9 1674.4,1459.9 1675.2,1465.8 1675.9,1471.6 1676.6,1477.3 1677.3,1483 1678,1488.6 1678.8,1494.3 1679.7,1500 1681.2,1512.7 1682.3,1525.5 1683,1538.2 1683.6,1551 1684.1,1563.7 1684.6,1576.4 1685,1589.2 1685.4,1601.9 1685.7,1614.7 1686.1,1627.4 1686.4,1640.1 1686.7,1652.9 1687,1665.6 1687.3,1678.4 1687.6,1691.1 1687.8,1703.8 1688.1,1716.6 1688.3,1729.3 1688.6,1742.1 1688.8,1754.8 1689,1767.5 1689.2,1780.3 1689.4,1793 1689.6,1805.8 1689.8,1818.5 1690,1831.2 1690.1,1844 1690.3,1856.7 1690.5,1869.5 1690.6,1882.2 1690.8,1894.9 1690.9,1907.7 1691.1,1920.4 1691.2,1933.2 1691.4,1945.9 1691.5,1958.6 1691.7,1971.4 1691.8,1984.1 1692,1996.9 1692.1,2009.6 1692.1,2011.6 1013.5,2011.6" fill="#b6ff00"/>
<polygon points="1013.5,1362 1015.5,1362 1029.4,1362.2 1043.2,1362.4 1057.1,1362.5 1071,1362.7 1084.8,1362.9 1098.7,1363 1112.5,1363.2 1126.4,1363.4 1140.3,1363.5 1154.1,1363.7 1168,1363.9 1181.8,1364.1 1195.7,1364.2 1209.6,1364.4 1223.4,1364.6 1237.3,1364.8 1251.2,1365 1265,1365.2 1278.9,1365.5 1292.8,1365.7 1306.6,1365.9 1320.5,1366.2 1334.3,1366.4 1348.2,1366.7 1362.1,1366.9 1375.9,1367.2 1389.8,1367.5 1403.7,1367.7 1417.5,1368 1431.4,1368.4 1445.2,1368.7 1459.1,1369.2 1473,1369.7 1486.8,1370.4 1500.7,1371.3 1514.5,1372.5 1528.4,1373.9 1542.3,1375.3 1556.1,1376.7 1570,1378.1 1576.4,1378.7 1582.7,1379.5 1588.9,1380.4 1595.2,1381.5 1601.4,1382.6 1607.7,1384 1614,1385.4 1620.3,1387.1 1626.5,1389 1632.7,1391.4 1638.6,1394.4 1644.2,1397.9 1649.5,1401.8 1653.9,1406.8 1657.8,1412.2 1661.3,1417.8 1664.4,1423.6 1667,1429.6 1668.8,1435.8 1670.2,1442.1 1671.2,1448.4 1672.1,1454.5 1672.9,1460.5 1673.7,1466.3 1674.3,1472 1675,1477.7 1675.7,1483.3 1676.5,1488.8 1677.3,1494.4 1678.2,1500 1679.7,1512.7 1680.8,1525.5 1681.6,1538.2 1682.2,1551 1682.7,1563.7 1683.2,1576.4 1683.6,1589.2 1684,1601.9 1684.3,1614.7 1684.7,1627.4 1685,1640.1 1685.3,1652.9 1685.6,1665.6 1685.9,1678.4 1686.2,1691.1 1686.5,1703.8 1686.7,1716.6 1687,1729.3 1687.2,1742.1 1687.4,1754.8 1687.6,1767.5 1687.8,1780.3 1688,1793 1688.2,1805.8 1688.4,1818.5 1688.6,1831.2 1688.8,1844 1688.9,1856.7 1689.1,1869.5 1689.3,1882.2 1689.4,1894.9 1689.6,1907.7 1689.7,1920.4 1689.9,1933.2 1690,1945.9 1690.2,1958.6 1690.3,1971.4 1690.5,1984.1 1690.6,1996.9 1690.8,2009.6 1690.8,2011.6 1013.5,2011.6" fill="#d8ff00"/>
<polygon points="1013.5,1363.3 1015.5,1363.3 1029.4,1363.5 1043.2,1363.7 1057.1,1363.8 1071,1364 1084.8,1364.2 1098.7,1364.3 1112.5,1364.5 1126.4,1364.7 1140.3,1364.8 1154.1,1365 1168,1365.2 1181.8,1365.4 1195.7,1365.6 1209.6,1365.8 1223.4,1366 1237.3,1366.2 1251.2,1366.4 1265,1366.6 1278.9,1366.8 1292.8,1367 1306.6,1367.3 1320.5,1367.5 1334.3,1367.8 1348.2,1368 1362.1,1368.3 1375.9,1368.5 1389.8,1368.8 1403.7,1369.1 1417.5,1369.4 1431.4,1369.7 1445.2,1370.1 1459.1,1370.5 1473,1371 1486.8,1371.7 1500.7,1372.7 1514.5,1373.9 1528.4,1375.3 1542.3,1376.8 1556.1,1378.2 1570,1379.6 1576.3,1380.2 1582.5,1381 1588.7,1381.9 1594.9,1382.9 1601.1,1384.1 1607.2,1385.4 1613.4,1386.8 1619.7,1388.5 1625.9,1390.4 1631.9,1392.8 1637.7,1395.7 1643.3,1399.2 1648.5,1403.1 1652.9,1408 1656.7,1413.3 1660.1,1418.9 1663.1,1424.6 1665.6,1430.5 1667.4,1436.7 1668.8,1442.9 1669.8,1449.1 1670.6,1455.2 1671.4,1461.1 1672.1,1466.8 1672.8,1472.5 1673.5,1478 1674.2,1483.5 1674.9,1489 1675.7,1494.5 1676.7,1500 1678.2,1512.7 1679.4,1525.5 1680.2,1538.2 1680.8,1551 1681.3,1563.7 1681.8,1576.4 1682.2,1589.2 1682.6,1601.9 1683,1614.7 1683.3,1627.4 1683.6,1640.1 1684,1652.9 1684.3,1665.6 1684.5,1678.4 1684.8,1691.1 1685.1,1703.8 1685.3,1716.6 1685.6,1729.3 1685.8,1742.1 1686,1754.8 1686.3,1767.5 1686.5,1780.3 1686.7,1793 1686.9,1805.8 1687,1818.5 1687.2,1831.2 1687.4,1844 1687.6,1856.7 1687.7,1869.5 1687.9,1882.2 1688.1,1894.9 1688.2,1907.7 1688.4,1920.4 1688.5,1933.2 1688.6,1945.9 1688.8,1958.6 1689,1971.4 1689.1,1984.1 1689.3,1996.9 1689.4,2009.6 1689.4,2011.6 1013.5,2011.6" fill="#faff00"/>
<polygon points="1013.5,1364.6 1015.5,1364.6 1029.4,1364.8 1043.2,1365 1057.1,1365.2 1071,1365.3 1084.8,1365.5 1098.7,1365.7 1112.5,1365.8 1126.4,1366 1140.3,1366.2 1154.1,1366.3 1168,1366.5 1181.8,1366.7 1195.7,1366.9 1209.6,1367.1 1223.4,1367.3 1237.3,1367.5 1251.2,1367.7 1265,1367.9 1278.9,1368.1 1292.8,1368.4 1306.6,1368.6 1320.5,1368.8 1334.3,1369.1 1348.2,1369.4 1362.1,1369.6 1375.9,1369.9 1389.8,1370.1 1403.7,1370.4 1417.5,1370.7 1431.4,1371.1 1445.2,1371.4 1459.1,1371.8 1473,1372.4 1486.8,1373.1 1500.7,1374.1 1514.5,1375.3 1528.4,1376.8 1542.3,1378.3 1556.1,1379.7 1570,1381.1 1576.2,1381.7 1582.4,1382.5 1588.5,1383.4 1594.6,1384.4 1600.7,1385.5 1606.8,1386.8 1612.9,1388.2 1619.1,1389.8 1625.2,1391.7 1631.1,1394.1 1636.9,1397 1642.3,1400.4 1647.5,1404.3 1651.8,1409.1 1655.6,1414.4 1658.9,1420 1661.9,1425.6 1664.3,1431.5 1666.1,1437.6 1667.4,1443.7 1668.4,1449.9 1669.2,1455.8 1669.9,1461.6 1670.6,1467.3 1671.3,1472.9 1671.9,1478.3 1672.6,1483.7 1673.3,1489.1 1674.2,1494.5 1675.2,1500 1676.7,1512.7 1677.9,1525.5 1678.8,1538.2 1679.4,1551 1679.9,1563.7 1680.4,1576.4 1680.8,1589.2 1681.2,1601.9 1681.6,1614.7 1681.9,1627.4 1682.3,1640.1 1682.6,1652.9 1682.9,1665.6 1683.2,1678.4 1683.4,1691.1 1683.7,1703.8 1684,1716.6 1684.2,1729.3 1684.4,1742.1 1684.7,1754.8 1684.9,1767.5 1685.1,1780.3 1685.3,1793 1685.5,1805.8 1685.7,1818.5 1685.8,1831.2 1686,1844 1686.2,1856.7 1686.4,1869.5 1686.5,1882.2 1686.7,1894.9 1686.8,1907.7 1687,1920.4 1687.1,1933.2 1687.3,1945.9 1687.4,1958.6 1687.6,1971.4 1687.7,1984.1 1687.9,1996.9 1688,2009.6 1688,2011.6 1013.5,2011.6" fill="#ffe800"/>
<polygon points="1013.5,1366 1015.5,1366 1029.4,1366.1 1043.2,1366.3 1057.1,1366.5 1071,1366.6 1084.8,1366.8 1098.7,1367 1112.5,1367.2 1126.4,1367.3 1140.3,1367.5 1154.1,1367.7 1168,1367.9 1181.8,1368 1195.7,1368.2 1209.6,1368.4 1223.4,1368.6 1237.3,1368.8 1251.2,1369.1 1265,1369.3 1278.9,1369.5 1292.8,1369.7 1306.6,1370 1320.5,1370.2 1334.3,1370.4 1348.2,1370.7 1362.1,1371 1375.9,1371.2 1389.8,1371.5 1403.7,1371.8 1417.5,1372 1431.4,1372.4 1445.2,1372.8 1459.1,1373.2 1473,1373.7 1486.8,1374.4 1500.7,1375.4 1514.5,1376.7 1528.4,1378.2 1542.3,1379.7 1556.1,1381.2 1570,1382.6 1576.1,1383.3 1582.2,1384 1588.2,1384.8 1594.3,1385.8 1600.3,1387 1606.3,1388.2 1612.4,1389.6 1618.4,1391.2 1624.5,1393.1 1630.4,1395.4 1636.1,1398.3 1641.4,1401.7 1646.5,1405.5 1650.7,1410.3 1654.4,1415.6 1657.7,1421 1660.6,1426.6 1663,1432.4 1664.7,1438.5 1666,1444.5 1667,1450.6 1667.7,1456.5 1668.4,1462.2 1669.1,1467.8 1669.7,1473.3 1670.4,1478.7 1671,1484 1671.8,1489.3 1672.6,1494.6 1673.6,1500 1675.2,1512.7 1676.5,1525.5 1677.4,1538.2 1678,1551 1678.6,1563.7 1679,1576.4 1679.4,1589.2 1679.8,1601.9 1680.2,1614.7 1680.6,1627.4 1680.9,1640.1 1681.2,1652.9 1681.5,1665.6 1681.8,1678.4 1682.1,1691.1 1682.3,1703.8 1682.6,1716.6 1682.8,1729.3 1683.1,1742.1 1683.3,1754.8 1683.5,1767.5 1683.7,1780.3 1683.9,1793 1684.1,1805.8 1684.3,1818.5 1684.5,1831.2 1684.6,1844 1684.8,1856.7 1685,1869.5 1685.1,1882.2 1685.3,1894.9 1685.5,1907.7 1685.6,1920.4 1685.8,1933.2 1685.9,1945.9 1686.1,1958.6 1686.2,1971.4 1686.4,1984.1 1686.5,1996.9 1686.7,2009.6 1686.7,2011.6 1013.5,2011.6" fill="#ffce00"/>
<polygon points="1013.5,1367.3 1015.5,1367.3 1029.4,1367.4 1043.2,1367.6 1057.1,1367.8 1071,1368 1084.8,1368.1 1098.7,1368.3 1112.5,1368.5 1126.4,1368.7 1140.3,1368.8 1154.1,1369 1168,1369.2 1181.8,1369.4 1195.7,1369.6 1209.6,1369.8 1223.4,1370 1237.3,1370.2 1251.2,1370.4 1265,1370.6 1278.9,1370.8 1292.8,1371.1 1306.6,1371.3 1320.5,1371.5 1334.3,1371.8 1348.2,1372 1362.1,1372.3 1375.9,1372.5 1389.8,1372.8 1403.7,1373.1 1417.5,1373.4 1431.4,1373.7 1445.2,1374.1 1459.1,1374.5 1473,1375 1486.8,1375.7 1500.7,1376.8 1514.5,1378.1 1528.4,1379.6 1542.3,1381.2 1556.1,1382.7 1570,1384.1 1576,1384.8 1582,1385.5 1588,1386.3 1594,1387.3 1599.9,1388.4 1605.9,1389.6 1611.8,1391 1617.8,1392.6 1623.8,1394.4 1629.6,1396.7 1635.2,1399.6 1640.5,1403 1645.5,1406.8 1649.7,1411.5 1653.3,1416.7 1656.5,1422.1 1659.4,1427.6 1661.7,1433.4 1663.4,1439.4 1664.6,1445.4 1665.5,1451.3 1666.3,1457.1 1667,1462.8 1667.6,1468.3 1668.2,1473.7 1668.8,1479 1669.5,1484.2 1670.2,1489.5 1671.1,1494.7 1672.1,1500 1673.8,1512.7 1675,1525.5 1675.9,1538.2 1676.6,1551 1677.2,1563.7 1677.6,1576.4 1678,1589.2 1678.4,1601.9 1678.8,1614.7 1679.2,1627.4 1679.5,1640.1 1679.8,1652.9 1680.1,1665.6 1680.4,1678.4 1680.7,1691.1 1680.9,1703.8 1681.2,1716.6 1681.4,1729.3 1681.7,1742.1 1681.9,1754.8 1682.1,1767.5 1682.3,1780.3 1682.5,1793 1682.7,1805.8 1682.9,1818.5 1683.1,1831.2 1683.3,1844 1683.4,1856.7 1683.6,1869.5 1683.8,1882.2 1683.9,1894.9 1684.1,1907.7 1684.2,1920.4 1684.4,1933.2 1684.6,1945.9 1684.7,1958.6 1684.9,1971.4 1685,1984.1 1685.2,1996.9 1685.3,2009.6 1685.3,2011.6 1013.5,2011.6" fill="#ffb300"/>
<polygon points="1013.5,1368.6 1015.5,1368.6 1029.4,1368.7 1043.2,1368.9 1057.1,1369.1 1071,1369.3 1084.8,1369.5 1098.7,1369.6 1112.5,1369.8 1126.4,1370 1140.3,1370.2 1154.1,1370.3 1168,1370.5 1181.8,1370.7 1195.7,1370.9 1209.6,1371.1 1223.4,1371.3 1237.3,1371.5 1251.2,1371.7 1265,1371.9 1278.9,1372.2 1292.8,1372.4 1306.6,1372.6 1320.5,1372.9 1334.3,1373.1 1348.2,1373.4 1362.1,1373.6 1375.9,1373.9 1389.8,1374.2 1403.7,1374.5 1417.5,1374.7 1431.4,1375.1 1445.2,1375.4 1459.1,1375.8 1473,1376.4 1486.8,1377.1 1500.7,1378.1 1514.5,1379.5 1528.4,1381.1 1542.3,1382.7 1556.1,1384.2 1570,1385.6 1576,1386.3 1581.9,1387 1587.8,1387.8 1593.6,1388.8 1599.5,1389.9 1605.4,1391.1 1611.3,1392.4 1617.2,1394 1623.1,1395.8 1628.9,1398.1 1634.4,1400.9 1639.6,1404.2 1644.5,1408 1648.6,1412.7 1652.2,1417.8 1655.3,1423.2 1658.1,1428.7 1660.4,1434.3 1662,1440.2 1663.3,1446.2 1664.1,1452.1 1664.8,1457.8 1665.5,1463.4 1666.1,1468.8 1666.7,1474.1 1667.3,1479.3 1667.9,1484.5 1668.7,1489.6 1669.5,1494.8 1670.6,1500 1672.3,1512.7 1673.6,1525.5 1674.5,1538.2 1675.2,1551 1675.8,1563.7 1676.2,1576.4 1676.7,1589.2 1677.1,1601.9 1677.4,1614.7 1677.8,1627.4 1678.1,1640.1 1678.4,1652.9 1678.7,1665.6 1679,1678.4 1679.3,1691.1 1679.6,1703.8 1679.8,1716.6 1680.1,1729.3 1680.3,1742.1 1680.5,1754.8 1680.7,1767.5 1681,1780.3 1681.1,1793 1681.3,1805.8 1681.5,1818.5 1681.7,1831.2 1681.9,1844 1682.1,1856.7 1682.2,1869.5 1682.4,1882.2 1682.6,1894.9 1682.7,1907.7 1682.9,1920.4 1683,1933.2 1683.2,1945.9 1683.3,1958.6 1683.5,1971.4 1683.7,1984.1 1683.8,1996.9 1684,2009.6 1684,2011.6 1013.5,2011.6" fill="#ff9900"/>
<polygon points="1013.5,1369.9 1015.5,1369.9 1029.4,1370.1 1043.2,1370.2 1057.1,1370.4 1071,1370.6 1084.8,1370.8 1098.7,1370.9 1112.5,1371.1 1126.4,1371.3 1140.3,1371.5 1154.1,1371.7 1168,1371.8 1181.8,1372 1195.7,1372.2 1209.6,1372.4 1223.4,1372.6 1237.3,1372.9 1251.2,1373.1 1265,1373.3 1278.9,1373.5 1292.8,1373.8 1306.6,1374 1320.5,1374.2 1334.3,1374.5 1348.2,1374.7 1362.1,1375 1375.9,1375.2 1389.8,1375.5 1403.7,1375.8 1417.5,1376.1 1431.4,1376.4 1445.2,1376.8 1459.1,1377.2 1473,1377.7 1486.8,1378.4 1500.7,1379.5 1514.5,1380.9 1528.4,1382.5 1542.3,1384.2 1556.1,1385.8 1570,1387.2 1575.9,1387.8 1581.7,1388.5 1587.5,1389.3 1593.3,1390.2 1599.1,1391.3 1604.9,1392.5 1610.8,1393.8 1616.6,1395.3 1622.4,1397.1 1628.1,1399.4 1633.5,1402.2 1638.7,1405.5 1643.5,1409.2 1647.5,1413.9 1651,1419 1654.1,1424.3 1656.8,1429.7 1659.1,1435.3 1660.7,1441.1 1661.9,1447 1662.7,1452.8 1663.3,1458.4 1664,1463.9 1664.6,1469.3 1665.1,1474.5 1665.7,1479.7 1666.4,1484.7 1667.1,1489.8 1668,1494.9 1669.1,1500 1670.8,1512.7 1672.1,1525.5 1673.1,1538.2 1673.8,1551 1674.4,1563.7 1674.8,1576.4 1675.3,1589.2 1675.7,1601.9 1676.1,1614.7 1676.4,1627.4 1676.7,1640.1 1677.1,1652.9 1677.4,1665.6 1677.6,1678.4 1677.9,1691.1 1678.2,1703.8 1678.4,1716.6 1678.7,1729.3 1678.9,1742.1 1679.1,1754.8 1679.4,1767.5 1679.6,1780.3 1679.8,1793 1680,1805.8 1680.2,1818.5 1680.3,1831.2 1680.5,1844 1680.7,1856.7 1680.9,1869.5 1681,1882.2 1681.2,1894.9 1681.4,1907.7 1681.5,1920.4 1681.7,1933.2 1681.8,1945.9 1682,1958.6 1682.1,1971.4 1682.3,1984.1 1682.5,1996.9 1682.6,2009.6 1682.6,2011.6 1013.5,2011.6" fill="#ff7e00"/>
<polygon points="1013.5,1371.2 1015.5,1371.2 1029.4,1371.4 1043.2,1371.5 1057.1,1371.7 1071,1371.9 1084.8,1372.1 1098.7,1372.3 1112.5,1372.4 1126.4,1372.6 1140.3,1372.8 1154.1,1373 1168,1373.2 1181.8,1373.4 1195.7,1373.6 1209.6,1373.8 1223.4,1374 1237.3,1374.2 1251.2,1374.4 1265,1374.6 1278.9,1374.9 1292.8,1375.1 1306.6,1375.3 1320.5,1375.6 1334.3,1375.8 1348.2,1376.1 1362.1,1376.3 1375.9,1376.6 1389.8,1376.9 1403.7,1377.1 1417.5,1377.4 1431.4,1377.8 1445.2,1378.1 1459.1,1378.5 1473,1379 1486.8,1379.8 1500.7,1380.8 1514.5,1382.3 1528.4,1383.9 1542.3,1385.7 1556.1,1387.3 1570,1388.7 1575.8,1389.3 1581.6,1390 1587.3,1390.8 1593,1391.7 1598.7,1392.7 1604.5,1393.9 1610.2,1395.2 1616,1396.7 1621.7,1398.5 1627.3,1400.7 1632.7,1403.5 1637.7,1406.8 1642.5,1410.5 1646.5,1415.1 1649.9,1420.1 1652.9,1425.3 1655.6,1430.7 1657.8,1436.2 1659.3,1442 1660.5,1447.8 1661.2,1453.5 1661.9,1459.1 1662.5,1464.5 1663.1,1469.8 1663.6,1474.9 1664.2,1480 1664.8,1485 1665.5,1490 1666.4,1494.9 1667.6,1500 1669.3,1512.7 1670.7,1525.5 1671.7,1538.2 1672.4,1551 1673,1563.7 1673.5,1576.4 1673.9,1589.2 1674.3,1601.9 1674.7,1614.7 1675,1627.4 1675.4,1640.1 1675.7,1652.9 1676,1665.6 1676.3,1678.4 1676.5,1691.1 1676.8,1703.8 1677.1,1716.6 1677.3,1729.3 1677.5,1742.1 1677.8,1754.8 1678,1767.5 1678.2,1780.3 1678.4,1793 1678.6,1805.8 1678.8,1818.5 1679,1831.2 1679.1,1844 1679.3,1856.7 1679.5,1869.5 1679.7,1882.2 1679.8,1894.9 1680,1907.7 1680.1,1920.4 1680.3,1933.2 1680.5,1945.9 1680.6,1958.6 1680.8,1971.4 1680.9,1984.1 1681.1,1996.9 1681.3,2009.6 1681.3,2011.6 1013.5,2011.6" fill="#ff6200"/>
<polygon points="1013.5,1372.5 1015.5,1372.5 1029.4,1372.7 1043.2,1372.9 1057.1,1373 1071,1373.2 1084.8,1373.4 1098.7,1373.6 1112.5,1373.8 1126.4,1373.9 1140.3,1374.1 1154.1,1374.3 1168,1374.5 1181.8,1374.7 1195.7,1374.9 1209.6,1375.1 1223.4,1375.3 1237.3,1375.5 1251.2,1375.8 1265,1376 1278.9,1376.2 1292.8,1376.4 1306.6,1376.7 1320.5,1376.9 1334.3,1377.2 1348.2,1377.4 1362.1,1377.7 1375.9,1377.9 1389.8,1378.2 1403.7,1378.5 1417.5,1378.8 1431.4,1379.1 1445.2,1379.4 1459.1,1379.8 1473,1380.4 1486.8,1381.1 1500.7,1382.2 1514.5,1383.7 1528.4,1385.4 1542.3,1387.1 1556.1,1388.8 1570,1390.2 1575.7,1390.8 1581.4,1391.5 1587.1,1392.3 1592.7,1393.2 1598.4,1394.2 1604,1395.3 1609.7,1396.6 1615.4,1398.1 1621,1399.9 1626.6,1402.1 1631.8,1404.8 1636.8,1408 1641.5,1411.7 1645.4,1416.2 1648.8,1421.2 1651.7,1426.4 1654.3,1431.7 1656.5,1437.2 1657.9,1442.9 1659.1,1448.6 1659.8,1454.2 1660.4,1459.7 1661,1465.1 1661.5,1470.3 1662.1,1475.3 1662.6,1480.3 1663.3,1485.2 1664,1490.1 1664.9,1495 1666,1500 1667.8,1512.7 1669.2,1525.5 1670.3,1538.2 1671,1551 1671.6,1563.7 1672.1,1576.4 1672.5,1589.2 1672.9,1601.9 1673.3,1614.7 1673.7,1627.4 1674,1640.1 1674.3,1652.9 1674.6,1665.6 1674.9,1678.4 1675.2,1691.1 1675.4,1703.8 1675.7,1716.6 1675.9,1729.3 1676.2,1742.1 1676.4,1754.8 1676.6,1767.5 1676.8,1780.3 1677,1793 1677.2,1805.8 1677.4,1818.5 1677.6,1831.2 1677.8,1844 1678,1856.7 1678.1,1869.5 1678.3,1882.2 1678.5,1894.9 1678.6,1907.7 1678.8,1920.4 1678.9,1933.2 1679.1,1945.9 1679.3,1958.6 1679.4,1971.4 1679.6,1984.1 1679.7,1996.9 1679.9,2009.6 1679.9,2011.6 1013.5,2011.6" fill="#ff4600"/>
<polygon points="1013.5,1373.8 1015.5,1373.8 1029.4,1374 1043.2,1374.2 1057.1,1374.4 1071,1374.5 1084.8,1374.7 1098.7,1374.9 1112.5,1375.1 1126.4,1375.3 1140.3,1375.5 1154.1,1375.6 1168,1375.8 1181.8,1376 1195.7,1376.2 1209.6,1376.4 1223.4,1376.6 1237.3,1376.9 1251.2,1377.1 1265,1377.3 1278.9,1377.5 1292.8,1377.8 1306.6,1378 1320.5,1378.3 1334.3,1378.5 1348.2,1378.8 1362.1,1379 1375.9,1379.3 1389.8,1379.6 1403.7,1379.8 1417.5,1380.1 1431.4,1380.4 1445.2,1380.8 1459.1,1381.2 1473,1381.7 1486.8,1382.5 1500.7,1383.6 1514.5,1385 1528.4,1386.8 1542.3,1388.6 1556.1,1390.3 1570,1391.7 1575.6,1392.3 1581.2,1393 1586.8,1393.7 1592.4,1394.6 1598,1395.6 1603.5,1396.7 1609.2,1398 1614.8,1399.5 1620.3,1401.2 1625.8,1403.4 1631,1406.1 1635.9,1409.3 1640.5,1412.9 1644.3,1417.4 1647.6,1422.4 1650.5,1427.5 1653.1,1432.7 1655.2,1438.1 1656.6,1443.8 1657.7,1449.4 1658.4,1455 1658.9,1460.4 1659.5,1465.6 1660,1470.7 1660.5,1475.7 1661.1,1480.6 1661.7,1485.5 1662.4,1490.3 1663.3,1495.1 1664.5,1500 1666.3,1512.7 1667.8,1525.5 1668.9,1538.2 1669.6,1551 1670.2,1563.7 1670.7,1576.4 1671.1,1589.2 1671.5,1601.9 1671.9,1614.7 1672.3,1627.4 1672.6,1640.1 1672.9,1652.9 1673.2,1665.6 1673.5,1678.4 1673.8,1691.1 1674,1703.8 1674.3,1716.6 1674.5,1729.3 1674.8,1742.1 1675,1754.8 1675.2,1767.5 1675.4,1780.3 1675.6,1793 1675.8,1805.8 1676,1818.5 1676.2,1831.2 1676.4,1844 1676.6,1856.7 1676.7,1869.5 1676.9,1882.2 1677.1,1894.9 1677.3,1907.7 1677.4,1920.4 1677.6,1933.2 1677.7,1945.9 1677.9,1958.6 1678.1,1971.4 1678.2,1984.1 1678.4,1996.9 1678.6,2009.6 1678.6,2011.6 1013.5,2011.6" fill="#ff2a00"/>
<polygon points="1013.5,1375.1 1015.5,1375.1 1029.4,1375.3 1043.2,1375.5 1057.1,1375.7 1071,1375.9 1084.8,1376 1098.7,1376.2 1112.5,1376.4 1126.4,1376.6 1140.3,1376.8 1154.1,1377 1168,1377.2 1181.8,1377.4 1195.7,1377.6 1209.6,1377.8 1223.4,1378 1237.3,1378.2 1251.2,1378.4 1265,1378.7 1278.9,1378.9 1292.8,1379.1 1306.6,1379.4 1320.5,1379.6 1334.3,1379.9 1348.2,1380.1 1362.1,1380.4 1375.9,1380.6 1389.8,1380.9 1403.7,1381.2 1417.5,1381.4 1431.4,1381.8 1445.2,1382.1 1459.1,1382.5 1473,1383.1 1486.8,1383.8 1500.7,1384.9 1514.5,1386.4 1528.4,1388.3 1542.3,1390.1 1556.1,1391.8 1570,1393.2 1575.6,1393.8 1581.1,1394.5 1586.6,1395.2 1592.1,1396.1 1597.6,1397.1 1603.1,1398.2 1608.6,1399.4 1614.1,1400.8 1619.6,1402.6 1625,1404.7 1630.2,1407.4 1635,1410.6 1639.5,1414.1 1643.3,1418.6 1646.5,1423.5 1649.3,1428.6 1651.8,1433.7 1653.9,1439.1 1655.2,1444.7 1656.3,1450.2 1656.9,1455.7 1657.5,1461 1658,1466.2 1658.5,1471.2 1659,1476.2 1659.5,1481 1660.1,1485.7 1660.9,1490.4 1661.8,1495.2 1663,1500 1664.8,1512.7 1666.3,1525.5 1667.4,1538.2 1668.2,1551 1668.8,1563.7 1669.3,1576.4 1669.7,1589.2 1670.1,1601.9 1670.5,1614.7 1670.9,1627.4 1671.2,1640.1 1671.5,1652.9 1671.8,1665.6 1672.1,1678.4 1672.4,1691.1 1672.7,1703.8 1672.9,1716.6 1673.2,1729.3 1673.4,1742.1 1673.6,1754.8 1673.9,1767.5 1674.1,1780.3 1674.3,1793 1674.5,1805.8 1674.7,1818.5 1674.8,1831.2 1675,1844 1675.2,1856.7 1675.4,1869.5 1675.5,1882.2 1675.7,1894.9 1675.9,1907.7 1676,1920.4 1676.2,1933.2 1676.4,1945.9 1676.5,1958.6 1676.7,1971.4 1676.9,1984.1 1677,1996.9 1677.2,2009.6 1677.2,2011.6 1013.5,2011.6" fill="#ff0e00"/>
<polygon points="1013.5,1376.4 1015.5,1376.4 1029.4,1376.6 1043.2,1376.8 1057.1,1377 1071,1377.2 1084.8,1377.4 1098.7,1377.5 1112.5,1377.7 1126.4,1377.9 1140.3,1378.1 1154.1,1378.3 1168,1378.5 1181.8,1378.7 1195.7,1378.9 1209.6,1379.1 1223.4,1379.3 1237.3,1379.5 1251.2,1379.8 1265,1380 1278.9,1380.2 1292.8,1380.5 1306.6,1380.7 1320.5,1381 1334.3,1381.2 1348.2,1381.5 1362.1,1381.7 1375.9,1382 1389.8,1382.2 1403.7,1382.5 1417.5,1382.8 1431.4,1383.1 1445.2,1383.4 1459.1,1383.8 1473,1384.4 1486.8,1385.1 1500.7,1386.3 1514.5,1387.8 1528.4,1389.7 1542.3,1391.6 1556.1,1393.3 1570,1394.8 1575.5,1395.4 1580.9,1396 1586.4,1396.7 1591.8,1397.6 1597.2,1398.5 1602.6,1399.6 1608.1,1400.8 1613.5,1402.2 1619,1403.9 1624.3,1406 1629.3,1408.7 1634.1,1411.8 1638.5,1415.4 1642.2,1419.8 1645.4,1424.6 1648.1,1429.7 1650.6,1434.8 1652.6,1440 1653.9,1445.5 1654.9,1451 1655.5,1456.4 1656,1461.7 1656.5,1466.8 1657,1471.7 1657.5,1476.6 1658,1481.3 1658.6,1486 1659.3,1490.6 1660.2,1495.3 1661.5,1500 1663.4,1512.7 1664.9,1525.5 1666,1538.2 1666.8,1551 1667.4,1563.7 1667.9,1576.4 1668.3,1589.2 1668.8,1601.9 1669.2,1614.7 1669.5,1627.4 1669.8,1640.1 1670.2,1652.9 1670.5,1665.6 1670.7,1678.4 1671,1691.1 1671.3,1703.8 1671.5,1716.6 1671.8,1729.3 1672,1742.1 1672.3,1754.8 1672.5,1767.5 1672.7,1780.3 1672.9,1793 1673.1,1805.8 1673.3,1818.5 1673.5,1831.2 1673.7,1844 1673.8,1856.7 1674,1869.5 1674.2,1882.2 1674.4,1894.9 1674.5,1907.7 1674.7,1920.4 1674.8,1933.2 1675,1945.9 1675.2,1958.6 1675.3,1971.4 1675.5,1984.1 1675.7,1996.9 1675.8,2009.6 1675.8,2011.6 1013.5,2011.6" fill="#ff0000"/>
<polygon points="1013.5,1381.7 1015.5,1381.7 1029.4,1382 1043.2,1382.2 1057.1,1382.5 1071,1382.7 1084.8,1383 1098.7,1383.2 1112.5,1383.5 1126.4,1383.7 1140.3,1384 1154.1,1384.2 1168,1384.5 1181.8,1384.7 1195.7,1385 1209.6,1385.3 1223.4,1385.5 1237.3,1385.8 1251.2,1386.1 1265,1386.3 1278.9,1386.6 1292.8,1386.9 1306.6,1387.2 1320.5,1387.4 1334.3,1387.7 1348.2,1388 1362.1,1388.2 1375.9,1388.5 1389.8,1388.7 1403.7,1389 1417.5,1389.2 1431.4,1389.3 1445.2,1389.6 1459.1,1389.9 1473,1390.4 1486.8,1391.1 1500.7,1392.4 1514.5,1395 1528.4,1398.9 1542.3,1404.1 1556.1,1406.5 1570,1407.3 1574.8,1407.5 1579.7,1407.8 1584.5,1408.2 1589.4,1408.7 1594.3,1409.4 1599.2,1410.2 1604,1411.4 1608.8,1412.9 1613.4,1414.7 1617.9,1417 1622.2,1419.7 1626,1423 1629.3,1426.7 1632.2,1430.9 1634.7,1435.3 1636.7,1439.9 1638.5,1444.6 1639.8,1449.3 1640.8,1454 1641.5,1458.7 1642,1463.3 1642.4,1467.8 1642.8,1472.1 1643.1,1476.2 1643.4,1480.3 1643.8,1484.3 1644.5,1488.2 1645.4,1492.1 1646.5,1496 1647.7,1500 1652.4,1512.7 1656,1525.5 1657.6,1538.2 1658.6,1551 1659.4,1563.7 1660,1576.4 1660.5,1589.2 1661,1601.9 1661.5,1614.7 1661.9,1627.4 1662.2,1640.1 1662.5,1652.9 1662.8,1665.6 1663.1,1678.4 1663.4,1691.1 1663.7,1703.8 1663.9,1716.6 1664.2,1729.3 1664.4,1742.1 1664.7,1754.8 1664.9,1767.5 1665.1,1780.3 1665.4,1793 1665.6,1805.8 1665.8,1818.5 1666,1831.2 1666.2,1844 1666.4,1856.7 1666.6,1869.5 1666.8,1882.2 1667,1894.9 1667.2,1907.7 1667.4,1920.4 1667.7,1933.2 1667.9,1945.9 1668.1,1958.6 1668.3,1971.4 1668.5,1984.1 1668.8,1996.9 1669,2009.6 1669,2011.6 1013.5,2011.6" fill="#ffffff"/>
</g>
<polyline points="1015.5,1345 1029.4,1345.2 1043.2,1345.3 1057.1,1345.4 1071,1345.6 1084.8,1345.7 1098.7,1345.9 1112.5,1346 1126.4,1346.1 1140.3,1346.3 1154.1,1346.4 1168,1346.6 1181.8,1346.7 1195.7,1346.9 1209.6,1347.1 1223.4,1347.2 1237.3,1347.4 1251.2,1347.6 1265,1347.8 1278.9,1348 1292.8,1348.2 1306.6,1348.5 1320.5,1348.7 1334.3,1348.9 1348.2,1349.2 1362.1,1349.4 1375.9,1349.7 1389.8,1350 1403.7,1350.3 1417.5,1350.6 1431.4,1351 1445.2,1351.4 1459.1,1351.8 1473,1352.3 1486.8,1352.9 1500.7,1353.7 1514.5,1354.4 1528.4,1355.2 1542.3,1356 1556.1,1357.1 1570,1358.3 1577.4,1359 1584.7,1360 1592,1361.1 1599.2,1362.4 1606.5,1363.9 1613.7,1365.5 1621,1367.2 1628.2,1369.2 1635.5,1371.4 1642.6,1374.2 1649.6,1377.5 1656.2,1381.4 1662.4,1385.9 1667.8,1391.4 1672.6,1397.4 1676.9,1403.8 1680.7,1410.4 1684,1417.2 1686.4,1424.4 1688.4,1431.6 1689.9,1438.9 1691.1,1446.1 1692.3,1453.1 1693.3,1459.9 1694.3,1466.7 1695.2,1473.4 1696,1480 1696.7,1486.7 1697.4,1493.3 1698,1500 1699,1512.7 1699.6,1525.5 1700.1,1538.2 1700.5,1551 1700.9,1563.7 1701.2,1576.4 1701.6,1589.2 1702,1601.9 1702.3,1614.7 1702.6,1627.4 1703,1640.1 1703.3,1652.9 1703.6,1665.6 1703.9,1678.4 1704.1,1691.1 1704.4,1703.8 1704.6,1716.6 1704.9,1729.3 1705.1,1742.1 1705.3,1754.8 1705.5,1767.5 1705.7,1780.3 1705.9,1793 1706.1,1805.8 1706.3,1818.5 1706.5,1831.2 1706.6,1844 1706.8,1856.7 1706.9,1869.5 1707.1,1882.2 1707.2,1894.9 1707.4,1907.7 1707.5,1920.4 1707.6,1933.2 1707.8,1945.9 1707.9,1958.6 1708,1971.4 1708.1,1984.1 1708.3,1996.9 1708.4,2009.6" fill="none" stroke="#0c2a26" stroke-width="2.6" stroke-dasharray="9.5 8.3" clip-path="url(#clip-d)"/>
<path class="ax" d="M1019.5 1236.9H1797.2M1019.5 1238.3V1222.9M1068.1 1238.3V1229.4M1116.7 1238.3V1222.9M1165.3 1238.3V1229.4M1213.9 1238.3V1222.9M1262.5 1238.3V1229.4M1311.1 1238.3V1222.9M1359.7 1238.3V1229.4M1408.3 1238.3V1222.9M1457 1238.3V1229.4M1505.6 1238.3V1222.9M1554.2 1238.3V1229.4M1602.8 1238.3V1222.9M1651.4 1238.3V1229.4M1700 1238.3V1222.9M1748.6 1238.3V1229.4M1797.2 1238.3V1222.9"/>
<path class="ax" style="stroke:#8f8f8f" d="M1019.5 1260.3V2007"/>
<path class="ax" d="M1018.1 2005.6H1797.2M1820.8 1258.9V2007M1819.4 2005.6H1834.3M1819.4 1959H1827.8M1819.4 1912.4H1834.3M1819.4 1865.9H1827.8M1819.4 1819.3H1834.3M1819.4 1772.7H1827.8M1819.4 1726.1H1834.3M1819.4 1679.5H1827.8M1819.4 1632.9H1834.3M1819.4 1586.4H1827.8M1819.4 1539.8H1834.3M1819.4 1493.2H1827.8M1819.4 1446.6H1834.3M1819.4 1400H1827.8M1819.4 1353.5H1834.3M1819.4 1306.9H1827.8M1819.4 1260.3H1834.3"/>
<text class="tk" x="1010.6" y="1204.1" textLength="18.8" lengthAdjust="spacingAndGlyphs">0</text>
<text class="tk" x="1846" y="2019.2" textLength="18.8" lengthAdjust="spacingAndGlyphs">0</text>
<text class="tk" x="1098.3" y="1204.1" textLength="37.8" lengthAdjust="spacingAndGlyphs">10</text>
<text class="tk" x="1846" y="1926" textLength="37.8" lengthAdjust="spacingAndGlyphs">10</text>
<text class="tk" x="1195.5" y="1204.1" textLength="37.8" lengthAdjust="spacingAndGlyphs">20</text>
<text class="tk" x="1846" y="1832.9" textLength="37.8" lengthAdjust="spacingAndGlyphs">20</text>
<text class="tk" x="1292.7" y="1204.1" textLength="37.8" lengthAdjust="spacingAndGlyphs">30</text>
<text class="tk" x="1846" y="1739.7" textLength="37.8" lengthAdjust="spacingAndGlyphs">30</text>
<text class="tk" x="1389.9" y="1204.1" textLength="37.8" lengthAdjust="spacingAndGlyphs">40</text>
<text class="tk" x="1846" y="1646.5" textLength="37.8" lengthAdjust="spacingAndGlyphs">40</text>
<text class="tk" x="1487.2" y="1204.1" textLength="37.8" lengthAdjust="spacingAndGlyphs">50</text>
<text class="tk" x="1846" y="1553.4" textLength="37.8" lengthAdjust="spacingAndGlyphs">50</text>
<text class="tk" x="1584.4" y="1204.1" textLength="37.8" lengthAdjust="spacingAndGlyphs">60</text>
<text class="tk" x="1846" y="1460.2" textLength="37.8" lengthAdjust="spacingAndGlyphs">60</text>
<text class="tk" x="1681.6" y="1204.1" textLength="37.8" lengthAdjust="spacingAndGlyphs">70</text>
<text class="tk" x="1846" y="1367.1" textLength="37.8" lengthAdjust="spacingAndGlyphs">70</text>
<text class="tk" x="1778.8" y="1204.1" textLength="37.8" lengthAdjust="spacingAndGlyphs">80</text>
<text class="tk" x="1846" y="1273.9" textLength="37.8" lengthAdjust="spacingAndGlyphs">80</text>
<text class="t" x="1409.1" y="1168.6" text-anchor="middle" textLength="218" lengthAdjust="spacingAndGlyphs">X-Width, mm</text>
<text class="t" transform="translate(1914.1 1632.9) rotate(-90)" text-anchor="middle" textLength="215" lengthAdjust="spacingAndGlyphs">Y-Width, mm</text>
<text class="cap" x="1236.6" y="2053">(d) <tspan font-style="italic">L</tspan>=1400 mm</text>
<path class="rl" d="M1082 1258.5H1164.3M1082 1345.6H1164.3M1121.4 1258.5V1345.6"/>
<path class="rl" d="M1741 1258.4L1803 1320.7M1769 1290L1666.7 1390.6M1632.6 1357.3L1694.7 1418.1"/>
<text class="r" x="1127.8" y="1312.8" textLength="142.1" lengthAdjust="spacingAndGlyphs">9.15 mm</text>
<text class="r" x="1558.5" y="1329.7" textLength="160.1" lengthAdjust="spacingAndGlyphs">15.74 mm</text>
</g>
</svg></body></html>
